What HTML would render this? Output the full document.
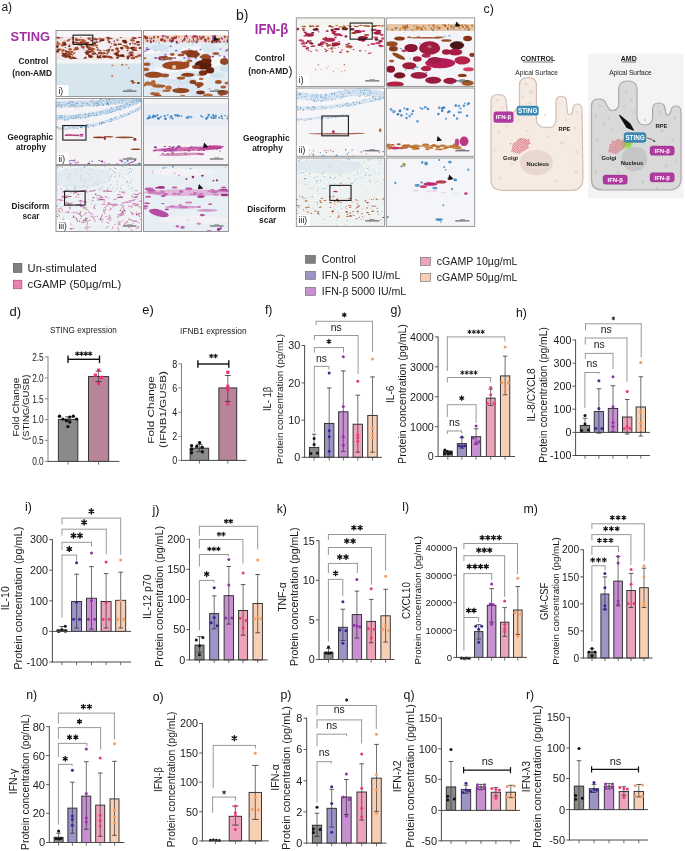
<!DOCTYPE html>
<html><head><meta charset="utf-8"><title>Figure</title>
<style>html,body{margin:0;padding:0;background:#ffffff;} svg{display:block;will-change:transform;} text{font-family:"Liberation Sans", sans-serif;}</style>
</head><body>
<svg width="685" height="851" viewBox="0 0 685 851" font-family="Liberation Sans, sans-serif">
<defs><filter id="bl35" x="-5%" y="-5%" width="110%" height="110%"><feGaussianBlur stdDeviation="0.35"/></filter><filter id="bl50" x="-5%" y="-5%" width="110%" height="110%"><feGaussianBlur stdDeviation="0.5"/></filter><filter id="bl70" x="-5%" y="-5%" width="110%" height="110%"><feGaussianBlur stdDeviation="0.7"/></filter></defs>
<rect x="0" y="0" width="685" height="851" fill="#ffffff"/>
<clipPath id="c11"><rect x="56.00" y="30.50" width="85.60" height="66.10"/></clipPath>
<g clip-path="url(#c11)">
<g filter="url(#bl35)">
<rect x="56.00" y="30.50" width="85.60" height="7.11" fill="#f6f4f6"/>
<rect x="56.00" y="37.11" width="85.60" height="22.97" fill="#f0e6e6"/>
<rect x="56.00" y="59.58" width="85.60" height="4.47" fill="#f2f4f6"/>
<rect x="56.00" y="63.55" width="85.60" height="33.55" fill="#d6e5ee"/>
<ellipse cx="94.7" cy="38.6" rx="2.26" ry="0.77" fill="#b5652e" opacity="1.0" transform="rotate(0 94.7 38.6)"/>
<ellipse cx="99.8" cy="38.8" rx="1.57" ry="0.72" fill="#c06a50" opacity="1.0" transform="rotate(0 99.8 38.8)"/>
<ellipse cx="102.1" cy="39.5" rx="2.09" ry="0.65" fill="#9a3a5a" opacity="1.0" transform="rotate(0 102.1 39.5)"/>
<ellipse cx="112.0" cy="38.7" rx="0.94" ry="0.46" fill="#a0402a" opacity="1.0" transform="rotate(0 112.0 38.7)"/>
<ellipse cx="72.3" cy="37.7" rx="1.21" ry="0.41" fill="#9a3a5a" opacity="1.0" transform="rotate(0 72.3 37.7)"/>
<ellipse cx="72.7" cy="37.7" rx="1.04" ry="0.52" fill="#a0402a" opacity="1.0" transform="rotate(0 72.7 37.7)"/>
<ellipse cx="79.8" cy="39.7" rx="2.94" ry="0.80" fill="#c06a50" opacity="1.0" transform="rotate(0 79.8 39.7)"/>
<ellipse cx="75.7" cy="37.9" rx="1.51" ry="0.43" fill="#9a3a5a" opacity="1.0" transform="rotate(0 75.7 37.9)"/>
<ellipse cx="80.9" cy="37.3" rx="1.37" ry="0.41" fill="#b5652e" opacity="1.0" transform="rotate(0 80.9 37.3)"/>
<ellipse cx="133.9" cy="38.4" rx="2.21" ry="0.79" fill="#a0402a" opacity="1.0" transform="rotate(0 133.9 38.4)"/>
<ellipse cx="73.0" cy="38.9" rx="1.40" ry="0.53" fill="#a0402a" opacity="1.0" transform="rotate(0 73.0 38.9)"/>
<ellipse cx="120.9" cy="37.4" rx="1.10" ry="0.50" fill="#a0402a" opacity="1.0" transform="rotate(0 120.9 37.4)"/>
<ellipse cx="97.7" cy="38.9" rx="1.43" ry="0.48" fill="#b5652e" opacity="1.0" transform="rotate(0 97.7 38.9)"/>
<ellipse cx="88.8" cy="38.2" rx="1.59" ry="0.80" fill="#c06a50" opacity="1.0" transform="rotate(0 88.8 38.2)"/>
<ellipse cx="57.7" cy="37.6" rx="2.56" ry="0.80" fill="#a0402a" opacity="1.0" transform="rotate(0 57.7 37.6)"/>
<ellipse cx="68.5" cy="38.3" rx="1.30" ry="0.40" fill="#c06a50" opacity="1.0" transform="rotate(0 68.5 38.3)"/>
<ellipse cx="62.4" cy="37.7" rx="1.33" ry="0.65" fill="#c06a50" opacity="1.0" transform="rotate(0 62.4 37.7)"/>
<ellipse cx="94.8" cy="39.6" rx="1.87" ry="0.59" fill="#9a3a5a" opacity="1.0" transform="rotate(0 94.8 39.6)"/>
<ellipse cx="69.2" cy="39.5" rx="1.82" ry="0.73" fill="#b5652e" opacity="1.0" transform="rotate(0 69.2 39.5)"/>
<ellipse cx="109.8" cy="38.6" rx="1.87" ry="0.67" fill="#9a3a5a" opacity="1.0" transform="rotate(0 109.8 38.6)"/>
<ellipse cx="92.1" cy="37.4" rx="1.63" ry="0.42" fill="#b5652e" opacity="1.0" transform="rotate(0 92.1 37.4)"/>
<ellipse cx="89.5" cy="38.2" rx="2.27" ry="0.76" fill="#b5652e" opacity="1.0" transform="rotate(0 89.5 38.2)"/>
<ellipse cx="139.6" cy="37.4" rx="1.96" ry="0.59" fill="#a0402a" opacity="1.0" transform="rotate(0 139.6 37.4)"/>
<ellipse cx="134.5" cy="37.6" rx="1.03" ry="0.41" fill="#9a3a5a" opacity="1.0" transform="rotate(0 134.5 37.6)"/>
<ellipse cx="60.0" cy="37.9" rx="2.42" ry="0.61" fill="#a0402a" opacity="1.0" transform="rotate(0 60.0 37.9)"/>
<ellipse cx="132.3" cy="39.7" rx="2.24" ry="0.66" fill="#b5652e" opacity="1.0" transform="rotate(0 132.3 39.7)"/>
<ellipse cx="135.1" cy="38.4" rx="1.42" ry="0.54" fill="#a0402a" opacity="1.0" transform="rotate(0 135.1 38.4)"/>
<ellipse cx="110.5" cy="38.4" rx="1.83" ry="0.69" fill="#a0402a" opacity="1.0" transform="rotate(0 110.5 38.4)"/>
<ellipse cx="102.7" cy="39.1" rx="2.64" ry="0.76" fill="#b5652e" opacity="1.0" transform="rotate(0 102.7 39.1)"/>
<ellipse cx="134.3" cy="38.0" rx="2.56" ry="0.67" fill="#9a3a5a" opacity="1.0" transform="rotate(0 134.3 38.0)"/>
<ellipse cx="58.6" cy="38.4" rx="1.35" ry="0.41" fill="#9a3a5a" opacity="1.0" transform="rotate(0 58.6 38.4)"/>
<ellipse cx="108.1" cy="37.3" rx="2.61" ry="0.66" fill="#9a3a5a" opacity="1.0" transform="rotate(0 108.1 37.3)"/>
<ellipse cx="89.3" cy="39.1" rx="1.82" ry="0.63" fill="#a0402a" opacity="1.0" transform="rotate(0 89.3 39.1)"/>
<ellipse cx="100.0" cy="37.9" rx="0.89" ry="0.44" fill="#a0402a" opacity="1.0" transform="rotate(0 100.0 37.9)"/>
<ellipse cx="108.6" cy="39.5" rx="1.02" ry="0.50" fill="#c06a50" opacity="1.0" transform="rotate(0 108.6 39.5)"/>
<ellipse cx="108.4" cy="38.5" rx="1.88" ry="0.70" fill="#9a3a5a" opacity="1.0" transform="rotate(0 108.4 38.5)"/>
<ellipse cx="76.7" cy="38.2" rx="1.63" ry="0.50" fill="#b5652e" opacity="1.0" transform="rotate(0 76.7 38.2)"/>
<ellipse cx="88.9" cy="38.7" rx="1.20" ry="0.53" fill="#9a3a5a" opacity="1.0" transform="rotate(0 88.9 38.7)"/>
<ellipse cx="132.7" cy="37.2" rx="1.69" ry="0.43" fill="#b5652e" opacity="1.0" transform="rotate(0 132.7 37.2)"/>
<ellipse cx="96.3" cy="39.6" rx="2.03" ry="0.73" fill="#9a3a5a" opacity="1.0" transform="rotate(0 96.3 39.6)"/>
<ellipse cx="117.3" cy="55.3" rx="1.52" ry="1.10" fill="#8a3020" opacity="1.0" transform="rotate(0 117.3 55.3)"/>
<ellipse cx="108.0" cy="52.3" rx="1.18" ry="0.82" fill="#b05a30" opacity="1.0" transform="rotate(0 108.0 52.3)"/>
<ellipse cx="57.6" cy="42.3" rx="0.99" ry="0.96" fill="#a04a28" opacity="1.0" transform="rotate(0 57.6 42.3)"/>
<ellipse cx="68.1" cy="40.6" rx="1.69" ry="1.10" fill="#b05a30" opacity="1.0" transform="rotate(0 68.1 40.6)"/>
<ellipse cx="110.8" cy="46.6" rx="0.82" ry="0.66" fill="#9a3a20" opacity="1.0" transform="rotate(0 110.8 46.6)"/>
<ellipse cx="117.1" cy="53.7" rx="1.07" ry="1.03" fill="#7a2a18" opacity="1.0" transform="rotate(0 117.1 53.7)"/>
<ellipse cx="85.6" cy="52.7" rx="1.77" ry="1.02" fill="#7a2a18" opacity="1.0" transform="rotate(0 85.6 52.7)"/>
<ellipse cx="123.8" cy="56.5" rx="1.42" ry="0.67" fill="#b05a30" opacity="1.0" transform="rotate(0 123.8 56.5)"/>
<ellipse cx="94.6" cy="43.4" rx="1.32" ry="1.31" fill="#6a2010" opacity="1.0" transform="rotate(0 94.6 43.4)"/>
<ellipse cx="131.3" cy="54.5" rx="2.11" ry="1.36" fill="#b05a30" opacity="1.0" transform="rotate(0 131.3 54.5)"/>
<ellipse cx="64.5" cy="55.8" rx="2.61" ry="1.24" fill="#8a3020" opacity="1.0" transform="rotate(0 64.5 55.8)"/>
<ellipse cx="133.0" cy="57.9" rx="2.27" ry="1.38" fill="#a04a28" opacity="1.0" transform="rotate(0 133.0 57.9)"/>
<ellipse cx="117.5" cy="40.0" rx="1.05" ry="1.00" fill="#a04a28" opacity="1.0" transform="rotate(0 117.5 40.0)"/>
<ellipse cx="121.8" cy="48.8" rx="1.23" ry="0.62" fill="#8a3020" opacity="1.0" transform="rotate(0 121.8 48.8)"/>
<ellipse cx="59.0" cy="49.6" rx="2.41" ry="1.15" fill="#9a3a20" opacity="1.0" transform="rotate(0 59.0 49.6)"/>
<ellipse cx="100.2" cy="53.1" rx="2.32" ry="1.27" fill="#9a3a20" opacity="1.0" transform="rotate(0 100.2 53.1)"/>
<ellipse cx="115.0" cy="53.8" rx="1.59" ry="0.95" fill="#b05a30" opacity="1.0" transform="rotate(0 115.0 53.8)"/>
<ellipse cx="70.1" cy="49.3" rx="1.73" ry="1.33" fill="#b05a30" opacity="1.0" transform="rotate(0 70.1 49.3)"/>
<ellipse cx="128.4" cy="56.4" rx="1.55" ry="0.77" fill="#6a2010" opacity="1.0" transform="rotate(0 128.4 56.4)"/>
<ellipse cx="105.0" cy="43.5" rx="1.65" ry="1.03" fill="#6a2010" opacity="1.0" transform="rotate(0 105.0 43.5)"/>
<ellipse cx="102.1" cy="40.6" rx="2.20" ry="1.33" fill="#6a2010" opacity="1.0" transform="rotate(0 102.1 40.6)"/>
<ellipse cx="64.0" cy="42.8" rx="2.09" ry="1.34" fill="#9a3a20" opacity="1.0" transform="rotate(0 64.0 42.8)"/>
<ellipse cx="96.5" cy="42.1" rx="1.87" ry="0.95" fill="#9a3a20" opacity="1.0" transform="rotate(0 96.5 42.1)"/>
<ellipse cx="65.3" cy="47.5" rx="0.82" ry="0.62" fill="#b05a30" opacity="1.0" transform="rotate(0 65.3 47.5)"/>
<ellipse cx="58.0" cy="43.3" rx="1.43" ry="0.78" fill="#a04a28" opacity="1.0" transform="rotate(0 58.0 43.3)"/>
<ellipse cx="76.9" cy="49.0" rx="1.70" ry="1.00" fill="#6a2010" opacity="1.0" transform="rotate(0 76.9 49.0)"/>
<ellipse cx="117.4" cy="52.7" rx="1.34" ry="1.30" fill="#b05a30" opacity="1.0" transform="rotate(0 117.4 52.7)"/>
<ellipse cx="101.3" cy="42.7" rx="1.34" ry="0.76" fill="#b05a30" opacity="1.0" transform="rotate(0 101.3 42.7)"/>
<ellipse cx="74.5" cy="49.8" rx="1.24" ry="1.07" fill="#b05a30" opacity="1.0" transform="rotate(0 74.5 49.8)"/>
<ellipse cx="85.8" cy="43.1" rx="2.24" ry="1.08" fill="#7a2a18" opacity="1.0" transform="rotate(0 85.8 43.1)"/>
<ellipse cx="141.5" cy="56.2" rx="0.91" ry="0.71" fill="#b05a30" opacity="1.0" transform="rotate(0 141.5 56.2)"/>
<ellipse cx="89.2" cy="47.8" rx="2.23" ry="1.35" fill="#b05a30" opacity="1.0" transform="rotate(0 89.2 47.8)"/>
<ellipse cx="90.5" cy="52.4" rx="0.76" ry="0.61" fill="#b05a30" opacity="1.0" transform="rotate(0 90.5 52.4)"/>
<ellipse cx="126.3" cy="46.4" rx="2.05" ry="1.16" fill="#a04a28" opacity="1.0" transform="rotate(0 126.3 46.4)"/>
<ellipse cx="114.7" cy="43.3" rx="0.74" ry="0.66" fill="#8a3020" opacity="1.0" transform="rotate(0 114.7 43.3)"/>
<ellipse cx="108.5" cy="56.5" rx="1.21" ry="0.99" fill="#8a3020" opacity="1.0" transform="rotate(0 108.5 56.5)"/>
<ellipse cx="127.9" cy="58.1" rx="1.49" ry="1.34" fill="#8a3020" opacity="1.0" transform="rotate(0 127.9 58.1)"/>
<ellipse cx="114.3" cy="41.2" rx="1.00" ry="0.68" fill="#9a3a20" opacity="1.0" transform="rotate(0 114.3 41.2)"/>
<ellipse cx="92.8" cy="50.9" rx="1.12" ry="0.61" fill="#7a2a18" opacity="1.0" transform="rotate(0 92.8 50.9)"/>
<ellipse cx="94.9" cy="53.4" rx="1.14" ry="0.92" fill="#7a2a18" opacity="1.0" transform="rotate(0 94.9 53.4)"/>
<ellipse cx="123.8" cy="45.7" rx="1.34" ry="0.67" fill="#b05a30" opacity="1.0" transform="rotate(0 123.8 45.7)"/>
<ellipse cx="104.8" cy="43.3" rx="1.50" ry="1.07" fill="#a04a28" opacity="1.0" transform="rotate(0 104.8 43.3)"/>
<ellipse cx="66.0" cy="53.5" rx="1.54" ry="0.73" fill="#7a2a18" opacity="1.0" transform="rotate(0 66.0 53.5)"/>
<ellipse cx="131.3" cy="52.6" rx="2.33" ry="1.21" fill="#9a3a20" opacity="1.0" transform="rotate(0 131.3 52.6)"/>
<ellipse cx="71.8" cy="54.5" rx="0.94" ry="0.84" fill="#a04a28" opacity="1.0" transform="rotate(0 71.8 54.5)"/>
<ellipse cx="133.3" cy="40.7" rx="1.76" ry="0.82" fill="#a04a28" opacity="1.0" transform="rotate(0 133.3 40.7)"/>
<ellipse cx="112.5" cy="50.3" rx="1.51" ry="1.03" fill="#9a3a20" opacity="1.0" transform="rotate(0 112.5 50.3)"/>
<ellipse cx="116.0" cy="53.9" rx="1.42" ry="1.38" fill="#6a2010" opacity="1.0" transform="rotate(0 116.0 53.9)"/>
<ellipse cx="76.3" cy="48.0" rx="1.92" ry="1.00" fill="#b05a30" opacity="1.0" transform="rotate(0 76.3 48.0)"/>
<ellipse cx="64.4" cy="44.4" rx="2.20" ry="1.32" fill="#6a2010" opacity="1.0" transform="rotate(0 64.4 44.4)"/>
<ellipse cx="100.6" cy="55.4" rx="1.04" ry="0.68" fill="#b05a30" opacity="1.0" transform="rotate(0 100.6 55.4)"/>
<ellipse cx="107.1" cy="53.8" rx="1.35" ry="0.64" fill="#7a2a18" opacity="1.0" transform="rotate(0 107.1 53.8)"/>
<ellipse cx="139.0" cy="55.6" rx="1.77" ry="1.03" fill="#9a3a20" opacity="1.0" transform="rotate(0 139.0 55.6)"/>
<ellipse cx="92.0" cy="49.5" rx="1.55" ry="1.08" fill="#a04a28" opacity="1.0" transform="rotate(0 92.0 49.5)"/>
<ellipse cx="79.1" cy="57.0" rx="2.15" ry="1.13" fill="#8a3020" opacity="1.0" transform="rotate(0 79.1 57.0)"/>
<ellipse cx="77.0" cy="40.5" rx="1.38" ry="0.73" fill="#9a3a20" opacity="1.0" transform="rotate(0 77.0 40.5)"/>
<ellipse cx="83.0" cy="47.1" rx="1.99" ry="1.07" fill="#a04a28" opacity="1.0" transform="rotate(0 83.0 47.1)"/>
<ellipse cx="133.5" cy="47.7" rx="2.13" ry="0.98" fill="#7a2a18" opacity="1.0" transform="rotate(0 133.5 47.7)"/>
<ellipse cx="64.4" cy="54.7" rx="1.56" ry="1.33" fill="#7a2a18" opacity="1.0" transform="rotate(0 64.4 54.7)"/>
<ellipse cx="65.9" cy="51.3" rx="1.20" ry="0.96" fill="#8a3020" opacity="1.0" transform="rotate(0 65.9 51.3)"/>
<ellipse cx="69.2" cy="46.5" rx="1.07" ry="0.71" fill="#6a2010" opacity="1.0" transform="rotate(0 69.2 46.5)"/>
<ellipse cx="105.8" cy="47.5" rx="2.00" ry="1.22" fill="#7a2a18" opacity="1.0" transform="rotate(0 105.8 47.5)"/>
<ellipse cx="118.9" cy="44.2" rx="1.43" ry="0.69" fill="#6a2010" opacity="1.0" transform="rotate(0 118.9 44.2)"/>
<ellipse cx="86.7" cy="44.8" rx="1.93" ry="1.15" fill="#6a2010" opacity="1.0" transform="rotate(0 86.7 44.8)"/>
<ellipse cx="79.9" cy="44.2" rx="2.18" ry="1.36" fill="#b05a30" opacity="1.0" transform="rotate(0 79.9 44.2)"/>
<ellipse cx="131.2" cy="40.5" rx="0.86" ry="0.65" fill="#9a3a20" opacity="1.0" transform="rotate(0 131.2 40.5)"/>
<ellipse cx="59.3" cy="43.9" rx="1.57" ry="0.82" fill="#b05a30" opacity="1.0" transform="rotate(0 59.3 43.9)"/>
<ellipse cx="76.1" cy="57.9" rx="1.41" ry="0.99" fill="#a04a28" opacity="1.0" transform="rotate(0 76.1 57.9)"/>
<ellipse cx="119.8" cy="55.3" rx="0.75" ry="0.66" fill="#6a2010" opacity="1.0" transform="rotate(0 119.8 55.3)"/>
<ellipse cx="121.8" cy="48.0" rx="1.76" ry="1.20" fill="#7a2a18" opacity="1.0" transform="rotate(0 121.8 48.0)"/>
<ellipse cx="112.0" cy="58.1" rx="1.43" ry="0.86" fill="#b05a30" opacity="1.0" transform="rotate(0 112.0 58.1)"/>
<ellipse cx="71.7" cy="51.9" rx="1.65" ry="1.06" fill="#a04a28" opacity="1.0" transform="rotate(0 71.7 51.9)"/>
<ellipse cx="63.1" cy="50.2" rx="1.80" ry="0.99" fill="#a04a28" opacity="1.0" transform="rotate(0 63.1 50.2)"/>
<ellipse cx="56.8" cy="45.5" rx="2.29" ry="1.33" fill="#b05a30" opacity="1.0" transform="rotate(0 56.8 45.5)"/>
<ellipse cx="118.1" cy="52.6" rx="0.97" ry="0.83" fill="#a04a28" opacity="1.0" transform="rotate(0 118.1 52.6)"/>
<ellipse cx="84.0" cy="56.5" rx="1.31" ry="0.86" fill="#6a2010" opacity="1.0" transform="rotate(0 84.0 56.5)"/>
<ellipse cx="136.5" cy="56.7" rx="1.87" ry="0.95" fill="#a04a28" opacity="1.0" transform="rotate(0 136.5 56.7)"/>
<ellipse cx="74.9" cy="57.7" rx="1.92" ry="1.18" fill="#8a3020" opacity="1.0" transform="rotate(0 74.9 57.7)"/>
<ellipse cx="87.3" cy="46.5" rx="1.34" ry="0.92" fill="#7a2a18" opacity="1.0" transform="rotate(0 87.3 46.5)"/>
<ellipse cx="87.5" cy="47.0" rx="1.24" ry="0.72" fill="#7a2a18" opacity="1.0" transform="rotate(0 87.5 47.0)"/>
<ellipse cx="121.0" cy="56.1" rx="0.85" ry="0.83" fill="#6a2010" opacity="1.0" transform="rotate(0 121.0 56.1)"/>
<ellipse cx="69.6" cy="45.2" rx="1.24" ry="0.62" fill="#9a3a20" opacity="1.0" transform="rotate(0 69.6 45.2)"/>
<ellipse cx="102.8" cy="54.3" rx="0.73" ry="0.67" fill="#b05a30" opacity="1.0" transform="rotate(0 102.8 54.3)"/>
<ellipse cx="82.9" cy="40.2" rx="1.25" ry="1.12" fill="#b05a30" opacity="1.0" transform="rotate(0 82.9 40.2)"/>
<ellipse cx="117.0" cy="48.8" rx="1.86" ry="1.33" fill="#9a3a20" opacity="1.0" transform="rotate(0 117.0 48.8)"/>
<ellipse cx="84.9" cy="57.7" rx="1.81" ry="1.14" fill="#6a2010" opacity="1.0" transform="rotate(0 84.9 57.7)"/>
<ellipse cx="62.2" cy="51.2" rx="1.22" ry="0.64" fill="#b05a30" opacity="1.0" transform="rotate(0 62.2 51.2)"/>
<ellipse cx="56.3" cy="46.7" rx="1.05" ry="0.67" fill="#6a2010" opacity="1.0" transform="rotate(0 56.3 46.7)"/>
<ellipse cx="100.8" cy="52.9" rx="1.87" ry="1.24" fill="#9a3a20" opacity="1.0" transform="rotate(0 100.8 52.9)"/>
<ellipse cx="77.0" cy="42.8" rx="2.02" ry="1.11" fill="#a04a28" opacity="1.0" transform="rotate(0 77.0 42.8)"/>
<ellipse cx="92.4" cy="45.2" rx="1.47" ry="1.38" fill="#a04a28" opacity="1.0" transform="rotate(0 92.4 45.2)"/>
<ellipse cx="82.0" cy="42.6" rx="2.80" ry="1.34" fill="#9a3a20" opacity="1.0" transform="rotate(0 82.0 42.6)"/>
<ellipse cx="97.2" cy="54.6" rx="1.05" ry="0.85" fill="#a04a28" opacity="1.0" transform="rotate(0 97.2 54.6)"/>
<ellipse cx="76.2" cy="53.0" rx="1.36" ry="1.08" fill="#7a2a18" opacity="1.0" transform="rotate(0 76.2 53.0)"/>
<ellipse cx="90.5" cy="56.6" rx="2.37" ry="1.35" fill="#6a2010" opacity="1.0" transform="rotate(0 90.5 56.6)"/>
<ellipse cx="78.3" cy="56.2" rx="1.88" ry="1.33" fill="#6a2010" opacity="1.0" transform="rotate(0 78.3 56.2)"/>
<ellipse cx="63.9" cy="55.7" rx="1.16" ry="0.92" fill="#7a2a18" opacity="1.0" transform="rotate(0 63.9 55.7)"/>
<ellipse cx="89.0" cy="49.5" rx="1.35" ry="1.01" fill="#8a3020" opacity="1.0" transform="rotate(0 89.0 49.5)"/>
<ellipse cx="76.3" cy="40.0" rx="1.41" ry="0.98" fill="#7a2a18" opacity="1.0" transform="rotate(0 76.3 40.0)"/>
<ellipse cx="107.9" cy="42.7" rx="1.01" ry="0.73" fill="#a04a28" opacity="1.0" transform="rotate(0 107.9 42.7)"/>
<ellipse cx="125.3" cy="42.2" rx="2.08" ry="1.19" fill="#6a2010" opacity="1.0" transform="rotate(0 125.3 42.2)"/>
<ellipse cx="68.9" cy="54.0" rx="1.19" ry="0.60" fill="#7a2a18" opacity="1.0" transform="rotate(0 68.9 54.0)"/>
<ellipse cx="63.1" cy="44.7" rx="1.31" ry="1.17" fill="#9a3a20" opacity="1.0" transform="rotate(0 63.1 44.7)"/>
<ellipse cx="63.1" cy="53.6" rx="1.66" ry="1.03" fill="#8a3020" opacity="1.0" transform="rotate(0 63.1 53.6)"/>
<ellipse cx="91.7" cy="56.7" rx="1.34" ry="0.67" fill="#7a2a18" opacity="1.0" transform="rotate(0 91.7 56.7)"/>
<ellipse cx="91.4" cy="48.9" rx="2.93" ry="1.36" fill="#a04a28" opacity="1.0" transform="rotate(0 91.4 48.9)"/>
<ellipse cx="62.5" cy="45.4" rx="1.81" ry="0.97" fill="#a04a28" opacity="1.0" transform="rotate(0 62.5 45.4)"/>
<ellipse cx="68.0" cy="52.1" rx="2.16" ry="1.14" fill="#8a3020" opacity="1.0" transform="rotate(0 68.0 52.1)"/>
<ellipse cx="57.1" cy="46.7" rx="1.50" ry="1.17" fill="#6a2010" opacity="1.0" transform="rotate(0 57.1 46.7)"/>
<ellipse cx="122.1" cy="55.6" rx="2.38" ry="1.28" fill="#6a2010" opacity="1.0" transform="rotate(0 122.1 55.6)"/>
<ellipse cx="109.7" cy="57.1" rx="2.57" ry="1.20" fill="#9a3a20" opacity="1.0" transform="rotate(0 109.7 57.1)"/>
<ellipse cx="63.4" cy="43.2" rx="1.02" ry="0.90" fill="#a04a28" opacity="1.0" transform="rotate(0 63.4 43.2)"/>
<ellipse cx="104.2" cy="53.1" rx="1.72" ry="0.87" fill="#8a3020" opacity="1.0" transform="rotate(0 104.2 53.1)"/>
<ellipse cx="109.2" cy="42.2" rx="1.34" ry="1.10" fill="#7a2a18" opacity="1.0" transform="rotate(0 109.2 42.2)"/>
<ellipse cx="127.6" cy="50.7" rx="0.85" ry="0.67" fill="#7a2a18" opacity="1.0" transform="rotate(0 127.6 50.7)"/>
<ellipse cx="93.1" cy="54.0" rx="1.74" ry="0.87" fill="#6a2010" opacity="1.0" transform="rotate(0 93.1 54.0)"/>
<ellipse cx="73.6" cy="42.5" rx="1.82" ry="1.15" fill="#9a3a20" opacity="1.0" transform="rotate(0 73.6 42.5)"/>
<ellipse cx="118.2" cy="51.1" rx="1.66" ry="0.85" fill="#7a2a18" opacity="1.0" transform="rotate(0 118.2 51.1)"/>
<ellipse cx="108.1" cy="40.1" rx="1.22" ry="0.86" fill="#b05a30" opacity="1.0" transform="rotate(0 108.1 40.1)"/>
<ellipse cx="103.7" cy="43.5" rx="1.17" ry="0.87" fill="#8a3020" opacity="1.0" transform="rotate(0 103.7 43.5)"/>
<ellipse cx="69.6" cy="53.9" rx="2.19" ry="1.32" fill="#a04a28" opacity="1.0" transform="rotate(0 69.6 53.9)"/>
<ellipse cx="100.0" cy="50.4" rx="1.61" ry="0.76" fill="#b05a30" opacity="1.0" transform="rotate(0 100.0 50.4)"/>
<ellipse cx="136.1" cy="50.3" rx="1.11" ry="0.62" fill="#8a3020" opacity="1.0" transform="rotate(0 136.1 50.3)"/>
<ellipse cx="96.9" cy="47.5" rx="0.96" ry="0.87" fill="#a04a28" opacity="1.0" transform="rotate(0 96.9 47.5)"/>
<ellipse cx="131.6" cy="48.1" rx="1.52" ry="1.18" fill="#6a2010" opacity="1.0" transform="rotate(0 131.6 48.1)"/>
<ellipse cx="104.0" cy="50.1" rx="1.70" ry="0.81" fill="#a04a28" opacity="1.0" transform="rotate(0 104.0 50.1)"/>
<ellipse cx="66.5" cy="55.0" rx="1.73" ry="0.83" fill="#7a2a18" opacity="1.0" transform="rotate(0 66.5 55.0)"/>
<ellipse cx="87.1" cy="42.8" rx="2.13" ry="1.08" fill="#9a3a20" opacity="1.0" transform="rotate(0 87.1 42.8)"/>
<ellipse cx="71.4" cy="58.0" rx="2.42" ry="1.35" fill="#a04a28" opacity="1.0" transform="rotate(0 71.4 58.0)"/>
<ellipse cx="128.5" cy="56.5" rx="1.93" ry="1.09" fill="#8a3020" opacity="1.0" transform="rotate(0 128.5 56.5)"/>
<ellipse cx="91.3" cy="40.4" rx="1.17" ry="1.02" fill="#9a3a20" opacity="1.0" transform="rotate(0 91.3 40.4)"/>
<ellipse cx="100.5" cy="44.6" rx="1.47" ry="1.05" fill="#b05a30" opacity="1.0" transform="rotate(0 100.5 44.6)"/>
<ellipse cx="117.8" cy="54.3" rx="1.47" ry="0.92" fill="#8a3020" opacity="1.0" transform="rotate(0 117.8 54.3)"/>
<ellipse cx="91.2" cy="51.3" rx="2.20" ry="1.15" fill="#a04a28" opacity="1.0" transform="rotate(0 91.2 51.3)"/>
<ellipse cx="141.1" cy="55.3" rx="1.91" ry="1.28" fill="#9a3a20" opacity="1.0" transform="rotate(0 141.1 55.3)"/>
<ellipse cx="65.8" cy="57.1" rx="1.40" ry="0.86" fill="#9a3a20" opacity="1.0" transform="rotate(0 65.8 57.1)"/>
<ellipse cx="83.5" cy="40.8" rx="2.46" ry="1.18" fill="#b05a30" opacity="1.0" transform="rotate(0 83.5 40.8)"/>
<ellipse cx="83.6" cy="54.4" rx="2.68" ry="1.31" fill="#7a2a18" opacity="1.0" transform="rotate(0 83.6 54.4)"/>
<ellipse cx="94.3" cy="49.1" rx="0.97" ry="0.92" fill="#b05a30" opacity="1.0" transform="rotate(0 94.3 49.1)"/>
<ellipse cx="133.9" cy="49.8" rx="2.40" ry="1.13" fill="#8a3020" opacity="1.0" transform="rotate(0 133.9 49.8)"/>
<ellipse cx="118.6" cy="55.9" rx="1.48" ry="0.90" fill="#6a2010" opacity="1.0" transform="rotate(0 118.6 55.9)"/>
<ellipse cx="75.0" cy="53.6" rx="2.20" ry="1.05" fill="#8a3020" opacity="1.0" transform="rotate(0 75.0 53.6)"/>
<ellipse cx="67.1" cy="56.1" rx="1.64" ry="1.06" fill="#a04a28" opacity="1.0" transform="rotate(0 67.1 56.1)"/>
<ellipse cx="81.6" cy="45.8" rx="1.35" ry="0.65" fill="#6a2010" opacity="1.0" transform="rotate(0 81.6 45.8)"/>
<ellipse cx="86.5" cy="50.6" rx="0.66" ry="0.64" fill="#a04a28" opacity="1.0" transform="rotate(0 86.5 50.6)"/>
<ellipse cx="98.7" cy="57.0" rx="2.17" ry="1.38" fill="#7a2a18" opacity="1.0" transform="rotate(0 98.7 57.0)"/>
<ellipse cx="129.5" cy="52.6" rx="0.89" ry="0.65" fill="#a04a28" opacity="1.0" transform="rotate(0 129.5 52.6)"/>
<ellipse cx="57.4" cy="51.5" rx="1.94" ry="1.16" fill="#6a2010" opacity="1.0" transform="rotate(0 57.4 51.5)"/>
<ellipse cx="72.4" cy="56.0" rx="0.72" ry="0.64" fill="#b05a30" opacity="1.0" transform="rotate(0 72.4 56.0)"/>
<ellipse cx="138.3" cy="44.8" rx="1.92" ry="0.94" fill="#a04a28" opacity="1.0" transform="rotate(0 138.3 44.8)"/>
<ellipse cx="136.3" cy="48.0" rx="0.84" ry="0.66" fill="#a04a28" opacity="1.0" transform="rotate(0 136.3 48.0)"/>
<ellipse cx="115.2" cy="44.7" rx="1.88" ry="1.18" fill="#a04a28" opacity="1.0" transform="rotate(0 115.2 44.7)"/>
<ellipse cx="87.9" cy="52.0" rx="2.23" ry="1.31" fill="#7a2a18" opacity="1.0" transform="rotate(0 87.9 52.0)"/>
<ellipse cx="132.7" cy="43.1" rx="0.90" ry="0.78" fill="#b05a30" opacity="1.0" transform="rotate(0 132.7 43.1)"/>
<ellipse cx="140.1" cy="47.9" rx="1.67" ry="1.02" fill="#8a3020" opacity="1.0" transform="rotate(0 140.1 47.9)"/>
<ellipse cx="106.2" cy="49.7" rx="1.58" ry="0.94" fill="#7a2a18" opacity="1.0" transform="rotate(0 106.2 49.7)"/>
<ellipse cx="120.7" cy="44.3" rx="1.36" ry="0.82" fill="#7a2a18" opacity="1.0" transform="rotate(0 120.7 44.3)"/>
<ellipse cx="68.9" cy="56.4" rx="2.30" ry="1.10" fill="#6a2010" opacity="1.0" transform="rotate(0 68.9 56.4)"/>
<ellipse cx="135.5" cy="49.0" rx="1.24" ry="0.74" fill="#b05a30" opacity="1.0" transform="rotate(0 135.5 49.0)"/>
<ellipse cx="83.5" cy="48.7" rx="0.84" ry="0.63" fill="#b05a30" opacity="1.0" transform="rotate(0 83.5 48.7)"/>
<ellipse cx="100.6" cy="57.4" rx="1.43" ry="0.74" fill="#7a2a18" opacity="1.0" transform="rotate(0 100.6 57.4)"/>
<ellipse cx="93.3" cy="52.1" rx="1.36" ry="1.04" fill="#b05a30" opacity="1.0" transform="rotate(0 93.3 52.1)"/>
<ellipse cx="76.2" cy="48.8" rx="1.32" ry="0.78" fill="#9a3a20" opacity="1.0" transform="rotate(0 76.2 48.8)"/>
<ellipse cx="73.3" cy="57.7" rx="0.99" ry="0.64" fill="#7a2a18" opacity="1.0" transform="rotate(0 73.3 57.7)"/>
<ellipse cx="108.1" cy="51.0" rx="2.00" ry="1.24" fill="#b05a30" opacity="1.0" transform="rotate(0 108.1 51.0)"/>
<ellipse cx="124.4" cy="41.1" rx="2.23" ry="1.33" fill="#6a2010" opacity="1.0" transform="rotate(0 124.4 41.1)"/>
<ellipse cx="117.8" cy="51.3" rx="0.97" ry="0.64" fill="#b05a30" opacity="1.0" transform="rotate(0 117.8 51.3)"/>
<ellipse cx="109.2" cy="49.5" rx="1.39" ry="0.81" fill="#8a3020" opacity="1.0" transform="rotate(0 109.2 49.5)"/>
<ellipse cx="99.7" cy="46.8" rx="1.27" ry="0.80" fill="#b05a30" opacity="1.0" transform="rotate(0 99.7 46.8)"/>
<ellipse cx="123.3" cy="40.9" rx="1.33" ry="0.93" fill="#7a2a18" opacity="1.0" transform="rotate(0 123.3 40.9)"/>
<ellipse cx="137.9" cy="42.1" rx="2.07" ry="1.20" fill="#7a2a18" opacity="1.0" transform="rotate(0 137.9 42.1)"/>
<ellipse cx="95.0" cy="53.5" rx="0.81" ry="0.63" fill="#6a2010" opacity="1.0" transform="rotate(0 95.0 53.5)"/>
<ellipse cx="89.6" cy="45.3" rx="1.03" ry="0.94" fill="#8a3020" opacity="1.0" transform="rotate(0 89.6 45.3)"/>
<ellipse cx="117.4" cy="57.8" rx="1.48" ry="1.09" fill="#8a3020" opacity="1.0" transform="rotate(0 117.4 57.8)"/>
<ellipse cx="76.7" cy="48.3" rx="1.93" ry="1.35" fill="#a04a28" opacity="1.0" transform="rotate(0 76.7 48.3)"/>
<ellipse cx="135.0" cy="43.8" rx="1.24" ry="0.73" fill="#8a3020" opacity="1.0" transform="rotate(0 135.0 43.8)"/>
<ellipse cx="104.6" cy="56.6" rx="2.76" ry="1.31" fill="#7a2a18" opacity="1.0" transform="rotate(0 104.6 56.6)"/>
<ellipse cx="89.6" cy="55.4" rx="1.75" ry="0.90" fill="#7a2a18" opacity="1.0" transform="rotate(0 89.6 55.4)"/>
<ellipse cx="77.1" cy="54.4" rx="1.96" ry="1.24" fill="#9a3a20" opacity="1.0" transform="rotate(0 77.1 54.4)"/>
<ellipse cx="96.0" cy="45.5" rx="2.10" ry="0.96" fill="#b05a30" opacity="1.0" transform="rotate(0 96.0 45.5)"/>
<ellipse cx="97.7" cy="49.8" rx="0.99" ry="0.94" fill="#a04a28" opacity="1.0" transform="rotate(0 97.7 49.8)"/>
<ellipse cx="79.5" cy="40.1" rx="0.98" ry="0.75" fill="#9a3a20" opacity="1.0" transform="rotate(0 79.5 40.1)"/>
<ellipse cx="111.6" cy="43.8" rx="0.73" ry="0.68" fill="#b05a30" opacity="1.0" transform="rotate(0 111.6 43.8)"/>
<ellipse cx="86.8" cy="53.9" rx="2.46" ry="1.18" fill="#8a3020" opacity="1.0" transform="rotate(0 86.8 53.9)"/>
<ellipse cx="127.8" cy="48.1" rx="1.87" ry="1.28" fill="#a04a28" opacity="1.0" transform="rotate(0 127.8 48.1)"/>
<ellipse cx="100.5" cy="40.8" rx="1.18" ry="0.92" fill="#8a3020" opacity="1.0" transform="rotate(0 100.5 40.8)"/>
<ellipse cx="100.0" cy="42.1" rx="1.14" ry="0.77" fill="#9a3a20" opacity="1.0" transform="rotate(0 100.0 42.1)"/>
<ellipse cx="67.6" cy="52.8" rx="1.51" ry="0.81" fill="#b05a30" opacity="1.0" transform="rotate(0 67.6 52.8)"/>
<ellipse cx="131.3" cy="55.2" rx="1.58" ry="1.03" fill="#7a2a18" opacity="1.0" transform="rotate(0 131.3 55.2)"/>
<ellipse cx="130.1" cy="43.9" rx="1.18" ry="0.83" fill="#7a2a18" opacity="1.0" transform="rotate(0 130.1 43.9)"/>
<circle cx="128.6" cy="53.7" r="0.49" fill="#7d4fb0" opacity="1.0"/>
<circle cx="61.7" cy="55.6" r="0.52" fill="#8a5fc0" opacity="1.0"/>
<circle cx="130.3" cy="44.6" r="0.55" fill="#c090c0" opacity="1.0"/>
<circle cx="98.2" cy="49.2" r="0.67" fill="#7d4fb0" opacity="1.0"/>
<circle cx="135.2" cy="44.0" r="0.61" fill="#9b6fd0" opacity="1.0"/>
<circle cx="119.6" cy="56.6" r="0.62" fill="#7d4fb0" opacity="1.0"/>
<circle cx="103.4" cy="52.9" r="0.31" fill="#7d4fb0" opacity="1.0"/>
<circle cx="134.1" cy="45.3" r="0.45" fill="#7d4fb0" opacity="1.0"/>
<circle cx="83.9" cy="44.9" r="0.31" fill="#7d4fb0" opacity="1.0"/>
<circle cx="78.4" cy="52.3" r="0.37" fill="#7d4fb0" opacity="1.0"/>
<circle cx="87.0" cy="50.7" r="0.68" fill="#8a5fc0" opacity="1.0"/>
<circle cx="91.2" cy="47.8" r="0.41" fill="#c090c0" opacity="1.0"/>
<circle cx="133.9" cy="41.1" r="0.35" fill="#7d4fb0" opacity="1.0"/>
<circle cx="96.5" cy="40.8" r="0.54" fill="#7d4fb0" opacity="1.0"/>
<circle cx="76.1" cy="40.4" r="0.52" fill="#9b6fd0" opacity="1.0"/>
<circle cx="128.7" cy="54.1" r="0.33" fill="#7d4fb0" opacity="1.0"/>
<circle cx="64.9" cy="40.8" r="0.62" fill="#c090c0" opacity="1.0"/>
<circle cx="138.5" cy="55.1" r="0.36" fill="#c090c0" opacity="1.0"/>
<circle cx="81.1" cy="47.8" r="0.45" fill="#c090c0" opacity="1.0"/>
<circle cx="77.3" cy="46.2" r="0.37" fill="#9b6fd0" opacity="1.0"/>
<circle cx="140.7" cy="55.0" r="0.65" fill="#c090c0" opacity="1.0"/>
<circle cx="114.1" cy="41.1" r="0.55" fill="#c090c0" opacity="1.0"/>
<circle cx="77.7" cy="49.5" r="0.62" fill="#7d4fb0" opacity="1.0"/>
<circle cx="114.5" cy="43.7" r="0.64" fill="#9b6fd0" opacity="1.0"/>
<circle cx="92.0" cy="53.0" r="0.55" fill="#9b6fd0" opacity="1.0"/>
<circle cx="88.3" cy="52.4" r="0.39" fill="#8a5fc0" opacity="1.0"/>
<circle cx="115.4" cy="54.5" r="0.67" fill="#7d4fb0" opacity="1.0"/>
<circle cx="110.1" cy="47.5" r="0.67" fill="#8a5fc0" opacity="1.0"/>
<circle cx="141.4" cy="56.0" r="0.38" fill="#8a5fc0" opacity="1.0"/>
<circle cx="133.4" cy="55.3" r="0.64" fill="#8a5fc0" opacity="1.0"/>
<ellipse cx="134.8" cy="82.5" rx="0.89" ry="0.64" fill="#c07038" opacity="1.0" transform="rotate(0 134.8 82.5)"/>
<ellipse cx="112.2" cy="75.8" rx="1.02" ry="0.84" fill="#b5652e" opacity="1.0" transform="rotate(0 112.2 75.8)"/>
<ellipse cx="112.4" cy="65.4" rx="1.07" ry="0.55" fill="#b5652e" opacity="1.0" transform="rotate(0 112.4 65.4)"/>
<ellipse cx="122.2" cy="64.8" rx="1.20" ry="0.94" fill="#c07038" opacity="1.0" transform="rotate(0 122.2 64.8)"/>
<ellipse cx="128.8" cy="68.0" rx="0.91" ry="0.61" fill="#b5652e" opacity="1.0" transform="rotate(0 128.8 68.0)"/>
<ellipse cx="126.5" cy="64.8" rx="0.89" ry="0.50" fill="#a0522d" opacity="1.0" transform="rotate(0 126.5 64.8)"/>
<ellipse cx="132.2" cy="81.1" rx="1.87" ry="0.94" fill="#8b3a1a" opacity="1.0" transform="rotate(0 132.2 81.1)"/>
<ellipse cx="133.0" cy="82.9" rx="1.25" ry="0.82" fill="#8b3a1a" opacity="1.0" transform="rotate(0 133.0 82.9)"/>
<ellipse cx="138.4" cy="83.0" rx="1.72" ry="1.00" fill="#8b3a1a" opacity="1.0" transform="rotate(0 138.4 83.0)"/>
<ellipse cx="103.9" cy="45.7" rx="5.99" ry="4.63" fill="#f4eef2" opacity="1" transform="rotate(0 103.9 45.7)"/>
<ellipse cx="80.0" cy="55.0" rx="5.99" ry="3.97" fill="#f2eef3" opacity="1" transform="rotate(0 80.0 55.0)"/>
<ellipse cx="64.6" cy="38.4" rx="5.14" ry="1.32" fill="#f4eef2" opacity="0.6" transform="rotate(0 64.6 38.4)"/>
</g>
<rect x="73.12" y="35.13" width="19.69" height="9.25" fill="none" stroke="#1a1a1a" stroke-width="1.1"/>
<rect x="56.50" y="85.10" width="12.00" height="11.50" fill="#ffffff"/>
<text x="58.50" y="93.60" font-size="8.3" text-anchor="start" fill="#111">i)</text>
<line x1="122.77" y1="91.10" x2="136.46" y2="91.10" stroke="#333" stroke-width="0.9"/>
<line x1="127.05" y1="89.80" x2="132.18" y2="89.80" stroke="#666" stroke-width="0.6"/>
</g>
<rect x="56.00" y="30.50" width="85.60" height="66.10" fill="none" stroke="#8c8c8c" stroke-width="0.9"/>
<clipPath id="c12"><rect x="143.50" y="30.50" width="85.10" height="66.10"/></clipPath>
<g clip-path="url(#c12)">
<g filter="url(#bl50)">
<rect x="143.50" y="30.50" width="85.10" height="5.13" fill="#fbf9fa"/>
<rect x="143.50" y="35.13" width="85.10" height="7.77" fill="#ecd4cc"/>
<rect x="143.50" y="42.40" width="85.10" height="54.70" fill="#e4ecf4"/>
<ellipse cx="183.9" cy="40.1" rx="0.83" ry="1.27" fill="#a04020" opacity="1.0" transform="rotate(0 183.9 40.1)"/>
<ellipse cx="184.6" cy="40.0" rx="1.06" ry="1.12" fill="#b0502a" opacity="1.0" transform="rotate(0 184.6 40.0)"/>
<ellipse cx="199.8" cy="36.7" rx="0.74" ry="1.11" fill="#b0502a" opacity="1.0" transform="rotate(0 199.8 36.7)"/>
<ellipse cx="213.2" cy="36.3" rx="0.94" ry="1.28" fill="#b04080" opacity="1.0" transform="rotate(0 213.2 36.3)"/>
<ellipse cx="150.9" cy="41.9" rx="1.19" ry="1.37" fill="#b0502a" opacity="1.0" transform="rotate(0 150.9 41.9)"/>
<ellipse cx="227.5" cy="42.0" rx="0.68" ry="0.88" fill="#b0502a" opacity="1.0" transform="rotate(0 227.5 42.0)"/>
<ellipse cx="218.6" cy="39.5" rx="1.42" ry="1.48" fill="#8a3018" opacity="1.0" transform="rotate(0 218.6 39.5)"/>
<ellipse cx="212.9" cy="38.4" rx="0.92" ry="1.09" fill="#b04080" opacity="1.0" transform="rotate(0 212.9 38.4)"/>
<ellipse cx="189.6" cy="40.0" rx="0.58" ry="0.86" fill="#8a2a40" opacity="1.0" transform="rotate(0 189.6 40.0)"/>
<ellipse cx="173.8" cy="38.2" rx="1.12" ry="1.28" fill="#a04020" opacity="1.0" transform="rotate(0 173.8 38.2)"/>
<ellipse cx="172.0" cy="38.2" rx="1.09" ry="1.20" fill="#b0502a" opacity="1.0" transform="rotate(0 172.0 38.2)"/>
<ellipse cx="213.5" cy="38.6" rx="0.80" ry="1.16" fill="#b04080" opacity="1.0" transform="rotate(0 213.5 38.6)"/>
<ellipse cx="160.9" cy="39.8" rx="0.91" ry="1.33" fill="#a04020" opacity="1.0" transform="rotate(0 160.9 39.8)"/>
<ellipse cx="146.6" cy="37.6" rx="0.89" ry="1.04" fill="#a04020" opacity="1.0" transform="rotate(0 146.6 37.6)"/>
<ellipse cx="174.8" cy="38.0" rx="0.98" ry="1.12" fill="#8a2a40" opacity="1.0" transform="rotate(0 174.8 38.0)"/>
<ellipse cx="224.8" cy="36.9" rx="1.08" ry="1.45" fill="#b0502a" opacity="1.0" transform="rotate(0 224.8 36.9)"/>
<ellipse cx="162.2" cy="39.8" rx="1.41" ry="1.46" fill="#8a2a40" opacity="1.0" transform="rotate(0 162.2 39.8)"/>
<ellipse cx="164.1" cy="35.8" rx="0.70" ry="0.83" fill="#a03060" opacity="1.0" transform="rotate(0 164.1 35.8)"/>
<ellipse cx="186.4" cy="35.9" rx="0.94" ry="1.03" fill="#8a2a40" opacity="1.0" transform="rotate(0 186.4 35.9)"/>
<ellipse cx="153.6" cy="41.0" rx="0.92" ry="1.15" fill="#a03060" opacity="1.0" transform="rotate(0 153.6 41.0)"/>
<ellipse cx="224.1" cy="41.7" rx="0.65" ry="0.91" fill="#8a2a40" opacity="1.0" transform="rotate(0 224.1 41.7)"/>
<ellipse cx="171.6" cy="41.5" rx="0.97" ry="1.25" fill="#8a2a40" opacity="1.0" transform="rotate(0 171.6 41.5)"/>
<ellipse cx="167.8" cy="37.5" rx="1.12" ry="1.28" fill="#b0502a" opacity="1.0" transform="rotate(0 167.8 37.5)"/>
<ellipse cx="166.1" cy="36.7" rx="0.74" ry="0.94" fill="#a04020" opacity="1.0" transform="rotate(0 166.1 36.7)"/>
<ellipse cx="196.7" cy="41.9" rx="1.33" ry="1.47" fill="#b04080" opacity="1.0" transform="rotate(0 196.7 41.9)"/>
<ellipse cx="151.4" cy="38.5" rx="0.77" ry="0.94" fill="#a03060" opacity="1.0" transform="rotate(0 151.4 38.5)"/>
<ellipse cx="176.3" cy="36.9" rx="0.85" ry="1.28" fill="#a04020" opacity="1.0" transform="rotate(0 176.3 36.9)"/>
<ellipse cx="219.9" cy="41.8" rx="1.08" ry="1.17" fill="#b04080" opacity="1.0" transform="rotate(0 219.9 41.8)"/>
<ellipse cx="203.9" cy="37.0" rx="0.91" ry="0.99" fill="#c07030" opacity="1.0" transform="rotate(0 203.9 37.0)"/>
<ellipse cx="196.4" cy="36.6" rx="1.03" ry="1.17" fill="#b04080" opacity="1.0" transform="rotate(0 196.4 36.6)"/>
<ellipse cx="149.6" cy="38.1" rx="0.63" ry="0.86" fill="#c07030" opacity="1.0" transform="rotate(0 149.6 38.1)"/>
<ellipse cx="170.1" cy="40.4" rx="1.15" ry="1.33" fill="#b04080" opacity="1.0" transform="rotate(0 170.1 40.4)"/>
<ellipse cx="146.0" cy="39.0" rx="0.75" ry="1.11" fill="#c07030" opacity="1.0" transform="rotate(0 146.0 39.0)"/>
<ellipse cx="182.4" cy="41.6" rx="0.60" ry="0.87" fill="#a03060" opacity="1.0" transform="rotate(0 182.4 41.6)"/>
<ellipse cx="215.7" cy="40.3" rx="0.81" ry="1.01" fill="#b0502a" opacity="1.0" transform="rotate(0 215.7 40.3)"/>
<ellipse cx="202.9" cy="36.9" rx="0.95" ry="1.13" fill="#8a2a40" opacity="1.0" transform="rotate(0 202.9 36.9)"/>
<ellipse cx="182.7" cy="41.0" rx="0.76" ry="0.83" fill="#b04080" opacity="1.0" transform="rotate(0 182.7 41.0)"/>
<ellipse cx="208.3" cy="38.4" rx="1.10" ry="1.27" fill="#a04020" opacity="1.0" transform="rotate(0 208.3 38.4)"/>
<ellipse cx="201.4" cy="38.1" rx="0.96" ry="1.31" fill="#b04080" opacity="1.0" transform="rotate(0 201.4 38.1)"/>
<ellipse cx="197.3" cy="36.9" rx="1.04" ry="1.13" fill="#b0502a" opacity="1.0" transform="rotate(0 197.3 36.9)"/>
<ellipse cx="147.4" cy="41.1" rx="0.97" ry="1.00" fill="#8a3018" opacity="1.0" transform="rotate(0 147.4 41.1)"/>
<ellipse cx="212.7" cy="41.0" rx="0.81" ry="1.23" fill="#a03060" opacity="1.0" transform="rotate(0 212.7 41.0)"/>
<ellipse cx="215.2" cy="39.8" rx="1.03" ry="1.35" fill="#8a3018" opacity="1.0" transform="rotate(0 215.2 39.8)"/>
<ellipse cx="172.4" cy="40.9" rx="1.12" ry="1.14" fill="#8a2a40" opacity="1.0" transform="rotate(0 172.4 40.9)"/>
<ellipse cx="158.0" cy="37.1" rx="0.97" ry="0.98" fill="#8a3018" opacity="1.0" transform="rotate(0 158.0 37.1)"/>
<ellipse cx="217.4" cy="40.1" rx="1.17" ry="1.32" fill="#c07030" opacity="1.0" transform="rotate(0 217.4 40.1)"/>
<ellipse cx="209.1" cy="41.5" rx="0.97" ry="1.02" fill="#c07030" opacity="1.0" transform="rotate(0 209.1 41.5)"/>
<ellipse cx="145.6" cy="37.8" rx="0.54" ry="0.81" fill="#b0502a" opacity="1.0" transform="rotate(0 145.6 37.8)"/>
<ellipse cx="212.3" cy="41.9" rx="1.35" ry="1.49" fill="#8a3018" opacity="1.0" transform="rotate(0 212.3 41.9)"/>
<ellipse cx="195.1" cy="36.5" rx="1.04" ry="1.28" fill="#b04080" opacity="1.0" transform="rotate(0 195.1 36.5)"/>
<ellipse cx="144.0" cy="36.6" rx="0.85" ry="1.07" fill="#a03060" opacity="1.0" transform="rotate(0 144.0 36.6)"/>
<ellipse cx="197.5" cy="38.4" rx="0.88" ry="1.09" fill="#c07030" opacity="1.0" transform="rotate(0 197.5 38.4)"/>
<ellipse cx="145.2" cy="36.8" rx="0.99" ry="1.33" fill="#a04020" opacity="1.0" transform="rotate(0 145.2 36.8)"/>
<ellipse cx="201.6" cy="38.6" rx="0.91" ry="1.08" fill="#8a2a40" opacity="1.0" transform="rotate(0 201.6 38.6)"/>
<ellipse cx="221.5" cy="38.1" rx="0.74" ry="0.96" fill="#8a2a40" opacity="1.0" transform="rotate(0 221.5 38.1)"/>
<ellipse cx="144.2" cy="37.4" rx="0.77" ry="0.88" fill="#8a3018" opacity="1.0" transform="rotate(0 144.2 37.4)"/>
<ellipse cx="205.3" cy="40.1" rx="1.38" ry="1.39" fill="#8a3018" opacity="1.0" transform="rotate(0 205.3 40.1)"/>
<ellipse cx="222.3" cy="38.9" rx="0.85" ry="0.94" fill="#b04080" opacity="1.0" transform="rotate(0 222.3 38.9)"/>
<ellipse cx="214.2" cy="41.1" rx="0.93" ry="1.07" fill="#a03060" opacity="1.0" transform="rotate(0 214.2 41.1)"/>
<ellipse cx="227.5" cy="40.8" rx="1.08" ry="1.45" fill="#a03060" opacity="1.0" transform="rotate(0 227.5 40.8)"/>
<ellipse cx="184.8" cy="36.7" rx="0.68" ry="0.99" fill="#a04020" opacity="1.0" transform="rotate(0 184.8 36.7)"/>
<ellipse cx="205.7" cy="41.2" rx="0.98" ry="1.33" fill="#b04080" opacity="1.0" transform="rotate(0 205.7 41.2)"/>
<ellipse cx="218.5" cy="41.2" rx="0.99" ry="1.04" fill="#c07030" opacity="1.0" transform="rotate(0 218.5 41.2)"/>
<ellipse cx="174.3" cy="37.3" rx="0.90" ry="1.07" fill="#b0502a" opacity="1.0" transform="rotate(0 174.3 37.3)"/>
<ellipse cx="200.2" cy="38.7" rx="0.73" ry="1.00" fill="#a04020" opacity="1.0" transform="rotate(0 200.2 38.7)"/>
<ellipse cx="193.4" cy="39.0" rx="0.70" ry="1.05" fill="#8a3018" opacity="1.0" transform="rotate(0 193.4 39.0)"/>
<ellipse cx="175.7" cy="37.8" rx="1.05" ry="1.05" fill="#a03060" opacity="1.0" transform="rotate(0 175.7 37.8)"/>
<ellipse cx="194.4" cy="36.3" rx="1.18" ry="1.24" fill="#a03060" opacity="1.0" transform="rotate(0 194.4 36.3)"/>
<ellipse cx="195.9" cy="41.5" rx="0.66" ry="0.90" fill="#c07030" opacity="1.0" transform="rotate(0 195.9 41.5)"/>
<ellipse cx="147.1" cy="38.0" rx="1.10" ry="1.18" fill="#8a3018" opacity="1.0" transform="rotate(0 147.1 38.0)"/>
<ellipse cx="164.8" cy="41.1" rx="1.30" ry="1.49" fill="#b0502a" opacity="1.0" transform="rotate(0 164.8 41.1)"/>
<ellipse cx="162.9" cy="36.2" rx="0.87" ry="1.28" fill="#a03060" opacity="1.0" transform="rotate(0 162.9 36.2)"/>
<ellipse cx="197.7" cy="39.7" rx="1.12" ry="1.14" fill="#b04080" opacity="1.0" transform="rotate(0 197.7 39.7)"/>
<ellipse cx="184.7" cy="38.7" rx="0.76" ry="1.07" fill="#8a2a40" opacity="1.0" transform="rotate(0 184.7 38.7)"/>
<ellipse cx="193.7" cy="41.0" rx="0.98" ry="1.14" fill="#c07030" opacity="1.0" transform="rotate(0 193.7 41.0)"/>
<ellipse cx="204.3" cy="38.1" rx="0.62" ry="1.01" fill="#c07030" opacity="1.0" transform="rotate(0 204.3 38.1)"/>
<ellipse cx="176.7" cy="42.2" rx="0.95" ry="1.43" fill="#8a2a40" opacity="1.0" transform="rotate(0 176.7 42.2)"/>
<ellipse cx="192.6" cy="37.0" rx="1.02" ry="1.10" fill="#b0502a" opacity="1.0" transform="rotate(0 192.6 37.0)"/>
<ellipse cx="153.4" cy="37.8" rx="0.59" ry="0.91" fill="#8a2a40" opacity="1.0" transform="rotate(0 153.4 37.8)"/>
<ellipse cx="187.1" cy="37.8" rx="0.59" ry="0.87" fill="#8a2a40" opacity="1.0" transform="rotate(0 187.1 37.8)"/>
<ellipse cx="216.7" cy="41.8" rx="1.18" ry="1.45" fill="#a03060" opacity="1.0" transform="rotate(0 216.7 41.8)"/>
<ellipse cx="154.2" cy="37.2" rx="0.89" ry="1.39" fill="#b0502a" opacity="1.0" transform="rotate(0 154.2 37.2)"/>
<ellipse cx="188.9" cy="41.8" rx="0.74" ry="0.88" fill="#b0502a" opacity="1.0" transform="rotate(0 188.9 41.8)"/>
<ellipse cx="191.8" cy="41.4" rx="0.61" ry="0.84" fill="#b04080" opacity="1.0" transform="rotate(0 191.8 41.4)"/>
<ellipse cx="215.1" cy="36.3" rx="1.14" ry="1.18" fill="#b04080" opacity="1.0" transform="rotate(0 215.1 36.3)"/>
<ellipse cx="215.2" cy="41.7" rx="0.97" ry="1.18" fill="#8a2a40" opacity="1.0" transform="rotate(0 215.2 41.7)"/>
<ellipse cx="178.8" cy="36.7" rx="0.65" ry="1.03" fill="#c07030" opacity="1.0" transform="rotate(0 178.8 36.7)"/>
<ellipse cx="227.8" cy="37.2" rx="1.00" ry="1.09" fill="#c07030" opacity="1.0" transform="rotate(0 227.8 37.2)"/>
<ellipse cx="150.4" cy="40.3" rx="0.59" ry="0.83" fill="#a03060" opacity="1.0" transform="rotate(0 150.4 40.3)"/>
<ellipse cx="173.0" cy="40.1" rx="0.89" ry="1.38" fill="#8a2a40" opacity="1.0" transform="rotate(0 173.0 40.1)"/>
<ellipse cx="194.8" cy="49.9" rx="13.56" ry="2.95" fill="#f8f8fb" opacity="1.0" transform="rotate(0 194.8 49.9)"/>
<ellipse cx="219.9" cy="60.1" rx="16.37" ry="2.98" fill="#f8f8fb" opacity="1.0" transform="rotate(0 219.9 60.1)"/>
<ellipse cx="167.5" cy="70.1" rx="13.41" ry="2.55" fill="#f8f8fb" opacity="1.0" transform="rotate(0 167.5 70.1)"/>
<ellipse cx="167.8" cy="78.7" rx="7.54" ry="2.15" fill="#f8f8fb" opacity="1.0" transform="rotate(0 167.8 78.7)"/>
<ellipse cx="173.7" cy="57.3" rx="9.96" ry="2.42" fill="#f8f8fb" opacity="1.0" transform="rotate(0 173.7 57.3)"/>
<ellipse cx="191.7" cy="68.7" rx="13.68" ry="2.29" fill="#f8f8fb" opacity="1.0" transform="rotate(0 191.7 68.7)"/>
<ellipse cx="217.7" cy="58.3" rx="9.22" ry="2.91" fill="#f8f8fb" opacity="1.0" transform="rotate(0 217.7 58.3)"/>
<ellipse cx="189.9" cy="79.9" rx="16.06" ry="2.84" fill="#f8f8fb" opacity="1.0" transform="rotate(0 189.9 79.9)"/>
<ellipse cx="149.1" cy="51.8" rx="11.71" ry="2.15" fill="#f8f8fb" opacity="1.0" transform="rotate(0 149.1 51.8)"/>
<ellipse cx="209.8" cy="64.0" rx="11.33" ry="2.87" fill="#f8f8fb" opacity="1.0" transform="rotate(0 209.8 64.0)"/>
<ellipse cx="227.5" cy="58.3" rx="14.46" ry="2.54" fill="#f8f8fb" opacity="1.0" transform="rotate(0 227.5 58.3)"/>
<ellipse cx="213.8" cy="74.7" rx="12.15" ry="2.24" fill="#f8f8fb" opacity="1.0" transform="rotate(0 213.8 74.7)"/>
<ellipse cx="200.8" cy="73.7" rx="4.26" ry="1.93" fill="#a85a30" opacity="1.0" transform="rotate(0 200.8 73.7)"/>
<ellipse cx="201.2" cy="79.0" rx="2.37" ry="1.20" fill="#b86a3a" opacity="1.0" transform="rotate(0 201.2 79.0)"/>
<ellipse cx="153.3" cy="81.6" rx="2.21" ry="1.26" fill="#a85a30" opacity="1.0" transform="rotate(0 153.3 81.6)"/>
<ellipse cx="227.6" cy="83.0" rx="3.13" ry="1.62" fill="#b86a3a" opacity="1.0" transform="rotate(0 227.6 83.0)"/>
<ellipse cx="157.9" cy="90.0" rx="2.83" ry="1.69" fill="#9a4a22" opacity="1.0" transform="rotate(0 157.9 90.0)"/>
<ellipse cx="189.6" cy="60.8" rx="2.90" ry="1.39" fill="#a85a30" opacity="1.0" transform="rotate(0 189.6 60.8)"/>
<ellipse cx="183.7" cy="90.2" rx="3.10" ry="1.89" fill="#a85a30" opacity="1.0" transform="rotate(0 183.7 90.2)"/>
<ellipse cx="182.7" cy="96.4" rx="2.90" ry="1.67" fill="#b86a3a" opacity="1.0" transform="rotate(0 182.7 96.4)"/>
<ellipse cx="226.1" cy="92.0" rx="3.39" ry="1.62" fill="#9a4a22" opacity="1.0" transform="rotate(0 226.1 92.0)"/>
<ellipse cx="165.7" cy="57.0" rx="2.12" ry="1.20" fill="#9a4a22" opacity="1.0" transform="rotate(0 165.7 57.0)"/>
<ellipse cx="200.5" cy="72.0" rx="2.45" ry="1.05" fill="#a85a30" opacity="1.0" transform="rotate(0 200.5 72.0)"/>
<ellipse cx="197.1" cy="86.6" rx="3.62" ry="1.67" fill="#9a4a22" opacity="1.0" transform="rotate(0 197.1 86.6)"/>
<ellipse cx="144.2" cy="85.2" rx="2.10" ry="1.17" fill="#a85a30" opacity="1.0" transform="rotate(0 144.2 85.2)"/>
<ellipse cx="198.9" cy="84.1" rx="4.65" ry="2.01" fill="#9a4a22" opacity="1.0" transform="rotate(0 198.9 84.1)"/>
<ellipse cx="168.6" cy="87.7" rx="3.20" ry="2.10" fill="#b86a3a" opacity="1.0" transform="rotate(0 168.6 87.7)"/>
<ellipse cx="144.4" cy="58.3" rx="2.29" ry="1.01" fill="#b86a3a" opacity="1.0" transform="rotate(0 144.4 58.3)"/>
<ellipse cx="204.9" cy="58.7" rx="2.99" ry="1.79" fill="#9a4a22" opacity="1.0" transform="rotate(0 204.9 58.7)"/>
<ellipse cx="151.7" cy="83.8" rx="4.54" ry="1.99" fill="#b86a3a" opacity="1.0" transform="rotate(0 151.7 83.8)"/>
<ellipse cx="221.3" cy="96.5" rx="2.00" ry="1.13" fill="#9a4a22" opacity="1.0" transform="rotate(0 221.3 96.5)"/>
<ellipse cx="223.3" cy="87.0" rx="2.90" ry="1.57" fill="#a85a30" opacity="1.0" transform="rotate(0 223.3 87.0)"/>
<ellipse cx="144.1" cy="63.5" rx="4.62" ry="2.12" fill="#b86a3a" opacity="1.0" transform="rotate(0 144.1 63.5)"/>
<ellipse cx="208.6" cy="70.2" rx="2.58" ry="1.08" fill="#a85a30" opacity="1.0" transform="rotate(0 208.6 70.2)"/>
<ellipse cx="157.8" cy="96.2" rx="3.93" ry="2.01" fill="#9a4a22" opacity="1.0" transform="rotate(0 157.8 96.2)"/>
<ellipse cx="205.4" cy="55.7" rx="3.72" ry="2.05" fill="#b86a3a" opacity="1.0" transform="rotate(0 205.4 55.7)"/>
<ellipse cx="207.9" cy="95.6" rx="4.85" ry="2.11" fill="#b86a3a" opacity="1.0" transform="rotate(0 207.9 95.6)"/>
<ellipse cx="196.5" cy="96.1" rx="1.98" ry="1.01" fill="#b86a3a" opacity="1.0" transform="rotate(0 196.5 96.1)"/>
<ellipse cx="172.3" cy="54.5" rx="2.44" ry="1.40" fill="#a85a30" opacity="1.0" transform="rotate(0 172.3 54.5)"/>
<ellipse cx="155.0" cy="93.5" rx="4.62" ry="1.86" fill="#a85a30" opacity="1.0" transform="rotate(0 155.0 93.5)"/>
<ellipse cx="162.8" cy="58.3" rx="4.76" ry="2.18" fill="#9a4a22" opacity="1.0" transform="rotate(0 162.8 58.3)"/>
<ellipse cx="145.3" cy="69.5" rx="3.79" ry="2.03" fill="#a85a30" opacity="1.0" transform="rotate(0 145.3 69.5)"/>
<circle cx="196.5" cy="41.4" r="0.43" fill="#3a7fb8" opacity="1.0"/>
<circle cx="159.2" cy="43.1" r="0.69" fill="#4a8fc8" opacity="1.0"/>
<circle cx="156.3" cy="42.5" r="0.45" fill="#6aa5d5" opacity="1.0"/>
<circle cx="187.2" cy="41.9" r="0.53" fill="#3a7fb8" opacity="1.0"/>
<circle cx="179.4" cy="42.4" r="0.43" fill="#4a8fc8" opacity="1.0"/>
<circle cx="215.5" cy="41.4" r="0.76" fill="#6aa5d5" opacity="1.0"/>
<circle cx="192.9" cy="43.2" r="0.59" fill="#5a9ad0" opacity="1.0"/>
<circle cx="178.0" cy="43.2" r="0.63" fill="#3a7fb8" opacity="1.0"/>
<circle cx="226.3" cy="43.8" r="0.51" fill="#4a8fc8" opacity="1.0"/>
<circle cx="213.7" cy="43.8" r="0.41" fill="#6aa5d5" opacity="1.0"/>
<ellipse cx="227.4" cy="49.8" rx="1.05" ry="0.93" fill="#7d4fb0" opacity="1.0" transform="rotate(0 227.4 49.8)"/>
<ellipse cx="220.5" cy="49.0" rx="0.86" ry="0.76" fill="#9b6fd0" opacity="1.0" transform="rotate(0 220.5 49.0)"/>
<ellipse cx="145.3" cy="51.2" rx="1.15" ry="0.65" fill="#7d4fb0" opacity="1.0" transform="rotate(0 145.3 51.2)"/>
<ellipse cx="204.4" cy="49.1" rx="1.24" ry="0.83" fill="#9b6fd0" opacity="1.0" transform="rotate(0 204.4 49.1)"/>
<ellipse cx="149.1" cy="49.4" rx="1.01" ry="0.66" fill="#7d4fb0" opacity="1.0" transform="rotate(0 149.1 49.4)"/>
<ellipse cx="189.1" cy="48.9" rx="0.78" ry="0.67" fill="#8a5fc0" opacity="1.0" transform="rotate(0 189.1 48.9)"/>
<ellipse cx="215.3" cy="48.3" rx="1.44" ry="0.82" fill="#7d4fb0" opacity="1.0" transform="rotate(0 215.3 48.3)"/>
<ellipse cx="211.4" cy="48.0" rx="0.72" ry="0.69" fill="#9b6fd0" opacity="1.0" transform="rotate(0 211.4 48.0)"/>
<ellipse cx="200.5" cy="49.5" rx="1.07" ry="0.74" fill="#7d4fb0" opacity="1.0" transform="rotate(0 200.5 49.5)"/>
<ellipse cx="170.7" cy="46.3" rx="1.07" ry="0.68" fill="#7d4fb0" opacity="1.0" transform="rotate(0 170.7 46.3)"/>
<ellipse cx="209.7" cy="50.8" rx="1.47" ry="0.98" fill="#7d4fb0" opacity="1.0" transform="rotate(0 209.7 50.8)"/>
<ellipse cx="209.4" cy="46.6" rx="1.61" ry="1.00" fill="#9b6fd0" opacity="1.0" transform="rotate(0 209.4 46.6)"/>
<ellipse cx="176.1" cy="50.6" rx="1.30" ry="0.85" fill="#8a5fc0" opacity="1.0" transform="rotate(0 176.1 50.6)"/>
<ellipse cx="155.8" cy="50.5" rx="1.27" ry="0.82" fill="#9b6fd0" opacity="1.0" transform="rotate(0 155.8 50.5)"/>
<ellipse cx="161.0" cy="49.8" rx="1.21" ry="0.81" fill="#8a5fc0" opacity="1.0" transform="rotate(0 161.0 49.8)"/>
<ellipse cx="226.1" cy="50.8" rx="1.30" ry="0.86" fill="#9b6fd0" opacity="1.0" transform="rotate(0 226.1 50.8)"/>
<ellipse cx="147.2" cy="49.4" rx="1.60" ry="1.02" fill="#7d4fb0" opacity="1.0" transform="rotate(0 147.2 49.4)"/>
<ellipse cx="147.2" cy="47.8" rx="0.92" ry="0.92" fill="#9b6fd0" opacity="1.0" transform="rotate(0 147.2 47.8)"/>
<ellipse cx="196.5" cy="50.7" rx="1.04" ry="0.91" fill="#9b6fd0" opacity="1.0" transform="rotate(0 196.5 50.7)"/>
<ellipse cx="191.4" cy="50.5" rx="1.18" ry="1.09" fill="#9b6fd0" opacity="1.0" transform="rotate(0 191.4 50.5)"/>
<ellipse cx="208.9" cy="51.2" rx="1.24" ry="0.71" fill="#7d4fb0" opacity="1.0" transform="rotate(0 208.9 51.2)"/>
<ellipse cx="208.5" cy="49.7" rx="0.81" ry="0.66" fill="#8a5fc0" opacity="1.0" transform="rotate(0 208.5 49.7)"/>
<ellipse cx="209.5" cy="58.7" rx="1.56" ry="0.91" fill="#8a5fc0" opacity="1.0" transform="rotate(0 209.5 58.7)"/>
<ellipse cx="207.5" cy="54.6" rx="0.77" ry="0.69" fill="#7d4fb0" opacity="1.0" transform="rotate(0 207.5 54.6)"/>
<ellipse cx="170.0" cy="59.2" rx="1.58" ry="0.95" fill="#8a5fc0" opacity="1.0" transform="rotate(0 170.0 59.2)"/>
<ellipse cx="184.4" cy="57.9" rx="1.16" ry="0.92" fill="#9b6fd0" opacity="1.0" transform="rotate(0 184.4 57.9)"/>
<ellipse cx="224.4" cy="56.6" rx="1.08" ry="0.94" fill="#7d4fb0" opacity="1.0" transform="rotate(0 224.4 56.6)"/>
<ellipse cx="219.6" cy="55.7" rx="1.26" ry="0.74" fill="#9b6fd0" opacity="1.0" transform="rotate(0 219.6 55.7)"/>
<ellipse cx="166.4" cy="58.9" rx="1.47" ry="1.03" fill="#7d4fb0" opacity="1.0" transform="rotate(0 166.4 58.9)"/>
<ellipse cx="160.3" cy="57.6" rx="0.88" ry="0.61" fill="#7d4fb0" opacity="1.0" transform="rotate(0 160.3 57.6)"/>
<ellipse cx="196.9" cy="54.9" rx="1.35" ry="0.83" fill="#9b6fd0" opacity="1.0" transform="rotate(0 196.9 54.9)"/>
<ellipse cx="195.7" cy="57.8" rx="1.20" ry="1.09" fill="#7d4fb0" opacity="1.0" transform="rotate(0 195.7 57.8)"/>
<ellipse cx="213.0" cy="56.6" rx="1.28" ry="0.96" fill="#7d4fb0" opacity="1.0" transform="rotate(0 213.0 56.6)"/>
<ellipse cx="174.7" cy="58.0" rx="1.48" ry="0.93" fill="#9b6fd0" opacity="1.0" transform="rotate(0 174.7 58.0)"/>
<ellipse cx="188.0" cy="56.8" rx="1.04" ry="0.69" fill="#9b6fd0" opacity="1.0" transform="rotate(0 188.0 56.8)"/>
<ellipse cx="188.9" cy="58.2" rx="1.16" ry="0.81" fill="#9b6fd0" opacity="1.0" transform="rotate(0 188.9 58.2)"/>
<ellipse cx="155.8" cy="57.9" rx="1.58" ry="0.97" fill="#7d4fb0" opacity="1.0" transform="rotate(0 155.8 57.9)"/>
<ellipse cx="162.2" cy="59.0" rx="1.17" ry="0.96" fill="#9b6fd0" opacity="1.0" transform="rotate(0 162.2 59.0)"/>
<ellipse cx="224.8" cy="58.6" rx="1.73" ry="1.03" fill="#7d4fb0" opacity="1.0" transform="rotate(0 224.8 58.6)"/>
<ellipse cx="165.3" cy="54.8" rx="1.33" ry="1.02" fill="#9b6fd0" opacity="1.0" transform="rotate(0 165.3 54.8)"/>
<ellipse cx="173.7" cy="81.8" rx="7.86" ry="3.04" fill="#dae6f2" opacity="1.0" transform="rotate(0 173.7 81.8)"/>
<ellipse cx="157.1" cy="89.7" rx="7.27" ry="2.86" fill="#d4e2ef" opacity="1.0" transform="rotate(0 157.1 89.7)"/>
<ellipse cx="217.4" cy="75.3" rx="7.89" ry="2.77" fill="#d4e2ef" opacity="1.0" transform="rotate(0 217.4 75.3)"/>
<ellipse cx="183.1" cy="83.2" rx="10.07" ry="3.86" fill="#dae6f2" opacity="1.0" transform="rotate(0 183.1 83.2)"/>
<ellipse cx="166.0" cy="80.4" rx="7.95" ry="3.16" fill="#dae6f2" opacity="1.0" transform="rotate(0 166.0 80.4)"/>
<ellipse cx="196.8" cy="92.6" rx="7.10" ry="3.41" fill="#dae6f2" opacity="1.0" transform="rotate(0 196.8 92.6)"/>
<ellipse cx="187.4" cy="80.9" rx="10.15" ry="3.81" fill="#d4e2ef" opacity="1.0" transform="rotate(0 187.4 80.9)"/>
<ellipse cx="184.6" cy="77.5" rx="6.26" ry="2.45" fill="#dae6f2" opacity="1.0" transform="rotate(0 184.6 77.5)"/>
<ellipse cx="208.8" cy="48.2" rx="7.98" ry="3.98" fill="#dae6f2" opacity="1.0" transform="rotate(0 208.8 48.2)"/>
<ellipse cx="159.5" cy="47.6" rx="9.82" ry="3.39" fill="#d4e2ef" opacity="1.0" transform="rotate(0 159.5 47.6)"/>
<ellipse cx="146.1" cy="64.1" rx="8.11" ry="3.30" fill="#d4e2ef" opacity="1.0" transform="rotate(0 146.1 64.1)"/>
<ellipse cx="228.5" cy="68.5" rx="8.44" ry="3.75" fill="#d4e2ef" opacity="1.0" transform="rotate(0 228.5 68.5)"/>
<ellipse cx="188.2" cy="87.2" rx="9.15" ry="3.25" fill="#dae6f2" opacity="1.0" transform="rotate(0 188.2 87.2)"/>
<ellipse cx="178.3" cy="80.8" rx="6.39" ry="2.26" fill="#dae6f2" opacity="1.0" transform="rotate(0 178.3 80.8)"/>
<ellipse cx="198.8" cy="72.4" rx="5.89" ry="2.26" fill="#dae6f2" opacity="1.0" transform="rotate(0 198.8 72.4)"/>
<ellipse cx="148.5" cy="73.1" rx="6.38" ry="2.45" fill="#d4e2ef" opacity="1.0" transform="rotate(0 148.5 73.1)"/>
<circle cx="147.8" cy="80.9" r="0.43" fill="#c05090" opacity="1.0"/>
<circle cx="178.6" cy="87.1" r="0.63" fill="#e070a0" opacity="1.0"/>
<circle cx="162.2" cy="87.4" r="0.61" fill="#e070a0" opacity="1.0"/>
<circle cx="179.5" cy="81.9" r="0.47" fill="#c05090" opacity="1.0"/>
<circle cx="209.6" cy="88.8" r="0.76" fill="#e070a0" opacity="1.0"/>
<circle cx="180.1" cy="89.3" r="0.65" fill="#e070a0" opacity="1.0"/>
<circle cx="174.0" cy="91.0" r="0.70" fill="#c05090" opacity="1.0"/>
<circle cx="162.8" cy="86.8" r="0.62" fill="#c05090" opacity="1.0"/>
<circle cx="167.0" cy="75.0" r="0.50" fill="#c05090" opacity="1.0"/>
<circle cx="203.5" cy="63.8" r="0.59" fill="#e070a0" opacity="1.0"/>
<circle cx="181.5" cy="96.4" r="0.79" fill="#e070a0" opacity="1.0"/>
<circle cx="149.0" cy="93.2" r="0.45" fill="#c05090" opacity="1.0"/>
<circle cx="172.7" cy="89.9" r="0.55" fill="#c05090" opacity="1.0"/>
<circle cx="158.0" cy="83.6" r="0.44" fill="#c05090" opacity="1.0"/>
<ellipse cx="189.5" cy="52.3" rx="8.51" ry="2.31" fill="#9a4820" opacity="1" transform="rotate(0 189.5 52.3)"/>
<ellipse cx="192.9" cy="54.3" rx="6.81" ry="3.30" fill="#8a3a1a" opacity="1" transform="rotate(0 192.9 54.3)"/>
<ellipse cx="180.9" cy="55.0" rx="3.40" ry="1.32" fill="#a0522a" opacity="1" transform="rotate(0 180.9 55.0)"/>
<ellipse cx="175.8" cy="65.5" rx="13.62" ry="4.30" fill="#a04a20" opacity="1" transform="rotate(0 175.8 65.5)"/>
<ellipse cx="174.1" cy="66.9" rx="2.13" ry="1.98" fill="#e8c8b0" opacity="1" transform="rotate(0 174.1 66.9)"/>
<ellipse cx="203.1" cy="64.9" rx="8.51" ry="4.63" fill="#5a1a0a" opacity="1" transform="rotate(0 203.1 64.9)"/>
<ellipse cx="206.5" cy="60.9" rx="5.11" ry="2.64" fill="#6a2410" opacity="1" transform="rotate(0 206.5 60.9)"/>
<ellipse cx="205.6" cy="56.9" rx="5.96" ry="1.98" fill="#9a4a20" opacity="1" transform="rotate(0 205.6 56.9)"/>
<ellipse cx="153.7" cy="74.8" rx="9.36" ry="2.97" fill="#9a4820" opacity="1" transform="rotate(0 153.7 74.8)"/>
<ellipse cx="164.8" cy="75.4" rx="4.25" ry="1.98" fill="#a0522a" opacity="1" transform="rotate(0 164.8 75.4)"/>
<ellipse cx="187.8" cy="74.8" rx="6.81" ry="1.98" fill="#924020" opacity="1" transform="rotate(0 187.8 74.8)"/>
<ellipse cx="180.9" cy="78.1" rx="4.25" ry="1.65" fill="#a5582a" opacity="1" transform="rotate(0 180.9 78.1)"/>
<ellipse cx="158.8" cy="86.0" rx="6.81" ry="1.65" fill="#a0602e" opacity="1" transform="rotate(0 158.8 86.0)"/>
<ellipse cx="180.9" cy="90.7" rx="8.51" ry="2.64" fill="#924820" opacity="1" transform="rotate(0 180.9 90.7)"/>
<ellipse cx="192.9" cy="82.1" rx="3.40" ry="1.98" fill="#8a3a1a" opacity="1" transform="rotate(0 192.9 82.1)"/>
<ellipse cx="199.7" cy="84.7" rx="3.40" ry="1.98" fill="#924820" opacity="1" transform="rotate(0 199.7 84.7)"/>
<ellipse cx="200.5" cy="92.6" rx="4.25" ry="1.98" fill="#7a2e14" opacity="1" transform="rotate(0 200.5 92.6)"/>
<ellipse cx="203.1" cy="72.8" rx="4.25" ry="2.64" fill="#7a2e14" opacity="1" transform="rotate(0 203.1 72.8)"/>
<ellipse cx="209.9" cy="70.2" rx="4.25" ry="3.30" fill="#6a2410" opacity="1" transform="rotate(0 209.9 70.2)"/>
<ellipse cx="224.3" cy="61.6" rx="4.25" ry="3.30" fill="#924820" opacity="1" transform="rotate(0 224.3 61.6)"/>
<ellipse cx="166.5" cy="90.7" rx="4.25" ry="1.32" fill="#b07040" opacity="1" transform="rotate(0 166.5 90.7)"/>
<ellipse cx="146.9" cy="64.2" rx="3.40" ry="1.65" fill="#a05028" opacity="1" transform="rotate(0 146.9 64.2)"/>
<ellipse cx="222.6" cy="92.6" rx="5.11" ry="2.64" fill="#924820" opacity="1" transform="rotate(0 222.6 92.6)"/>
<ellipse cx="218.4" cy="82.1" rx="3.40" ry="1.98" fill="#a0522a" opacity="1" transform="rotate(0 218.4 82.1)"/>
<ellipse cx="147.8" cy="83.4" rx="3.40" ry="1.98" fill="#b06a3a" opacity="1" transform="rotate(0 147.8 83.4)"/>
<ellipse cx="169.0" cy="58.3" rx="4.25" ry="1.32" fill="#a06030" opacity="1" transform="rotate(0 169.0 58.3)"/>
<ellipse cx="196.3" cy="66.9" rx="4.25" ry="1.98" fill="#8a3a1a" opacity="1" transform="rotate(0 196.3 66.9)"/>
<ellipse cx="186.1" cy="63.5" rx="3.40" ry="1.98" fill="#a04a20" opacity="1" transform="rotate(0 186.1 63.5)"/>
<ellipse cx="215.8" cy="53.6" rx="3.40" ry="1.32" fill="#a0522a" opacity="1" transform="rotate(0 215.8 53.6)"/>
</g>
<line x1="209.88" y1="91.10" x2="223.49" y2="91.10" stroke="#333" stroke-width="0.9"/>
<line x1="214.13" y1="89.80" x2="219.24" y2="89.80" stroke="#666" stroke-width="0.6"/>
<path d="M213.3,41.1 L214.2,35.7 L218.7,40.2 z" fill="#111"/>
</g>
<rect x="143.50" y="30.50" width="85.10" height="66.10" fill="none" stroke="#8c8c8c" stroke-width="0.9"/>
<clipPath id="c21"><rect x="56.00" y="98.50" width="85.60" height="66.00"/></clipPath>
<g clip-path="url(#c21)">
<g filter="url(#bl35)">
<rect x="56.00" y="98.50" width="85.60" height="66.00" fill="#f6f3f6"/>
<path d="M56.0,104.4 L62.1,104.4 L68.2,104.3 L74.3,104.1 L80.5,103.9 L86.6,103.6 L92.7,103.2 L98.8,102.8 L104.9,102.3 L111.0,101.7 L117.1,101.1 L123.3,100.4 L129.4,99.6 L135.5,98.7 L141.6,97.8" fill="none" stroke="#c6d9ea" stroke-width="6" opacity="0.9" stroke-linecap="round" stroke-linejoin="round"/>
<path d="M56.0,117.6 L62.1,117.5 L68.2,117.3 L74.3,116.8 L80.5,116.2 L86.6,115.4 L92.7,114.4 L98.8,113.2 L104.9,111.8 L111.0,110.3 L117.1,108.5 L123.3,106.6 L129.4,104.5 L135.5,102.3 L141.6,99.8" fill="none" stroke="#c6d9ea" stroke-width="4.5" opacity="0.9" stroke-linecap="round" stroke-linejoin="round"/>
<path d="M56.0,128.2 L62.1,128.1 L68.2,127.9 L74.3,127.5 L80.5,126.9 L86.6,126.0 L92.7,124.9 L98.8,123.6 L104.9,122.0 L111.0,120.2 L117.1,118.1 L123.3,115.8 L129.4,113.2 L135.5,110.3 L141.6,107.1" fill="none" stroke="#d0e0ee" stroke-width="3" opacity="0.9" stroke-linecap="round" stroke-linejoin="round"/>
<circle cx="70.1" cy="105.5" r="0.49" fill="#5a9ad0" opacity="1.0"/>
<circle cx="96.6" cy="106.0" r="0.36" fill="#4a8fc8" opacity="1.0"/>
<circle cx="135.8" cy="98.2" r="0.34" fill="#5a9ad0" opacity="1.0"/>
<circle cx="93.4" cy="106.4" r="0.53" fill="#6aa5d5" opacity="1.0"/>
<circle cx="84.2" cy="103.7" r="0.33" fill="#3a7fb8" opacity="1.0"/>
<circle cx="119.4" cy="98.1" r="0.54" fill="#5a9ad0" opacity="1.0"/>
<circle cx="85.4" cy="103.6" r="0.36" fill="#5a9ad0" opacity="1.0"/>
<circle cx="72.9" cy="105.3" r="0.54" fill="#8ab0d0" opacity="1.0"/>
<circle cx="62.1" cy="104.8" r="0.47" fill="#3a7fb8" opacity="1.0"/>
<circle cx="132.0" cy="98.6" r="0.41" fill="#6aa5d5" opacity="1.0"/>
<circle cx="97.5" cy="101.3" r="0.55" fill="#6aa5d5" opacity="1.0"/>
<circle cx="62.0" cy="105.1" r="0.46" fill="#3a7fb8" opacity="1.0"/>
<circle cx="109.3" cy="99.8" r="0.35" fill="#3a7fb8" opacity="1.0"/>
<circle cx="107.1" cy="100.8" r="0.33" fill="#5a9ad0" opacity="1.0"/>
<circle cx="88.1" cy="104.7" r="0.50" fill="#5a9ad0" opacity="1.0"/>
<circle cx="140.7" cy="101.0" r="0.48" fill="#6aa5d5" opacity="1.0"/>
<circle cx="113.1" cy="104.4" r="0.37" fill="#6aa5d5" opacity="1.0"/>
<circle cx="122.2" cy="100.4" r="0.55" fill="#3a7fb8" opacity="1.0"/>
<circle cx="59.0" cy="102.8" r="0.42" fill="#5a9ad0" opacity="1.0"/>
<circle cx="119.8" cy="100.6" r="0.38" fill="#8ab0d0" opacity="1.0"/>
<circle cx="97.0" cy="105.9" r="0.57" fill="#5a9ad0" opacity="1.0"/>
<circle cx="107.5" cy="101.6" r="0.47" fill="#3a7fb8" opacity="1.0"/>
<circle cx="106.4" cy="99.8" r="0.52" fill="#5a9ad0" opacity="1.0"/>
<circle cx="58.0" cy="105.1" r="0.49" fill="#8ab0d0" opacity="1.0"/>
<circle cx="114.5" cy="103.0" r="0.54" fill="#5a9ad0" opacity="1.0"/>
<circle cx="64.0" cy="101.2" r="0.43" fill="#4a8fc8" opacity="1.0"/>
<circle cx="66.8" cy="104.6" r="0.40" fill="#5a9ad0" opacity="1.0"/>
<circle cx="71.5" cy="106.6" r="0.36" fill="#4a8fc8" opacity="1.0"/>
<circle cx="99.2" cy="104.4" r="0.32" fill="#6aa5d5" opacity="1.0"/>
<circle cx="61.4" cy="106.2" r="0.35" fill="#3a7fb8" opacity="1.0"/>
<circle cx="107.8" cy="103.6" r="0.37" fill="#3a7fb8" opacity="1.0"/>
<circle cx="124.7" cy="100.1" r="0.47" fill="#4a8fc8" opacity="1.0"/>
<circle cx="118.9" cy="104.0" r="0.39" fill="#8ab0d0" opacity="1.0"/>
<circle cx="72.2" cy="105.0" r="0.40" fill="#4a8fc8" opacity="1.0"/>
<circle cx="141.0" cy="95.3" r="0.32" fill="#6aa5d5" opacity="1.0"/>
<circle cx="137.1" cy="99.7" r="0.51" fill="#8ab0d0" opacity="1.0"/>
<circle cx="90.4" cy="101.6" r="0.31" fill="#5a9ad0" opacity="1.0"/>
<circle cx="106.5" cy="101.5" r="0.43" fill="#6aa5d5" opacity="1.0"/>
<circle cx="97.7" cy="103.7" r="0.59" fill="#6aa5d5" opacity="1.0"/>
<circle cx="87.9" cy="104.2" r="0.36" fill="#8ab0d0" opacity="1.0"/>
<circle cx="129.5" cy="100.9" r="0.50" fill="#6aa5d5" opacity="1.0"/>
<circle cx="108.6" cy="104.1" r="0.59" fill="#4a8fc8" opacity="1.0"/>
<circle cx="73.3" cy="106.6" r="0.51" fill="#5a9ad0" opacity="1.0"/>
<circle cx="81.9" cy="106.8" r="0.52" fill="#4a8fc8" opacity="1.0"/>
<circle cx="70.2" cy="103.8" r="0.50" fill="#8ab0d0" opacity="1.0"/>
<circle cx="78.3" cy="107.0" r="0.40" fill="#5a9ad0" opacity="1.0"/>
<circle cx="99.4" cy="101.0" r="0.51" fill="#5a9ad0" opacity="1.0"/>
<circle cx="96.0" cy="102.6" r="0.49" fill="#5a9ad0" opacity="1.0"/>
<circle cx="109.2" cy="99.2" r="0.59" fill="#3a7fb8" opacity="1.0"/>
<circle cx="136.0" cy="100.0" r="0.31" fill="#4a8fc8" opacity="1.0"/>
<circle cx="93.8" cy="102.8" r="0.60" fill="#5a9ad0" opacity="1.0"/>
<circle cx="82.4" cy="103.5" r="0.57" fill="#5a9ad0" opacity="1.0"/>
<circle cx="134.1" cy="98.5" r="0.55" fill="#6aa5d5" opacity="1.0"/>
<circle cx="103.2" cy="100.6" r="0.54" fill="#6aa5d5" opacity="1.0"/>
<circle cx="57.5" cy="105.0" r="0.32" fill="#5a9ad0" opacity="1.0"/>
<circle cx="98.6" cy="103.0" r="0.46" fill="#3a7fb8" opacity="1.0"/>
<circle cx="69.1" cy="102.9" r="0.49" fill="#4a8fc8" opacity="1.0"/>
<circle cx="72.0" cy="101.6" r="0.55" fill="#3a7fb8" opacity="1.0"/>
<circle cx="59.2" cy="104.4" r="0.50" fill="#5a9ad0" opacity="1.0"/>
<circle cx="75.9" cy="103.1" r="0.38" fill="#5a9ad0" opacity="1.0"/>
<circle cx="100.9" cy="99.8" r="0.55" fill="#4a8fc8" opacity="1.0"/>
<circle cx="107.9" cy="102.9" r="0.49" fill="#3a7fb8" opacity="1.0"/>
<circle cx="69.9" cy="106.6" r="0.54" fill="#4a8fc8" opacity="1.0"/>
<circle cx="122.6" cy="103.1" r="0.46" fill="#3a7fb8" opacity="1.0"/>
<circle cx="136.6" cy="101.5" r="0.54" fill="#3a7fb8" opacity="1.0"/>
<circle cx="78.7" cy="100.8" r="0.41" fill="#5a9ad0" opacity="1.0"/>
<circle cx="101.9" cy="105.1" r="0.36" fill="#8ab0d0" opacity="1.0"/>
<circle cx="94.5" cy="104.9" r="0.59" fill="#5a9ad0" opacity="1.0"/>
<circle cx="71.3" cy="104.5" r="0.54" fill="#5a9ad0" opacity="1.0"/>
<circle cx="134.0" cy="102.0" r="0.53" fill="#5a9ad0" opacity="1.0"/>
<circle cx="74.2" cy="104.4" r="0.41" fill="#3a7fb8" opacity="1.0"/>
<circle cx="76.5" cy="103.6" r="0.49" fill="#5a9ad0" opacity="1.0"/>
<circle cx="77.7" cy="103.6" r="0.41" fill="#3a7fb8" opacity="1.0"/>
<circle cx="129.5" cy="97.6" r="0.54" fill="#6aa5d5" opacity="1.0"/>
<circle cx="119.0" cy="102.4" r="0.60" fill="#6aa5d5" opacity="1.0"/>
<circle cx="122.6" cy="102.9" r="0.39" fill="#6aa5d5" opacity="1.0"/>
<circle cx="75.5" cy="105.6" r="0.54" fill="#4a8fc8" opacity="1.0"/>
<circle cx="134.4" cy="96.5" r="0.40" fill="#8ab0d0" opacity="1.0"/>
<circle cx="107.2" cy="103.3" r="0.56" fill="#3a7fb8" opacity="1.0"/>
<circle cx="118.9" cy="100.6" r="0.34" fill="#8ab0d0" opacity="1.0"/>
<circle cx="132.2" cy="96.4" r="0.39" fill="#5a9ad0" opacity="1.0"/>
<circle cx="136.1" cy="96.1" r="0.49" fill="#8ab0d0" opacity="1.0"/>
<circle cx="98.6" cy="104.2" r="0.37" fill="#3a7fb8" opacity="1.0"/>
<circle cx="100.7" cy="99.4" r="0.55" fill="#3a7fb8" opacity="1.0"/>
<circle cx="91.4" cy="100.8" r="0.56" fill="#4a8fc8" opacity="1.0"/>
<circle cx="75.9" cy="105.4" r="0.45" fill="#8ab0d0" opacity="1.0"/>
<circle cx="110.5" cy="102.7" r="0.41" fill="#6aa5d5" opacity="1.0"/>
<circle cx="95.1" cy="103.2" r="0.37" fill="#4a8fc8" opacity="1.0"/>
<circle cx="132.8" cy="101.4" r="0.53" fill="#4a8fc8" opacity="1.0"/>
<circle cx="69.2" cy="101.1" r="0.38" fill="#3a7fb8" opacity="1.0"/>
<circle cx="60.1" cy="102.4" r="0.35" fill="#5a9ad0" opacity="1.0"/>
<circle cx="65.6" cy="104.6" r="0.33" fill="#4a8fc8" opacity="1.0"/>
<circle cx="115.9" cy="101.5" r="0.33" fill="#8ab0d0" opacity="1.0"/>
<circle cx="77.0" cy="103.6" r="0.54" fill="#4a8fc8" opacity="1.0"/>
<circle cx="138.1" cy="100.4" r="0.51" fill="#6aa5d5" opacity="1.0"/>
<circle cx="98.7" cy="105.4" r="0.53" fill="#5a9ad0" opacity="1.0"/>
<circle cx="110.8" cy="103.6" r="0.38" fill="#3a7fb8" opacity="1.0"/>
<circle cx="70.0" cy="103.2" r="0.50" fill="#6aa5d5" opacity="1.0"/>
<circle cx="81.1" cy="101.3" r="0.48" fill="#5a9ad0" opacity="1.0"/>
<circle cx="68.8" cy="103.0" r="0.33" fill="#6aa5d5" opacity="1.0"/>
<circle cx="60.2" cy="106.0" r="0.55" fill="#4a8fc8" opacity="1.0"/>
<circle cx="96.5" cy="103.3" r="0.41" fill="#6aa5d5" opacity="1.0"/>
<circle cx="108.1" cy="101.6" r="0.53" fill="#8ab0d0" opacity="1.0"/>
<circle cx="58.7" cy="102.5" r="0.56" fill="#5a9ad0" opacity="1.0"/>
<circle cx="138.5" cy="96.6" r="0.41" fill="#5a9ad0" opacity="1.0"/>
<circle cx="106.9" cy="104.3" r="0.51" fill="#3a7fb8" opacity="1.0"/>
<circle cx="133.3" cy="100.1" r="0.39" fill="#4a8fc8" opacity="1.0"/>
<circle cx="77.1" cy="107.3" r="0.40" fill="#5a9ad0" opacity="1.0"/>
<circle cx="58.4" cy="104.9" r="0.57" fill="#8ab0d0" opacity="1.0"/>
<circle cx="75.7" cy="101.6" r="0.31" fill="#6aa5d5" opacity="1.0"/>
<circle cx="98.7" cy="104.1" r="0.45" fill="#6aa5d5" opacity="1.0"/>
<circle cx="135.5" cy="100.5" r="0.46" fill="#4a8fc8" opacity="1.0"/>
<circle cx="70.2" cy="101.7" r="0.44" fill="#3a7fb8" opacity="1.0"/>
<circle cx="99.7" cy="101.4" r="0.43" fill="#6aa5d5" opacity="1.0"/>
<circle cx="137.4" cy="98.8" r="0.38" fill="#6aa5d5" opacity="1.0"/>
<circle cx="139.8" cy="96.5" r="0.49" fill="#3a7fb8" opacity="1.0"/>
<circle cx="67.6" cy="103.3" r="0.58" fill="#5a9ad0" opacity="1.0"/>
<circle cx="79.9" cy="105.8" r="0.30" fill="#5a9ad0" opacity="1.0"/>
<circle cx="115.3" cy="101.3" r="0.31" fill="#3a7fb8" opacity="1.0"/>
<circle cx="103.4" cy="104.7" r="0.55" fill="#5a9ad0" opacity="1.0"/>
<circle cx="73.0" cy="102.0" r="0.52" fill="#3a7fb8" opacity="1.0"/>
<circle cx="89.9" cy="105.3" r="0.56" fill="#4a8fc8" opacity="1.0"/>
<circle cx="83.5" cy="102.5" r="0.43" fill="#4a8fc8" opacity="1.0"/>
<circle cx="133.0" cy="98.9" r="0.51" fill="#5a9ad0" opacity="1.0"/>
<circle cx="108.7" cy="105.1" r="0.56" fill="#4a8fc8" opacity="1.0"/>
<circle cx="103.5" cy="105.1" r="0.58" fill="#4a8fc8" opacity="1.0"/>
<circle cx="56.8" cy="106.2" r="0.60" fill="#4a8fc8" opacity="1.0"/>
<circle cx="61.4" cy="107.4" r="0.59" fill="#8ab0d0" opacity="1.0"/>
<circle cx="140.2" cy="100.5" r="0.54" fill="#3a7fb8" opacity="1.0"/>
<circle cx="81.5" cy="105.6" r="0.37" fill="#5a9ad0" opacity="1.0"/>
<circle cx="91.2" cy="102.1" r="0.38" fill="#8ab0d0" opacity="1.0"/>
<circle cx="87.5" cy="103.6" r="0.57" fill="#5a9ad0" opacity="1.0"/>
<circle cx="96.5" cy="103.1" r="0.37" fill="#3a7fb8" opacity="1.0"/>
<circle cx="114.7" cy="100.1" r="0.48" fill="#8ab0d0" opacity="1.0"/>
<circle cx="75.7" cy="106.7" r="0.56" fill="#5a9ad0" opacity="1.0"/>
<circle cx="101.2" cy="105.3" r="0.33" fill="#3a7fb8" opacity="1.0"/>
<circle cx="97.2" cy="103.6" r="0.38" fill="#4a8fc8" opacity="1.0"/>
<circle cx="111.1" cy="102.6" r="0.33" fill="#4a8fc8" opacity="1.0"/>
<circle cx="102.0" cy="103.8" r="0.45" fill="#5a9ad0" opacity="1.0"/>
<circle cx="115.8" cy="104.5" r="0.55" fill="#8ab0d0" opacity="1.0"/>
<circle cx="92.9" cy="100.0" r="0.39" fill="#5a9ad0" opacity="1.0"/>
<circle cx="112.2" cy="100.0" r="0.52" fill="#6aa5d5" opacity="1.0"/>
<circle cx="106.2" cy="104.8" r="0.32" fill="#3a7fb8" opacity="1.0"/>
<circle cx="101.3" cy="102.7" r="0.38" fill="#5a9ad0" opacity="1.0"/>
<circle cx="64.8" cy="105.4" r="0.57" fill="#8ab0d0" opacity="1.0"/>
<circle cx="106.9" cy="103.6" r="0.50" fill="#4a8fc8" opacity="1.0"/>
<circle cx="97.2" cy="105.3" r="0.48" fill="#6aa5d5" opacity="1.0"/>
<circle cx="81.9" cy="105.7" r="0.59" fill="#8ab0d0" opacity="1.0"/>
<circle cx="109.6" cy="99.6" r="0.54" fill="#4a8fc8" opacity="1.0"/>
<circle cx="73.5" cy="104.3" r="0.35" fill="#3a7fb8" opacity="1.0"/>
<circle cx="138.7" cy="102.6" r="0.40" fill="#6aa5d5" opacity="1.0"/>
<circle cx="125.5" cy="108.1" r="0.32" fill="#8ab0d0" opacity="1.0"/>
<circle cx="68.6" cy="117.3" r="0.33" fill="#6aa5d5" opacity="1.0"/>
<circle cx="112.2" cy="111.6" r="0.53" fill="#4a8fc8" opacity="1.0"/>
<circle cx="111.2" cy="107.9" r="0.54" fill="#3a7fb8" opacity="1.0"/>
<circle cx="78.6" cy="116.8" r="0.47" fill="#6aa5d5" opacity="1.0"/>
<circle cx="85.3" cy="117.9" r="0.57" fill="#3a7fb8" opacity="1.0"/>
<circle cx="80.3" cy="117.9" r="0.51" fill="#4a8fc8" opacity="1.0"/>
<circle cx="62.0" cy="115.5" r="0.45" fill="#3a7fb8" opacity="1.0"/>
<circle cx="139.2" cy="99.9" r="0.37" fill="#5a9ad0" opacity="1.0"/>
<circle cx="120.2" cy="105.4" r="0.41" fill="#8ab0d0" opacity="1.0"/>
<circle cx="100.0" cy="112.9" r="0.57" fill="#5a9ad0" opacity="1.0"/>
<circle cx="108.9" cy="113.2" r="0.51" fill="#5a9ad0" opacity="1.0"/>
<circle cx="75.4" cy="115.5" r="0.36" fill="#5a9ad0" opacity="1.0"/>
<circle cx="107.3" cy="111.8" r="0.52" fill="#6aa5d5" opacity="1.0"/>
<circle cx="64.0" cy="117.9" r="0.38" fill="#4a8fc8" opacity="1.0"/>
<circle cx="127.4" cy="103.9" r="0.45" fill="#3a7fb8" opacity="1.0"/>
<circle cx="140.1" cy="101.7" r="0.38" fill="#5a9ad0" opacity="1.0"/>
<circle cx="97.5" cy="115.8" r="0.42" fill="#6aa5d5" opacity="1.0"/>
<circle cx="133.9" cy="103.3" r="0.38" fill="#4a8fc8" opacity="1.0"/>
<circle cx="83.2" cy="114.2" r="0.31" fill="#5a9ad0" opacity="1.0"/>
<circle cx="126.9" cy="105.5" r="0.35" fill="#5a9ad0" opacity="1.0"/>
<circle cx="139.7" cy="99.3" r="0.51" fill="#8ab0d0" opacity="1.0"/>
<circle cx="96.6" cy="115.1" r="0.38" fill="#3a7fb8" opacity="1.0"/>
<circle cx="113.0" cy="108.3" r="0.35" fill="#6aa5d5" opacity="1.0"/>
<circle cx="70.1" cy="117.3" r="0.44" fill="#4a8fc8" opacity="1.0"/>
<circle cx="78.3" cy="114.0" r="0.49" fill="#5a9ad0" opacity="1.0"/>
<circle cx="110.7" cy="112.1" r="0.36" fill="#6aa5d5" opacity="1.0"/>
<circle cx="130.0" cy="102.4" r="0.40" fill="#3a7fb8" opacity="1.0"/>
<circle cx="89.0" cy="113.4" r="0.55" fill="#3a7fb8" opacity="1.0"/>
<circle cx="58.8" cy="119.1" r="0.37" fill="#8ab0d0" opacity="1.0"/>
<circle cx="90.9" cy="115.5" r="0.39" fill="#4a8fc8" opacity="1.0"/>
<circle cx="60.1" cy="115.2" r="0.44" fill="#6aa5d5" opacity="1.0"/>
<circle cx="100.9" cy="114.5" r="0.46" fill="#5a9ad0" opacity="1.0"/>
<circle cx="130.7" cy="104.2" r="0.31" fill="#8ab0d0" opacity="1.0"/>
<circle cx="92.5" cy="113.2" r="0.58" fill="#4a8fc8" opacity="1.0"/>
<circle cx="82.1" cy="117.7" r="0.36" fill="#6aa5d5" opacity="1.0"/>
<circle cx="85.5" cy="113.8" r="0.51" fill="#6aa5d5" opacity="1.0"/>
<circle cx="111.8" cy="108.4" r="0.48" fill="#8ab0d0" opacity="1.0"/>
<circle cx="108.2" cy="110.4" r="0.32" fill="#6aa5d5" opacity="1.0"/>
<circle cx="129.5" cy="104.8" r="0.60" fill="#3a7fb8" opacity="1.0"/>
<circle cx="88.4" cy="115.5" r="0.55" fill="#3a7fb8" opacity="1.0"/>
<circle cx="114.0" cy="111.0" r="0.48" fill="#4a8fc8" opacity="1.0"/>
<circle cx="94.2" cy="115.6" r="0.55" fill="#4a8fc8" opacity="1.0"/>
<circle cx="76.3" cy="117.6" r="0.43" fill="#6aa5d5" opacity="1.0"/>
<circle cx="73.4" cy="116.6" r="0.47" fill="#6aa5d5" opacity="1.0"/>
<circle cx="59.0" cy="117.5" r="0.43" fill="#5a9ad0" opacity="1.0"/>
<circle cx="128.6" cy="107.4" r="0.47" fill="#3a7fb8" opacity="1.0"/>
<circle cx="72.9" cy="118.4" r="0.58" fill="#8ab0d0" opacity="1.0"/>
<circle cx="71.2" cy="116.3" r="0.42" fill="#3a7fb8" opacity="1.0"/>
<circle cx="102.2" cy="112.0" r="0.58" fill="#5a9ad0" opacity="1.0"/>
<circle cx="67.1" cy="119.4" r="0.49" fill="#4a8fc8" opacity="1.0"/>
<circle cx="117.5" cy="108.6" r="0.42" fill="#4a8fc8" opacity="1.0"/>
<circle cx="59.1" cy="116.2" r="0.38" fill="#4a8fc8" opacity="1.0"/>
<circle cx="87.5" cy="117.1" r="0.35" fill="#6aa5d5" opacity="1.0"/>
<circle cx="132.6" cy="104.4" r="0.34" fill="#4a8fc8" opacity="1.0"/>
<circle cx="64.8" cy="116.7" r="0.36" fill="#5a9ad0" opacity="1.0"/>
<circle cx="110.8" cy="111.9" r="0.45" fill="#8ab0d0" opacity="1.0"/>
<circle cx="68.3" cy="119.8" r="0.41" fill="#3a7fb8" opacity="1.0"/>
<circle cx="111.2" cy="112.3" r="0.54" fill="#5a9ad0" opacity="1.0"/>
<circle cx="97.0" cy="112.6" r="0.45" fill="#3a7fb8" opacity="1.0"/>
<circle cx="131.5" cy="101.9" r="0.48" fill="#3a7fb8" opacity="1.0"/>
<circle cx="79.0" cy="115.8" r="0.42" fill="#5a9ad0" opacity="1.0"/>
<circle cx="124.1" cy="109.0" r="0.37" fill="#6aa5d5" opacity="1.0"/>
<circle cx="117.8" cy="106.4" r="0.47" fill="#3a7fb8" opacity="1.0"/>
<circle cx="79.0" cy="114.7" r="0.49" fill="#5a9ad0" opacity="1.0"/>
<circle cx="141.2" cy="99.1" r="0.31" fill="#4a8fc8" opacity="1.0"/>
<circle cx="84.3" cy="115.8" r="0.45" fill="#5a9ad0" opacity="1.0"/>
<circle cx="137.4" cy="103.1" r="0.30" fill="#6aa5d5" opacity="1.0"/>
<circle cx="139.8" cy="98.6" r="0.31" fill="#5a9ad0" opacity="1.0"/>
<circle cx="130.5" cy="105.7" r="0.36" fill="#3a7fb8" opacity="1.0"/>
<circle cx="133.4" cy="104.8" r="0.34" fill="#3a7fb8" opacity="1.0"/>
<circle cx="71.8" cy="116.4" r="0.45" fill="#8ab0d0" opacity="1.0"/>
<circle cx="77.0" cy="116.9" r="0.33" fill="#5a9ad0" opacity="1.0"/>
<circle cx="75.6" cy="116.7" r="0.59" fill="#6aa5d5" opacity="1.0"/>
<circle cx="87.6" cy="115.6" r="0.42" fill="#5a9ad0" opacity="1.0"/>
<circle cx="124.0" cy="104.7" r="0.51" fill="#8ab0d0" opacity="1.0"/>
<circle cx="139.9" cy="98.7" r="0.37" fill="#3a7fb8" opacity="1.0"/>
<circle cx="89.4" cy="115.0" r="0.41" fill="#6aa5d5" opacity="1.0"/>
<circle cx="64.6" cy="117.6" r="0.33" fill="#4a8fc8" opacity="1.0"/>
<circle cx="94.8" cy="115.1" r="0.42" fill="#5a9ad0" opacity="1.0"/>
<circle cx="66.9" cy="119.9" r="0.31" fill="#6aa5d5" opacity="1.0"/>
<circle cx="137.1" cy="103.9" r="0.42" fill="#6aa5d5" opacity="1.0"/>
<circle cx="126.3" cy="103.8" r="0.58" fill="#5a9ad0" opacity="1.0"/>
<circle cx="106.6" cy="109.3" r="0.37" fill="#5a9ad0" opacity="1.0"/>
<circle cx="58.8" cy="115.4" r="0.37" fill="#4a8fc8" opacity="1.0"/>
<circle cx="76.9" cy="116.6" r="0.43" fill="#5a9ad0" opacity="1.0"/>
<circle cx="62.0" cy="117.2" r="0.60" fill="#5a9ad0" opacity="1.0"/>
<circle cx="64.8" cy="119.9" r="0.59" fill="#4a8fc8" opacity="1.0"/>
<circle cx="60.1" cy="117.3" r="0.38" fill="#4a8fc8" opacity="1.0"/>
<circle cx="120.2" cy="109.8" r="0.52" fill="#3a7fb8" opacity="1.0"/>
<circle cx="101.1" cy="111.3" r="0.58" fill="#6aa5d5" opacity="1.0"/>
<circle cx="133.0" cy="103.8" r="0.44" fill="#8ab0d0" opacity="1.0"/>
<circle cx="106.5" cy="113.7" r="0.57" fill="#3a7fb8" opacity="1.0"/>
<circle cx="96.5" cy="114.3" r="0.47" fill="#4a8fc8" opacity="1.0"/>
<circle cx="120.6" cy="105.9" r="0.40" fill="#3a7fb8" opacity="1.0"/>
<circle cx="90.6" cy="114.8" r="0.46" fill="#8ab0d0" opacity="1.0"/>
<circle cx="122.0" cy="105.7" r="0.39" fill="#8ab0d0" opacity="1.0"/>
<circle cx="106.3" cy="109.8" r="0.36" fill="#6aa5d5" opacity="1.0"/>
<circle cx="139.6" cy="100.5" r="0.48" fill="#6aa5d5" opacity="1.0"/>
<circle cx="61.0" cy="115.6" r="0.46" fill="#6aa5d5" opacity="1.0"/>
<circle cx="85.4" cy="114.7" r="0.33" fill="#4a8fc8" opacity="1.0"/>
<circle cx="60.6" cy="116.0" r="0.48" fill="#4a8fc8" opacity="1.0"/>
<circle cx="79.0" cy="117.4" r="0.41" fill="#5a9ad0" opacity="1.0"/>
<circle cx="80.4" cy="114.5" r="0.41" fill="#6aa5d5" opacity="1.0"/>
<circle cx="121.2" cy="107.1" r="0.31" fill="#4a8fc8" opacity="1.0"/>
<circle cx="119.7" cy="107.8" r="0.37" fill="#5a9ad0" opacity="1.0"/>
<circle cx="89.4" cy="116.5" r="0.47" fill="#8ab0d0" opacity="1.0"/>
<circle cx="88.4" cy="117.1" r="0.38" fill="#4a8fc8" opacity="1.0"/>
<circle cx="57.1" cy="120.1" r="0.39" fill="#5a9ad0" opacity="1.0"/>
<circle cx="121.5" cy="105.4" r="0.43" fill="#6aa5d5" opacity="1.0"/>
<circle cx="120.5" cy="109.7" r="0.45" fill="#4a8fc8" opacity="1.0"/>
<circle cx="109.4" cy="110.5" r="0.48" fill="#4a8fc8" opacity="1.0"/>
<circle cx="126.4" cy="104.1" r="0.33" fill="#5a9ad0" opacity="1.0"/>
<circle cx="111.0" cy="112.2" r="0.51" fill="#6aa5d5" opacity="1.0"/>
<circle cx="136.6" cy="99.6" r="0.34" fill="#5a9ad0" opacity="1.0"/>
<circle cx="138.0" cy="100.3" r="0.47" fill="#8ab0d0" opacity="1.0"/>
<circle cx="60.4" cy="118.2" r="0.31" fill="#4a8fc8" opacity="1.0"/>
<circle cx="107.8" cy="112.1" r="0.34" fill="#6aa5d5" opacity="1.0"/>
<circle cx="119.8" cy="106.4" r="0.36" fill="#5a9ad0" opacity="1.0"/>
<circle cx="127.0" cy="103.3" r="0.35" fill="#5a9ad0" opacity="1.0"/>
<circle cx="71.1" cy="118.0" r="0.54" fill="#6aa5d5" opacity="1.0"/>
<circle cx="104.2" cy="112.6" r="0.34" fill="#4a8fc8" opacity="1.0"/>
<circle cx="96.8" cy="115.1" r="0.57" fill="#6aa5d5" opacity="1.0"/>
<circle cx="85.2" cy="114.1" r="0.52" fill="#4a8fc8" opacity="1.0"/>
<circle cx="61.6" cy="117.3" r="0.44" fill="#5a9ad0" opacity="1.0"/>
<circle cx="119.6" cy="109.1" r="0.48" fill="#4a8fc8" opacity="1.0"/>
<circle cx="73.4" cy="118.4" r="0.35" fill="#6aa5d5" opacity="1.0"/>
<circle cx="77.4" cy="115.7" r="0.31" fill="#5a9ad0" opacity="1.0"/>
<circle cx="64.7" cy="116.6" r="0.59" fill="#8ab0d0" opacity="1.0"/>
<circle cx="80.8" cy="118.1" r="0.53" fill="#6aa5d5" opacity="1.0"/>
<circle cx="124.1" cy="106.8" r="0.58" fill="#3a7fb8" opacity="1.0"/>
<circle cx="121.1" cy="106.8" r="0.32" fill="#4a8fc8" opacity="1.0"/>
<circle cx="73.5" cy="118.8" r="0.51" fill="#6aa5d5" opacity="1.0"/>
<circle cx="141.2" cy="98.8" r="0.57" fill="#3a7fb8" opacity="1.0"/>
<circle cx="115.4" cy="111.0" r="0.47" fill="#8ab0d0" opacity="1.0"/>
<circle cx="76.4" cy="118.0" r="0.53" fill="#3a7fb8" opacity="1.0"/>
<circle cx="124.8" cy="106.0" r="0.32" fill="#4a8fc8" opacity="1.0"/>
<circle cx="118.1" cy="109.3" r="0.56" fill="#8ab0d0" opacity="1.0"/>
<circle cx="93.2" cy="113.4" r="0.38" fill="#8ab0d0" opacity="1.0"/>
<circle cx="67.4" cy="119.9" r="0.52" fill="#8ab0d0" opacity="1.0"/>
<circle cx="116.3" cy="109.9" r="0.54" fill="#8ab0d0" opacity="1.0"/>
<circle cx="65.5" cy="114.8" r="0.37" fill="#3a7fb8" opacity="1.0"/>
<circle cx="80.7" cy="114.4" r="0.52" fill="#8ab0d0" opacity="1.0"/>
<circle cx="115.5" cy="110.6" r="0.46" fill="#8ab0d0" opacity="1.0"/>
<circle cx="116.5" cy="107.0" r="0.55" fill="#5a9ad0" opacity="1.0"/>
<circle cx="64.4" cy="120.1" r="0.40" fill="#4a8fc8" opacity="1.0"/>
<circle cx="138.3" cy="100.2" r="0.45" fill="#5a9ad0" opacity="1.0"/>
<circle cx="117.3" cy="109.9" r="0.33" fill="#8ab0d0" opacity="1.0"/>
<circle cx="73.4" cy="115.2" r="0.32" fill="#3a7fb8" opacity="1.0"/>
<circle cx="131.0" cy="111.0" r="0.49" fill="#5a9ad0" opacity="1.0"/>
<circle cx="74.8" cy="128.3" r="0.35" fill="#3a7fb8" opacity="1.0"/>
<circle cx="82.2" cy="126.3" r="0.52" fill="#4a8fc8" opacity="1.0"/>
<circle cx="102.4" cy="123.5" r="0.44" fill="#3a7fb8" opacity="1.0"/>
<circle cx="86.8" cy="126.0" r="0.36" fill="#6aa5d5" opacity="1.0"/>
<circle cx="80.7" cy="127.4" r="0.55" fill="#3a7fb8" opacity="1.0"/>
<circle cx="124.9" cy="116.2" r="0.45" fill="#6aa5d5" opacity="1.0"/>
<circle cx="75.7" cy="126.8" r="0.33" fill="#4a8fc8" opacity="1.0"/>
<circle cx="110.2" cy="121.2" r="0.52" fill="#5a9ad0" opacity="1.0"/>
<circle cx="129.2" cy="113.7" r="0.55" fill="#3a7fb8" opacity="1.0"/>
<circle cx="100.9" cy="123.6" r="0.32" fill="#3a7fb8" opacity="1.0"/>
<circle cx="56.7" cy="126.7" r="0.52" fill="#4a8fc8" opacity="1.0"/>
<circle cx="73.5" cy="127.6" r="0.50" fill="#4a8fc8" opacity="1.0"/>
<circle cx="107.1" cy="120.6" r="0.40" fill="#3a7fb8" opacity="1.0"/>
<circle cx="59.2" cy="129.7" r="0.38" fill="#5a9ad0" opacity="1.0"/>
<circle cx="87.3" cy="125.2" r="0.49" fill="#3a7fb8" opacity="1.0"/>
<circle cx="127.1" cy="114.3" r="0.37" fill="#6aa5d5" opacity="1.0"/>
<circle cx="138.4" cy="109.5" r="0.52" fill="#6aa5d5" opacity="1.0"/>
<circle cx="93.1" cy="125.1" r="0.40" fill="#3a7fb8" opacity="1.0"/>
<circle cx="137.7" cy="110.7" r="0.50" fill="#5a9ad0" opacity="1.0"/>
<circle cx="127.5" cy="115.4" r="0.33" fill="#5a9ad0" opacity="1.0"/>
<circle cx="137.3" cy="109.3" r="0.31" fill="#5a9ad0" opacity="1.0"/>
<circle cx="69.6" cy="127.3" r="0.36" fill="#4a8fc8" opacity="1.0"/>
<circle cx="104.1" cy="122.6" r="0.54" fill="#4a8fc8" opacity="1.0"/>
<circle cx="101.9" cy="122.0" r="0.52" fill="#6aa5d5" opacity="1.0"/>
<circle cx="59.6" cy="128.9" r="0.42" fill="#6aa5d5" opacity="1.0"/>
<circle cx="111.3" cy="119.0" r="0.51" fill="#3a7fb8" opacity="1.0"/>
<circle cx="135.6" cy="111.0" r="0.53" fill="#5a9ad0" opacity="1.0"/>
<circle cx="64.6" cy="126.5" r="0.48" fill="#3a7fb8" opacity="1.0"/>
<circle cx="75.5" cy="125.9" r="0.36" fill="#4a8fc8" opacity="1.0"/>
<circle cx="102.6" cy="121.1" r="0.45" fill="#6aa5d5" opacity="1.0"/>
<circle cx="87.6" cy="127.0" r="0.32" fill="#3a7fb8" opacity="1.0"/>
<circle cx="69.2" cy="127.9" r="0.43" fill="#4a8fc8" opacity="1.0"/>
<circle cx="134.0" cy="111.2" r="0.32" fill="#5a9ad0" opacity="1.0"/>
<circle cx="119.6" cy="118.4" r="0.43" fill="#5a9ad0" opacity="1.0"/>
<circle cx="63.0" cy="128.0" r="0.31" fill="#5a9ad0" opacity="1.0"/>
<circle cx="99.7" cy="124.7" r="0.44" fill="#5a9ad0" opacity="1.0"/>
<circle cx="141.1" cy="105.8" r="0.47" fill="#6aa5d5" opacity="1.0"/>
<circle cx="101.8" cy="123.0" r="0.39" fill="#3a7fb8" opacity="1.0"/>
<circle cx="109.3" cy="120.9" r="0.31" fill="#6aa5d5" opacity="1.0"/>
<circle cx="85.8" cy="125.3" r="0.37" fill="#6aa5d5" opacity="1.0"/>
<circle cx="120.8" cy="115.5" r="0.50" fill="#3a7fb8" opacity="1.0"/>
<circle cx="139.4" cy="107.9" r="0.46" fill="#5a9ad0" opacity="1.0"/>
<circle cx="122.1" cy="116.2" r="0.38" fill="#5a9ad0" opacity="1.0"/>
<circle cx="79.2" cy="126.0" r="0.32" fill="#6aa5d5" opacity="1.0"/>
<circle cx="93.6" cy="126.1" r="0.44" fill="#4a8fc8" opacity="1.0"/>
<circle cx="57.0" cy="127.3" r="0.54" fill="#3a7fb8" opacity="1.0"/>
<circle cx="128.4" cy="114.2" r="0.54" fill="#5a9ad0" opacity="1.0"/>
<circle cx="112.3" cy="119.5" r="0.49" fill="#6aa5d5" opacity="1.0"/>
<circle cx="62.1" cy="128.0" r="0.40" fill="#3a7fb8" opacity="1.0"/>
<circle cx="87.5" cy="126.0" r="0.37" fill="#3a7fb8" opacity="1.0"/>
<circle cx="86.6" cy="125.1" r="0.53" fill="#4a8fc8" opacity="1.0"/>
<circle cx="122.7" cy="116.7" r="0.46" fill="#3a7fb8" opacity="1.0"/>
<circle cx="136.3" cy="108.5" r="0.39" fill="#6aa5d5" opacity="1.0"/>
<circle cx="101.4" cy="124.1" r="0.53" fill="#5a9ad0" opacity="1.0"/>
<circle cx="57.7" cy="127.3" r="0.43" fill="#5a9ad0" opacity="1.0"/>
<circle cx="93.1" cy="126.2" r="0.49" fill="#3a7fb8" opacity="1.0"/>
<circle cx="114.6" cy="117.7" r="0.50" fill="#4a8fc8" opacity="1.0"/>
<circle cx="87.8" cy="124.4" r="0.51" fill="#4a8fc8" opacity="1.0"/>
<circle cx="81.9" cy="126.9" r="0.48" fill="#3a7fb8" opacity="1.0"/>
<circle cx="124.2" cy="113.9" r="0.38" fill="#4a8fc8" opacity="1.0"/>
<circle cx="103.5" cy="122.6" r="0.47" fill="#3a7fb8" opacity="1.0"/>
<circle cx="116.9" cy="119.5" r="0.48" fill="#5a9ad0" opacity="1.0"/>
<circle cx="65.7" cy="129.5" r="0.47" fill="#3a7fb8" opacity="1.0"/>
<circle cx="73.1" cy="128.8" r="0.34" fill="#5a9ad0" opacity="1.0"/>
<circle cx="122.5" cy="117.1" r="0.33" fill="#6aa5d5" opacity="1.0"/>
<circle cx="95.9" cy="125.8" r="0.38" fill="#3a7fb8" opacity="1.0"/>
<circle cx="125.6" cy="115.5" r="0.37" fill="#4a8fc8" opacity="1.0"/>
<circle cx="77.3" cy="128.6" r="0.48" fill="#4a8fc8" opacity="1.0"/>
<circle cx="82.0" cy="125.0" r="0.48" fill="#6aa5d5" opacity="1.0"/>
<circle cx="136.1" cy="111.0" r="0.33" fill="#6aa5d5" opacity="1.0"/>
<circle cx="81.2" cy="127.5" r="0.42" fill="#4a8fc8" opacity="1.0"/>
<circle cx="93.6" cy="126.1" r="0.53" fill="#4a8fc8" opacity="1.0"/>
<circle cx="90.2" cy="125.7" r="0.53" fill="#6aa5d5" opacity="1.0"/>
<circle cx="101.8" cy="122.3" r="0.41" fill="#3a7fb8" opacity="1.0"/>
<circle cx="102.3" cy="122.8" r="0.45" fill="#3a7fb8" opacity="1.0"/>
<circle cx="129.5" cy="114.2" r="0.32" fill="#3a7fb8" opacity="1.0"/>
<circle cx="67.3" cy="128.9" r="0.47" fill="#5a9ad0" opacity="1.0"/>
<circle cx="88.7" cy="127.3" r="0.43" fill="#4a8fc8" opacity="1.0"/>
<circle cx="99.5" cy="122.9" r="0.53" fill="#4a8fc8" opacity="1.0"/>
<circle cx="132.6" cy="112.3" r="0.52" fill="#5a9ad0" opacity="1.0"/>
<circle cx="61.6" cy="128.8" r="0.48" fill="#4a8fc8" opacity="1.0"/>
<circle cx="115.7" cy="117.0" r="0.54" fill="#4a8fc8" opacity="1.0"/>
<circle cx="110.4" cy="118.8" r="0.45" fill="#4a8fc8" opacity="1.0"/>
<circle cx="113.7" cy="120.4" r="0.42" fill="#6aa5d5" opacity="1.0"/>
<circle cx="71.0" cy="127.9" r="0.37" fill="#4a8fc8" opacity="1.0"/>
<circle cx="111.5" cy="121.3" r="0.53" fill="#6aa5d5" opacity="1.0"/>
<circle cx="110.2" cy="119.8" r="0.43" fill="#3a7fb8" opacity="1.0"/>
<circle cx="86.6" cy="126.7" r="0.40" fill="#5a9ad0" opacity="1.0"/>
<circle cx="139.2" cy="107.2" r="0.44" fill="#6aa5d5" opacity="1.0"/>
<circle cx="79.8" cy="109.3" r="0.30" fill="#5a9ad0" opacity="1.0"/>
<circle cx="72.0" cy="124.7" r="0.33" fill="#5a9ad0" opacity="1.0"/>
<circle cx="74.7" cy="118.0" r="0.29" fill="#4a8fc8" opacity="1.0"/>
<circle cx="123.4" cy="114.3" r="0.31" fill="#4a8fc8" opacity="1.0"/>
<circle cx="106.8" cy="126.0" r="0.40" fill="#6aa5d5" opacity="1.0"/>
<circle cx="135.8" cy="107.0" r="0.37" fill="#6aa5d5" opacity="1.0"/>
<circle cx="89.3" cy="125.2" r="0.28" fill="#6aa5d5" opacity="1.0"/>
<circle cx="99.9" cy="123.4" r="0.37" fill="#6aa5d5" opacity="1.0"/>
<circle cx="69.2" cy="113.9" r="0.21" fill="#6aa5d5" opacity="1.0"/>
<circle cx="109.8" cy="111.1" r="0.35" fill="#4a8fc8" opacity="1.0"/>
<circle cx="104.7" cy="117.4" r="0.25" fill="#6aa5d5" opacity="1.0"/>
<circle cx="116.5" cy="112.0" r="0.21" fill="#c8a0c8" opacity="1.0"/>
<circle cx="120.1" cy="108.1" r="0.22" fill="#6aa5d5" opacity="1.0"/>
<circle cx="112.0" cy="109.9" r="0.31" fill="#5a9ad0" opacity="1.0"/>
<circle cx="126.9" cy="106.8" r="0.27" fill="#6aa5d5" opacity="1.0"/>
<circle cx="80.3" cy="112.2" r="0.24" fill="#3a7fb8" opacity="1.0"/>
<circle cx="112.5" cy="124.2" r="0.20" fill="#4a8fc8" opacity="1.0"/>
<circle cx="74.1" cy="118.3" r="0.29" fill="#6aa5d5" opacity="1.0"/>
<circle cx="57.5" cy="119.0" r="0.38" fill="#c8a0c8" opacity="1.0"/>
<circle cx="88.9" cy="120.3" r="0.39" fill="#c8a0c8" opacity="1.0"/>
<circle cx="75.1" cy="108.9" r="0.37" fill="#3a7fb8" opacity="1.0"/>
<circle cx="99.1" cy="108.1" r="0.25" fill="#3a7fb8" opacity="1.0"/>
<circle cx="87.1" cy="124.0" r="0.29" fill="#6aa5d5" opacity="1.0"/>
<circle cx="136.4" cy="113.6" r="0.28" fill="#6aa5d5" opacity="1.0"/>
<circle cx="106.7" cy="107.4" r="0.32" fill="#4a8fc8" opacity="1.0"/>
<circle cx="60.8" cy="118.2" r="0.35" fill="#3a7fb8" opacity="1.0"/>
<circle cx="119.1" cy="112.6" r="0.35" fill="#c8a0c8" opacity="1.0"/>
<circle cx="61.3" cy="117.5" r="0.35" fill="#3a7fb8" opacity="1.0"/>
<circle cx="85.8" cy="121.6" r="0.26" fill="#6aa5d5" opacity="1.0"/>
<circle cx="77.4" cy="105.6" r="0.21" fill="#6aa5d5" opacity="1.0"/>
<ellipse cx="65.9" cy="135.3" rx="1.36" ry="0.55" fill="#b0308a" opacity="1.0" transform="rotate(0 65.9 135.3)"/>
<ellipse cx="73.9" cy="135.6" rx="1.22" ry="0.54" fill="#c040a0" opacity="1.0" transform="rotate(0 73.9 135.6)"/>
<ellipse cx="68.7" cy="135.8" rx="0.92" ry="0.42" fill="#d050a8" opacity="1.0" transform="rotate(0 68.7 135.8)"/>
<ellipse cx="68.2" cy="134.5" rx="1.18" ry="0.40" fill="#c040a0" opacity="1.0" transform="rotate(0 68.2 134.5)"/>
<ellipse cx="81.4" cy="134.4" rx="1.82" ry="0.61" fill="#d050a8" opacity="1.0" transform="rotate(0 81.4 134.4)"/>
<ellipse cx="70.6" cy="135.0" rx="1.41" ry="0.65" fill="#d050a8" opacity="1.0" transform="rotate(0 70.6 135.0)"/>
<ellipse cx="77.1" cy="135.3" rx="1.23" ry="0.53" fill="#a02878" opacity="1.0" transform="rotate(0 77.1 135.3)"/>
<ellipse cx="66.6" cy="135.1" rx="1.56" ry="0.53" fill="#a02878" opacity="1.0" transform="rotate(0 66.6 135.1)"/>
<ellipse cx="81.5" cy="135.9" rx="1.81" ry="0.64" fill="#b0308a" opacity="1.0" transform="rotate(0 81.5 135.9)"/>
<ellipse cx="76.7" cy="135.5" rx="1.31" ry="0.59" fill="#d050a8" opacity="1.0" transform="rotate(0 76.7 135.5)"/>
<ellipse cx="82.1" cy="134.5" rx="1.50" ry="0.61" fill="#a02878" opacity="1.0" transform="rotate(0 82.1 134.5)"/>
<ellipse cx="78.4" cy="135.9" rx="1.15" ry="0.42" fill="#d050a8" opacity="1.0" transform="rotate(0 78.4 135.9)"/>
<ellipse cx="124.8" cy="162.8" rx="1.15" ry="0.61" fill="#4a8fc8" opacity="1.0" transform="rotate(0 124.8 162.8)"/>
<ellipse cx="131.6" cy="162.2" rx="1.30" ry="0.68" fill="#c040a0" opacity="1.0" transform="rotate(0 131.6 162.2)"/>
<ellipse cx="99.9" cy="160.7" rx="0.53" ry="0.43" fill="#d050a8" opacity="1.0" transform="rotate(0 99.9 160.7)"/>
<ellipse cx="70.2" cy="163.5" rx="0.89" ry="0.64" fill="#c040a0" opacity="1.0" transform="rotate(0 70.2 163.5)"/>
<ellipse cx="70.9" cy="163.4" rx="0.59" ry="0.54" fill="#d050a8" opacity="1.0" transform="rotate(0 70.9 163.4)"/>
<ellipse cx="127.7" cy="160.3" rx="0.59" ry="0.46" fill="#b0308a" opacity="1.0" transform="rotate(0 127.7 160.3)"/>
<ellipse cx="127.5" cy="161.2" rx="1.16" ry="0.60" fill="#3a7fb8" opacity="1.0" transform="rotate(0 127.5 161.2)"/>
<ellipse cx="88.5" cy="163.5" rx="1.22" ry="0.75" fill="#3a7fb8" opacity="1.0" transform="rotate(0 88.5 163.5)"/>
<ellipse cx="117.2" cy="164.3" rx="1.44" ry="0.75" fill="#a02878" opacity="1.0" transform="rotate(0 117.2 164.3)"/>
<ellipse cx="77.8" cy="162.1" rx="1.13" ry="0.57" fill="#d050a8" opacity="1.0" transform="rotate(0 77.8 162.1)"/>
<ellipse cx="71.4" cy="160.2" rx="1.02" ry="0.54" fill="#d050a8" opacity="1.0" transform="rotate(0 71.4 160.2)"/>
<ellipse cx="104.1" cy="162.0" rx="0.78" ry="0.46" fill="#8a5fc0" opacity="1.0" transform="rotate(0 104.1 162.0)"/>
<ellipse cx="74.6" cy="160.2" rx="0.91" ry="0.68" fill="#b0308a" opacity="1.0" transform="rotate(0 74.6 160.2)"/>
<ellipse cx="127.7" cy="160.6" rx="0.74" ry="0.50" fill="#3a7fb8" opacity="1.0" transform="rotate(0 127.7 160.6)"/>
<ellipse cx="72.8" cy="160.7" rx="1.19" ry="0.67" fill="#4a8fc8" opacity="1.0" transform="rotate(0 72.8 160.7)"/>
<ellipse cx="102.2" cy="164.5" rx="1.14" ry="0.77" fill="#4a8fc8" opacity="1.0" transform="rotate(0 102.2 164.5)"/>
<ellipse cx="134.8" cy="164.1" rx="0.69" ry="0.67" fill="#5a9ad0" opacity="1.0" transform="rotate(0 134.8 164.1)"/>
<ellipse cx="135.0" cy="160.3" rx="1.25" ry="0.68" fill="#b0308a" opacity="1.0" transform="rotate(0 135.0 160.3)"/>
<ellipse cx="89.4" cy="161.6" rx="0.64" ry="0.45" fill="#8a5fc0" opacity="1.0" transform="rotate(0 89.4 161.6)"/>
<ellipse cx="121.7" cy="161.6" rx="0.80" ry="0.80" fill="#a02878" opacity="1.0" transform="rotate(0 121.7 161.6)"/>
<ellipse cx="75.2" cy="162.3" rx="0.99" ry="0.52" fill="#d050a8" opacity="1.0" transform="rotate(0 75.2 162.3)"/>
<ellipse cx="105.9" cy="163.7" rx="0.60" ry="0.53" fill="#d050a8" opacity="1.0" transform="rotate(0 105.9 163.7)"/>
<ellipse cx="120.2" cy="160.1" rx="1.19" ry="0.62" fill="#c040a0" opacity="1.0" transform="rotate(0 120.2 160.1)"/>
<ellipse cx="91.8" cy="161.5" rx="0.54" ry="0.50" fill="#c040a0" opacity="1.0" transform="rotate(0 91.8 161.5)"/>
<ellipse cx="76.5" cy="163.9" rx="1.07" ry="0.67" fill="#5a9ad0" opacity="1.0" transform="rotate(0 76.5 163.9)"/>
<ellipse cx="101.9" cy="161.5" rx="1.26" ry="0.68" fill="#a02878" opacity="1.0" transform="rotate(0 101.9 161.5)"/>
<ellipse cx="89.1" cy="163.8" rx="0.95" ry="0.77" fill="#a02878" opacity="1.0" transform="rotate(0 89.1 163.8)"/>
<ellipse cx="102.1" cy="160.6" rx="0.62" ry="0.48" fill="#b0308a" opacity="1.0" transform="rotate(0 102.1 160.6)"/>
<ellipse cx="121.2" cy="160.5" rx="1.04" ry="0.72" fill="#d050a8" opacity="1.0" transform="rotate(0 121.2 160.5)"/>
<ellipse cx="122.5" cy="161.1" rx="0.88" ry="0.64" fill="#5a9ad0" opacity="1.0" transform="rotate(0 122.5 161.1)"/>
<ellipse cx="129.2" cy="163.6" rx="1.09" ry="0.79" fill="#8a5fc0" opacity="1.0" transform="rotate(0 129.2 163.6)"/>
<ellipse cx="104.2" cy="162.9" rx="0.61" ry="0.44" fill="#d050a8" opacity="1.0" transform="rotate(0 104.2 162.9)"/>
<ellipse cx="69.8" cy="160.9" rx="0.74" ry="0.57" fill="#8a5fc0" opacity="1.0" transform="rotate(0 69.8 160.9)"/>
<ellipse cx="133.4" cy="161.7" rx="1.12" ry="0.70" fill="#4a8fc8" opacity="1.0" transform="rotate(0 133.4 161.7)"/>
<ellipse cx="109.1" cy="163.6" rx="0.65" ry="0.48" fill="#a02878" opacity="1.0" transform="rotate(0 109.1 163.6)"/>
<ellipse cx="92.1" cy="161.0" rx="0.79" ry="0.48" fill="#3a7fb8" opacity="1.0" transform="rotate(0 92.1 161.0)"/>
<ellipse cx="99.3" cy="160.5" rx="0.87" ry="0.66" fill="#4a8fc8" opacity="1.0" transform="rotate(0 99.3 160.5)"/>
<ellipse cx="139.1" cy="163.6" rx="1.43" ry="0.77" fill="#3a7fb8" opacity="1.0" transform="rotate(0 139.1 163.6)"/>
<ellipse cx="127.3" cy="164.0" rx="0.96" ry="0.80" fill="#6aa5d5" opacity="1.0" transform="rotate(0 127.3 164.0)"/>
<ellipse cx="70.0" cy="160.6" rx="1.14" ry="0.61" fill="#6aa5d5" opacity="1.0" transform="rotate(0 70.0 160.6)"/>
<ellipse cx="98.8" cy="137.4" rx="5.99" ry="0.79" fill="#8b3a1a" opacity="1" transform="rotate(0 98.8 137.4)"/>
<ellipse cx="109.1" cy="136.8" rx="4.28" ry="0.79" fill="#a0522d" opacity="1" transform="rotate(0 109.1 136.8)"/>
<ellipse cx="124.5" cy="137.4" rx="9.42" ry="0.79" fill="#8b4a2a" opacity="1" transform="rotate(0 124.5 137.4)"/>
<ellipse cx="134.8" cy="139.4" rx="1.71" ry="1.32" fill="#8b3a1a" opacity="1" transform="rotate(0 134.8 139.4)"/>
<ellipse cx="135.6" cy="149.3" rx="5.14" ry="0.79" fill="#8b3a1a" opacity="1" transform="rotate(0 135.6 149.3)"/>
<ellipse cx="73.1" cy="135.1" rx="8.56" ry="0.66" fill="#b03070" opacity="1" transform="rotate(0 73.1 135.1)"/>
<ellipse cx="104.8" cy="138.1" rx="1.28" ry="1.98" fill="#a03060" opacity="1" transform="rotate(0 104.8 138.1)"/>
</g>
<rect x="62.85" y="125.56" width="23.11" height="14.52" fill="none" stroke="#1a1a1a" stroke-width="1.1"/>
<rect x="56.50" y="153.00" width="12.00" height="11.50" fill="#ffffff"/>
<text x="58.50" y="161.50" font-size="8.3" text-anchor="start" fill="#111">ii)</text>
<line x1="122.77" y1="159.00" x2="136.46" y2="159.00" stroke="#333" stroke-width="0.9"/>
<line x1="127.05" y1="157.70" x2="132.18" y2="157.70" stroke="#666" stroke-width="0.6"/>
</g>
<rect x="56.00" y="98.50" width="85.60" height="66.00" fill="none" stroke="#8c8c8c" stroke-width="0.9"/>
<clipPath id="c22"><rect x="143.50" y="98.50" width="85.10" height="66.00"/></clipPath>
<g clip-path="url(#c22)">
<g filter="url(#bl35)">
<rect x="143.50" y="98.50" width="85.10" height="5.78" fill="#f6f3f7"/>
<rect x="143.50" y="103.78" width="85.10" height="22.94" fill="#e8edf5"/>
<rect x="143.50" y="126.22" width="85.10" height="17.66" fill="#eff1f6"/>
<rect x="143.50" y="143.38" width="85.10" height="21.62" fill="#f6f3f7"/>
<circle cx="225.0" cy="115.6" r="0.91" fill="#5a9ad0" opacity="1.0"/>
<circle cx="206.4" cy="118.5" r="1.22" fill="#3a7fb8" opacity="1.0"/>
<circle cx="170.7" cy="117.4" r="1.27" fill="#6aa5d5" opacity="1.0"/>
<circle cx="147.6" cy="118.5" r="1.14" fill="#5a9ad0" opacity="1.0"/>
<circle cx="153.0" cy="117.1" r="1.19" fill="#3a78b8" opacity="1.0"/>
<circle cx="171.3" cy="116.3" r="0.97" fill="#3a78b8" opacity="1.0"/>
<circle cx="213.7" cy="117.6" r="0.97" fill="#3a78b8" opacity="1.0"/>
<circle cx="179.2" cy="116.0" r="1.01" fill="#6aa5d5" opacity="1.0"/>
<circle cx="221.5" cy="116.2" r="1.05" fill="#3a7fb8" opacity="1.0"/>
<circle cx="191.3" cy="117.1" r="1.20" fill="#6aa5d5" opacity="1.0"/>
<circle cx="228.3" cy="116.4" r="1.07" fill="#5a9ad0" opacity="1.0"/>
<circle cx="177.6" cy="115.4" r="1.26" fill="#3a78b8" opacity="1.0"/>
<circle cx="158.7" cy="118.6" r="1.15" fill="#4a8fc8" opacity="1.0"/>
<circle cx="211.2" cy="117.6" r="0.98" fill="#4a8fc8" opacity="1.0"/>
<circle cx="153.9" cy="115.6" r="1.13" fill="#4a8fc8" opacity="1.0"/>
<circle cx="188.1" cy="117.3" r="1.30" fill="#6aa5d5" opacity="1.0"/>
<circle cx="149.1" cy="117.8" r="1.28" fill="#3a78b8" opacity="1.0"/>
<circle cx="153.7" cy="115.7" r="1.04" fill="#4a8fc8" opacity="1.0"/>
<circle cx="202.4" cy="116.7" r="1.01" fill="#5a9ad0" opacity="1.0"/>
<circle cx="153.5" cy="115.9" r="1.00" fill="#5a9ad0" opacity="1.0"/>
<circle cx="207.5" cy="117.3" r="1.15" fill="#4a8fc8" opacity="1.0"/>
<circle cx="222.2" cy="118.3" r="0.92" fill="#3a78b8" opacity="1.0"/>
<circle cx="160.8" cy="116.9" r="1.05" fill="#6aa5d5" opacity="1.0"/>
<circle cx="164.7" cy="115.9" r="1.01" fill="#3a78b8" opacity="1.0"/>
<circle cx="219.2" cy="117.6" r="0.92" fill="#3a78b8" opacity="1.0"/>
<circle cx="215.6" cy="117.8" r="1.01" fill="#5a9ad0" opacity="1.0"/>
<circle cx="227.4" cy="118.4" r="0.99" fill="#5a9ad0" opacity="1.0"/>
<circle cx="165.5" cy="118.8" r="1.18" fill="#3a78b8" opacity="1.0"/>
<circle cx="158.4" cy="118.2" r="1.26" fill="#3a7fb8" opacity="1.0"/>
<circle cx="215.4" cy="116.0" r="1.00" fill="#3a7fb8" opacity="1.0"/>
<circle cx="186.9" cy="117.8" r="1.23" fill="#5a9ad0" opacity="1.0"/>
<circle cx="172.7" cy="118.5" r="0.93" fill="#3a78b8" opacity="1.0"/>
<circle cx="157.3" cy="115.2" r="1.05" fill="#3a78b8" opacity="1.0"/>
<circle cx="215.9" cy="115.8" r="1.04" fill="#4a8fc8" opacity="1.0"/>
<circle cx="208.8" cy="115.1" r="1.28" fill="#4a8fc8" opacity="1.0"/>
<circle cx="149.2" cy="115.7" r="1.10" fill="#6aa5d5" opacity="1.0"/>
<circle cx="188.2" cy="117.2" r="1.03" fill="#4a8fc8" opacity="1.0"/>
<circle cx="211.7" cy="117.6" r="1.03" fill="#5a9ad0" opacity="1.0"/>
<circle cx="153.5" cy="116.2" r="1.26" fill="#4a8fc8" opacity="1.0"/>
<circle cx="181.4" cy="116.3" r="0.97" fill="#6aa5d5" opacity="1.0"/>
<circle cx="155.4" cy="116.6" r="0.99" fill="#3a78b8" opacity="1.0"/>
<circle cx="175.4" cy="115.2" r="1.28" fill="#5a9ad0" opacity="1.0"/>
<circle cx="213.5" cy="118.0" r="1.12" fill="#3a7fb8" opacity="1.0"/>
<circle cx="213.3" cy="115.4" r="1.09" fill="#3a78b8" opacity="1.0"/>
<circle cx="200.9" cy="115.8" r="0.95" fill="#6aa5d5" opacity="1.0"/>
<circle cx="189.3" cy="116.6" r="1.08" fill="#6aa5d5" opacity="1.0"/>
<circle cx="167.8" cy="115.0" r="0.93" fill="#6aa5d5" opacity="1.0"/>
<circle cx="150.3" cy="117.2" r="1.22" fill="#5a9ad0" opacity="1.0"/>
<ellipse cx="217.2" cy="149.1" rx="1.03" ry="0.55" fill="#a03090" opacity="1.0" transform="rotate(0 217.2 149.1)"/>
<ellipse cx="177.0" cy="148.1" rx="1.20" ry="0.68" fill="#7a4ab0" opacity="1.0" transform="rotate(0 177.0 148.1)"/>
<ellipse cx="184.8" cy="150.2" rx="1.63" ry="0.61" fill="#a03090" opacity="1.0" transform="rotate(0 184.8 150.2)"/>
<ellipse cx="169.3" cy="148.8" rx="1.75" ry="0.74" fill="#b04090" opacity="1.0" transform="rotate(0 169.3 148.8)"/>
<ellipse cx="195.8" cy="147.3" rx="1.71" ry="0.63" fill="#8a3aa0" opacity="1.0" transform="rotate(0 195.8 147.3)"/>
<ellipse cx="169.4" cy="148.2" rx="1.21" ry="0.46" fill="#8a3aa0" opacity="1.0" transform="rotate(0 169.4 148.2)"/>
<ellipse cx="188.5" cy="149.5" rx="1.23" ry="0.45" fill="#b04090" opacity="1.0" transform="rotate(0 188.5 149.5)"/>
<ellipse cx="169.8" cy="146.7" rx="1.45" ry="0.59" fill="#c050a0" opacity="1.0" transform="rotate(0 169.8 146.7)"/>
<ellipse cx="165.1" cy="151.3" rx="1.26" ry="0.57" fill="#a03090" opacity="1.0" transform="rotate(0 165.1 151.3)"/>
<ellipse cx="164.8" cy="146.5" rx="1.30" ry="0.59" fill="#a03090" opacity="1.0" transform="rotate(0 164.8 146.5)"/>
<ellipse cx="201.6" cy="149.6" rx="1.71" ry="0.74" fill="#c050a0" opacity="1.0" transform="rotate(0 201.6 149.6)"/>
<ellipse cx="193.5" cy="147.2" rx="1.37" ry="0.49" fill="#8a3aa0" opacity="1.0" transform="rotate(0 193.5 147.2)"/>
<ellipse cx="178.7" cy="146.1" rx="1.96" ry="0.66" fill="#7a4ab0" opacity="1.0" transform="rotate(0 178.7 146.1)"/>
<ellipse cx="176.8" cy="148.3" rx="1.42" ry="0.77" fill="#7a4ab0" opacity="1.0" transform="rotate(0 176.8 148.3)"/>
<ellipse cx="193.0" cy="149.3" rx="1.39" ry="0.54" fill="#c050a0" opacity="1.0" transform="rotate(0 193.0 149.3)"/>
<ellipse cx="189.0" cy="150.8" rx="1.72" ry="0.74" fill="#a03090" opacity="1.0" transform="rotate(0 189.0 150.8)"/>
<ellipse cx="209.9" cy="146.1" rx="1.56" ry="0.73" fill="#c050a0" opacity="1.0" transform="rotate(0 209.9 146.1)"/>
<ellipse cx="212.6" cy="148.1" rx="1.32" ry="0.54" fill="#a03090" opacity="1.0" transform="rotate(0 212.6 148.1)"/>
<ellipse cx="222.6" cy="146.6" rx="1.14" ry="0.63" fill="#7a4ab0" opacity="1.0" transform="rotate(0 222.6 146.6)"/>
<ellipse cx="185.1" cy="146.9" rx="0.68" ry="0.41" fill="#c050a0" opacity="1.0" transform="rotate(0 185.1 146.9)"/>
<ellipse cx="198.3" cy="148.6" rx="1.30" ry="0.54" fill="#c050a0" opacity="1.0" transform="rotate(0 198.3 148.6)"/>
<ellipse cx="179.0" cy="146.5" rx="1.16" ry="0.63" fill="#a03090" opacity="1.0" transform="rotate(0 179.0 146.5)"/>
<ellipse cx="164.2" cy="150.3" rx="2.07" ry="0.79" fill="#c050a0" opacity="1.0" transform="rotate(0 164.2 150.3)"/>
<ellipse cx="154.5" cy="150.8" rx="1.84" ry="0.80" fill="#b04090" opacity="1.0" transform="rotate(0 154.5 150.8)"/>
<ellipse cx="155.4" cy="146.8" rx="1.55" ry="0.56" fill="#7a4ab0" opacity="1.0" transform="rotate(0 155.4 146.8)"/>
<ellipse cx="177.8" cy="146.6" rx="1.04" ry="0.51" fill="#7a4ab0" opacity="1.0" transform="rotate(0 177.8 146.6)"/>
<ellipse cx="171.6" cy="150.8" rx="1.92" ry="0.79" fill="#7a4ab0" opacity="1.0" transform="rotate(0 171.6 150.8)"/>
<ellipse cx="213.5" cy="146.7" rx="1.24" ry="0.47" fill="#a03090" opacity="1.0" transform="rotate(0 213.5 146.7)"/>
<ellipse cx="200.7" cy="147.9" rx="2.17" ry="0.90" fill="#c050a0" opacity="1.0" transform="rotate(0 200.7 147.9)"/>
<ellipse cx="192.0" cy="147.2" rx="1.22" ry="0.72" fill="#c050a0" opacity="1.0" transform="rotate(0 192.0 147.2)"/>
<ellipse cx="219.9" cy="150.9" rx="0.81" ry="0.51" fill="#7a4ab0" opacity="1.0" transform="rotate(0 219.9 150.9)"/>
<ellipse cx="173.9" cy="146.7" rx="1.28" ry="0.45" fill="#8a3aa0" opacity="1.0" transform="rotate(0 173.9 146.7)"/>
<ellipse cx="207.9" cy="148.6" rx="1.44" ry="0.63" fill="#a03090" opacity="1.0" transform="rotate(0 207.9 148.6)"/>
<ellipse cx="206.5" cy="146.9" rx="1.05" ry="0.53" fill="#8a3aa0" opacity="1.0" transform="rotate(0 206.5 146.9)"/>
<ellipse cx="191.0" cy="147.3" rx="1.53" ry="0.68" fill="#a03090" opacity="1.0" transform="rotate(0 191.0 147.3)"/>
<ellipse cx="172.6" cy="147.7" rx="1.39" ry="0.89" fill="#8a3aa0" opacity="1.0" transform="rotate(0 172.6 147.7)"/>
<ellipse cx="155.4" cy="147.6" rx="1.65" ry="0.80" fill="#8a3aa0" opacity="1.0" transform="rotate(0 155.4 147.6)"/>
<ellipse cx="189.2" cy="148.7" rx="1.70" ry="0.58" fill="#b04090" opacity="1.0" transform="rotate(0 189.2 148.7)"/>
<ellipse cx="180.6" cy="147.3" rx="1.29" ry="0.78" fill="#c050a0" opacity="1.0" transform="rotate(0 180.6 147.3)"/>
<ellipse cx="203.8" cy="150.4" rx="1.61" ry="0.59" fill="#c050a0" opacity="1.0" transform="rotate(0 203.8 150.4)"/>
<ellipse cx="219.9" cy="147.8" rx="1.73" ry="0.84" fill="#8a3aa0" opacity="1.0" transform="rotate(0 219.9 147.8)"/>
<ellipse cx="177.6" cy="147.7" rx="1.26" ry="0.54" fill="#a03090" opacity="1.0" transform="rotate(0 177.6 147.7)"/>
<ellipse cx="205.0" cy="148.6" rx="2.40" ry="0.90" fill="#a03090" opacity="1.0" transform="rotate(0 205.0 148.6)"/>
<ellipse cx="198.9" cy="150.3" rx="1.57" ry="0.63" fill="#7a4ab0" opacity="1.0" transform="rotate(0 198.9 150.3)"/>
<ellipse cx="207.4" cy="146.5" rx="1.28" ry="0.58" fill="#7a4ab0" opacity="1.0" transform="rotate(0 207.4 146.5)"/>
<ellipse cx="172.4" cy="153.0" rx="1.97" ry="0.76" fill="#c890b0" opacity="1.0" transform="rotate(0 172.4 153.0)"/>
<ellipse cx="202.5" cy="154.2" rx="1.53" ry="0.64" fill="#c890b0" opacity="1.0" transform="rotate(0 202.5 154.2)"/>
<ellipse cx="180.8" cy="153.9" rx="1.12" ry="0.45" fill="#c890b0" opacity="1.0" transform="rotate(0 180.8 153.9)"/>
<ellipse cx="184.8" cy="153.6" rx="1.08" ry="0.41" fill="#a05a80" opacity="1.0" transform="rotate(0 184.8 153.6)"/>
<ellipse cx="198.7" cy="153.9" rx="2.17" ry="0.78" fill="#b04090" opacity="1.0" transform="rotate(0 198.7 153.9)"/>
<ellipse cx="177.8" cy="153.9" rx="0.92" ry="0.42" fill="#b04090" opacity="1.0" transform="rotate(0 177.8 153.9)"/>
<ellipse cx="162.7" cy="153.3" rx="1.10" ry="0.54" fill="#a05a80" opacity="1.0" transform="rotate(0 162.7 153.3)"/>
<ellipse cx="185.8" cy="154.6" rx="1.72" ry="0.67" fill="#b04090" opacity="1.0" transform="rotate(0 185.8 154.6)"/>
<ellipse cx="185.4" cy="152.9" rx="1.26" ry="0.62" fill="#c890b0" opacity="1.0" transform="rotate(0 185.4 152.9)"/>
<ellipse cx="201.6" cy="154.6" rx="2.23" ry="0.75" fill="#b04090" opacity="1.0" transform="rotate(0 201.6 154.6)"/>
<ellipse cx="167.9" cy="153.9" rx="1.42" ry="0.68" fill="#b04090" opacity="1.0" transform="rotate(0 167.9 153.9)"/>
<ellipse cx="168.4" cy="153.8" rx="1.84" ry="0.72" fill="#c890b0" opacity="1.0" transform="rotate(0 168.4 153.8)"/>
<ellipse cx="173.1" cy="154.3" rx="1.50" ry="0.67" fill="#b04090" opacity="1.0" transform="rotate(0 173.1 154.3)"/>
<ellipse cx="172.8" cy="152.8" rx="1.35" ry="0.46" fill="#a05a80" opacity="1.0" transform="rotate(0 172.8 152.8)"/>
<ellipse cx="187.8" cy="149.0" rx="34.89" ry="2.11" fill="#c04898" opacity="0.75" transform="rotate(-2 187.8 149.0)"/>
<ellipse cx="214.1" cy="147.3" rx="8.51" ry="1.98" fill="#b83888" opacity="0.85" transform="rotate(-4 214.1 147.3)"/>
<ellipse cx="181.8" cy="154.3" rx="22.98" ry="1.45" fill="#c070a8" opacity="0.7" transform="rotate(-2 181.8 154.3)"/>
<ellipse cx="169.0" cy="150.0" rx="8.51" ry="1.32" fill="#a848a8" opacity="0.8" transform="rotate(0 169.0 150.0)"/>
</g>
<line x1="209.88" y1="159.00" x2="223.49" y2="159.00" stroke="#333" stroke-width="0.9"/>
<line x1="214.13" y1="157.70" x2="219.24" y2="157.70" stroke="#666" stroke-width="0.6"/>
<path d="M203.1,148.0 L204.0,142.6 L208.5,147.1 z" fill="#111"/>
</g>
<rect x="143.50" y="98.50" width="85.10" height="66.00" fill="none" stroke="#8c8c8c" stroke-width="0.9"/>
<clipPath id="c31"><rect x="56.00" y="165.50" width="85.60" height="66.00"/></clipPath>
<g clip-path="url(#c31)">
<g filter="url(#bl35)">
<rect x="56.00" y="165.50" width="85.60" height="66.00" fill="#eef2f4"/>
<circle cx="56.9" cy="168.5" r="0.40" fill="#5a9ad0" opacity="1.0"/>
<circle cx="97.2" cy="184.3" r="0.33" fill="#4a8fc8" opacity="1.0"/>
<circle cx="66.5" cy="179.6" r="0.41" fill="#9ab8d8" opacity="1.0"/>
<circle cx="57.6" cy="190.3" r="0.40" fill="#3a7fb8" opacity="1.0"/>
<circle cx="102.0" cy="172.0" r="0.48" fill="#7aa0c8" opacity="1.0"/>
<circle cx="129.5" cy="187.6" r="0.39" fill="#6aa5d5" opacity="1.0"/>
<circle cx="112.6" cy="188.4" r="0.46" fill="#6aa5d5" opacity="1.0"/>
<circle cx="70.9" cy="182.4" r="0.35" fill="#3a7fb8" opacity="1.0"/>
<circle cx="100.1" cy="178.2" r="0.46" fill="#5a9ad0" opacity="1.0"/>
<circle cx="132.5" cy="186.4" r="0.38" fill="#9ab8d8" opacity="1.0"/>
<circle cx="120.6" cy="173.3" r="0.34" fill="#9ab8d8" opacity="1.0"/>
<circle cx="129.7" cy="183.2" r="0.37" fill="#5a9ad0" opacity="1.0"/>
<circle cx="71.6" cy="174.3" r="0.40" fill="#7aa0c8" opacity="1.0"/>
<circle cx="63.6" cy="191.5" r="0.33" fill="#3a7fb8" opacity="1.0"/>
<circle cx="132.3" cy="169.5" r="0.31" fill="#9ab8d8" opacity="1.0"/>
<circle cx="84.7" cy="181.7" r="0.46" fill="#4a8fc8" opacity="1.0"/>
<circle cx="117.4" cy="181.5" r="0.42" fill="#4a8fc8" opacity="1.0"/>
<circle cx="115.0" cy="191.5" r="0.39" fill="#6aa5d5" opacity="1.0"/>
<circle cx="90.3" cy="191.7" r="0.33" fill="#9ab8d8" opacity="1.0"/>
<circle cx="103.3" cy="171.0" r="0.35" fill="#3a7fb8" opacity="1.0"/>
<circle cx="98.7" cy="180.2" r="0.43" fill="#9ab8d8" opacity="1.0"/>
<circle cx="96.4" cy="184.4" r="0.42" fill="#6aa5d5" opacity="1.0"/>
<circle cx="84.6" cy="179.3" r="0.39" fill="#3a7fb8" opacity="1.0"/>
<circle cx="100.7" cy="169.9" r="0.51" fill="#6aa5d5" opacity="1.0"/>
<circle cx="74.9" cy="188.8" r="0.35" fill="#3a7fb8" opacity="1.0"/>
<circle cx="74.7" cy="186.1" r="0.48" fill="#4a8fc8" opacity="1.0"/>
<circle cx="119.8" cy="172.7" r="0.43" fill="#7aa0c8" opacity="1.0"/>
<circle cx="86.9" cy="187.1" r="0.40" fill="#5a9ad0" opacity="1.0"/>
<circle cx="78.9" cy="190.8" r="0.33" fill="#5a9ad0" opacity="1.0"/>
<circle cx="109.4" cy="188.9" r="0.41" fill="#7aa0c8" opacity="1.0"/>
<circle cx="58.6" cy="178.2" r="0.37" fill="#4a8fc8" opacity="1.0"/>
<circle cx="77.4" cy="172.7" r="0.37" fill="#5a9ad0" opacity="1.0"/>
<circle cx="87.1" cy="186.0" r="0.36" fill="#7aa0c8" opacity="1.0"/>
<circle cx="80.6" cy="168.0" r="0.44" fill="#3a7fb8" opacity="1.0"/>
<circle cx="93.9" cy="173.6" r="0.42" fill="#3a7fb8" opacity="1.0"/>
<circle cx="85.9" cy="183.4" r="0.44" fill="#6aa5d5" opacity="1.0"/>
<circle cx="100.0" cy="190.8" r="0.36" fill="#6aa5d5" opacity="1.0"/>
<circle cx="80.9" cy="191.5" r="0.50" fill="#5a9ad0" opacity="1.0"/>
<circle cx="114.6" cy="176.8" r="0.49" fill="#4a8fc8" opacity="1.0"/>
<circle cx="73.4" cy="188.2" r="0.44" fill="#6aa5d5" opacity="1.0"/>
<circle cx="89.9" cy="178.2" r="0.42" fill="#7aa0c8" opacity="1.0"/>
<circle cx="112.0" cy="174.4" r="0.34" fill="#3a7fb8" opacity="1.0"/>
<circle cx="99.9" cy="189.5" r="0.38" fill="#6aa5d5" opacity="1.0"/>
<circle cx="60.5" cy="188.5" r="0.41" fill="#6aa5d5" opacity="1.0"/>
<circle cx="86.9" cy="187.1" r="0.48" fill="#7aa0c8" opacity="1.0"/>
<circle cx="80.5" cy="171.8" r="0.36" fill="#4a8fc8" opacity="1.0"/>
<circle cx="101.1" cy="188.5" r="0.52" fill="#6aa5d5" opacity="1.0"/>
<circle cx="77.2" cy="174.5" r="0.53" fill="#3a7fb8" opacity="1.0"/>
<circle cx="119.2" cy="176.6" r="0.32" fill="#3a7fb8" opacity="1.0"/>
<circle cx="130.4" cy="168.6" r="0.51" fill="#3a7fb8" opacity="1.0"/>
<circle cx="116.1" cy="176.9" r="0.32" fill="#9ab8d8" opacity="1.0"/>
<circle cx="92.7" cy="169.3" r="0.41" fill="#3a7fb8" opacity="1.0"/>
<circle cx="80.2" cy="187.9" r="0.44" fill="#4a8fc8" opacity="1.0"/>
<circle cx="121.0" cy="187.1" r="0.47" fill="#9ab8d8" opacity="1.0"/>
<circle cx="115.1" cy="172.5" r="0.44" fill="#9ab8d8" opacity="1.0"/>
<circle cx="80.5" cy="181.5" r="0.47" fill="#7aa0c8" opacity="1.0"/>
<circle cx="67.4" cy="191.1" r="0.42" fill="#7aa0c8" opacity="1.0"/>
<circle cx="67.0" cy="177.5" r="0.35" fill="#5a9ad0" opacity="1.0"/>
<circle cx="101.0" cy="186.7" r="0.42" fill="#6aa5d5" opacity="1.0"/>
<circle cx="94.5" cy="183.0" r="0.35" fill="#3a7fb8" opacity="1.0"/>
<circle cx="110.5" cy="185.0" r="0.45" fill="#5a9ad0" opacity="1.0"/>
<circle cx="61.5" cy="189.2" r="0.46" fill="#5a9ad0" opacity="1.0"/>
<circle cx="57.4" cy="166.9" r="0.55" fill="#5a9ad0" opacity="1.0"/>
<circle cx="87.9" cy="173.4" r="0.31" fill="#4a8fc8" opacity="1.0"/>
<circle cx="87.1" cy="179.1" r="0.34" fill="#4a8fc8" opacity="1.0"/>
<circle cx="86.5" cy="173.1" r="0.49" fill="#4a8fc8" opacity="1.0"/>
<circle cx="75.2" cy="188.5" r="0.45" fill="#3a7fb8" opacity="1.0"/>
<circle cx="88.9" cy="191.7" r="0.46" fill="#7aa0c8" opacity="1.0"/>
<circle cx="99.1" cy="189.9" r="0.44" fill="#7aa0c8" opacity="1.0"/>
<circle cx="107.7" cy="189.2" r="0.37" fill="#5a9ad0" opacity="1.0"/>
<circle cx="68.4" cy="177.8" r="0.39" fill="#7aa0c8" opacity="1.0"/>
<circle cx="129.7" cy="172.5" r="0.52" fill="#7aa0c8" opacity="1.0"/>
<circle cx="89.4" cy="180.5" r="0.55" fill="#6aa5d5" opacity="1.0"/>
<circle cx="96.8" cy="181.2" r="0.51" fill="#9ab8d8" opacity="1.0"/>
<circle cx="101.3" cy="183.5" r="0.49" fill="#9ab8d8" opacity="1.0"/>
<circle cx="98.6" cy="165.5" r="0.43" fill="#6aa5d5" opacity="1.0"/>
<circle cx="77.7" cy="191.2" r="0.37" fill="#5a9ad0" opacity="1.0"/>
<circle cx="74.8" cy="170.4" r="0.42" fill="#9ab8d8" opacity="1.0"/>
<circle cx="102.3" cy="172.7" r="0.31" fill="#7aa0c8" opacity="1.0"/>
<circle cx="122.3" cy="166.2" r="0.40" fill="#7aa0c8" opacity="1.0"/>
<circle cx="90.4" cy="190.7" r="0.42" fill="#3a7fb8" opacity="1.0"/>
<circle cx="69.1" cy="174.5" r="0.54" fill="#3a7fb8" opacity="1.0"/>
<circle cx="65.7" cy="169.5" r="0.44" fill="#5a9ad0" opacity="1.0"/>
<circle cx="79.5" cy="177.1" r="0.36" fill="#9ab8d8" opacity="1.0"/>
<circle cx="122.9" cy="166.7" r="0.44" fill="#4a8fc8" opacity="1.0"/>
<circle cx="62.2" cy="167.2" r="0.51" fill="#3a7fb8" opacity="1.0"/>
<circle cx="119.3" cy="175.3" r="0.45" fill="#5a9ad0" opacity="1.0"/>
<circle cx="121.0" cy="188.8" r="0.55" fill="#7aa0c8" opacity="1.0"/>
<circle cx="108.9" cy="171.5" r="0.43" fill="#4a8fc8" opacity="1.0"/>
<circle cx="119.9" cy="191.8" r="0.45" fill="#5a9ad0" opacity="1.0"/>
<circle cx="91.0" cy="169.3" r="0.44" fill="#4a8fc8" opacity="1.0"/>
<circle cx="86.2" cy="181.0" r="0.32" fill="#3a7fb8" opacity="1.0"/>
<circle cx="78.5" cy="180.0" r="0.53" fill="#4a8fc8" opacity="1.0"/>
<circle cx="59.9" cy="175.0" r="0.53" fill="#5a9ad0" opacity="1.0"/>
<circle cx="66.3" cy="186.0" r="0.47" fill="#5a9ad0" opacity="1.0"/>
<circle cx="82.3" cy="187.2" r="0.36" fill="#6aa5d5" opacity="1.0"/>
<circle cx="122.9" cy="184.3" r="0.35" fill="#4a8fc8" opacity="1.0"/>
<circle cx="108.6" cy="180.7" r="0.52" fill="#9ab8d8" opacity="1.0"/>
<circle cx="117.3" cy="188.9" r="0.50" fill="#7aa0c8" opacity="1.0"/>
<circle cx="110.4" cy="179.3" r="0.51" fill="#9ab8d8" opacity="1.0"/>
<circle cx="114.9" cy="172.3" r="0.54" fill="#9ab8d8" opacity="1.0"/>
<circle cx="102.6" cy="186.9" r="0.54" fill="#9ab8d8" opacity="1.0"/>
<circle cx="96.0" cy="182.7" r="0.52" fill="#6aa5d5" opacity="1.0"/>
<circle cx="111.6" cy="175.9" r="0.48" fill="#4a8fc8" opacity="1.0"/>
<circle cx="113.6" cy="171.3" r="0.41" fill="#6aa5d5" opacity="1.0"/>
<circle cx="113.2" cy="187.6" r="0.33" fill="#7aa0c8" opacity="1.0"/>
<circle cx="103.7" cy="189.2" r="0.40" fill="#9ab8d8" opacity="1.0"/>
<circle cx="93.4" cy="172.8" r="0.34" fill="#9ab8d8" opacity="1.0"/>
<circle cx="89.0" cy="175.0" r="0.47" fill="#3a7fb8" opacity="1.0"/>
<circle cx="70.4" cy="165.9" r="0.50" fill="#7aa0c8" opacity="1.0"/>
<circle cx="82.2" cy="180.2" r="0.51" fill="#9ab8d8" opacity="1.0"/>
<circle cx="71.3" cy="173.0" r="0.31" fill="#7aa0c8" opacity="1.0"/>
<circle cx="68.9" cy="181.1" r="0.34" fill="#9ab8d8" opacity="1.0"/>
<circle cx="107.8" cy="181.3" r="0.35" fill="#4a8fc8" opacity="1.0"/>
<circle cx="95.3" cy="189.6" r="0.35" fill="#9ab8d8" opacity="1.0"/>
<circle cx="128.0" cy="174.1" r="0.50" fill="#6aa5d5" opacity="1.0"/>
<circle cx="84.8" cy="166.3" r="0.53" fill="#3a7fb8" opacity="1.0"/>
<circle cx="84.3" cy="171.6" r="0.46" fill="#6aa5d5" opacity="1.0"/>
<circle cx="114.7" cy="171.9" r="0.37" fill="#3a7fb8" opacity="1.0"/>
<circle cx="128.9" cy="189.1" r="0.42" fill="#9ab8d8" opacity="1.0"/>
<circle cx="122.0" cy="170.7" r="0.39" fill="#9ab8d8" opacity="1.0"/>
<circle cx="117.2" cy="184.3" r="0.43" fill="#3a7fb8" opacity="1.0"/>
<circle cx="60.0" cy="172.7" r="0.32" fill="#3a7fb8" opacity="1.0"/>
<circle cx="93.8" cy="190.8" r="0.41" fill="#7aa0c8" opacity="1.0"/>
<circle cx="132.1" cy="191.4" r="0.41" fill="#7aa0c8" opacity="1.0"/>
<circle cx="126.4" cy="170.2" r="0.41" fill="#3a7fb8" opacity="1.0"/>
<circle cx="83.6" cy="185.9" r="0.51" fill="#3a7fb8" opacity="1.0"/>
<circle cx="66.5" cy="169.0" r="0.46" fill="#4a8fc8" opacity="1.0"/>
<circle cx="98.6" cy="188.6" r="0.43" fill="#4a8fc8" opacity="1.0"/>
<circle cx="95.3" cy="166.8" r="0.42" fill="#3a7fb8" opacity="1.0"/>
<circle cx="127.1" cy="182.0" r="0.48" fill="#5a9ad0" opacity="1.0"/>
<circle cx="125.4" cy="191.1" r="0.40" fill="#7aa0c8" opacity="1.0"/>
<circle cx="77.9" cy="186.8" r="0.54" fill="#4a8fc8" opacity="1.0"/>
<circle cx="130.2" cy="182.4" r="0.39" fill="#5a9ad0" opacity="1.0"/>
<circle cx="88.4" cy="170.4" r="0.36" fill="#5a9ad0" opacity="1.0"/>
<circle cx="87.8" cy="179.5" r="0.36" fill="#9ab8d8" opacity="1.0"/>
<circle cx="92.5" cy="178.2" r="0.47" fill="#7aa0c8" opacity="1.0"/>
<circle cx="95.6" cy="174.6" r="0.32" fill="#9ab8d8" opacity="1.0"/>
<circle cx="58.3" cy="177.4" r="0.48" fill="#6aa5d5" opacity="1.0"/>
<circle cx="131.3" cy="181.0" r="0.54" fill="#9ab8d8" opacity="1.0"/>
<circle cx="97.0" cy="179.7" r="0.34" fill="#6aa5d5" opacity="1.0"/>
<circle cx="131.1" cy="171.0" r="0.51" fill="#7aa0c8" opacity="1.0"/>
<circle cx="105.2" cy="170.4" r="0.33" fill="#3a7fb8" opacity="1.0"/>
<circle cx="132.3" cy="179.7" r="0.39" fill="#6aa5d5" opacity="1.0"/>
<circle cx="94.5" cy="189.5" r="0.43" fill="#6aa5d5" opacity="1.0"/>
<circle cx="128.6" cy="169.1" r="0.48" fill="#9ab8d8" opacity="1.0"/>
<circle cx="75.5" cy="184.5" r="0.31" fill="#6aa5d5" opacity="1.0"/>
<circle cx="133.0" cy="188.6" r="0.36" fill="#6aa5d5" opacity="1.0"/>
<circle cx="119.8" cy="191.7" r="0.30" fill="#9ab8d8" opacity="1.0"/>
<circle cx="131.1" cy="188.0" r="0.41" fill="#3a7fb8" opacity="1.0"/>
<circle cx="84.9" cy="174.2" r="0.38" fill="#6aa5d5" opacity="1.0"/>
<circle cx="107.4" cy="187.3" r="0.37" fill="#6aa5d5" opacity="1.0"/>
<circle cx="111.0" cy="184.8" r="0.39" fill="#5a9ad0" opacity="1.0"/>
<circle cx="110.7" cy="168.8" r="0.44" fill="#3a7fb8" opacity="1.0"/>
<circle cx="122.8" cy="177.6" r="0.34" fill="#6aa5d5" opacity="1.0"/>
<circle cx="127.3" cy="181.8" r="0.54" fill="#5a9ad0" opacity="1.0"/>
<circle cx="57.5" cy="182.6" r="0.41" fill="#7aa0c8" opacity="1.0"/>
<circle cx="80.9" cy="178.0" r="0.54" fill="#3a7fb8" opacity="1.0"/>
<circle cx="74.6" cy="190.5" r="0.52" fill="#7aa0c8" opacity="1.0"/>
<circle cx="64.1" cy="185.9" r="0.42" fill="#4a8fc8" opacity="1.0"/>
<circle cx="74.2" cy="177.4" r="0.41" fill="#7aa0c8" opacity="1.0"/>
<circle cx="58.3" cy="184.0" r="0.50" fill="#4a8fc8" opacity="1.0"/>
<circle cx="66.0" cy="175.2" r="0.35" fill="#6aa5d5" opacity="1.0"/>
<circle cx="89.0" cy="186.9" r="0.41" fill="#3a7fb8" opacity="1.0"/>
<circle cx="91.5" cy="176.0" r="0.31" fill="#9ab8d8" opacity="1.0"/>
<circle cx="94.2" cy="184.9" r="0.53" fill="#7aa0c8" opacity="1.0"/>
<circle cx="80.4" cy="175.3" r="0.53" fill="#4a8fc8" opacity="1.0"/>
<circle cx="105.2" cy="176.8" r="0.36" fill="#9ab8d8" opacity="1.0"/>
<circle cx="114.0" cy="167.6" r="0.30" fill="#4a8fc8" opacity="1.0"/>
<circle cx="89.1" cy="168.8" r="0.36" fill="#6aa5d5" opacity="1.0"/>
<circle cx="115.6" cy="174.1" r="0.31" fill="#4a8fc8" opacity="1.0"/>
<circle cx="106.8" cy="188.7" r="0.43" fill="#9ab8d8" opacity="1.0"/>
<circle cx="71.1" cy="187.6" r="0.30" fill="#9ab8d8" opacity="1.0"/>
<circle cx="66.6" cy="189.8" r="0.42" fill="#5a9ad0" opacity="1.0"/>
<circle cx="68.5" cy="185.5" r="0.33" fill="#5a9ad0" opacity="1.0"/>
<circle cx="59.0" cy="166.1" r="0.47" fill="#6aa5d5" opacity="1.0"/>
<circle cx="107.1" cy="173.7" r="0.36" fill="#4a8fc8" opacity="1.0"/>
<circle cx="56.5" cy="185.9" r="0.36" fill="#7aa0c8" opacity="1.0"/>
<circle cx="69.1" cy="189.9" r="0.55" fill="#7aa0c8" opacity="1.0"/>
<circle cx="108.9" cy="187.0" r="0.53" fill="#9ab8d8" opacity="1.0"/>
<circle cx="70.5" cy="174.3" r="0.38" fill="#5a9ad0" opacity="1.0"/>
<circle cx="91.8" cy="185.0" r="0.48" fill="#9ab8d8" opacity="1.0"/>
<circle cx="67.0" cy="188.0" r="0.51" fill="#6aa5d5" opacity="1.0"/>
<circle cx="131.6" cy="188.7" r="0.45" fill="#7aa0c8" opacity="1.0"/>
<circle cx="115.7" cy="168.6" r="0.50" fill="#3a7fb8" opacity="1.0"/>
<circle cx="75.6" cy="187.0" r="0.47" fill="#3a7fb8" opacity="1.0"/>
<circle cx="120.5" cy="191.7" r="0.47" fill="#9ab8d8" opacity="1.0"/>
<circle cx="84.3" cy="167.3" r="0.54" fill="#3a7fb8" opacity="1.0"/>
<circle cx="82.1" cy="169.4" r="0.50" fill="#6aa5d5" opacity="1.0"/>
<circle cx="127.0" cy="182.0" r="0.52" fill="#6aa5d5" opacity="1.0"/>
<circle cx="109.0" cy="176.2" r="0.38" fill="#4a8fc8" opacity="1.0"/>
<circle cx="104.3" cy="181.9" r="0.43" fill="#5a9ad0" opacity="1.0"/>
<circle cx="128.2" cy="185.8" r="0.48" fill="#5a9ad0" opacity="1.0"/>
<circle cx="69.1" cy="178.1" r="0.55" fill="#4a8fc8" opacity="1.0"/>
<circle cx="109.9" cy="169.7" r="0.41" fill="#4a8fc8" opacity="1.0"/>
<circle cx="60.9" cy="166.3" r="0.37" fill="#3a7fb8" opacity="1.0"/>
<circle cx="63.6" cy="191.9" r="0.48" fill="#4a8fc8" opacity="1.0"/>
<circle cx="95.8" cy="182.6" r="0.44" fill="#5a9ad0" opacity="1.0"/>
<circle cx="56.2" cy="170.8" r="0.34" fill="#7aa0c8" opacity="1.0"/>
<circle cx="62.4" cy="171.8" r="0.30" fill="#7aa0c8" opacity="1.0"/>
<circle cx="81.6" cy="176.8" r="0.39" fill="#4a8fc8" opacity="1.0"/>
<circle cx="112.3" cy="170.4" r="0.46" fill="#5a9ad0" opacity="1.0"/>
<circle cx="70.5" cy="176.4" r="0.45" fill="#9ab8d8" opacity="1.0"/>
<circle cx="110.9" cy="176.9" r="0.49" fill="#4a8fc8" opacity="1.0"/>
<circle cx="109.6" cy="180.2" r="0.49" fill="#4a8fc8" opacity="1.0"/>
<circle cx="100.0" cy="183.5" r="0.35" fill="#5a9ad0" opacity="1.0"/>
<circle cx="84.5" cy="186.0" r="0.54" fill="#3a7fb8" opacity="1.0"/>
<circle cx="124.7" cy="178.4" r="0.35" fill="#4a8fc8" opacity="1.0"/>
<circle cx="121.7" cy="185.3" r="0.33" fill="#3a7fb8" opacity="1.0"/>
<circle cx="71.6" cy="185.9" r="0.42" fill="#3a7fb8" opacity="1.0"/>
<circle cx="84.4" cy="181.2" r="0.47" fill="#4a8fc8" opacity="1.0"/>
<circle cx="98.5" cy="184.1" r="0.49" fill="#3a7fb8" opacity="1.0"/>
<circle cx="91.6" cy="176.5" r="0.31" fill="#4a8fc8" opacity="1.0"/>
<circle cx="92.8" cy="185.1" r="0.37" fill="#4a8fc8" opacity="1.0"/>
<circle cx="57.3" cy="189.5" r="0.31" fill="#4a8fc8" opacity="1.0"/>
<circle cx="104.8" cy="166.7" r="0.40" fill="#3a7fb8" opacity="1.0"/>
<circle cx="79.2" cy="186.8" r="0.36" fill="#4a8fc8" opacity="1.0"/>
<circle cx="73.3" cy="185.6" r="0.52" fill="#9ab8d8" opacity="1.0"/>
<circle cx="122.4" cy="176.1" r="0.42" fill="#7aa0c8" opacity="1.0"/>
<circle cx="81.3" cy="170.0" r="0.36" fill="#9ab8d8" opacity="1.0"/>
<line x1="132.2" y1="204.3" x2="135.2" y2="204.7" stroke="#c070b0" stroke-width="0.7" opacity="1"/>
<line x1="114.8" y1="204.3" x2="118.5" y2="204.9" stroke="#c070b0" stroke-width="0.7" opacity="1"/>
<line x1="64.0" y1="197.9" x2="69.3" y2="196.5" stroke="#a03070" stroke-width="0.7" opacity="1"/>
<line x1="103.7" y1="191.3" x2="108.5" y2="190.5" stroke="#b0308a" stroke-width="0.7" opacity="1"/>
<line x1="117.0" y1="197.5" x2="122.9" y2="197.5" stroke="#b04080" stroke-width="0.7" opacity="1"/>
<line x1="69.0" y1="196.5" x2="71.5" y2="196.5" stroke="#a02878" stroke-width="0.7" opacity="1"/>
<line x1="134.3" y1="194.2" x2="138.5" y2="194.8" stroke="#b0308a" stroke-width="0.7" opacity="1"/>
<line x1="107.1" y1="204.2" x2="113.0" y2="204.4" stroke="#a03070" stroke-width="0.7" opacity="1"/>
<line x1="56.7" y1="200.2" x2="62.3" y2="198.8" stroke="#c070b0" stroke-width="0.7" opacity="1"/>
<line x1="67.4" y1="204.2" x2="72.6" y2="203.0" stroke="#b04080" stroke-width="0.7" opacity="1"/>
<line x1="96.0" y1="194.9" x2="101.0" y2="196.0" stroke="#c070b0" stroke-width="0.7" opacity="1"/>
<line x1="117.0" y1="194.7" x2="120.9" y2="194.8" stroke="#d050a8" stroke-width="0.7" opacity="1"/>
<line x1="78.6" y1="201.2" x2="81.9" y2="200.3" stroke="#c040a0" stroke-width="0.7" opacity="1"/>
<line x1="82.5" y1="201.3" x2="86.9" y2="202.3" stroke="#c040a0" stroke-width="0.7" opacity="1"/>
<line x1="91.4" y1="201.1" x2="93.9" y2="200.5" stroke="#c070b0" stroke-width="0.7" opacity="1"/>
<line x1="102.3" y1="190.8" x2="104.8" y2="191.1" stroke="#c070b0" stroke-width="0.7" opacity="1"/>
<line x1="122.0" y1="192.7" x2="125.3" y2="192.9" stroke="#d050a8" stroke-width="0.7" opacity="1"/>
<line x1="101.7" y1="204.3" x2="105.6" y2="204.2" stroke="#d050a8" stroke-width="0.7" opacity="1"/>
<line x1="121.8" y1="203.1" x2="127.6" y2="202.2" stroke="#d050a8" stroke-width="0.7" opacity="1"/>
<line x1="99.5" y1="199.2" x2="105.2" y2="200.0" stroke="#a02878" stroke-width="0.7" opacity="1"/>
<line x1="113.4" y1="204.3" x2="116.1" y2="204.0" stroke="#c040a0" stroke-width="0.7" opacity="1"/>
<line x1="126.3" y1="202.1" x2="131.1" y2="202.1" stroke="#d050a8" stroke-width="0.7" opacity="1"/>
<line x1="111.8" y1="205.4" x2="117.3" y2="205.4" stroke="#c070b0" stroke-width="0.7" opacity="1"/>
<line x1="62.2" y1="191.7" x2="65.2" y2="191.1" stroke="#c040a0" stroke-width="0.7" opacity="1"/>
<line x1="74.1" y1="192.1" x2="78.8" y2="191.4" stroke="#b0308a" stroke-width="0.7" opacity="1"/>
<line x1="61.9" y1="196.0" x2="66.5" y2="197.1" stroke="#a02878" stroke-width="0.7" opacity="1"/>
<line x1="134.9" y1="190.7" x2="137.3" y2="190.6" stroke="#c070b0" stroke-width="0.7" opacity="1"/>
<line x1="141.5" y1="202.2" x2="145.3" y2="202.8" stroke="#a02878" stroke-width="0.7" opacity="1"/>
<line x1="76.3" y1="204.5" x2="81.0" y2="204.7" stroke="#a02878" stroke-width="0.7" opacity="1"/>
<line x1="59.5" y1="200.7" x2="63.4" y2="200.3" stroke="#d050a8" stroke-width="0.7" opacity="1"/>
<line x1="76.9" y1="194.6" x2="79.5" y2="194.9" stroke="#c070b0" stroke-width="0.7" opacity="1"/>
<line x1="113.1" y1="199.7" x2="117.2" y2="198.9" stroke="#c070b0" stroke-width="0.7" opacity="1"/>
<line x1="127.9" y1="206.0" x2="131.4" y2="206.6" stroke="#d050a8" stroke-width="0.7" opacity="1"/>
<line x1="121.7" y1="192.0" x2="123.8" y2="191.8" stroke="#b04080" stroke-width="0.7" opacity="1"/>
<line x1="139.3" y1="193.1" x2="142.4" y2="193.2" stroke="#a03070" stroke-width="0.7" opacity="1"/>
<line x1="65.7" y1="202.8" x2="69.1" y2="203.0" stroke="#b0308a" stroke-width="0.7" opacity="1"/>
<line x1="132.2" y1="200.1" x2="136.1" y2="199.6" stroke="#c070b0" stroke-width="0.7" opacity="1"/>
<line x1="92.3" y1="197.9" x2="94.5" y2="197.6" stroke="#a02878" stroke-width="0.7" opacity="1"/>
<line x1="67.4" y1="204.8" x2="69.4" y2="205.2" stroke="#a02878" stroke-width="0.7" opacity="1"/>
<line x1="79.7" y1="206.0" x2="85.4" y2="207.5" stroke="#a02878" stroke-width="0.7" opacity="1"/>
<line x1="64.7" y1="191.2" x2="68.0" y2="191.4" stroke="#a02878" stroke-width="0.7" opacity="1"/>
<line x1="78.6" y1="191.6" x2="84.0" y2="190.3" stroke="#a03070" stroke-width="0.7" opacity="1"/>
<line x1="106.9" y1="191.5" x2="112.2" y2="191.2" stroke="#b04080" stroke-width="0.7" opacity="1"/>
<line x1="139.7" y1="201.3" x2="141.7" y2="200.9" stroke="#a03070" stroke-width="0.7" opacity="1"/>
<line x1="135.0" y1="196.8" x2="137.9" y2="196.6" stroke="#b0308a" stroke-width="0.7" opacity="1"/>
<line x1="98.4" y1="198.2" x2="103.4" y2="197.3" stroke="#c040a0" stroke-width="0.7" opacity="1"/>
<line x1="85.3" y1="191.6" x2="88.0" y2="192.0" stroke="#b04080" stroke-width="0.7" opacity="1"/>
<line x1="104.8" y1="196.9" x2="107.1" y2="196.9" stroke="#b0308a" stroke-width="0.7" opacity="1"/>
<line x1="65.7" y1="195.7" x2="70.0" y2="196.6" stroke="#c040a0" stroke-width="0.7" opacity="1"/>
<line x1="61.9" y1="196.9" x2="67.0" y2="197.9" stroke="#c040a0" stroke-width="0.7" opacity="1"/>
<line x1="89.8" y1="191.4" x2="95.4" y2="190.6" stroke="#b04080" stroke-width="0.7" opacity="1"/>
<line x1="128.7" y1="200.7" x2="134.1" y2="200.8" stroke="#d050a8" stroke-width="0.7" opacity="1"/>
<line x1="133.3" y1="203.3" x2="138.8" y2="204.5" stroke="#c040a0" stroke-width="0.7" opacity="1"/>
<line x1="134.9" y1="205.8" x2="137.4" y2="205.5" stroke="#a03070" stroke-width="0.7" opacity="1"/>
<line x1="72.9" y1="193.3" x2="77.4" y2="192.1" stroke="#a03070" stroke-width="0.7" opacity="1"/>
<line x1="107.6" y1="202.8" x2="110.6" y2="203.0" stroke="#c040a0" stroke-width="0.7" opacity="1"/>
<line x1="131.9" y1="196.8" x2="137.0" y2="197.8" stroke="#b04080" stroke-width="0.7" opacity="1"/>
<line x1="82.3" y1="190.8" x2="87.0" y2="189.9" stroke="#b04080" stroke-width="0.7" opacity="1"/>
<line x1="97.4" y1="200.0" x2="103.2" y2="199.6" stroke="#b0308a" stroke-width="0.7" opacity="1"/>
<line x1="118.7" y1="197.3" x2="122.8" y2="196.5" stroke="#a02878" stroke-width="0.7" opacity="1"/>
<line x1="62.9" y1="223.4" x2="63.6" y2="220.4" stroke="#a02878" stroke-width="0.6" opacity="1"/>
<line x1="117.4" y1="227.1" x2="119.6" y2="231.7" stroke="#b07050" stroke-width="0.6" opacity="1"/>
<line x1="83.3" y1="219.4" x2="83.6" y2="223.5" stroke="#c070b0" stroke-width="0.6" opacity="1"/>
<line x1="105.2" y1="228.3" x2="109.0" y2="226.1" stroke="#b07050" stroke-width="0.6" opacity="1"/>
<line x1="86.3" y1="227.9" x2="90.8" y2="226.8" stroke="#c070b0" stroke-width="0.6" opacity="1"/>
<line x1="91.8" y1="212.8" x2="92.7" y2="215.3" stroke="#d050a8" stroke-width="0.6" opacity="1"/>
<line x1="136.0" y1="212.4" x2="136.9" y2="216.0" stroke="#d050a8" stroke-width="0.6" opacity="1"/>
<line x1="70.3" y1="228.8" x2="74.3" y2="228.3" stroke="#d050a8" stroke-width="0.6" opacity="1"/>
<line x1="64.8" y1="211.9" x2="69.7" y2="212.8" stroke="#d050a8" stroke-width="0.6" opacity="1"/>
<line x1="69.0" y1="208.2" x2="71.7" y2="204.4" stroke="#c070b0" stroke-width="0.6" opacity="1"/>
<line x1="138.0" y1="205.7" x2="140.7" y2="208.3" stroke="#a0522d" stroke-width="0.6" opacity="1"/>
<line x1="80.7" y1="206.1" x2="80.9" y2="200.3" stroke="#c040a0" stroke-width="0.6" opacity="1"/>
<line x1="117.5" y1="218.0" x2="120.2" y2="213.6" stroke="#a02878" stroke-width="0.6" opacity="1"/>
<line x1="63.3" y1="205.8" x2="65.3" y2="205.3" stroke="#d050a8" stroke-width="0.6" opacity="1"/>
<line x1="110.3" y1="207.5" x2="110.5" y2="210.5" stroke="#d050a8" stroke-width="0.6" opacity="1"/>
<line x1="120.3" y1="205.3" x2="123.6" y2="204.9" stroke="#c040a0" stroke-width="0.6" opacity="1"/>
<line x1="66.3" y1="227.3" x2="71.9" y2="229.2" stroke="#a02878" stroke-width="0.6" opacity="1"/>
<line x1="131.3" y1="208.2" x2="132.6" y2="205.5" stroke="#c040a0" stroke-width="0.6" opacity="1"/>
<line x1="70.1" y1="209.6" x2="70.3" y2="207.2" stroke="#c040a0" stroke-width="0.6" opacity="1"/>
<line x1="62.3" y1="229.1" x2="65.0" y2="224.8" stroke="#c040a0" stroke-width="0.6" opacity="1"/>
<line x1="138.2" y1="213.4" x2="139.7" y2="217.2" stroke="#a02878" stroke-width="0.6" opacity="1"/>
<line x1="136.1" y1="214.6" x2="140.8" y2="213.0" stroke="#a02878" stroke-width="0.6" opacity="1"/>
<line x1="120.6" y1="215.8" x2="123.4" y2="214.2" stroke="#c040a0" stroke-width="0.6" opacity="1"/>
<line x1="84.5" y1="219.4" x2="88.3" y2="218.2" stroke="#b07050" stroke-width="0.6" opacity="1"/>
<line x1="99.5" y1="218.7" x2="102.7" y2="222.4" stroke="#c040a0" stroke-width="0.6" opacity="1"/>
<line x1="131.4" y1="229.1" x2="132.5" y2="231.6" stroke="#b07050" stroke-width="0.6" opacity="1"/>
<line x1="103.6" y1="209.0" x2="104.4" y2="214.1" stroke="#a0522d" stroke-width="0.6" opacity="1"/>
<line x1="73.2" y1="217.9" x2="73.4" y2="215.4" stroke="#a02878" stroke-width="0.6" opacity="1"/>
<line x1="120.6" y1="216.2" x2="123.7" y2="212.5" stroke="#b0308a" stroke-width="0.6" opacity="1"/>
<line x1="124.6" y1="225.3" x2="125.1" y2="221.9" stroke="#b07050" stroke-width="0.6" opacity="1"/>
<line x1="80.8" y1="222.4" x2="84.6" y2="222.5" stroke="#c070b0" stroke-width="0.6" opacity="1"/>
<line x1="120.5" y1="213.3" x2="120.9" y2="216.1" stroke="#d050a8" stroke-width="0.6" opacity="1"/>
<line x1="103.8" y1="208.0" x2="108.4" y2="205.0" stroke="#d050a8" stroke-width="0.6" opacity="1"/>
<line x1="70.5" y1="223.3" x2="71.8" y2="225.4" stroke="#d050a8" stroke-width="0.6" opacity="1"/>
<line x1="112.3" y1="207.1" x2="114.3" y2="206.8" stroke="#c070b0" stroke-width="0.6" opacity="1"/>
<line x1="57.1" y1="210.9" x2="60.8" y2="212.5" stroke="#b07050" stroke-width="0.6" opacity="1"/>
<line x1="77.0" y1="218.6" x2="77.5" y2="222.1" stroke="#a0522d" stroke-width="0.6" opacity="1"/>
<line x1="108.5" y1="218.7" x2="111.1" y2="216.9" stroke="#a02878" stroke-width="0.6" opacity="1"/>
<line x1="108.6" y1="217.7" x2="109.8" y2="214.8" stroke="#c040a0" stroke-width="0.6" opacity="1"/>
<line x1="89.9" y1="215.8" x2="94.2" y2="217.6" stroke="#c070b0" stroke-width="0.6" opacity="1"/>
<line x1="120.9" y1="208.8" x2="124.5" y2="205.9" stroke="#b0308a" stroke-width="0.6" opacity="1"/>
<line x1="121.5" y1="213.3" x2="123.9" y2="210.8" stroke="#b0308a" stroke-width="0.6" opacity="1"/>
<line x1="82.8" y1="220.6" x2="86.7" y2="219.8" stroke="#a0522d" stroke-width="0.6" opacity="1"/>
<line x1="61.9" y1="220.2" x2="64.1" y2="219.1" stroke="#c040a0" stroke-width="0.6" opacity="1"/>
<line x1="106.1" y1="222.1" x2="109.5" y2="223.4" stroke="#d050a8" stroke-width="0.6" opacity="1"/>
<line x1="79.1" y1="213.3" x2="81.8" y2="217.0" stroke="#b0308a" stroke-width="0.6" opacity="1"/>
<line x1="88.0" y1="211.4" x2="91.2" y2="214.1" stroke="#b0308a" stroke-width="0.6" opacity="1"/>
<line x1="93.0" y1="216.7" x2="95.4" y2="221.7" stroke="#c040a0" stroke-width="0.6" opacity="1"/>
<line x1="81.1" y1="219.2" x2="81.1" y2="214.9" stroke="#c070b0" stroke-width="0.6" opacity="1"/>
<line x1="135.7" y1="228.4" x2="139.1" y2="227.5" stroke="#b0308a" stroke-width="0.6" opacity="1"/>
<line x1="111.9" y1="229.4" x2="113.1" y2="226.4" stroke="#d050a8" stroke-width="0.6" opacity="1"/>
<line x1="63.5" y1="220.4" x2="64.2" y2="225.9" stroke="#b07050" stroke-width="0.6" opacity="1"/>
<line x1="73.8" y1="215.7" x2="77.3" y2="220.2" stroke="#c070b0" stroke-width="0.6" opacity="1"/>
<line x1="85.5" y1="222.2" x2="85.6" y2="217.3" stroke="#c040a0" stroke-width="0.6" opacity="1"/>
<line x1="80.2" y1="213.9" x2="80.8" y2="210.8" stroke="#a0522d" stroke-width="0.6" opacity="1"/>
<line x1="119.3" y1="223.2" x2="123.3" y2="219.9" stroke="#c070b0" stroke-width="0.6" opacity="1"/>
<line x1="58.2" y1="208.4" x2="59.7" y2="211.2" stroke="#b07050" stroke-width="0.6" opacity="1"/>
<line x1="86.9" y1="225.2" x2="87.8" y2="221.4" stroke="#b07050" stroke-width="0.6" opacity="1"/>
<line x1="117.5" y1="224.1" x2="119.7" y2="224.8" stroke="#a02878" stroke-width="0.6" opacity="1"/>
<line x1="124.4" y1="225.1" x2="127.5" y2="221.9" stroke="#b07050" stroke-width="0.6" opacity="1"/>
<line x1="99.8" y1="219.3" x2="103.8" y2="219.3" stroke="#d050a8" stroke-width="0.6" opacity="1"/>
<line x1="100.2" y1="219.8" x2="102.5" y2="214.5" stroke="#a02878" stroke-width="0.6" opacity="1"/>
<line x1="84.1" y1="208.0" x2="88.2" y2="210.1" stroke="#a0522d" stroke-width="0.6" opacity="1"/>
<line x1="76.6" y1="213.4" x2="80.4" y2="214.3" stroke="#c040a0" stroke-width="0.6" opacity="1"/>
<line x1="57.0" y1="213.3" x2="60.3" y2="216.2" stroke="#c070b0" stroke-width="0.6" opacity="1"/>
<line x1="132.5" y1="212.3" x2="133.9" y2="214.6" stroke="#b07050" stroke-width="0.6" opacity="1"/>
<line x1="59.4" y1="208.7" x2="62.2" y2="207.9" stroke="#c040a0" stroke-width="0.6" opacity="1"/>
<line x1="85.6" y1="221.2" x2="90.7" y2="220.2" stroke="#d050a8" stroke-width="0.6" opacity="1"/>
<line x1="84.4" y1="227.1" x2="87.6" y2="230.3" stroke="#a02878" stroke-width="0.6" opacity="1"/>
<line x1="62.2" y1="211.4" x2="62.6" y2="209.1" stroke="#c040a0" stroke-width="0.6" opacity="1"/>
<line x1="93.7" y1="208.2" x2="95.0" y2="204.7" stroke="#a02878" stroke-width="0.6" opacity="1"/>
<line x1="121.3" y1="213.3" x2="124.2" y2="208.9" stroke="#c040a0" stroke-width="0.6" opacity="1"/>
<line x1="130.9" y1="211.6" x2="132.8" y2="215.2" stroke="#a02878" stroke-width="0.6" opacity="1"/>
<line x1="134.3" y1="220.8" x2="139.7" y2="222.9" stroke="#c070b0" stroke-width="0.6" opacity="1"/>
<line x1="140.9" y1="207.0" x2="141.8" y2="204.4" stroke="#b07050" stroke-width="0.6" opacity="1"/>
<line x1="104.9" y1="211.2" x2="105.8" y2="208.5" stroke="#b0308a" stroke-width="0.6" opacity="1"/>
<line x1="73.2" y1="218.2" x2="73.8" y2="215.9" stroke="#d050a8" stroke-width="0.6" opacity="1"/>
<line x1="71.7" y1="213.0" x2="77.5" y2="212.1" stroke="#c070b0" stroke-width="0.6" opacity="1"/>
<line x1="83.4" y1="215.8" x2="86.9" y2="212.3" stroke="#c040a0" stroke-width="0.6" opacity="1"/>
<line x1="67.9" y1="210.5" x2="68.7" y2="212.6" stroke="#d050a8" stroke-width="0.6" opacity="1"/>
<line x1="128.2" y1="218.8" x2="133.1" y2="220.8" stroke="#a0522d" stroke-width="0.6" opacity="1"/>
<line x1="132.6" y1="221.7" x2="136.7" y2="220.7" stroke="#c040a0" stroke-width="0.6" opacity="1"/>
<line x1="107.1" y1="219.4" x2="111.9" y2="218.9" stroke="#c070b0" stroke-width="0.6" opacity="1"/>
<line x1="118.5" y1="222.6" x2="120.3" y2="224.3" stroke="#a02878" stroke-width="0.6" opacity="1"/>
<line x1="121.8" y1="210.4" x2="122.1" y2="214.2" stroke="#b07050" stroke-width="0.6" opacity="1"/>
<line x1="56.4" y1="207.0" x2="57.7" y2="205.0" stroke="#b0308a" stroke-width="0.6" opacity="1"/>
<line x1="123.0" y1="212.5" x2="124.2" y2="215.6" stroke="#d050a8" stroke-width="0.6" opacity="1"/>
<line x1="84.8" y1="220.5" x2="87.8" y2="217.5" stroke="#c040a0" stroke-width="0.6" opacity="1"/>
<line x1="123.5" y1="207.7" x2="125.1" y2="212.9" stroke="#c070b0" stroke-width="0.6" opacity="1"/>
<line x1="128.0" y1="227.0" x2="130.8" y2="227.9" stroke="#d050a8" stroke-width="0.6" opacity="1"/>
<circle cx="76.1" cy="196.9" r="0.57" fill="#b0308a" opacity="1.0"/>
<circle cx="91.6" cy="203.4" r="0.32" fill="#a02878" opacity="1.0"/>
<circle cx="67.0" cy="202.0" r="0.31" fill="#b0308a" opacity="1.0"/>
<circle cx="133.9" cy="194.3" r="0.48" fill="#a02878" opacity="1.0"/>
<circle cx="110.2" cy="220.5" r="0.54" fill="#c07038" opacity="1.0"/>
<circle cx="118.3" cy="226.4" r="0.31" fill="#d050a8" opacity="1.0"/>
<circle cx="95.0" cy="216.3" r="0.45" fill="#a02878" opacity="1.0"/>
<circle cx="95.6" cy="194.3" r="0.60" fill="#a02878" opacity="1.0"/>
<circle cx="79.6" cy="221.2" r="0.60" fill="#a0522d" opacity="1.0"/>
<circle cx="87.0" cy="226.3" r="0.54" fill="#a0522d" opacity="1.0"/>
<circle cx="59.6" cy="203.4" r="0.33" fill="#c07038" opacity="1.0"/>
<circle cx="94.9" cy="208.4" r="0.59" fill="#d050a8" opacity="1.0"/>
<circle cx="80.7" cy="193.8" r="0.36" fill="#c040a0" opacity="1.0"/>
<circle cx="106.1" cy="216.6" r="0.57" fill="#b0308a" opacity="1.0"/>
<circle cx="71.0" cy="192.1" r="0.55" fill="#d050a8" opacity="1.0"/>
<circle cx="101.5" cy="227.1" r="0.35" fill="#a0522d" opacity="1.0"/>
<circle cx="131.9" cy="225.5" r="0.54" fill="#d050a8" opacity="1.0"/>
<circle cx="80.1" cy="228.0" r="0.34" fill="#a02878" opacity="1.0"/>
<circle cx="78.7" cy="197.5" r="0.48" fill="#d050a8" opacity="1.0"/>
<circle cx="138.7" cy="201.7" r="0.38" fill="#c040a0" opacity="1.0"/>
<circle cx="128.4" cy="219.3" r="0.36" fill="#c07038" opacity="1.0"/>
<circle cx="62.0" cy="226.4" r="0.48" fill="#d050a8" opacity="1.0"/>
<circle cx="87.0" cy="207.7" r="0.41" fill="#c07038" opacity="1.0"/>
<circle cx="111.5" cy="208.4" r="0.38" fill="#c07038" opacity="1.0"/>
<circle cx="108.7" cy="198.6" r="0.45" fill="#a02878" opacity="1.0"/>
<circle cx="118.0" cy="222.0" r="0.57" fill="#c07038" opacity="1.0"/>
<circle cx="63.8" cy="217.1" r="0.38" fill="#a0522d" opacity="1.0"/>
<circle cx="61.0" cy="206.8" r="0.31" fill="#a02878" opacity="1.0"/>
<circle cx="63.5" cy="220.2" r="0.44" fill="#d050a8" opacity="1.0"/>
<circle cx="131.5" cy="195.8" r="0.44" fill="#b0308a" opacity="1.0"/>
<circle cx="88.2" cy="199.8" r="0.36" fill="#b0308a" opacity="1.0"/>
<circle cx="76.3" cy="218.6" r="0.58" fill="#c07038" opacity="1.0"/>
<circle cx="138.7" cy="199.6" r="0.31" fill="#c07038" opacity="1.0"/>
<circle cx="101.0" cy="196.3" r="0.55" fill="#a0522d" opacity="1.0"/>
<circle cx="56.2" cy="223.8" r="0.43" fill="#d050a8" opacity="1.0"/>
<circle cx="78.4" cy="194.2" r="0.58" fill="#c07038" opacity="1.0"/>
<circle cx="109.9" cy="209.4" r="0.34" fill="#c040a0" opacity="1.0"/>
<circle cx="138.1" cy="194.0" r="0.54" fill="#b0308a" opacity="1.0"/>
<circle cx="124.9" cy="210.6" r="0.58" fill="#a02878" opacity="1.0"/>
<circle cx="69.6" cy="222.2" r="0.36" fill="#b0308a" opacity="1.0"/>
<circle cx="138.6" cy="226.7" r="0.50" fill="#a0522d" opacity="1.0"/>
<circle cx="133.2" cy="223.7" r="0.42" fill="#b0308a" opacity="1.0"/>
<circle cx="119.2" cy="221.1" r="0.45" fill="#a02878" opacity="1.0"/>
<circle cx="97.2" cy="216.5" r="0.52" fill="#d050a8" opacity="1.0"/>
<circle cx="104.2" cy="201.9" r="0.57" fill="#d050a8" opacity="1.0"/>
<circle cx="140.6" cy="219.6" r="0.41" fill="#a02878" opacity="1.0"/>
<circle cx="62.3" cy="192.9" r="0.42" fill="#c07038" opacity="1.0"/>
<circle cx="83.3" cy="209.0" r="0.47" fill="#a0522d" opacity="1.0"/>
<circle cx="66.7" cy="203.2" r="0.44" fill="#a02878" opacity="1.0"/>
<circle cx="95.1" cy="193.6" r="0.36" fill="#d050a8" opacity="1.0"/>
<circle cx="97.2" cy="198.0" r="0.51" fill="#c040a0" opacity="1.0"/>
<circle cx="137.4" cy="204.5" r="0.39" fill="#d050a8" opacity="1.0"/>
<circle cx="79.7" cy="212.0" r="0.33" fill="#c07038" opacity="1.0"/>
<circle cx="85.8" cy="212.6" r="0.43" fill="#d050a8" opacity="1.0"/>
<circle cx="136.8" cy="211.8" r="0.36" fill="#a02878" opacity="1.0"/>
<circle cx="114.9" cy="224.6" r="0.50" fill="#d050a8" opacity="1.0"/>
<circle cx="120.3" cy="210.4" r="0.57" fill="#a0522d" opacity="1.0"/>
<circle cx="117.7" cy="214.5" r="0.40" fill="#b0308a" opacity="1.0"/>
<circle cx="57.3" cy="216.4" r="0.58" fill="#a0522d" opacity="1.0"/>
<circle cx="127.1" cy="221.6" r="0.56" fill="#b0308a" opacity="1.0"/>
<ellipse cx="81.7" cy="177.4" rx="29.96" ry="9.90" fill="#dde7f0" opacity="0.6" transform="rotate(0 81.7 177.4)"/>
</g>
<rect x="64.56" y="191.24" width="20.54" height="13.86" fill="none" stroke="#1a1a1a" stroke-width="1.1"/>
<rect x="56.50" y="220.00" width="13.00" height="11.50" fill="#ffffff"/>
<text x="58.50" y="228.50" font-size="8.3" text-anchor="start" fill="#111">iii)</text>
<line x1="122.77" y1="226.00" x2="136.46" y2="226.00" stroke="#333" stroke-width="0.9"/>
<line x1="127.05" y1="224.70" x2="132.18" y2="224.70" stroke="#666" stroke-width="0.6"/>
</g>
<rect x="56.00" y="165.50" width="85.60" height="66.00" fill="none" stroke="#8c8c8c" stroke-width="0.9"/>
<clipPath id="c32"><rect x="143.50" y="165.50" width="85.10" height="66.00"/></clipPath>
<g clip-path="url(#c32)">
<g filter="url(#bl35)">
<rect x="143.50" y="165.50" width="85.10" height="66.00" fill="#e8eff4"/>
<circle cx="165.8" cy="167.2" r="0.65" fill="#6aa5d5" opacity="1.0"/>
<circle cx="163.1" cy="168.1" r="0.67" fill="#6aa5d5" opacity="1.0"/>
<circle cx="160.6" cy="171.5" r="0.56" fill="#5a9ad0" opacity="1.0"/>
<circle cx="225.4" cy="167.1" r="0.54" fill="#4a8fc8" opacity="1.0"/>
<circle cx="190.4" cy="168.9" r="0.96" fill="#5a9ad0" opacity="1.0"/>
<circle cx="181.6" cy="172.9" r="0.58" fill="#3a7fb8" opacity="1.0"/>
<circle cx="199.7" cy="171.6" r="0.79" fill="#3a7fb8" opacity="1.0"/>
<circle cx="205.7" cy="172.2" r="0.64" fill="#6aa5d5" opacity="1.0"/>
<circle cx="172.8" cy="166.8" r="1.00" fill="#5a9ad0" opacity="1.0"/>
<circle cx="163.8" cy="167.9" r="0.69" fill="#4a8fc8" opacity="1.0"/>
<circle cx="186.4" cy="179.0" r="1.00" fill="#a03090" opacity="1.0"/>
<circle cx="216.9" cy="180.3" r="1.12" fill="#8a2a80" opacity="1.0"/>
<circle cx="192.9" cy="177.0" r="1.30" fill="#8a2a80" opacity="1.0"/>
<circle cx="213.4" cy="180.6" r="0.88" fill="#8a2a80" opacity="1.0"/>
<circle cx="152.7" cy="172.1" r="1.31" fill="#a03090" opacity="1.0"/>
<circle cx="179.0" cy="175.1" r="1.04" fill="#a03090" opacity="1.0"/>
<circle cx="174.6" cy="173.2" r="1.23" fill="#8a2a80" opacity="1.0"/>
<circle cx="202.4" cy="175.6" r="1.21" fill="#8a2a80" opacity="1.0"/>
<ellipse cx="146.5" cy="196.8" rx="1.27" ry="0.85" fill="#c058a8" opacity="1.0" transform="rotate(0 146.5 196.8)"/>
<ellipse cx="208.7" cy="191.0" rx="1.57" ry="0.79" fill="#c058a8" opacity="1.0" transform="rotate(0 208.7 191.0)"/>
<ellipse cx="181.1" cy="191.7" rx="2.15" ry="1.42" fill="#a03088" opacity="1.0" transform="rotate(0 181.1 191.7)"/>
<ellipse cx="149.3" cy="190.7" rx="2.15" ry="1.28" fill="#c058a8" opacity="1.0" transform="rotate(0 149.3 190.7)"/>
<ellipse cx="217.1" cy="194.7" rx="1.81" ry="0.76" fill="#c058a8" opacity="1.0" transform="rotate(0 217.1 194.7)"/>
<ellipse cx="149.1" cy="189.1" rx="4.42" ry="1.49" fill="#c058a8" opacity="1.0" transform="rotate(0 149.1 189.1)"/>
<ellipse cx="174.5" cy="193.7" rx="2.37" ry="0.98" fill="#b04098" opacity="1.0" transform="rotate(0 174.5 193.7)"/>
<ellipse cx="174.6" cy="187.5" rx="2.91" ry="1.11" fill="#c058a8" opacity="1.0" transform="rotate(0 174.6 187.5)"/>
<ellipse cx="201.5" cy="193.6" rx="2.07" ry="0.88" fill="#b04098" opacity="1.0" transform="rotate(0 201.5 193.6)"/>
<ellipse cx="187.8" cy="188.6" rx="1.66" ry="0.92" fill="#c058a8" opacity="1.0" transform="rotate(0 187.8 188.6)"/>
<ellipse cx="199.4" cy="194.8" rx="2.14" ry="1.37" fill="#c070b0" opacity="1.0" transform="rotate(0 199.4 194.8)"/>
<ellipse cx="212.5" cy="189.9" rx="1.94" ry="0.82" fill="#c070b0" opacity="1.0" transform="rotate(0 212.5 189.9)"/>
<ellipse cx="223.7" cy="187.5" rx="2.66" ry="1.00" fill="#c058a8" opacity="1.0" transform="rotate(0 223.7 187.5)"/>
<ellipse cx="222.0" cy="190.2" rx="3.79" ry="1.50" fill="#b04098" opacity="1.0" transform="rotate(0 222.0 190.2)"/>
<ellipse cx="156.5" cy="187.8" rx="1.65" ry="0.88" fill="#b04098" opacity="1.0" transform="rotate(0 156.5 187.8)"/>
<ellipse cx="195.2" cy="192.9" rx="2.26" ry="0.76" fill="#a03088" opacity="1.0" transform="rotate(0 195.2 192.9)"/>
<ellipse cx="219.4" cy="190.9" rx="2.71" ry="1.15" fill="#c070b0" opacity="1.0" transform="rotate(0 219.4 190.9)"/>
<ellipse cx="165.3" cy="194.3" rx="2.45" ry="1.42" fill="#a03088" opacity="1.0" transform="rotate(0 165.3 194.3)"/>
<ellipse cx="152.4" cy="190.7" rx="3.17" ry="1.18" fill="#b04098" opacity="1.0" transform="rotate(0 152.4 190.7)"/>
<ellipse cx="194.6" cy="193.9" rx="1.77" ry="1.16" fill="#a03088" opacity="1.0" transform="rotate(0 194.6 193.9)"/>
<ellipse cx="163.1" cy="196.0" rx="2.25" ry="1.06" fill="#b04098" opacity="1.0" transform="rotate(0 163.1 196.0)"/>
<ellipse cx="201.5" cy="195.9" rx="2.03" ry="1.26" fill="#b04098" opacity="1.0" transform="rotate(0 201.5 195.9)"/>
<ellipse cx="179.0" cy="194.0" rx="2.05" ry="0.84" fill="#b04098" opacity="1.0" transform="rotate(0 179.0 194.0)"/>
<ellipse cx="188.8" cy="188.9" rx="3.63" ry="1.33" fill="#c058a8" opacity="1.0" transform="rotate(0 188.8 188.9)"/>
<ellipse cx="190.9" cy="194.3" rx="1.78" ry="0.84" fill="#c070b0" opacity="1.0" transform="rotate(0 190.9 194.3)"/>
<ellipse cx="159.3" cy="193.6" rx="2.46" ry="1.05" fill="#b04098" opacity="1.0" transform="rotate(0 159.3 193.6)"/>
<ellipse cx="214.6" cy="194.5" rx="1.54" ry="0.91" fill="#c058a8" opacity="1.0" transform="rotate(0 214.6 194.5)"/>
<ellipse cx="155.3" cy="192.8" rx="2.52" ry="1.24" fill="#c070b0" opacity="1.0" transform="rotate(0 155.3 192.8)"/>
<ellipse cx="162.3" cy="191.9" rx="2.71" ry="1.24" fill="#c058a8" opacity="1.0" transform="rotate(0 162.3 191.9)"/>
<ellipse cx="210.1" cy="190.7" rx="1.41" ry="0.90" fill="#c070b0" opacity="1.0" transform="rotate(0 210.1 190.7)"/>
<ellipse cx="150.7" cy="192.4" rx="2.73" ry="1.26" fill="#c058a8" opacity="1.0" transform="rotate(0 150.7 192.4)"/>
<ellipse cx="226.2" cy="190.8" rx="3.55" ry="1.34" fill="#c058a8" opacity="1.0" transform="rotate(0 226.2 190.8)"/>
<ellipse cx="200.0" cy="196.7" rx="2.74" ry="1.26" fill="#b04098" opacity="1.0" transform="rotate(0 200.0 196.7)"/>
<ellipse cx="224.5" cy="194.9" rx="3.84" ry="1.45" fill="#a03088" opacity="1.0" transform="rotate(0 224.5 194.9)"/>
<ellipse cx="214.2" cy="191.7" rx="3.66" ry="1.37" fill="#b04098" opacity="1.0" transform="rotate(0 214.2 191.7)"/>
<ellipse cx="202.0" cy="196.4" rx="2.77" ry="1.23" fill="#b04098" opacity="1.0" transform="rotate(0 202.0 196.4)"/>
<ellipse cx="225.9" cy="189.4" rx="1.16" ry="0.73" fill="#a03088" opacity="1.0" transform="rotate(0 225.9 189.4)"/>
<ellipse cx="149.0" cy="196.7" rx="1.89" ry="0.85" fill="#b04098" opacity="1.0" transform="rotate(0 149.0 196.7)"/>
<ellipse cx="151.0" cy="188.9" rx="1.58" ry="0.86" fill="#c070b0" opacity="1.0" transform="rotate(0 151.0 188.9)"/>
<ellipse cx="161.1" cy="187.4" rx="3.87" ry="1.39" fill="#a03088" opacity="1.0" transform="rotate(0 161.1 187.4)"/>
<ellipse cx="180.3" cy="205.0" rx="2.07" ry="0.72" fill="#c058a8" opacity="1.0" transform="rotate(0 180.3 205.0)"/>
<ellipse cx="181.3" cy="207.1" rx="2.72" ry="1.04" fill="#d080c0" opacity="1.0" transform="rotate(0 181.3 207.1)"/>
<ellipse cx="147.1" cy="203.3" rx="2.92" ry="0.91" fill="#b04098" opacity="1.0" transform="rotate(0 147.1 203.3)"/>
<ellipse cx="156.1" cy="209.5" rx="2.32" ry="0.61" fill="#b04098" opacity="1.0" transform="rotate(0 156.1 209.5)"/>
<ellipse cx="162.9" cy="203.6" rx="1.97" ry="0.68" fill="#c058a8" opacity="1.0" transform="rotate(0 162.9 203.6)"/>
<ellipse cx="144.4" cy="206.4" rx="3.82" ry="1.08" fill="#c058a8" opacity="1.0" transform="rotate(0 144.4 206.4)"/>
<ellipse cx="172.2" cy="206.4" rx="3.15" ry="0.86" fill="#c058a8" opacity="1.0" transform="rotate(0 172.2 206.4)"/>
<ellipse cx="184.5" cy="207.2" rx="3.32" ry="0.94" fill="#c058a8" opacity="1.0" transform="rotate(0 184.5 207.2)"/>
<ellipse cx="210.2" cy="204.2" rx="2.08" ry="0.85" fill="#c058a8" opacity="1.0" transform="rotate(0 210.2 204.2)"/>
<ellipse cx="146.1" cy="203.0" rx="2.07" ry="0.80" fill="#d080c0" opacity="1.0" transform="rotate(0 146.1 203.0)"/>
<ellipse cx="188.6" cy="202.5" rx="3.56" ry="0.94" fill="#d080c0" opacity="1.0" transform="rotate(0 188.6 202.5)"/>
<ellipse cx="199.1" cy="206.8" rx="1.97" ry="0.88" fill="#c058a8" opacity="1.0" transform="rotate(0 199.1 206.8)"/>
<ellipse cx="166.8" cy="209.4" rx="2.13" ry="0.91" fill="#b04098" opacity="1.0" transform="rotate(0 166.8 209.4)"/>
<ellipse cx="144.7" cy="208.4" rx="2.77" ry="1.14" fill="#d080c0" opacity="1.0" transform="rotate(0 144.7 208.4)"/>
<ellipse cx="218.5" cy="229.5" rx="1.65" ry="1.44" fill="#a03090" opacity="1.0" transform="rotate(0 218.5 229.5)"/>
<ellipse cx="209.2" cy="231.4" rx="2.67" ry="1.43" fill="#c070b0" opacity="1.0" transform="rotate(0 209.2 231.4)"/>
<ellipse cx="202.3" cy="215.5" rx="2.43" ry="1.42" fill="#b04090" opacity="1.0" transform="rotate(0 202.3 215.5)"/>
<ellipse cx="187.4" cy="220.0" rx="1.59" ry="1.07" fill="#c070b0" opacity="1.0" transform="rotate(0 187.4 220.0)"/>
<ellipse cx="182.6" cy="227.3" rx="1.99" ry="1.15" fill="#a03090" opacity="1.0" transform="rotate(0 182.6 227.3)"/>
<ellipse cx="198.8" cy="223.3" rx="2.17" ry="1.19" fill="#b04090" opacity="1.0" transform="rotate(0 198.8 223.3)"/>
<ellipse cx="177.4" cy="226.3" rx="1.74" ry="1.19" fill="#c070b0" opacity="1.0" transform="rotate(0 177.4 226.3)"/>
<ellipse cx="187.9" cy="220.6" rx="1.26" ry="0.90" fill="#b04090" opacity="1.0" transform="rotate(0 187.9 220.6)"/>
<ellipse cx="220.5" cy="228.3" rx="1.34" ry="1.16" fill="#a03090" opacity="1.0" transform="rotate(0 220.5 228.3)"/>
<ellipse cx="182.4" cy="227.6" rx="2.19" ry="1.24" fill="#c070b0" opacity="1.0" transform="rotate(0 182.4 227.6)"/>
<ellipse cx="186.1" cy="192.6" rx="42.55" ry="3.30" fill="#d890c8" opacity="0.6" transform="rotate(0 186.1 192.6)"/>
<ellipse cx="158.8" cy="213.0" rx="10.21" ry="3.30" fill="#b03a98" opacity="0.9" transform="rotate(15 158.8 213.0)"/>
<ellipse cx="181.8" cy="207.1" rx="17.02" ry="1.65" fill="#d080c0" opacity="0.7" transform="rotate(0 181.8 207.1)"/>
<ellipse cx="207.3" cy="210.4" rx="10.21" ry="1.32" fill="#c070b0" opacity="0.7" transform="rotate(0 207.3 210.4)"/>
<ellipse cx="181.8" cy="172.1" rx="34.04" ry="3.30" fill="#f6f4f8" opacity="0.8" transform="rotate(0 181.8 172.1)"/>
<ellipse cx="194.6" cy="219.6" rx="34.04" ry="3.96" fill="#f4f2f6" opacity="0.8" transform="rotate(0 194.6 219.6)"/>
</g>
<line x1="209.88" y1="226.00" x2="223.49" y2="226.00" stroke="#333" stroke-width="0.9"/>
<line x1="214.13" y1="224.70" x2="219.24" y2="224.70" stroke="#666" stroke-width="0.6"/>
<path d="M198.0,189.3 L198.9,183.9 L203.4,188.4 z" fill="#111"/>
</g>
<rect x="143.50" y="165.50" width="85.10" height="66.00" fill="none" stroke="#8c8c8c" stroke-width="0.9"/>
<clipPath id="c41"><rect x="296.30" y="17.90" width="88.30" height="68.50"/></clipPath>
<g clip-path="url(#c41)">
<g filter="url(#bl35)">
<rect x="296.30" y="17.90" width="88.30" height="7.35" fill="#f4f4f0"/>
<rect x="296.30" y="24.75" width="88.30" height="62.15" fill="#f8f6f6"/>
<ellipse cx="329.9" cy="25.5" rx="1.56" ry="0.41" fill="#8b3a1a" opacity="1.0" transform="rotate(0 329.9 25.5)"/>
<ellipse cx="330.2" cy="26.3" rx="1.97" ry="0.55" fill="#c8843a" opacity="1.0" transform="rotate(0 330.2 26.3)"/>
<ellipse cx="310.0" cy="25.3" rx="1.41" ry="0.60" fill="#c8843a" opacity="1.0" transform="rotate(0 310.0 25.3)"/>
<ellipse cx="348.2" cy="25.8" rx="1.56" ry="0.45" fill="#c8843a" opacity="1.0" transform="rotate(0 348.2 25.8)"/>
<ellipse cx="361.0" cy="25.3" rx="1.31" ry="0.58" fill="#a0522d" opacity="1.0" transform="rotate(0 361.0 25.3)"/>
<ellipse cx="382.8" cy="25.2" rx="1.49" ry="0.46" fill="#a0522d" opacity="1.0" transform="rotate(0 382.8 25.2)"/>
<ellipse cx="366.6" cy="25.2" rx="1.08" ry="0.49" fill="#c8843a" opacity="1.0" transform="rotate(0 366.6 25.2)"/>
<ellipse cx="354.9" cy="25.9" rx="1.00" ry="0.49" fill="#a0522d" opacity="1.0" transform="rotate(0 354.9 25.9)"/>
<ellipse cx="379.8" cy="25.8" rx="1.37" ry="0.54" fill="#c8843a" opacity="1.0" transform="rotate(0 379.8 25.8)"/>
<ellipse cx="354.1" cy="25.6" rx="0.85" ry="0.40" fill="#c8843a" opacity="1.0" transform="rotate(0 354.1 25.6)"/>
<ellipse cx="356.5" cy="26.6" rx="2.56" ry="0.64" fill="#a0522d" opacity="1.0" transform="rotate(0 356.5 26.6)"/>
<ellipse cx="332.8" cy="26.3" rx="1.16" ry="0.38" fill="#c8843a" opacity="1.0" transform="rotate(0 332.8 26.3)"/>
<ellipse cx="317.6" cy="25.8" rx="2.04" ry="0.61" fill="#b06a3a" opacity="1.0" transform="rotate(0 317.6 25.8)"/>
<ellipse cx="303.6" cy="26.2" rx="2.08" ry="0.54" fill="#a0522d" opacity="1.0" transform="rotate(0 303.6 26.2)"/>
<ellipse cx="375.5" cy="25.7" rx="1.86" ry="0.67" fill="#8b3a1a" opacity="1.0" transform="rotate(0 375.5 25.7)"/>
<ellipse cx="360.9" cy="25.5" rx="0.84" ry="0.41" fill="#a0522d" opacity="1.0" transform="rotate(0 360.9 25.5)"/>
<ellipse cx="317.6" cy="26.8" rx="1.76" ry="0.54" fill="#b06a3a" opacity="1.0" transform="rotate(0 317.6 26.8)"/>
<ellipse cx="316.5" cy="26.3" rx="1.56" ry="0.39" fill="#a0522d" opacity="1.0" transform="rotate(0 316.5 26.3)"/>
<ellipse cx="340.3" cy="26.8" rx="2.42" ry="0.66" fill="#c8843a" opacity="1.0" transform="rotate(0 340.3 26.8)"/>
<ellipse cx="358.9" cy="25.4" rx="1.23" ry="0.40" fill="#a0522d" opacity="1.0" transform="rotate(0 358.9 25.4)"/>
<ellipse cx="382.2" cy="26.7" rx="1.22" ry="0.36" fill="#8b3a1a" opacity="1.0" transform="rotate(0 382.2 26.7)"/>
<ellipse cx="331.6" cy="26.7" rx="1.76" ry="0.68" fill="#8b3a1a" opacity="1.0" transform="rotate(0 331.6 26.7)"/>
<ellipse cx="350.3" cy="26.5" rx="1.67" ry="0.65" fill="#b06a3a" opacity="1.0" transform="rotate(0 350.3 26.5)"/>
<ellipse cx="366.7" cy="26.3" rx="1.30" ry="0.43" fill="#b06a3a" opacity="1.0" transform="rotate(0 366.7 26.3)"/>
<ellipse cx="312.4" cy="25.9" rx="1.12" ry="0.38" fill="#b06a3a" opacity="1.0" transform="rotate(0 312.4 25.9)"/>
<ellipse cx="369.2" cy="26.3" rx="1.23" ry="0.60" fill="#a0522d" opacity="1.0" transform="rotate(0 369.2 26.3)"/>
<ellipse cx="340.3" cy="26.7" rx="1.58" ry="0.55" fill="#c8843a" opacity="1.0" transform="rotate(0 340.3 26.7)"/>
<ellipse cx="373.4" cy="26.0" rx="1.33" ry="0.40" fill="#b06a3a" opacity="1.0" transform="rotate(0 373.4 26.0)"/>
<ellipse cx="369.0" cy="25.6" rx="1.27" ry="0.36" fill="#a0522d" opacity="1.0" transform="rotate(0 369.0 25.6)"/>
<ellipse cx="312.7" cy="26.0" rx="1.88" ry="0.56" fill="#b06a3a" opacity="1.0" transform="rotate(0 312.7 26.0)"/>
<ellipse cx="343.8" cy="25.2" rx="1.22" ry="0.48" fill="#c8843a" opacity="1.0" transform="rotate(0 343.8 25.2)"/>
<ellipse cx="367.2" cy="26.6" rx="1.73" ry="0.50" fill="#c8843a" opacity="1.0" transform="rotate(0 367.2 26.6)"/>
<ellipse cx="367.5" cy="26.0" rx="1.75" ry="0.66" fill="#b06a3a" opacity="1.0" transform="rotate(0 367.5 26.0)"/>
<ellipse cx="329.2" cy="26.5" rx="1.04" ry="0.38" fill="#8b3a1a" opacity="1.0" transform="rotate(0 329.2 26.5)"/>
<ellipse cx="336.7" cy="25.5" rx="1.43" ry="0.67" fill="#c8843a" opacity="1.0" transform="rotate(0 336.7 25.5)"/>
<ellipse cx="376.0" cy="25.6" rx="1.54" ry="0.64" fill="#b06a3a" opacity="1.0" transform="rotate(0 376.0 25.6)"/>
<ellipse cx="373.9" cy="26.3" rx="2.54" ry="0.66" fill="#8b3a1a" opacity="1.0" transform="rotate(0 373.9 26.3)"/>
<ellipse cx="378.8" cy="25.6" rx="2.43" ry="0.69" fill="#b06a3a" opacity="1.0" transform="rotate(0 378.8 25.6)"/>
<ellipse cx="364.5" cy="25.8" rx="1.94" ry="0.58" fill="#8b3a1a" opacity="1.0" transform="rotate(0 364.5 25.8)"/>
<ellipse cx="310.5" cy="26.7" rx="1.29" ry="0.63" fill="#8b3a1a" opacity="1.0" transform="rotate(0 310.5 26.7)"/>
<ellipse cx="313.4" cy="26.2" rx="1.12" ry="0.45" fill="#8b3a1a" opacity="1.0" transform="rotate(0 313.4 26.2)"/>
<ellipse cx="304.5" cy="26.5" rx="1.82" ry="0.70" fill="#b06a3a" opacity="1.0" transform="rotate(0 304.5 26.5)"/>
<ellipse cx="344.6" cy="26.3" rx="1.88" ry="0.48" fill="#8b3a1a" opacity="1.0" transform="rotate(0 344.6 26.3)"/>
<ellipse cx="332.9" cy="26.7" rx="1.68" ry="0.51" fill="#c8843a" opacity="1.0" transform="rotate(0 332.9 26.7)"/>
<ellipse cx="301.7" cy="26.1" rx="1.07" ry="0.36" fill="#c8843a" opacity="1.0" transform="rotate(0 301.7 26.1)"/>
<ellipse cx="345.9" cy="36.5" rx="1.45" ry="1.14" fill="#9a1840" opacity="1.0" transform="rotate(0 345.9 36.5)"/>
<ellipse cx="336.7" cy="29.1" rx="3.20" ry="1.21" fill="#9a1840" opacity="1.0" transform="rotate(0 336.7 29.1)"/>
<ellipse cx="380.9" cy="46.1" rx="1.37" ry="1.12" fill="#c04878" opacity="1.0" transform="rotate(0 380.9 46.1)"/>
<ellipse cx="381.9" cy="34.9" rx="1.76" ry="1.22" fill="#c04878" opacity="1.0" transform="rotate(0 381.9 34.9)"/>
<ellipse cx="378.1" cy="43.1" rx="3.05" ry="1.13" fill="#c03068" opacity="1.0" transform="rotate(0 378.1 43.1)"/>
<ellipse cx="337.8" cy="34.6" rx="3.38" ry="1.26" fill="#b02050" opacity="1.0" transform="rotate(0 337.8 34.6)"/>
<ellipse cx="310.3" cy="40.8" rx="1.80" ry="0.67" fill="#8b3a1a" opacity="1.0" transform="rotate(0 310.3 40.8)"/>
<ellipse cx="339.2" cy="41.6" rx="1.08" ry="0.70" fill="#b01e4a" opacity="1.0" transform="rotate(0 339.2 41.6)"/>
<ellipse cx="303.5" cy="42.9" rx="1.76" ry="0.71" fill="#8c1a3a" opacity="1.0" transform="rotate(0 303.5 42.9)"/>
<ellipse cx="311.7" cy="46.4" rx="1.09" ry="0.62" fill="#b01e4a" opacity="1.0" transform="rotate(0 311.7 46.4)"/>
<ellipse cx="303.5" cy="28.9" rx="1.47" ry="1.06" fill="#a0522d" opacity="1.0" transform="rotate(0 303.5 28.9)"/>
<ellipse cx="304.3" cy="46.4" rx="2.15" ry="0.79" fill="#c42a5a" opacity="1.0" transform="rotate(0 304.3 46.4)"/>
<ellipse cx="303.7" cy="30.6" rx="1.30" ry="0.55" fill="#8c1a3a" opacity="1.0" transform="rotate(0 303.7 30.6)"/>
<ellipse cx="318.5" cy="31.7" rx="1.14" ry="0.57" fill="#c03068" opacity="1.0" transform="rotate(0 318.5 31.7)"/>
<ellipse cx="335.6" cy="45.0" rx="2.48" ry="1.13" fill="#8b3a1a" opacity="1.0" transform="rotate(0 335.6 45.0)"/>
<ellipse cx="304.7" cy="36.1" rx="1.43" ry="0.73" fill="#c42a5a" opacity="1.0" transform="rotate(0 304.7 36.1)"/>
<ellipse cx="368.4" cy="45.1" rx="1.20" ry="0.68" fill="#9a1840" opacity="1.0" transform="rotate(0 368.4 45.1)"/>
<ellipse cx="321.7" cy="43.9" rx="1.98" ry="1.29" fill="#b01e4a" opacity="1.0" transform="rotate(0 321.7 43.9)"/>
<ellipse cx="375.7" cy="37.6" rx="2.50" ry="1.10" fill="#c04878" opacity="1.0" transform="rotate(0 375.7 37.6)"/>
<ellipse cx="302.4" cy="40.9" rx="2.08" ry="0.87" fill="#c04878" opacity="1.0" transform="rotate(0 302.4 40.9)"/>
<ellipse cx="332.2" cy="30.0" rx="1.55" ry="1.26" fill="#7a1428" opacity="1.0" transform="rotate(0 332.2 30.0)"/>
<ellipse cx="313.5" cy="45.9" rx="1.95" ry="0.77" fill="#8c1a3a" opacity="1.0" transform="rotate(0 313.5 45.9)"/>
<ellipse cx="375.1" cy="33.1" rx="1.55" ry="0.82" fill="#8b3a1a" opacity="1.0" transform="rotate(0 375.1 33.1)"/>
<ellipse cx="326.8" cy="43.7" rx="1.45" ry="0.98" fill="#a0522d" opacity="1.0" transform="rotate(0 326.8 43.7)"/>
<ellipse cx="380.5" cy="41.0" rx="1.53" ry="1.19" fill="#c04878" opacity="1.0" transform="rotate(0 380.5 41.0)"/>
<ellipse cx="333.5" cy="45.5" rx="1.98" ry="1.04" fill="#7a1428" opacity="1.0" transform="rotate(0 333.5 45.5)"/>
<ellipse cx="306.4" cy="43.0" rx="1.12" ry="0.90" fill="#8c1a3a" opacity="1.0" transform="rotate(0 306.4 43.0)"/>
<ellipse cx="300.8" cy="40.3" rx="2.58" ry="1.14" fill="#c04878" opacity="1.0" transform="rotate(0 300.8 40.3)"/>
<ellipse cx="348.7" cy="46.6" rx="3.20" ry="1.27" fill="#a0522d" opacity="1.0" transform="rotate(0 348.7 46.6)"/>
<ellipse cx="316.4" cy="28.8" rx="1.19" ry="0.96" fill="#c03068" opacity="1.0" transform="rotate(0 316.4 28.8)"/>
<ellipse cx="297.6" cy="29.1" rx="1.77" ry="1.26" fill="#b02050" opacity="1.0" transform="rotate(0 297.6 29.1)"/>
<ellipse cx="360.2" cy="39.7" rx="2.57" ry="1.29" fill="#c03068" opacity="1.0" transform="rotate(0 360.2 39.7)"/>
<ellipse cx="352.0" cy="29.3" rx="2.48" ry="1.27" fill="#8c1a3a" opacity="1.0" transform="rotate(0 352.0 29.3)"/>
<ellipse cx="356.8" cy="31.0" rx="2.90" ry="1.07" fill="#c03068" opacity="1.0" transform="rotate(0 356.8 31.0)"/>
<ellipse cx="310.2" cy="42.3" rx="1.78" ry="0.64" fill="#b01e4a" opacity="1.0" transform="rotate(0 310.2 42.3)"/>
<ellipse cx="306.9" cy="33.9" rx="1.53" ry="0.94" fill="#8b3a1a" opacity="1.0" transform="rotate(0 306.9 33.9)"/>
<ellipse cx="312.7" cy="32.8" rx="1.67" ry="0.86" fill="#7a1428" opacity="1.0" transform="rotate(0 312.7 32.8)"/>
<ellipse cx="322.2" cy="46.6" rx="1.05" ry="0.55" fill="#c04878" opacity="1.0" transform="rotate(0 322.2 46.6)"/>
<ellipse cx="341.3" cy="35.5" rx="1.75" ry="0.66" fill="#b02050" opacity="1.0" transform="rotate(0 341.3 35.5)"/>
<ellipse cx="363.1" cy="40.7" rx="1.95" ry="1.01" fill="#c42a5a" opacity="1.0" transform="rotate(0 363.1 40.7)"/>
<ellipse cx="363.3" cy="31.1" rx="1.91" ry="0.86" fill="#c42a5a" opacity="1.0" transform="rotate(0 363.3 31.1)"/>
<ellipse cx="338.9" cy="28.8" rx="0.90" ry="0.55" fill="#8c1a3a" opacity="1.0" transform="rotate(0 338.9 28.8)"/>
<ellipse cx="305.3" cy="32.5" rx="1.62" ry="1.04" fill="#b01e4a" opacity="1.0" transform="rotate(0 305.3 32.5)"/>
<ellipse cx="311.5" cy="43.6" rx="2.20" ry="1.02" fill="#7a1428" opacity="1.0" transform="rotate(0 311.5 43.6)"/>
<ellipse cx="323.1" cy="42.4" rx="2.99" ry="1.10" fill="#c03068" opacity="1.0" transform="rotate(0 323.1 42.4)"/>
<ellipse cx="333.9" cy="31.8" rx="2.59" ry="1.13" fill="#b02050" opacity="1.0" transform="rotate(0 333.9 31.8)"/>
<ellipse cx="381.3" cy="46.1" rx="2.55" ry="1.05" fill="#c04878" opacity="1.0" transform="rotate(0 381.3 46.1)"/>
<ellipse cx="344.0" cy="27.8" rx="2.31" ry="1.19" fill="#a0522d" opacity="1.0" transform="rotate(0 344.0 27.8)"/>
<ellipse cx="324.9" cy="39.0" rx="2.85" ry="1.21" fill="#a0522d" opacity="1.0" transform="rotate(0 324.9 39.0)"/>
<ellipse cx="327.6" cy="46.6" rx="0.84" ry="0.65" fill="#c42a5a" opacity="1.0" transform="rotate(0 327.6 46.6)"/>
<ellipse cx="366.6" cy="35.0" rx="2.68" ry="1.10" fill="#a0522d" opacity="1.0" transform="rotate(0 366.6 35.0)"/>
<ellipse cx="383.4" cy="38.5" rx="2.49" ry="1.23" fill="#c04878" opacity="1.0" transform="rotate(0 383.4 38.5)"/>
<ellipse cx="335.5" cy="37.5" rx="1.33" ry="1.08" fill="#c03068" opacity="1.0" transform="rotate(0 335.5 37.5)"/>
<ellipse cx="365.9" cy="37.6" rx="2.36" ry="1.07" fill="#c03068" opacity="1.0" transform="rotate(0 365.9 37.6)"/>
<ellipse cx="348.9" cy="43.2" rx="1.51" ry="0.56" fill="#b02050" opacity="1.0" transform="rotate(0 348.9 43.2)"/>
<ellipse cx="353.9" cy="33.1" rx="2.81" ry="1.01" fill="#8b3a1a" opacity="1.0" transform="rotate(0 353.9 33.1)"/>
<ellipse cx="376.5" cy="39.5" rx="1.92" ry="1.25" fill="#7a1428" opacity="1.0" transform="rotate(0 376.5 39.5)"/>
<ellipse cx="319.5" cy="44.7" rx="1.92" ry="1.23" fill="#8c1a3a" opacity="1.0" transform="rotate(0 319.5 44.7)"/>
<ellipse cx="327.2" cy="31.1" rx="1.65" ry="0.80" fill="#9a1840" opacity="1.0" transform="rotate(0 327.2 31.1)"/>
<ellipse cx="380.0" cy="45.5" rx="1.58" ry="0.67" fill="#9a1840" opacity="1.0" transform="rotate(0 380.0 45.5)"/>
<ellipse cx="328.7" cy="45.3" rx="2.69" ry="1.06" fill="#a0522d" opacity="1.0" transform="rotate(0 328.7 45.3)"/>
<ellipse cx="296.3" cy="29.0" rx="1.40" ry="0.53" fill="#8c1a3a" opacity="1.0" transform="rotate(0 296.3 29.0)"/>
<ellipse cx="326.7" cy="40.1" rx="2.55" ry="1.22" fill="#c42a5a" opacity="1.0" transform="rotate(0 326.7 40.1)"/>
<ellipse cx="373.0" cy="43.9" rx="2.65" ry="0.95" fill="#c03068" opacity="1.0" transform="rotate(0 373.0 43.9)"/>
<ellipse cx="333.6" cy="33.2" rx="2.02" ry="0.84" fill="#b01e4a" opacity="1.0" transform="rotate(0 333.6 33.2)"/>
<ellipse cx="334.5" cy="34.8" rx="1.04" ry="0.58" fill="#7a1428" opacity="1.0" transform="rotate(0 334.5 34.8)"/>
<ellipse cx="347.1" cy="44.6" rx="2.19" ry="0.80" fill="#c04878" opacity="1.0" transform="rotate(0 347.1 44.6)"/>
<ellipse cx="303.2" cy="43.7" rx="2.48" ry="1.14" fill="#c04878" opacity="1.0" transform="rotate(0 303.2 43.7)"/>
<ellipse cx="308.0" cy="41.4" rx="1.43" ry="1.06" fill="#8c1a3a" opacity="1.0" transform="rotate(0 308.0 41.4)"/>
<ellipse cx="325.9" cy="37.7" rx="1.31" ry="0.83" fill="#c42a5a" opacity="1.0" transform="rotate(0 325.9 37.7)"/>
<ellipse cx="351.0" cy="46.5" rx="1.61" ry="0.86" fill="#b02050" opacity="1.0" transform="rotate(0 351.0 46.5)"/>
<ellipse cx="373.0" cy="33.1" rx="0.88" ry="0.52" fill="#c03068" opacity="1.0" transform="rotate(0 373.0 33.1)"/>
<ellipse cx="380.5" cy="41.2" rx="2.43" ry="1.04" fill="#8c1a3a" opacity="1.0" transform="rotate(0 380.5 41.2)"/>
<ellipse cx="373.7" cy="30.0" rx="3.14" ry="1.13" fill="#c03068" opacity="1.0" transform="rotate(0 373.7 30.0)"/>
<ellipse cx="378.6" cy="30.8" rx="2.95" ry="1.15" fill="#9a1840" opacity="1.0" transform="rotate(0 378.6 30.8)"/>
<ellipse cx="342.2" cy="49.9" rx="0.85" ry="0.70" fill="#b03050" opacity="1.0" transform="rotate(0 342.2 49.9)"/>
<ellipse cx="307.2" cy="48.7" rx="1.81" ry="0.86" fill="#b03050" opacity="1.0" transform="rotate(0 307.2 48.7)"/>
<ellipse cx="316.1" cy="50.0" rx="0.84" ry="0.70" fill="#a0522d" opacity="1.0" transform="rotate(0 316.1 50.0)"/>
<ellipse cx="370.7" cy="52.9" rx="0.85" ry="0.60" fill="#b03050" opacity="1.0" transform="rotate(0 370.7 52.9)"/>
<ellipse cx="347.5" cy="51.6" rx="1.58" ry="0.89" fill="#a0522d" opacity="1.0" transform="rotate(0 347.5 51.6)"/>
<ellipse cx="310.9" cy="51.5" rx="0.83" ry="0.63" fill="#c04870" opacity="1.0" transform="rotate(0 310.9 51.5)"/>
<ellipse cx="335.2" cy="48.1" rx="1.08" ry="0.46" fill="#b03050" opacity="1.0" transform="rotate(0 335.2 48.1)"/>
<ellipse cx="338.5" cy="47.3" rx="0.63" ry="0.46" fill="#b03050" opacity="1.0" transform="rotate(0 338.5 47.3)"/>
<ellipse cx="365.6" cy="50.7" rx="0.65" ry="0.57" fill="#c04870" opacity="1.0" transform="rotate(0 365.6 50.7)"/>
<ellipse cx="327.2" cy="50.3" rx="1.24" ry="0.59" fill="#a0522d" opacity="1.0" transform="rotate(0 327.2 50.3)"/>
<ellipse cx="325.1" cy="49.2" rx="1.04" ry="0.73" fill="#c04870" opacity="1.0" transform="rotate(0 325.1 49.2)"/>
<ellipse cx="360.1" cy="50.8" rx="1.26" ry="0.72" fill="#b03050" opacity="1.0" transform="rotate(0 360.1 50.8)"/>
<ellipse cx="332.5" cy="51.6" rx="0.95" ry="0.87" fill="#a0522d" opacity="1.0" transform="rotate(0 332.5 51.6)"/>
<ellipse cx="351.6" cy="47.0" rx="0.90" ry="0.67" fill="#c04870" opacity="1.0" transform="rotate(0 351.6 47.0)"/>
<ellipse cx="308.5" cy="50.3" rx="1.16" ry="0.53" fill="#c04870" opacity="1.0" transform="rotate(0 308.5 50.3)"/>
<ellipse cx="353.6" cy="49.5" rx="1.09" ry="0.50" fill="#b03050" opacity="1.0" transform="rotate(0 353.6 49.5)"/>
<ellipse cx="317.6" cy="50.7" rx="0.81" ry="0.57" fill="#c04870" opacity="1.0" transform="rotate(0 317.6 50.7)"/>
<ellipse cx="325.9" cy="51.4" rx="0.88" ry="0.81" fill="#b03050" opacity="1.0" transform="rotate(0 325.9 51.4)"/>
<ellipse cx="331.5" cy="48.9" rx="1.48" ry="0.77" fill="#c04870" opacity="1.0" transform="rotate(0 331.5 48.9)"/>
<ellipse cx="332.0" cy="48.1" rx="1.71" ry="0.74" fill="#a0522d" opacity="1.0" transform="rotate(0 332.0 48.1)"/>
<ellipse cx="350.5" cy="47.9" rx="0.84" ry="0.55" fill="#a0522d" opacity="1.0" transform="rotate(0 350.5 47.9)"/>
<ellipse cx="307.6" cy="47.6" rx="1.57" ry="0.87" fill="#c04870" opacity="1.0" transform="rotate(0 307.6 47.6)"/>
<ellipse cx="369.0" cy="53.4" rx="1.22" ry="0.66" fill="#c04870" opacity="1.0" transform="rotate(0 369.0 53.4)"/>
<ellipse cx="340.6" cy="52.2" rx="1.66" ry="0.68" fill="#b03050" opacity="1.0" transform="rotate(0 340.6 52.2)"/>
<ellipse cx="329.0" cy="48.7" rx="0.65" ry="0.48" fill="#b03050" opacity="1.0" transform="rotate(0 329.0 48.7)"/>
<circle cx="315.6" cy="69.5" r="0.56" fill="#b5652e" opacity="1.0"/>
<circle cx="318.3" cy="64.8" r="0.61" fill="#a0522d" opacity="1.0"/>
<circle cx="344.9" cy="70.6" r="0.53" fill="#b5652e" opacity="1.0"/>
<circle cx="326.9" cy="67.9" r="0.52" fill="#a0522d" opacity="1.0"/>
<circle cx="328.7" cy="66.1" r="0.45" fill="#b5652e" opacity="1.0"/>
<circle cx="338.0" cy="68.9" r="0.45" fill="#b5652e" opacity="1.0"/>
<circle cx="333.6" cy="71.8" r="0.52" fill="#a0522d" opacity="1.0"/>
<circle cx="341.8" cy="71.7" r="0.43" fill="#b5652e" opacity="1.0"/>
<circle cx="321.0" cy="69.2" r="0.46" fill="#b5652e" opacity="1.0"/>
<circle cx="344.3" cy="64.8" r="0.68" fill="#b5652e" opacity="1.0"/>
<ellipse cx="309.5" cy="35.0" rx="4.42" ry="1.71" fill="#a01a40" opacity="1" transform="rotate(0 309.5 35.0)"/>
<ellipse cx="329.9" cy="39.8" rx="5.30" ry="2.05" fill="#b02050" opacity="1" transform="rotate(0 329.9 39.8)"/>
<ellipse cx="336.0" cy="43.9" rx="4.42" ry="1.71" fill="#a81c48" opacity="1" transform="rotate(0 336.0 43.9)"/>
<ellipse cx="362.5" cy="38.5" rx="4.42" ry="2.40" fill="#901838" opacity="1" transform="rotate(0 362.5 38.5)"/>
<ellipse cx="358.1" cy="31.6" rx="3.53" ry="1.71" fill="#a01a40" opacity="1" transform="rotate(0 358.1 31.6)"/>
<ellipse cx="377.5" cy="33.0" rx="3.53" ry="1.71" fill="#a01a40" opacity="1" transform="rotate(0 377.5 33.0)"/>
<ellipse cx="315.7" cy="29.5" rx="3.09" ry="1.37" fill="#6a1a1a" opacity="1" transform="rotate(0 315.7 29.5)"/>
<ellipse cx="344.9" cy="28.9" rx="3.09" ry="1.37" fill="#6a2a1a" opacity="1" transform="rotate(0 344.9 28.9)"/>
</g>
<rect x="350.16" y="23.04" width="22.07" height="16.10" fill="none" stroke="#1a1a1a" stroke-width="1.1"/>
<rect x="296.80" y="74.90" width="12.00" height="11.50" fill="#ffffff"/>
<text x="298.80" y="83.40" font-size="8.3" text-anchor="start" fill="#111">i)</text>
<line x1="365.17" y1="80.90" x2="379.30" y2="80.90" stroke="#333" stroke-width="0.9"/>
<line x1="369.59" y1="79.60" x2="374.89" y2="79.60" stroke="#666" stroke-width="0.6"/>
</g>
<rect x="296.30" y="17.90" width="88.30" height="68.50" fill="none" stroke="#8c8c8c" stroke-width="0.9"/>
<clipPath id="c42"><rect x="386.30" y="17.90" width="88.40" height="68.50"/></clipPath>
<g clip-path="url(#c42)">
<g filter="url(#bl50)">
<rect x="386.30" y="17.90" width="88.40" height="6.67" fill="#fbfafc"/>
<rect x="386.30" y="24.06" width="88.40" height="7.35" fill="#e6c4a4"/>
<rect x="386.30" y="30.91" width="88.40" height="55.99" fill="#f4f4f8"/>
<ellipse cx="442.8" cy="24.9" rx="0.60" ry="0.87" fill="#c07a30" opacity="1.0" transform="rotate(0 442.8 24.9)"/>
<ellipse cx="465.2" cy="25.2" rx="0.58" ry="0.95" fill="#b06a2a" opacity="1.0" transform="rotate(0 465.2 25.2)"/>
<ellipse cx="439.5" cy="27.8" rx="0.99" ry="1.13" fill="#a85a20" opacity="1.0" transform="rotate(0 439.5 27.8)"/>
<ellipse cx="438.4" cy="29.2" rx="0.65" ry="0.70" fill="#a85a20" opacity="1.0" transform="rotate(0 438.4 29.2)"/>
<ellipse cx="400.0" cy="30.0" rx="0.57" ry="0.90" fill="#c07a30" opacity="1.0" transform="rotate(0 400.0 30.0)"/>
<ellipse cx="416.7" cy="26.2" rx="0.57" ry="0.73" fill="#c07a30" opacity="1.0" transform="rotate(0 416.7 26.2)"/>
<ellipse cx="419.8" cy="27.8" rx="1.01" ry="1.20" fill="#c88848" opacity="1.0" transform="rotate(0 419.8 27.8)"/>
<ellipse cx="448.6" cy="25.0" rx="0.60" ry="0.84" fill="#c07a30" opacity="1.0" transform="rotate(0 448.6 25.0)"/>
<ellipse cx="462.9" cy="26.8" rx="0.91" ry="0.97" fill="#b06a2a" opacity="1.0" transform="rotate(0 462.9 26.8)"/>
<ellipse cx="404.8" cy="26.2" rx="1.08" ry="1.26" fill="#d09050" opacity="1.0" transform="rotate(0 404.8 26.2)"/>
<ellipse cx="433.5" cy="26.1" rx="0.69" ry="0.98" fill="#d09050" opacity="1.0" transform="rotate(0 433.5 26.1)"/>
<ellipse cx="415.0" cy="29.0" rx="0.68" ry="0.73" fill="#c88848" opacity="1.0" transform="rotate(0 415.0 29.0)"/>
<ellipse cx="392.2" cy="29.8" rx="0.92" ry="1.04" fill="#b06a2a" opacity="1.0" transform="rotate(0 392.2 29.8)"/>
<ellipse cx="421.3" cy="29.8" rx="0.69" ry="0.98" fill="#b06a2a" opacity="1.0" transform="rotate(0 421.3 29.8)"/>
<ellipse cx="433.9" cy="28.8" rx="0.80" ry="0.96" fill="#c88848" opacity="1.0" transform="rotate(0 433.9 28.8)"/>
<ellipse cx="474.5" cy="27.5" rx="0.47" ry="0.75" fill="#c07a30" opacity="1.0" transform="rotate(0 474.5 27.5)"/>
<ellipse cx="400.4" cy="28.5" rx="0.80" ry="1.06" fill="#d09050" opacity="1.0" transform="rotate(0 400.4 28.5)"/>
<ellipse cx="433.1" cy="30.1" rx="0.74" ry="1.22" fill="#c07a30" opacity="1.0" transform="rotate(0 433.1 30.1)"/>
<ellipse cx="433.8" cy="26.2" rx="0.70" ry="1.08" fill="#a85a20" opacity="1.0" transform="rotate(0 433.8 26.2)"/>
<ellipse cx="386.6" cy="28.7" rx="1.12" ry="1.13" fill="#b06a2a" opacity="1.0" transform="rotate(0 386.6 28.7)"/>
<ellipse cx="395.7" cy="28.2" rx="0.97" ry="1.21" fill="#b06a2a" opacity="1.0" transform="rotate(0 395.7 28.2)"/>
<ellipse cx="453.7" cy="27.7" rx="0.95" ry="1.17" fill="#c07a30" opacity="1.0" transform="rotate(0 453.7 27.7)"/>
<ellipse cx="429.5" cy="25.4" rx="0.91" ry="0.92" fill="#c88848" opacity="1.0" transform="rotate(0 429.5 25.4)"/>
<ellipse cx="407.6" cy="27.9" rx="0.67" ry="0.75" fill="#c07a30" opacity="1.0" transform="rotate(0 407.6 27.9)"/>
<ellipse cx="433.4" cy="25.4" rx="1.07" ry="1.10" fill="#b06a2a" opacity="1.0" transform="rotate(0 433.4 25.4)"/>
<ellipse cx="463.4" cy="27.1" rx="0.67" ry="0.83" fill="#b06a2a" opacity="1.0" transform="rotate(0 463.4 27.1)"/>
<ellipse cx="421.6" cy="28.4" rx="0.89" ry="0.92" fill="#a85a20" opacity="1.0" transform="rotate(0 421.6 28.4)"/>
<ellipse cx="406.2" cy="26.6" rx="0.73" ry="1.05" fill="#b06a2a" opacity="1.0" transform="rotate(0 406.2 26.6)"/>
<ellipse cx="448.9" cy="25.1" rx="0.45" ry="0.74" fill="#c88848" opacity="1.0" transform="rotate(0 448.9 25.1)"/>
<ellipse cx="407.3" cy="28.4" rx="0.54" ry="0.83" fill="#d09050" opacity="1.0" transform="rotate(0 407.3 28.4)"/>
<ellipse cx="407.8" cy="27.3" rx="0.60" ry="0.94" fill="#a85a20" opacity="1.0" transform="rotate(0 407.8 27.3)"/>
<ellipse cx="422.6" cy="29.5" rx="0.63" ry="0.73" fill="#c07a30" opacity="1.0" transform="rotate(0 422.6 29.5)"/>
<ellipse cx="450.7" cy="29.1" rx="0.52" ry="0.77" fill="#d09050" opacity="1.0" transform="rotate(0 450.7 29.1)"/>
<ellipse cx="423.6" cy="26.3" rx="0.82" ry="0.85" fill="#a85a20" opacity="1.0" transform="rotate(0 423.6 26.3)"/>
<ellipse cx="462.0" cy="25.3" rx="0.89" ry="1.09" fill="#c07a30" opacity="1.0" transform="rotate(0 462.0 25.3)"/>
<ellipse cx="468.2" cy="29.4" rx="0.64" ry="0.80" fill="#b06a2a" opacity="1.0" transform="rotate(0 468.2 29.4)"/>
<ellipse cx="466.1" cy="25.7" rx="0.53" ry="0.70" fill="#a85a20" opacity="1.0" transform="rotate(0 466.1 25.7)"/>
<ellipse cx="447.9" cy="28.8" rx="1.01" ry="1.17" fill="#a85a20" opacity="1.0" transform="rotate(0 447.9 28.8)"/>
<ellipse cx="412.5" cy="30.1" rx="0.86" ry="1.05" fill="#c88848" opacity="1.0" transform="rotate(0 412.5 30.1)"/>
<ellipse cx="437.9" cy="27.5" rx="0.80" ry="1.21" fill="#d09050" opacity="1.0" transform="rotate(0 437.9 27.5)"/>
<ellipse cx="402.7" cy="28.0" rx="0.77" ry="1.11" fill="#c07a30" opacity="1.0" transform="rotate(0 402.7 28.0)"/>
<ellipse cx="436.7" cy="27.9" rx="0.46" ry="0.72" fill="#d09050" opacity="1.0" transform="rotate(0 436.7 27.9)"/>
<ellipse cx="414.3" cy="26.2" rx="0.80" ry="1.10" fill="#c88848" opacity="1.0" transform="rotate(0 414.3 26.2)"/>
<ellipse cx="445.7" cy="26.4" rx="0.80" ry="0.89" fill="#c07a30" opacity="1.0" transform="rotate(0 445.7 26.4)"/>
<ellipse cx="441.2" cy="27.8" rx="0.62" ry="0.76" fill="#d09050" opacity="1.0" transform="rotate(0 441.2 27.8)"/>
<ellipse cx="468.8" cy="29.6" rx="0.92" ry="1.23" fill="#b06a2a" opacity="1.0" transform="rotate(0 468.8 29.6)"/>
<ellipse cx="434.3" cy="26.4" rx="1.19" ry="1.29" fill="#d09050" opacity="1.0" transform="rotate(0 434.3 26.4)"/>
<ellipse cx="458.5" cy="26.4" rx="1.07" ry="1.10" fill="#b06a2a" opacity="1.0" transform="rotate(0 458.5 26.4)"/>
<ellipse cx="465.0" cy="28.8" rx="0.57" ry="0.79" fill="#b06a2a" opacity="1.0" transform="rotate(0 465.0 28.8)"/>
<ellipse cx="404.3" cy="28.2" rx="0.68" ry="0.86" fill="#c07a30" opacity="1.0" transform="rotate(0 404.3 28.2)"/>
<ellipse cx="423.7" cy="26.3" rx="0.64" ry="0.70" fill="#c88848" opacity="1.0" transform="rotate(0 423.7 26.3)"/>
<ellipse cx="425.4" cy="28.6" rx="0.67" ry="1.04" fill="#b06a2a" opacity="1.0" transform="rotate(0 425.4 28.6)"/>
<ellipse cx="460.1" cy="27.9" rx="0.51" ry="0.79" fill="#c88848" opacity="1.0" transform="rotate(0 460.1 27.9)"/>
<ellipse cx="468.8" cy="30.1" rx="0.54" ry="0.72" fill="#b06a2a" opacity="1.0" transform="rotate(0 468.8 30.1)"/>
<ellipse cx="417.6" cy="27.8" rx="1.21" ry="1.22" fill="#b06a2a" opacity="1.0" transform="rotate(0 417.6 27.8)"/>
<ellipse cx="407.2" cy="25.6" rx="0.79" ry="1.18" fill="#a85a20" opacity="1.0" transform="rotate(0 407.2 25.6)"/>
<ellipse cx="451.4" cy="26.6" rx="1.16" ry="1.26" fill="#b06a2a" opacity="1.0" transform="rotate(0 451.4 26.6)"/>
<ellipse cx="455.9" cy="25.3" rx="1.15" ry="1.22" fill="#b06a2a" opacity="1.0" transform="rotate(0 455.9 25.3)"/>
<ellipse cx="467.5" cy="26.7" rx="1.13" ry="1.19" fill="#b06a2a" opacity="1.0" transform="rotate(0 467.5 26.7)"/>
<ellipse cx="403.4" cy="26.5" rx="1.20" ry="1.22" fill="#c88848" opacity="1.0" transform="rotate(0 403.4 26.5)"/>
<ellipse cx="431.3" cy="28.5" rx="0.88" ry="1.21" fill="#c07a30" opacity="1.0" transform="rotate(0 431.3 28.5)"/>
<ellipse cx="472.1" cy="25.7" rx="0.90" ry="1.28" fill="#c07a30" opacity="1.0" transform="rotate(0 472.1 25.7)"/>
<ellipse cx="416.9" cy="29.1" rx="0.96" ry="0.96" fill="#c07a30" opacity="1.0" transform="rotate(0 416.9 29.1)"/>
<ellipse cx="437.3" cy="26.1" rx="0.68" ry="1.13" fill="#d09050" opacity="1.0" transform="rotate(0 437.3 26.1)"/>
<ellipse cx="469.4" cy="28.8" rx="0.63" ry="0.82" fill="#c88848" opacity="1.0" transform="rotate(0 469.4 28.8)"/>
<ellipse cx="444.9" cy="25.4" rx="1.00" ry="1.24" fill="#a85a20" opacity="1.0" transform="rotate(0 444.9 25.4)"/>
<ellipse cx="447.9" cy="27.8" rx="0.71" ry="0.82" fill="#a85a20" opacity="1.0" transform="rotate(0 447.9 27.8)"/>
<ellipse cx="466.1" cy="28.1" rx="0.72" ry="0.88" fill="#c07a30" opacity="1.0" transform="rotate(0 466.1 28.1)"/>
<ellipse cx="404.9" cy="29.1" rx="0.78" ry="1.06" fill="#a85a20" opacity="1.0" transform="rotate(0 404.9 29.1)"/>
<ellipse cx="405.2" cy="27.3" rx="1.14" ry="1.24" fill="#b06a2a" opacity="1.0" transform="rotate(0 405.2 27.3)"/>
<circle cx="411.4" cy="30.0" r="0.59" fill="#5a9ad0" opacity="1.0"/>
<circle cx="406.2" cy="28.7" r="0.41" fill="#6aa5d5" opacity="1.0"/>
<circle cx="454.2" cy="29.4" r="0.67" fill="#6aa5d5" opacity="1.0"/>
<circle cx="407.9" cy="30.0" r="0.40" fill="#4a8fc8" opacity="1.0"/>
<circle cx="405.6" cy="30.4" r="0.61" fill="#5a9ad0" opacity="1.0"/>
<circle cx="397.0" cy="28.5" r="0.54" fill="#3a7fb8" opacity="1.0"/>
<circle cx="465.1" cy="29.9" r="0.62" fill="#6aa5d5" opacity="1.0"/>
<circle cx="452.0" cy="29.5" r="0.48" fill="#3a7fb8" opacity="1.0"/>
<circle cx="432.4" cy="29.9" r="0.48" fill="#3a7fb8" opacity="1.0"/>
<circle cx="416.0" cy="30.6" r="0.42" fill="#6aa5d5" opacity="1.0"/>
<circle cx="448.7" cy="28.4" r="0.52" fill="#6aa5d5" opacity="1.0"/>
<circle cx="459.9" cy="29.2" r="0.63" fill="#4a8fc8" opacity="1.0"/>
<ellipse cx="454.0" cy="52.4" rx="0.52" ry="0.30" fill="#6aa5d5" opacity="1.0" transform="rotate(0 454.0 52.4)"/>
<ellipse cx="470.6" cy="54.6" rx="1.25" ry="0.60" fill="#5a9ad0" opacity="1.0" transform="rotate(0 470.6 54.6)"/>
<ellipse cx="410.4" cy="58.2" rx="1.06" ry="0.46" fill="#6aa5d5" opacity="1.0" transform="rotate(0 410.4 58.2)"/>
<ellipse cx="460.6" cy="82.0" rx="1.43" ry="0.69" fill="#6aa5d5" opacity="1.0" transform="rotate(0 460.6 82.0)"/>
<ellipse cx="444.9" cy="36.2" rx="1.29" ry="0.47" fill="#5a9ad0" opacity="1.0" transform="rotate(0 444.9 36.2)"/>
<ellipse cx="419.8" cy="43.2" rx="1.09" ry="0.43" fill="#6aa5d5" opacity="1.0" transform="rotate(0 419.8 43.2)"/>
<ellipse cx="470.4" cy="54.7" rx="1.23" ry="0.63" fill="#4a8fc8" opacity="1.0" transform="rotate(0 470.4 54.7)"/>
<ellipse cx="417.2" cy="67.2" rx="1.41" ry="0.61" fill="#4a8fc8" opacity="1.0" transform="rotate(0 417.2 67.2)"/>
<ellipse cx="403.9" cy="32.7" rx="0.45" ry="0.36" fill="#4a8fc8" opacity="1.0" transform="rotate(0 403.9 32.7)"/>
<ellipse cx="405.6" cy="69.9" rx="0.81" ry="0.61" fill="#4a8fc8" opacity="1.0" transform="rotate(0 405.6 69.9)"/>
<ellipse cx="400.8" cy="48.6" rx="1.52" ry="0.53" fill="#6aa5d5" opacity="1.0" transform="rotate(0 400.8 48.6)"/>
<ellipse cx="449.5" cy="35.8" rx="1.30" ry="0.58" fill="#4a8fc8" opacity="1.0" transform="rotate(0 449.5 35.8)"/>
<ellipse cx="413.0" cy="69.1" rx="1.61" ry="0.62" fill="#4a8fc8" opacity="1.0" transform="rotate(0 413.0 69.1)"/>
<ellipse cx="424.2" cy="51.9" rx="0.85" ry="0.50" fill="#6aa5d5" opacity="1.0" transform="rotate(0 424.2 51.9)"/>
<ellipse cx="395.6" cy="84.3" rx="1.47" ry="0.55" fill="#5a9ad0" opacity="1.0" transform="rotate(0 395.6 84.3)"/>
<ellipse cx="451.2" cy="84.5" rx="1.07" ry="0.41" fill="#6aa5d5" opacity="1.0" transform="rotate(0 451.2 84.5)"/>
<ellipse cx="459.3" cy="64.1" rx="0.64" ry="0.43" fill="#4a8fc8" opacity="1.0" transform="rotate(0 459.3 64.1)"/>
<ellipse cx="426.2" cy="72.7" rx="1.23" ry="0.53" fill="#3a7fb8" opacity="1.0" transform="rotate(0 426.2 72.7)"/>
<ellipse cx="461.5" cy="41.6" rx="1.00" ry="0.38" fill="#3a7fb8" opacity="1.0" transform="rotate(0 461.5 41.6)"/>
<ellipse cx="439.0" cy="79.8" rx="1.06" ry="0.52" fill="#5a9ad0" opacity="1.0" transform="rotate(0 439.0 79.8)"/>
<ellipse cx="437.0" cy="37.7" rx="3.19" ry="0.73" fill="#8b3a1a" opacity="1.0" transform="rotate(0 437.0 37.7)"/>
<ellipse cx="409.1" cy="37.2" rx="2.17" ry="0.62" fill="#8b3a1a" opacity="1.0" transform="rotate(0 409.1 37.2)"/>
<ellipse cx="429.5" cy="37.6" rx="2.65" ry="0.72" fill="#8b3a1a" opacity="1.0" transform="rotate(0 429.5 37.6)"/>
<ellipse cx="418.4" cy="36.7" rx="1.81" ry="0.56" fill="#a0522d" opacity="1.0" transform="rotate(0 418.4 36.7)"/>
<ellipse cx="437.8" cy="37.2" rx="3.06" ry="0.68" fill="#8b3a1a" opacity="1.0" transform="rotate(0 437.8 37.2)"/>
<ellipse cx="441.5" cy="37.2" rx="2.19" ry="0.61" fill="#a0522d" opacity="1.0" transform="rotate(0 441.5 37.2)"/>
<ellipse cx="411.1" cy="48.0" rx="6.72" ry="4.11" fill="#8a1632" opacity="1" transform="rotate(0 411.1 48.0)"/>
<ellipse cx="429.6" cy="48.0" rx="10.61" ry="6.85" fill="#a01a40" opacity="1" transform="rotate(0 429.6 48.0)"/>
<ellipse cx="429.6" cy="46.7" rx="2.21" ry="1.71" fill="#c06080" opacity="1" transform="rotate(0 429.6 46.7)"/>
<ellipse cx="457.0" cy="45.3" rx="7.07" ry="4.11" fill="#4a1414" opacity="1" transform="rotate(0 457.0 45.3)"/>
<ellipse cx="455.3" cy="52.1" rx="7.07" ry="3.43" fill="#a81c44" opacity="1" transform="rotate(0 455.3 52.1)"/>
<ellipse cx="440.2" cy="63.1" rx="15.03" ry="5.14" fill="#b81e58" opacity="1" transform="rotate(0 440.2 63.1)"/>
<ellipse cx="434.9" cy="60.4" rx="7.07" ry="3.43" fill="#a01a48" opacity="1" transform="rotate(0 434.9 60.4)"/>
<ellipse cx="417.2" cy="59.0" rx="4.42" ry="2.74" fill="#a01a40" opacity="1" transform="rotate(0 417.2 59.0)"/>
<ellipse cx="390.7" cy="69.3" rx="4.42" ry="3.43" fill="#901830" opacity="1" transform="rotate(0 390.7 69.3)"/>
<ellipse cx="426.1" cy="68.6" rx="5.30" ry="2.74" fill="#b02048" opacity="1" transform="rotate(0 426.1 68.6)"/>
<ellipse cx="446.4" cy="52.1" rx="4.42" ry="2.74" fill="#a01a40" opacity="1" transform="rotate(0 446.4 52.1)"/>
<ellipse cx="467.6" cy="38.5" rx="4.42" ry="2.74" fill="#8a3018" opacity="1" transform="rotate(0 467.6 38.5)"/>
<ellipse cx="399.6" cy="38.5" rx="5.30" ry="2.05" fill="#8a3a1a" opacity="1" transform="rotate(0 399.6 38.5)"/>
<ellipse cx="462.3" cy="60.4" rx="7.96" ry="4.11" fill="#b42248" opacity="1" transform="rotate(0 462.3 60.4)"/>
<ellipse cx="409.3" cy="65.8" rx="7.07" ry="3.43" fill="#a01a3a" opacity="1" transform="rotate(0 409.3 65.8)"/>
<ellipse cx="399.6" cy="75.4" rx="5.75" ry="3.08" fill="#7a1428" opacity="1" transform="rotate(0 399.6 75.4)"/>
<ellipse cx="419.0" cy="75.4" rx="8.40" ry="3.43" fill="#a01c42" opacity="1" transform="rotate(0 419.0 75.4)"/>
<ellipse cx="433.2" cy="80.2" rx="7.96" ry="3.43" fill="#981a3e" opacity="1" transform="rotate(0 433.2 80.2)"/>
<ellipse cx="449.9" cy="80.9" rx="6.63" ry="3.08" fill="#a01c42" opacity="1" transform="rotate(0 449.9 80.9)"/>
<ellipse cx="426.1" cy="55.6" rx="4.42" ry="2.05" fill="#b02050" opacity="1" transform="rotate(0 426.1 55.6)"/>
<ellipse cx="393.4" cy="48.7" rx="4.42" ry="2.74" fill="#8a3a1a" opacity="1" transform="rotate(0 393.4 48.7)"/>
<ellipse cx="468.5" cy="69.3" rx="5.30" ry="2.05" fill="#d04060" opacity="1" transform="rotate(0 468.5 69.3)"/>
<ellipse cx="395.1" cy="84.3" rx="8.84" ry="2.74" fill="#b02040" opacity="1" transform="rotate(0 395.1 84.3)"/>
<ellipse cx="398.7" cy="56.3" rx="7.07" ry="2.05" fill="#8b4a1a" opacity="1" transform="rotate(25 398.7 56.3)"/>
<ellipse cx="391.6" cy="43.9" rx="6.19" ry="2.74" fill="#9a4a22" opacity="1" transform="rotate(0 391.6 43.9)"/>
<ellipse cx="462.3" cy="75.4" rx="4.42" ry="1.71" fill="#8b3a1a" opacity="1" transform="rotate(0 462.3 75.4)"/>
<ellipse cx="467.6" cy="83.0" rx="6.19" ry="2.74" fill="#a05a2a" opacity="1" transform="rotate(0 467.6 83.0)"/>
<ellipse cx="391.6" cy="61.1" rx="2.65" ry="1.37" fill="#a0522d" opacity="1" transform="rotate(0 391.6 61.1)"/>
<ellipse cx="472.0" cy="54.9" rx="2.65" ry="2.05" fill="#8b3a1a" opacity="1" transform="rotate(0 472.0 54.9)"/>
<ellipse cx="426.1" cy="37.8" rx="17.68" ry="0.82" fill="#a05a3a" opacity="1" transform="rotate(0 426.1 37.8)"/>
<ellipse cx="446.4" cy="40.5" rx="5.30" ry="1.37" fill="#9a4a2a" opacity="1" transform="rotate(0 446.4 40.5)"/>
<ellipse cx="404.0" cy="50.8" rx="2.65" ry="1.37" fill="#c04060" opacity="1" transform="rotate(0 404.0 50.8)"/>
</g>
<line x1="455.25" y1="80.90" x2="469.40" y2="80.90" stroke="#333" stroke-width="0.9"/>
<line x1="459.67" y1="79.60" x2="464.98" y2="79.60" stroke="#666" stroke-width="0.6"/>
<path d="M455.3,26.8 L456.2,21.4 L460.7,25.9 z" fill="#111"/>
</g>
<rect x="386.30" y="17.90" width="88.40" height="68.50" fill="none" stroke="#8c8c8c" stroke-width="0.9"/>
<clipPath id="c51"><rect x="296.30" y="88.00" width="88.30" height="68.30"/></clipPath>
<g clip-path="url(#c51)">
<g filter="url(#bl35)">
<rect x="296.30" y="88.00" width="88.30" height="68.30" fill="#f6f6f8"/>
<path d="M296.3,94.8 L301.8,95.9 L307.3,96.8 L312.9,97.4 L318.4,97.6 L323.9,97.3 L329.4,96.6 L334.9,95.6 L340.4,94.5 L346.0,93.5 L351.5,92.7 L357.0,92.2 L362.5,92.1 L368.0,92.5 L373.6,93.3 L379.1,94.3 L384.6,95.4" fill="none" stroke="#d2e2ee" stroke-width="7" opacity="0.9" stroke-linecap="round" stroke-linejoin="round"/>
<path d="M296.3,108.5 L301.8,108.4 L307.3,108.3 L312.9,108.1 L318.4,107.8 L323.9,107.4 L329.4,106.9 L334.9,106.3 L340.4,105.6 L346.0,104.8 L351.5,104.0 L357.0,103.0 L362.5,102.0 L368.0,100.8 L373.6,99.6 L379.1,98.3 L384.6,96.9" fill="none" stroke="#d6e4ef" stroke-width="3.5" opacity="0.9" stroke-linecap="round" stroke-linejoin="round"/>
<path d="M296.3,120.1 L349.3,115.3" fill="none" stroke="#dbe7f0" stroke-width="2.5" opacity="0.9" stroke-linecap="round" stroke-linejoin="round"/>
<circle cx="317.8" cy="97.6" r="0.34" fill="#5a9ad0" opacity="1.0"/>
<circle cx="318.9" cy="100.6" r="0.44" fill="#8ab0d0" opacity="1.0"/>
<circle cx="326.5" cy="98.3" r="0.40" fill="#4a8fc8" opacity="1.0"/>
<circle cx="298.8" cy="93.3" r="0.42" fill="#5a9ad0" opacity="1.0"/>
<circle cx="322.8" cy="97.0" r="0.50" fill="#5a9ad0" opacity="1.0"/>
<circle cx="298.9" cy="99.1" r="0.34" fill="#4a8fc8" opacity="1.0"/>
<circle cx="369.1" cy="95.3" r="0.50" fill="#5a9ad0" opacity="1.0"/>
<circle cx="379.8" cy="98.0" r="0.47" fill="#5a9ad0" opacity="1.0"/>
<circle cx="329.0" cy="96.5" r="0.54" fill="#8ab0d0" opacity="1.0"/>
<circle cx="336.1" cy="92.3" r="0.49" fill="#6aa5d5" opacity="1.0"/>
<circle cx="365.7" cy="96.4" r="0.53" fill="#8ab0d0" opacity="1.0"/>
<circle cx="367.7" cy="90.9" r="0.43" fill="#4a8fc8" opacity="1.0"/>
<circle cx="343.0" cy="97.1" r="0.52" fill="#3a7fb8" opacity="1.0"/>
<circle cx="360.7" cy="92.8" r="0.35" fill="#4a8fc8" opacity="1.0"/>
<circle cx="323.5" cy="98.7" r="0.41" fill="#3a7fb8" opacity="1.0"/>
<circle cx="322.3" cy="97.3" r="0.34" fill="#6aa5d5" opacity="1.0"/>
<circle cx="312.1" cy="95.7" r="0.52" fill="#5a9ad0" opacity="1.0"/>
<circle cx="360.4" cy="92.6" r="0.43" fill="#3a7fb8" opacity="1.0"/>
<circle cx="348.7" cy="92.5" r="0.41" fill="#3a7fb8" opacity="1.0"/>
<circle cx="356.9" cy="96.1" r="0.40" fill="#6aa5d5" opacity="1.0"/>
<circle cx="331.8" cy="100.2" r="0.54" fill="#6aa5d5" opacity="1.0"/>
<circle cx="361.9" cy="90.7" r="0.45" fill="#5a9ad0" opacity="1.0"/>
<circle cx="380.0" cy="97.0" r="0.37" fill="#8ab0d0" opacity="1.0"/>
<circle cx="300.6" cy="93.8" r="0.53" fill="#4a8fc8" opacity="1.0"/>
<circle cx="336.2" cy="96.2" r="0.48" fill="#8ab0d0" opacity="1.0"/>
<circle cx="369.1" cy="90.8" r="0.48" fill="#8ab0d0" opacity="1.0"/>
<circle cx="317.6" cy="99.8" r="0.35" fill="#4a8fc8" opacity="1.0"/>
<circle cx="379.2" cy="96.2" r="0.30" fill="#5a9ad0" opacity="1.0"/>
<circle cx="364.3" cy="92.0" r="0.33" fill="#8ab0d0" opacity="1.0"/>
<circle cx="314.5" cy="101.1" r="0.51" fill="#4a8fc8" opacity="1.0"/>
<circle cx="300.4" cy="94.0" r="0.32" fill="#5a9ad0" opacity="1.0"/>
<circle cx="349.6" cy="93.0" r="0.54" fill="#3a7fb8" opacity="1.0"/>
<circle cx="367.6" cy="95.3" r="0.36" fill="#6aa5d5" opacity="1.0"/>
<circle cx="314.7" cy="100.0" r="0.35" fill="#5a9ad0" opacity="1.0"/>
<circle cx="345.7" cy="96.4" r="0.48" fill="#4a8fc8" opacity="1.0"/>
<circle cx="297.8" cy="97.8" r="0.38" fill="#8ab0d0" opacity="1.0"/>
<circle cx="360.6" cy="88.8" r="0.30" fill="#3a7fb8" opacity="1.0"/>
<circle cx="363.5" cy="93.7" r="0.44" fill="#4a8fc8" opacity="1.0"/>
<circle cx="369.4" cy="91.3" r="0.45" fill="#4a8fc8" opacity="1.0"/>
<circle cx="339.3" cy="91.2" r="0.43" fill="#3a7fb8" opacity="1.0"/>
<circle cx="352.7" cy="91.1" r="0.49" fill="#6aa5d5" opacity="1.0"/>
<circle cx="375.0" cy="96.3" r="0.47" fill="#6aa5d5" opacity="1.0"/>
<circle cx="379.5" cy="91.7" r="0.42" fill="#4a8fc8" opacity="1.0"/>
<circle cx="362.3" cy="90.5" r="0.45" fill="#4a8fc8" opacity="1.0"/>
<circle cx="331.6" cy="94.7" r="0.41" fill="#3a7fb8" opacity="1.0"/>
<circle cx="353.4" cy="92.1" r="0.31" fill="#6aa5d5" opacity="1.0"/>
<circle cx="299.5" cy="94.2" r="0.54" fill="#3a7fb8" opacity="1.0"/>
<circle cx="383.8" cy="96.7" r="0.35" fill="#6aa5d5" opacity="1.0"/>
<circle cx="365.3" cy="93.3" r="0.38" fill="#4a8fc8" opacity="1.0"/>
<circle cx="311.4" cy="99.3" r="0.52" fill="#6aa5d5" opacity="1.0"/>
<circle cx="337.2" cy="96.1" r="0.54" fill="#5a9ad0" opacity="1.0"/>
<circle cx="320.6" cy="96.8" r="0.36" fill="#5a9ad0" opacity="1.0"/>
<circle cx="359.3" cy="96.2" r="0.51" fill="#4a8fc8" opacity="1.0"/>
<circle cx="360.5" cy="90.2" r="0.30" fill="#5a9ad0" opacity="1.0"/>
<circle cx="318.5" cy="100.9" r="0.36" fill="#6aa5d5" opacity="1.0"/>
<circle cx="326.0" cy="96.9" r="0.51" fill="#5a9ad0" opacity="1.0"/>
<circle cx="315.7" cy="95.2" r="0.44" fill="#8ab0d0" opacity="1.0"/>
<circle cx="332.4" cy="99.2" r="0.47" fill="#4a8fc8" opacity="1.0"/>
<circle cx="305.9" cy="96.5" r="0.38" fill="#3a7fb8" opacity="1.0"/>
<circle cx="320.5" cy="95.2" r="0.53" fill="#6aa5d5" opacity="1.0"/>
<circle cx="371.3" cy="91.6" r="0.48" fill="#8ab0d0" opacity="1.0"/>
<circle cx="316.6" cy="101.3" r="0.53" fill="#4a8fc8" opacity="1.0"/>
<circle cx="325.2" cy="95.8" r="0.46" fill="#5a9ad0" opacity="1.0"/>
<circle cx="343.0" cy="96.9" r="0.33" fill="#8ab0d0" opacity="1.0"/>
<circle cx="335.1" cy="99.7" r="0.37" fill="#6aa5d5" opacity="1.0"/>
<circle cx="316.4" cy="94.9" r="0.34" fill="#8ab0d0" opacity="1.0"/>
<circle cx="358.4" cy="88.6" r="0.39" fill="#5a9ad0" opacity="1.0"/>
<circle cx="340.9" cy="98.0" r="0.51" fill="#3a7fb8" opacity="1.0"/>
<circle cx="343.4" cy="94.5" r="0.37" fill="#5a9ad0" opacity="1.0"/>
<circle cx="316.8" cy="96.4" r="0.45" fill="#3a7fb8" opacity="1.0"/>
<circle cx="297.4" cy="94.2" r="0.50" fill="#8ab0d0" opacity="1.0"/>
<circle cx="334.6" cy="94.7" r="0.50" fill="#6aa5d5" opacity="1.0"/>
<circle cx="316.4" cy="93.9" r="0.42" fill="#3a7fb8" opacity="1.0"/>
<circle cx="344.2" cy="92.7" r="0.54" fill="#8ab0d0" opacity="1.0"/>
<circle cx="347.4" cy="90.6" r="0.49" fill="#8ab0d0" opacity="1.0"/>
<circle cx="332.0" cy="98.4" r="0.48" fill="#5a9ad0" opacity="1.0"/>
<circle cx="328.6" cy="99.3" r="0.44" fill="#6aa5d5" opacity="1.0"/>
<circle cx="322.2" cy="100.8" r="0.46" fill="#4a8fc8" opacity="1.0"/>
<circle cx="297.4" cy="98.6" r="0.48" fill="#4a8fc8" opacity="1.0"/>
<circle cx="369.9" cy="93.7" r="0.44" fill="#3a7fb8" opacity="1.0"/>
<circle cx="370.4" cy="92.3" r="0.51" fill="#6aa5d5" opacity="1.0"/>
<circle cx="321.4" cy="94.1" r="0.32" fill="#4a8fc8" opacity="1.0"/>
<circle cx="384.0" cy="98.1" r="0.52" fill="#5a9ad0" opacity="1.0"/>
<circle cx="306.5" cy="93.0" r="0.50" fill="#6aa5d5" opacity="1.0"/>
<circle cx="370.8" cy="91.9" r="0.36" fill="#5a9ad0" opacity="1.0"/>
<circle cx="325.0" cy="100.2" r="0.37" fill="#4a8fc8" opacity="1.0"/>
<circle cx="370.0" cy="88.9" r="0.33" fill="#6aa5d5" opacity="1.0"/>
<circle cx="364.2" cy="88.7" r="0.35" fill="#8ab0d0" opacity="1.0"/>
<circle cx="332.8" cy="93.5" r="0.51" fill="#3a7fb8" opacity="1.0"/>
<circle cx="375.1" cy="92.9" r="0.33" fill="#4a8fc8" opacity="1.0"/>
<circle cx="353.6" cy="91.6" r="0.32" fill="#6aa5d5" opacity="1.0"/>
<circle cx="364.1" cy="94.1" r="0.53" fill="#6aa5d5" opacity="1.0"/>
<circle cx="349.5" cy="93.9" r="0.30" fill="#6aa5d5" opacity="1.0"/>
<circle cx="317.8" cy="95.0" r="0.52" fill="#5a9ad0" opacity="1.0"/>
<circle cx="312.9" cy="100.5" r="0.37" fill="#3a7fb8" opacity="1.0"/>
<circle cx="315.8" cy="98.6" r="0.45" fill="#4a8fc8" opacity="1.0"/>
<circle cx="302.3" cy="96.8" r="0.40" fill="#8ab0d0" opacity="1.0"/>
<circle cx="365.5" cy="88.6" r="0.30" fill="#6aa5d5" opacity="1.0"/>
<circle cx="314.2" cy="97.5" r="0.46" fill="#4a8fc8" opacity="1.0"/>
<circle cx="326.4" cy="95.0" r="0.53" fill="#6aa5d5" opacity="1.0"/>
<circle cx="306.7" cy="94.5" r="0.42" fill="#6aa5d5" opacity="1.0"/>
<circle cx="301.6" cy="96.4" r="0.35" fill="#6aa5d5" opacity="1.0"/>
<circle cx="316.8" cy="96.8" r="0.46" fill="#6aa5d5" opacity="1.0"/>
<circle cx="373.1" cy="96.7" r="0.54" fill="#4a8fc8" opacity="1.0"/>
<circle cx="364.5" cy="90.2" r="0.43" fill="#3a7fb8" opacity="1.0"/>
<circle cx="358.3" cy="88.1" r="0.46" fill="#3a7fb8" opacity="1.0"/>
<circle cx="299.2" cy="95.7" r="0.35" fill="#6aa5d5" opacity="1.0"/>
<circle cx="351.5" cy="95.6" r="0.35" fill="#5a9ad0" opacity="1.0"/>
<circle cx="359.1" cy="90.5" r="0.40" fill="#5a9ad0" opacity="1.0"/>
<circle cx="366.2" cy="88.9" r="0.31" fill="#6aa5d5" opacity="1.0"/>
<circle cx="366.1" cy="89.8" r="0.50" fill="#5a9ad0" opacity="1.0"/>
<circle cx="321.5" cy="101.5" r="0.39" fill="#5a9ad0" opacity="1.0"/>
<circle cx="345.9" cy="89.5" r="0.39" fill="#4a8fc8" opacity="1.0"/>
<circle cx="313.4" cy="99.9" r="0.52" fill="#6aa5d5" opacity="1.0"/>
<circle cx="376.1" cy="90.7" r="0.49" fill="#8ab0d0" opacity="1.0"/>
<circle cx="313.8" cy="94.3" r="0.48" fill="#6aa5d5" opacity="1.0"/>
<circle cx="301.7" cy="93.9" r="0.45" fill="#6aa5d5" opacity="1.0"/>
<circle cx="367.4" cy="94.0" r="0.45" fill="#8ab0d0" opacity="1.0"/>
<circle cx="379.4" cy="94.4" r="0.43" fill="#6aa5d5" opacity="1.0"/>
<circle cx="384.0" cy="92.7" r="0.39" fill="#4a8fc8" opacity="1.0"/>
<circle cx="373.6" cy="93.3" r="0.37" fill="#4a8fc8" opacity="1.0"/>
<circle cx="334.4" cy="93.4" r="0.49" fill="#3a7fb8" opacity="1.0"/>
<circle cx="358.5" cy="93.8" r="0.38" fill="#3a7fb8" opacity="1.0"/>
<circle cx="338.0" cy="91.3" r="0.38" fill="#8ab0d0" opacity="1.0"/>
<circle cx="347.1" cy="90.1" r="0.32" fill="#6aa5d5" opacity="1.0"/>
<circle cx="346.1" cy="96.0" r="0.34" fill="#5a9ad0" opacity="1.0"/>
<circle cx="342.4" cy="94.6" r="0.50" fill="#3a7fb8" opacity="1.0"/>
<circle cx="376.4" cy="93.6" r="0.47" fill="#3a7fb8" opacity="1.0"/>
<circle cx="331.7" cy="92.3" r="0.31" fill="#5a9ad0" opacity="1.0"/>
<circle cx="371.2" cy="93.8" r="0.37" fill="#4a8fc8" opacity="1.0"/>
<circle cx="343.3" cy="95.1" r="0.33" fill="#8ab0d0" opacity="1.0"/>
<circle cx="350.0" cy="89.1" r="0.40" fill="#8ab0d0" opacity="1.0"/>
<circle cx="313.7" cy="101.1" r="0.31" fill="#3a7fb8" opacity="1.0"/>
<circle cx="383.9" cy="96.7" r="0.37" fill="#4a8fc8" opacity="1.0"/>
<circle cx="372.8" cy="97.2" r="0.50" fill="#3a7fb8" opacity="1.0"/>
<circle cx="367.9" cy="96.0" r="0.38" fill="#8ab0d0" opacity="1.0"/>
<circle cx="306.6" cy="99.8" r="0.34" fill="#3a7fb8" opacity="1.0"/>
<circle cx="326.3" cy="100.3" r="0.41" fill="#5a9ad0" opacity="1.0"/>
<circle cx="334.6" cy="94.9" r="0.36" fill="#3a7fb8" opacity="1.0"/>
<circle cx="325.7" cy="94.3" r="0.51" fill="#6aa5d5" opacity="1.0"/>
<circle cx="321.5" cy="97.1" r="0.46" fill="#4a8fc8" opacity="1.0"/>
<circle cx="345.4" cy="90.2" r="0.40" fill="#4a8fc8" opacity="1.0"/>
<circle cx="380.9" cy="98.7" r="0.49" fill="#6aa5d5" opacity="1.0"/>
<circle cx="323.6" cy="100.6" r="0.43" fill="#4a8fc8" opacity="1.0"/>
<circle cx="311.9" cy="96.5" r="0.50" fill="#6aa5d5" opacity="1.0"/>
<circle cx="335.4" cy="99.4" r="0.40" fill="#4a8fc8" opacity="1.0"/>
<circle cx="369.1" cy="91.5" r="0.35" fill="#8ab0d0" opacity="1.0"/>
<circle cx="320.8" cy="101.4" r="0.51" fill="#8ab0d0" opacity="1.0"/>
<circle cx="321.6" cy="100.7" r="0.49" fill="#6aa5d5" opacity="1.0"/>
<circle cx="304.3" cy="96.6" r="0.39" fill="#4a8fc8" opacity="1.0"/>
<circle cx="364.5" cy="90.6" r="0.51" fill="#6aa5d5" opacity="1.0"/>
<circle cx="356.5" cy="91.9" r="0.42" fill="#5a9ad0" opacity="1.0"/>
<circle cx="341.2" cy="96.8" r="0.47" fill="#3a7fb8" opacity="1.0"/>
<circle cx="341.0" cy="92.8" r="0.52" fill="#6aa5d5" opacity="1.0"/>
<circle cx="328.0" cy="100.1" r="0.37" fill="#4a8fc8" opacity="1.0"/>
<circle cx="344.6" cy="89.7" r="0.36" fill="#3a7fb8" opacity="1.0"/>
<circle cx="382.5" cy="94.2" r="0.40" fill="#5a9ad0" opacity="1.0"/>
<circle cx="325.1" cy="98.1" r="0.54" fill="#3a7fb8" opacity="1.0"/>
<circle cx="314.5" cy="95.8" r="0.49" fill="#6aa5d5" opacity="1.0"/>
<circle cx="347.7" cy="91.1" r="0.32" fill="#4a8fc8" opacity="1.0"/>
<circle cx="383.8" cy="92.2" r="0.30" fill="#8ab0d0" opacity="1.0"/>
<circle cx="331.9" cy="93.9" r="0.51" fill="#4a8fc8" opacity="1.0"/>
<circle cx="360.4" cy="90.7" r="0.43" fill="#6aa5d5" opacity="1.0"/>
<circle cx="351.1" cy="92.2" r="0.37" fill="#5a9ad0" opacity="1.0"/>
<circle cx="334.3" cy="92.3" r="0.33" fill="#6aa5d5" opacity="1.0"/>
<circle cx="363.7" cy="92.3" r="0.43" fill="#4a8fc8" opacity="1.0"/>
<circle cx="360.2" cy="95.8" r="0.54" fill="#5a9ad0" opacity="1.0"/>
<circle cx="348.1" cy="92.8" r="0.51" fill="#8ab0d0" opacity="1.0"/>
<circle cx="320.9" cy="96.9" r="0.51" fill="#3a7fb8" opacity="1.0"/>
<circle cx="355.9" cy="90.2" r="0.38" fill="#6aa5d5" opacity="1.0"/>
<circle cx="320.0" cy="109.6" r="0.31" fill="#5a9ad0" opacity="1.0"/>
<circle cx="359.9" cy="103.4" r="0.40" fill="#5a9ad0" opacity="1.0"/>
<circle cx="380.0" cy="99.4" r="0.33" fill="#4a8fc8" opacity="1.0"/>
<circle cx="373.2" cy="101.3" r="0.43" fill="#8ab0d0" opacity="1.0"/>
<circle cx="298.0" cy="110.0" r="0.50" fill="#3a7fb8" opacity="1.0"/>
<circle cx="297.4" cy="106.8" r="0.46" fill="#3a7fb8" opacity="1.0"/>
<circle cx="306.4" cy="108.4" r="0.32" fill="#8ab0d0" opacity="1.0"/>
<circle cx="365.9" cy="99.7" r="0.42" fill="#5a9ad0" opacity="1.0"/>
<circle cx="342.9" cy="105.6" r="0.54" fill="#3a7fb8" opacity="1.0"/>
<circle cx="332.2" cy="108.1" r="0.42" fill="#6aa5d5" opacity="1.0"/>
<circle cx="347.3" cy="106.1" r="0.48" fill="#4a8fc8" opacity="1.0"/>
<circle cx="361.0" cy="103.3" r="0.49" fill="#8ab0d0" opacity="1.0"/>
<circle cx="339.9" cy="105.9" r="0.33" fill="#8ab0d0" opacity="1.0"/>
<circle cx="307.3" cy="107.4" r="0.53" fill="#3a7fb8" opacity="1.0"/>
<circle cx="314.3" cy="107.0" r="0.45" fill="#8ab0d0" opacity="1.0"/>
<circle cx="363.3" cy="99.9" r="0.41" fill="#3a7fb8" opacity="1.0"/>
<circle cx="349.5" cy="104.8" r="0.55" fill="#8ab0d0" opacity="1.0"/>
<circle cx="337.4" cy="105.6" r="0.51" fill="#3a7fb8" opacity="1.0"/>
<circle cx="327.5" cy="107.8" r="0.47" fill="#8ab0d0" opacity="1.0"/>
<circle cx="300.7" cy="107.3" r="0.51" fill="#3a7fb8" opacity="1.0"/>
<circle cx="378.5" cy="99.4" r="0.45" fill="#3a7fb8" opacity="1.0"/>
<circle cx="335.9" cy="106.6" r="0.46" fill="#6aa5d5" opacity="1.0"/>
<circle cx="314.6" cy="107.9" r="0.51" fill="#8ab0d0" opacity="1.0"/>
<circle cx="344.9" cy="104.4" r="0.30" fill="#3a7fb8" opacity="1.0"/>
<circle cx="322.3" cy="107.3" r="0.44" fill="#3a7fb8" opacity="1.0"/>
<circle cx="347.1" cy="103.8" r="0.49" fill="#8ab0d0" opacity="1.0"/>
<circle cx="303.7" cy="110.1" r="0.51" fill="#3a7fb8" opacity="1.0"/>
<circle cx="330.3" cy="105.6" r="0.35" fill="#5a9ad0" opacity="1.0"/>
<circle cx="316.0" cy="108.4" r="0.34" fill="#4a8fc8" opacity="1.0"/>
<circle cx="370.9" cy="101.6" r="0.51" fill="#8ab0d0" opacity="1.0"/>
<circle cx="308.9" cy="109.2" r="0.33" fill="#3a7fb8" opacity="1.0"/>
<circle cx="310.1" cy="109.3" r="0.30" fill="#8ab0d0" opacity="1.0"/>
<circle cx="359.5" cy="102.1" r="0.55" fill="#6aa5d5" opacity="1.0"/>
<circle cx="364.7" cy="100.0" r="0.39" fill="#4a8fc8" opacity="1.0"/>
<circle cx="348.1" cy="103.1" r="0.31" fill="#5a9ad0" opacity="1.0"/>
<circle cx="359.3" cy="102.3" r="0.36" fill="#3a7fb8" opacity="1.0"/>
<circle cx="351.7" cy="105.4" r="0.39" fill="#3a7fb8" opacity="1.0"/>
<circle cx="340.9" cy="106.0" r="0.42" fill="#5a9ad0" opacity="1.0"/>
<circle cx="382.1" cy="97.6" r="0.34" fill="#3a7fb8" opacity="1.0"/>
<circle cx="363.1" cy="99.8" r="0.31" fill="#8ab0d0" opacity="1.0"/>
<circle cx="380.3" cy="96.4" r="0.31" fill="#3a7fb8" opacity="1.0"/>
<circle cx="375.3" cy="98.6" r="0.51" fill="#4a8fc8" opacity="1.0"/>
<circle cx="356.6" cy="102.0" r="0.39" fill="#4a8fc8" opacity="1.0"/>
<circle cx="348.9" cy="105.9" r="0.50" fill="#3a7fb8" opacity="1.0"/>
<circle cx="300.1" cy="109.1" r="0.32" fill="#8ab0d0" opacity="1.0"/>
<circle cx="324.0" cy="107.0" r="0.50" fill="#5a9ad0" opacity="1.0"/>
<circle cx="361.4" cy="103.6" r="0.32" fill="#6aa5d5" opacity="1.0"/>
<circle cx="314.7" cy="109.7" r="0.46" fill="#4a8fc8" opacity="1.0"/>
<circle cx="354.4" cy="105.1" r="0.44" fill="#3a7fb8" opacity="1.0"/>
<circle cx="311.8" cy="109.1" r="0.46" fill="#3a7fb8" opacity="1.0"/>
<circle cx="357.6" cy="103.2" r="0.39" fill="#5a9ad0" opacity="1.0"/>
<circle cx="384.2" cy="98.8" r="0.54" fill="#3a7fb8" opacity="1.0"/>
<circle cx="309.4" cy="109.4" r="0.46" fill="#8ab0d0" opacity="1.0"/>
<circle cx="321.5" cy="105.7" r="0.48" fill="#5a9ad0" opacity="1.0"/>
<circle cx="347.5" cy="105.4" r="0.35" fill="#5a9ad0" opacity="1.0"/>
<circle cx="351.1" cy="104.0" r="0.43" fill="#5a9ad0" opacity="1.0"/>
<circle cx="298.5" cy="110.0" r="0.37" fill="#3a7fb8" opacity="1.0"/>
<circle cx="299.4" cy="108.6" r="0.32" fill="#5a9ad0" opacity="1.0"/>
<circle cx="362.6" cy="101.6" r="0.43" fill="#5a9ad0" opacity="1.0"/>
<circle cx="322.2" cy="107.8" r="0.32" fill="#6aa5d5" opacity="1.0"/>
<circle cx="355.5" cy="104.2" r="0.54" fill="#8ab0d0" opacity="1.0"/>
<circle cx="375.1" cy="101.0" r="0.38" fill="#8ab0d0" opacity="1.0"/>
<circle cx="372.4" cy="100.3" r="0.45" fill="#5a9ad0" opacity="1.0"/>
<circle cx="312.6" cy="106.3" r="0.43" fill="#6aa5d5" opacity="1.0"/>
<circle cx="297.3" cy="106.7" r="0.51" fill="#3a7fb8" opacity="1.0"/>
<circle cx="352.9" cy="105.5" r="0.38" fill="#8ab0d0" opacity="1.0"/>
<circle cx="379.2" cy="99.7" r="0.42" fill="#3a7fb8" opacity="1.0"/>
<circle cx="353.5" cy="102.6" r="0.55" fill="#3a7fb8" opacity="1.0"/>
<circle cx="378.9" cy="99.7" r="0.54" fill="#4a8fc8" opacity="1.0"/>
<circle cx="300.7" cy="108.2" r="0.51" fill="#4a8fc8" opacity="1.0"/>
<circle cx="311.3" cy="109.1" r="0.40" fill="#3a7fb8" opacity="1.0"/>
<circle cx="376.9" cy="99.3" r="0.44" fill="#6aa5d5" opacity="1.0"/>
<circle cx="340.1" cy="107.3" r="0.48" fill="#3a7fb8" opacity="1.0"/>
<circle cx="354.6" cy="104.5" r="0.47" fill="#6aa5d5" opacity="1.0"/>
<circle cx="370.2" cy="101.0" r="0.38" fill="#3a7fb8" opacity="1.0"/>
<circle cx="373.2" cy="97.9" r="0.37" fill="#4a8fc8" opacity="1.0"/>
<circle cx="383.3" cy="98.2" r="0.46" fill="#6aa5d5" opacity="1.0"/>
<circle cx="314.8" cy="107.7" r="0.42" fill="#4a8fc8" opacity="1.0"/>
<circle cx="381.7" cy="98.4" r="0.48" fill="#5a9ad0" opacity="1.0"/>
<circle cx="307.4" cy="107.2" r="0.32" fill="#5a9ad0" opacity="1.0"/>
<circle cx="309.7" cy="107.9" r="0.46" fill="#6aa5d5" opacity="1.0"/>
<circle cx="359.2" cy="103.7" r="0.50" fill="#6aa5d5" opacity="1.0"/>
<circle cx="351.4" cy="104.7" r="0.40" fill="#8ab0d0" opacity="1.0"/>
<circle cx="312.1" cy="109.9" r="0.51" fill="#8ab0d0" opacity="1.0"/>
<circle cx="313.6" cy="109.9" r="0.42" fill="#8ab0d0" opacity="1.0"/>
<circle cx="302.7" cy="110.0" r="0.40" fill="#3a7fb8" opacity="1.0"/>
<circle cx="312.1" cy="109.5" r="0.35" fill="#6aa5d5" opacity="1.0"/>
<circle cx="345.7" cy="104.1" r="0.48" fill="#4a8fc8" opacity="1.0"/>
<circle cx="352.9" cy="103.0" r="0.49" fill="#8ab0d0" opacity="1.0"/>
<circle cx="307.7" cy="106.5" r="0.36" fill="#6aa5d5" opacity="1.0"/>
<circle cx="312.8" cy="107.2" r="0.41" fill="#5a9ad0" opacity="1.0"/>
<circle cx="331.2" cy="107.9" r="0.50" fill="#8ab0d0" opacity="1.0"/>
<circle cx="374.8" cy="100.1" r="0.31" fill="#6aa5d5" opacity="1.0"/>
<circle cx="349.1" cy="106.0" r="0.38" fill="#5a9ad0" opacity="1.0"/>
<circle cx="309.1" cy="107.7" r="0.50" fill="#6aa5d5" opacity="1.0"/>
<circle cx="313.7" cy="107.1" r="0.54" fill="#3a7fb8" opacity="1.0"/>
<circle cx="369.8" cy="98.7" r="0.41" fill="#3a7fb8" opacity="1.0"/>
<circle cx="322.1" cy="109.3" r="0.37" fill="#3a7fb8" opacity="1.0"/>
<circle cx="317.1" cy="109.1" r="0.38" fill="#6aa5d5" opacity="1.0"/>
<circle cx="371.8" cy="102.0" r="0.33" fill="#5a9ad0" opacity="1.0"/>
<circle cx="345.7" cy="104.8" r="0.54" fill="#8ab0d0" opacity="1.0"/>
<circle cx="347.3" cy="103.1" r="0.44" fill="#3a7fb8" opacity="1.0"/>
<circle cx="346.4" cy="103.1" r="0.44" fill="#3a7fb8" opacity="1.0"/>
<circle cx="333.6" cy="104.9" r="0.31" fill="#8ab0d0" opacity="1.0"/>
<circle cx="325.5" cy="108.4" r="0.52" fill="#4a8fc8" opacity="1.0"/>
<circle cx="330.9" cy="107.1" r="0.43" fill="#8ab0d0" opacity="1.0"/>
<circle cx="375.7" cy="98.9" r="0.51" fill="#5a9ad0" opacity="1.0"/>
<circle cx="366.7" cy="103.0" r="0.36" fill="#8ab0d0" opacity="1.0"/>
<circle cx="375.2" cy="99.9" r="0.37" fill="#5a9ad0" opacity="1.0"/>
<circle cx="362.1" cy="104.1" r="0.36" fill="#8ab0d0" opacity="1.0"/>
<circle cx="346.1" cy="114.9" r="0.36" fill="#5a9ad0" opacity="1.0"/>
<circle cx="298.8" cy="119.4" r="0.37" fill="#3a7fb8" opacity="1.0"/>
<circle cx="316.8" cy="117.7" r="0.37" fill="#3a7fb8" opacity="1.0"/>
<circle cx="341.6" cy="116.1" r="0.33" fill="#5a9ad0" opacity="1.0"/>
<circle cx="311.6" cy="119.0" r="0.35" fill="#3a7fb8" opacity="1.0"/>
<circle cx="322.9" cy="116.9" r="0.39" fill="#5a9ad0" opacity="1.0"/>
<circle cx="342.3" cy="115.4" r="0.34" fill="#4a8fc8" opacity="1.0"/>
<circle cx="320.7" cy="119.1" r="0.33" fill="#6aa5d5" opacity="1.0"/>
<circle cx="332.5" cy="117.6" r="0.48" fill="#4a8fc8" opacity="1.0"/>
<circle cx="301.7" cy="118.9" r="0.44" fill="#3a7fb8" opacity="1.0"/>
<circle cx="326.9" cy="117.1" r="0.48" fill="#5a9ad0" opacity="1.0"/>
<circle cx="321.9" cy="117.3" r="0.37" fill="#4a8fc8" opacity="1.0"/>
<circle cx="343.7" cy="114.4" r="0.35" fill="#3a7fb8" opacity="1.0"/>
<circle cx="298.9" cy="118.5" r="0.33" fill="#4a8fc8" opacity="1.0"/>
<circle cx="309.8" cy="119.0" r="0.45" fill="#3a7fb8" opacity="1.0"/>
<circle cx="304.4" cy="120.6" r="0.46" fill="#4a8fc8" opacity="1.0"/>
<circle cx="322.3" cy="117.2" r="0.38" fill="#4a8fc8" opacity="1.0"/>
<circle cx="310.4" cy="119.1" r="0.37" fill="#4a8fc8" opacity="1.0"/>
<circle cx="335.3" cy="116.5" r="0.43" fill="#4a8fc8" opacity="1.0"/>
<circle cx="300.3" cy="119.6" r="0.36" fill="#4a8fc8" opacity="1.0"/>
<circle cx="347.5" cy="116.7" r="0.31" fill="#5a9ad0" opacity="1.0"/>
<circle cx="335.4" cy="117.4" r="0.43" fill="#4a8fc8" opacity="1.0"/>
<circle cx="296.5" cy="119.8" r="0.44" fill="#5a9ad0" opacity="1.0"/>
<circle cx="328.5" cy="116.7" r="0.41" fill="#6aa5d5" opacity="1.0"/>
<circle cx="347.6" cy="115.5" r="0.36" fill="#6aa5d5" opacity="1.0"/>
<circle cx="306.0" cy="119.0" r="0.37" fill="#6aa5d5" opacity="1.0"/>
<circle cx="321.2" cy="118.9" r="0.43" fill="#6aa5d5" opacity="1.0"/>
<circle cx="298.7" cy="121.1" r="0.31" fill="#3a7fb8" opacity="1.0"/>
<circle cx="333.7" cy="116.7" r="0.43" fill="#5a9ad0" opacity="1.0"/>
<circle cx="297.3" cy="118.9" r="0.49" fill="#5a9ad0" opacity="1.0"/>
<circle cx="336.0" cy="117.2" r="0.49" fill="#5a9ad0" opacity="1.0"/>
<circle cx="331.3" cy="117.4" r="0.41" fill="#5a9ad0" opacity="1.0"/>
<circle cx="329.1" cy="117.9" r="0.44" fill="#6aa5d5" opacity="1.0"/>
<circle cx="323.2" cy="118.7" r="0.40" fill="#3a7fb8" opacity="1.0"/>
<circle cx="296.7" cy="120.3" r="0.31" fill="#5a9ad0" opacity="1.0"/>
<circle cx="306.3" cy="120.2" r="0.40" fill="#5a9ad0" opacity="1.0"/>
<circle cx="328.0" cy="118.5" r="0.49" fill="#3a7fb8" opacity="1.0"/>
<circle cx="348.6" cy="116.2" r="0.37" fill="#4a8fc8" opacity="1.0"/>
<circle cx="346.9" cy="115.9" r="0.45" fill="#3a7fb8" opacity="1.0"/>
<circle cx="305.9" cy="119.6" r="0.46" fill="#5a9ad0" opacity="1.0"/>
<circle cx="337.3" cy="117.0" r="0.43" fill="#6aa5d5" opacity="1.0"/>
<circle cx="318.6" cy="117.5" r="0.44" fill="#6aa5d5" opacity="1.0"/>
<circle cx="322.5" cy="118.2" r="0.47" fill="#6aa5d5" opacity="1.0"/>
<circle cx="340.2" cy="116.3" r="0.39" fill="#3a7fb8" opacity="1.0"/>
<circle cx="311.4" cy="118.7" r="0.38" fill="#5a9ad0" opacity="1.0"/>
<circle cx="322.1" cy="117.9" r="0.33" fill="#6aa5d5" opacity="1.0"/>
<circle cx="339.4" cy="116.5" r="0.32" fill="#4a8fc8" opacity="1.0"/>
<circle cx="296.5" cy="119.4" r="0.42" fill="#5a9ad0" opacity="1.0"/>
<circle cx="329.7" cy="117.7" r="0.34" fill="#5a9ad0" opacity="1.0"/>
<circle cx="308.7" cy="118.9" r="0.45" fill="#6aa5d5" opacity="1.0"/>
<circle cx="325.2" cy="150.4" r="0.66" fill="#a0522d" opacity="1.0"/>
<circle cx="347.4" cy="154.0" r="0.66" fill="#a0522d" opacity="1.0"/>
<circle cx="345.8" cy="149.7" r="0.70" fill="#a0522d" opacity="1.0"/>
<circle cx="324.6" cy="156.1" r="0.73" fill="#4a8fc8" opacity="1.0"/>
<circle cx="328.0" cy="150.7" r="0.52" fill="#3a7fb8" opacity="1.0"/>
<circle cx="322.6" cy="155.8" r="0.75" fill="#3a7fb8" opacity="1.0"/>
<circle cx="348.8" cy="152.3" r="0.63" fill="#6aa5d5" opacity="1.0"/>
<circle cx="332.7" cy="152.1" r="0.49" fill="#5a9ad0" opacity="1.0"/>
<circle cx="313.3" cy="154.9" r="0.77" fill="#a0522d" opacity="1.0"/>
<circle cx="379.4" cy="152.2" r="0.60" fill="#a0522d" opacity="1.0"/>
<circle cx="302.7" cy="155.9" r="0.77" fill="#5a9ad0" opacity="1.0"/>
<circle cx="333.0" cy="151.3" r="0.67" fill="#b06040" opacity="1.0"/>
<circle cx="296.9" cy="154.2" r="0.45" fill="#3a7fb8" opacity="1.0"/>
<circle cx="320.3" cy="152.8" r="0.66" fill="#4a8fc8" opacity="1.0"/>
<circle cx="309.0" cy="154.7" r="0.77" fill="#4a8fc8" opacity="1.0"/>
<circle cx="383.0" cy="151.5" r="0.71" fill="#3a7fb8" opacity="1.0"/>
<circle cx="309.0" cy="150.2" r="0.61" fill="#a0522d" opacity="1.0"/>
<circle cx="353.4" cy="155.4" r="0.45" fill="#a0522d" opacity="1.0"/>
<circle cx="363.8" cy="150.7" r="0.72" fill="#4a8fc8" opacity="1.0"/>
<circle cx="366.2" cy="154.0" r="0.51" fill="#a0522d" opacity="1.0"/>
<circle cx="336.8" cy="155.2" r="0.73" fill="#3a7fb8" opacity="1.0"/>
<circle cx="313.6" cy="150.8" r="0.60" fill="#4a8fc8" opacity="1.0"/>
<circle cx="361.3" cy="151.9" r="0.73" fill="#a0522d" opacity="1.0"/>
<circle cx="335.6" cy="156.2" r="0.62" fill="#3a7fb8" opacity="1.0"/>
<circle cx="326.3" cy="152.3" r="0.65" fill="#a0522d" opacity="1.0"/>
<circle cx="330.4" cy="150.1" r="0.71" fill="#b06040" opacity="1.0"/>
<circle cx="308.4" cy="153.0" r="0.50" fill="#b06040" opacity="1.0"/>
<circle cx="352.1" cy="150.2" r="0.70" fill="#5a9ad0" opacity="1.0"/>
<circle cx="311.2" cy="153.1" r="0.41" fill="#a0522d" opacity="1.0"/>
<circle cx="313.4" cy="154.1" r="0.63" fill="#b06040" opacity="1.0"/>
<ellipse cx="334.3" cy="133.8" rx="26.49" ry="0.68" fill="#a05a4a" opacity="1" transform="rotate(0 334.3 133.8)"/>
<ellipse cx="356.3" cy="133.4" rx="8.83" ry="0.68" fill="#b06a5a" opacity="1" transform="rotate(0 356.3 133.4)"/>
<ellipse cx="333.4" cy="131.7" rx="1.32" ry="1.71" fill="#b02878" opacity="1" transform="rotate(0 333.4 131.7)"/>
<ellipse cx="380.2" cy="130.3" rx="1.32" ry="2.05" fill="#b07a3a" opacity="1" transform="rotate(0 380.2 130.3)"/>
</g>
<rect x="321.91" y="116.00" width="26.49" height="19.81" fill="none" stroke="#1a1a1a" stroke-width="1.1"/>
<rect x="296.80" y="144.80" width="12.00" height="11.50" fill="#ffffff"/>
<text x="298.80" y="153.30" font-size="8.3" text-anchor="start" fill="#111">ii)</text>
<line x1="365.17" y1="150.80" x2="379.30" y2="150.80" stroke="#333" stroke-width="0.9"/>
<line x1="369.59" y1="149.50" x2="374.89" y2="149.50" stroke="#666" stroke-width="0.6"/>
</g>
<rect x="296.30" y="88.00" width="88.30" height="68.30" fill="none" stroke="#8c8c8c" stroke-width="0.9"/>
<clipPath id="c52"><rect x="386.30" y="88.00" width="88.40" height="68.30"/></clipPath>
<g clip-path="url(#c52)">
<g filter="url(#bl35)">
<rect x="386.30" y="88.00" width="88.40" height="68.30" fill="#f7f5f8"/>
<circle cx="468.6" cy="103.4" r="1.26" fill="#3a7fb8" opacity="1.0"/>
<circle cx="463.9" cy="105.8" r="1.40" fill="#5a9ad0" opacity="1.0"/>
<circle cx="425.7" cy="107.1" r="1.17" fill="#5a9ad0" opacity="1.0"/>
<circle cx="404.3" cy="108.4" r="1.04" fill="#6aa5d5" opacity="1.0"/>
<circle cx="393.4" cy="112.3" r="1.09" fill="#6aa5d5" opacity="1.0"/>
<circle cx="460.9" cy="112.2" r="0.97" fill="#5a8fc0" opacity="1.0"/>
<circle cx="413.0" cy="111.0" r="1.29" fill="#5a8fc0" opacity="1.0"/>
<circle cx="424.7" cy="107.5" r="0.90" fill="#5a8fc0" opacity="1.0"/>
<circle cx="401.4" cy="115.4" r="1.28" fill="#5a8fc0" opacity="1.0"/>
<circle cx="406.6" cy="113.9" r="0.94" fill="#5a9ad0" opacity="1.0"/>
<circle cx="467.1" cy="115.7" r="1.31" fill="#5a9ad0" opacity="1.0"/>
<circle cx="409.7" cy="116.1" r="1.32" fill="#6aa5d5" opacity="1.0"/>
<circle cx="444.1" cy="107.5" r="1.23" fill="#5a8fc0" opacity="1.0"/>
<circle cx="420.3" cy="107.9" r="0.92" fill="#5a9ad0" opacity="1.0"/>
<circle cx="449.2" cy="111.5" r="1.32" fill="#3a7fb8" opacity="1.0"/>
<circle cx="394.4" cy="111.5" r="1.30" fill="#5a9ad0" opacity="1.0"/>
<circle cx="407.3" cy="109.2" r="1.32" fill="#3a7fb8" opacity="1.0"/>
<circle cx="397.9" cy="114.2" r="1.29" fill="#3a7fb8" opacity="1.0"/>
<circle cx="460.4" cy="108.5" r="0.98" fill="#4a8fc8" opacity="1.0"/>
<circle cx="455.8" cy="105.6" r="1.27" fill="#3a7fb8" opacity="1.0"/>
<circle cx="454.0" cy="115.4" r="1.18" fill="#5a8fc0" opacity="1.0"/>
<circle cx="438.4" cy="114.1" r="1.39" fill="#4a8fc8" opacity="1.0"/>
<circle cx="400.0" cy="111.0" r="1.38" fill="#3a7fb8" opacity="1.0"/>
<circle cx="439.2" cy="107.7" r="1.29" fill="#5a8fc0" opacity="1.0"/>
<circle cx="392.0" cy="110.4" r="1.00" fill="#6aa5d5" opacity="1.0"/>
<circle cx="446.0" cy="118.7" r="0.93" fill="#5a8fc0" opacity="1.0"/>
<circle cx="411.8" cy="114.0" r="1.24" fill="#6aa5d5" opacity="1.0"/>
<circle cx="467.6" cy="104.6" r="0.91" fill="#5a8fc0" opacity="1.0"/>
<circle cx="417.5" cy="121.2" r="1.28" fill="#5a9ad0" opacity="1.0"/>
<circle cx="448.0" cy="112.3" r="0.98" fill="#3a7fb8" opacity="1.0"/>
<circle cx="458.9" cy="112.4" r="1.13" fill="#4a8fc8" opacity="1.0"/>
<circle cx="457.1" cy="118.7" r="1.37" fill="#6aa5d5" opacity="1.0"/>
<circle cx="442.5" cy="108.2" r="1.39" fill="#3a7fb8" opacity="1.0"/>
<circle cx="458.9" cy="106.1" r="1.37" fill="#6aa5d5" opacity="1.0"/>
<circle cx="442.2" cy="110.7" r="1.22" fill="#3a7fb8" opacity="1.0"/>
<circle cx="390.9" cy="109.3" r="1.32" fill="#6aa5d5" opacity="1.0"/>
<circle cx="406.5" cy="117.9" r="1.23" fill="#5a8fc0" opacity="1.0"/>
<circle cx="428.0" cy="109.0" r="1.34" fill="#4a8fc8" opacity="1.0"/>
<circle cx="422.3" cy="108.8" r="1.12" fill="#4a8fc8" opacity="1.0"/>
<circle cx="464.8" cy="103.4" r="0.94" fill="#6aa5d5" opacity="1.0"/>
<ellipse cx="389.1" cy="148.8" rx="2.08" ry="0.80" fill="#b8702a" opacity="1.0" transform="rotate(0 389.1 148.8)"/>
<ellipse cx="459.6" cy="147.2" rx="1.93" ry="0.75" fill="#c8843a" opacity="1.0" transform="rotate(0 459.6 147.2)"/>
<ellipse cx="417.0" cy="146.8" rx="2.33" ry="1.07" fill="#b8702a" opacity="1.0" transform="rotate(0 417.0 146.8)"/>
<ellipse cx="415.1" cy="146.8" rx="2.12" ry="0.76" fill="#c06040" opacity="1.0" transform="rotate(0 415.1 146.8)"/>
<ellipse cx="437.2" cy="149.2" rx="2.28" ry="0.99" fill="#c8843a" opacity="1.0" transform="rotate(0 437.2 149.2)"/>
<ellipse cx="412.1" cy="147.0" rx="2.20" ry="0.96" fill="#a05a2a" opacity="1.0" transform="rotate(0 412.1 147.0)"/>
<ellipse cx="445.7" cy="148.6" rx="1.47" ry="0.71" fill="#c06040" opacity="1.0" transform="rotate(0 445.7 148.6)"/>
<ellipse cx="433.8" cy="145.9" rx="3.12" ry="1.07" fill="#c8843a" opacity="1.0" transform="rotate(0 433.8 145.9)"/>
<ellipse cx="414.8" cy="148.0" rx="1.90" ry="0.90" fill="#b8702a" opacity="1.0" transform="rotate(0 414.8 148.0)"/>
<ellipse cx="398.7" cy="144.2" rx="2.11" ry="0.93" fill="#a05a2a" opacity="1.0" transform="rotate(0 398.7 144.2)"/>
<ellipse cx="414.4" cy="149.0" rx="2.91" ry="1.04" fill="#c8843a" opacity="1.0" transform="rotate(0 414.4 149.0)"/>
<ellipse cx="460.0" cy="148.1" rx="1.93" ry="0.70" fill="#c8843a" opacity="1.0" transform="rotate(0 460.0 148.1)"/>
<ellipse cx="388.7" cy="144.1" rx="1.50" ry="0.71" fill="#c8843a" opacity="1.0" transform="rotate(0 388.7 144.1)"/>
<ellipse cx="458.2" cy="148.5" rx="1.86" ry="0.93" fill="#b8702a" opacity="1.0" transform="rotate(0 458.2 148.5)"/>
<ellipse cx="404.8" cy="146.4" rx="3.13" ry="1.15" fill="#c8843a" opacity="1.0" transform="rotate(0 404.8 146.4)"/>
<ellipse cx="427.4" cy="149.3" rx="2.01" ry="0.86" fill="#c06040" opacity="1.0" transform="rotate(0 427.4 149.3)"/>
<ellipse cx="392.4" cy="144.9" rx="2.22" ry="0.94" fill="#c06040" opacity="1.0" transform="rotate(0 392.4 144.9)"/>
<ellipse cx="401.6" cy="148.5" rx="2.19" ry="0.82" fill="#b8702a" opacity="1.0" transform="rotate(0 401.6 148.5)"/>
<ellipse cx="408.0" cy="145.2" rx="2.20" ry="0.93" fill="#c06040" opacity="1.0" transform="rotate(0 408.0 145.2)"/>
<ellipse cx="456.5" cy="148.6" rx="1.64" ry="0.73" fill="#c06040" opacity="1.0" transform="rotate(0 456.5 148.6)"/>
<ellipse cx="446.2" cy="147.5" rx="2.96" ry="1.04" fill="#b8702a" opacity="1.0" transform="rotate(0 446.2 147.5)"/>
<ellipse cx="440.4" cy="149.4" rx="2.18" ry="0.96" fill="#c06040" opacity="1.0" transform="rotate(0 440.4 149.4)"/>
<ellipse cx="400.9" cy="148.1" rx="2.96" ry="1.19" fill="#c06040" opacity="1.0" transform="rotate(0 400.9 148.1)"/>
<ellipse cx="442.7" cy="145.6" rx="2.88" ry="0.98" fill="#b8702a" opacity="1.0" transform="rotate(0 442.7 145.6)"/>
<ellipse cx="404.8" cy="145.4" rx="2.50" ry="0.90" fill="#a05a2a" opacity="1.0" transform="rotate(0 404.8 145.4)"/>
<ellipse cx="454.7" cy="144.4" rx="2.03" ry="0.86" fill="#c8843a" opacity="1.0" transform="rotate(0 454.7 144.4)"/>
<ellipse cx="427.0" cy="147.6" rx="2.58" ry="1.08" fill="#c8843a" opacity="1.0" transform="rotate(0 427.0 147.6)"/>
<ellipse cx="417.7" cy="148.5" rx="2.27" ry="1.06" fill="#c06040" opacity="1.0" transform="rotate(0 417.7 148.5)"/>
<ellipse cx="455.4" cy="148.1" rx="2.82" ry="0.98" fill="#c8843a" opacity="1.0" transform="rotate(0 455.4 148.1)"/>
<ellipse cx="388.4" cy="146.6" rx="3.32" ry="1.11" fill="#b8702a" opacity="1.0" transform="rotate(0 388.4 146.6)"/>
<ellipse cx="433.9" cy="145.1" rx="2.44" ry="1.11" fill="#c8843a" opacity="1.0" transform="rotate(0 433.9 145.1)"/>
<ellipse cx="414.7" cy="145.6" rx="2.00" ry="0.96" fill="#a05a2a" opacity="1.0" transform="rotate(0 414.7 145.6)"/>
<ellipse cx="393.7" cy="147.9" rx="3.22" ry="1.09" fill="#a05a2a" opacity="1.0" transform="rotate(0 393.7 147.9)"/>
<ellipse cx="433.4" cy="145.5" rx="2.17" ry="0.81" fill="#c06040" opacity="1.0" transform="rotate(0 433.4 145.5)"/>
<ellipse cx="411.8" cy="146.5" rx="2.76" ry="0.99" fill="#b8702a" opacity="1.0" transform="rotate(0 411.8 146.5)"/>
<ellipse cx="455.8" cy="146.5" rx="3.16" ry="1.16" fill="#c8843a" opacity="1.0" transform="rotate(0 455.8 146.5)"/>
<ellipse cx="456.2" cy="146.3" rx="2.56" ry="0.92" fill="#c8843a" opacity="1.0" transform="rotate(0 456.2 146.3)"/>
<ellipse cx="390.0" cy="147.6" rx="2.14" ry="1.03" fill="#c8843a" opacity="1.0" transform="rotate(0 390.0 147.6)"/>
<ellipse cx="425.6" cy="144.7" rx="3.27" ry="1.17" fill="#b8702a" opacity="1.0" transform="rotate(0 425.6 144.7)"/>
<ellipse cx="408.3" cy="146.4" rx="3.39" ry="1.16" fill="#b8702a" opacity="1.0" transform="rotate(0 408.3 146.4)"/>
<ellipse cx="430.9" cy="147.9" rx="2.39" ry="1.19" fill="#c8843a" opacity="1.0" transform="rotate(0 430.9 147.9)"/>
<ellipse cx="393.3" cy="148.1" rx="3.24" ry="1.13" fill="#c06040" opacity="1.0" transform="rotate(0 393.3 148.1)"/>
<ellipse cx="425.4" cy="145.3" rx="2.03" ry="0.72" fill="#c8843a" opacity="1.0" transform="rotate(0 425.4 145.3)"/>
<ellipse cx="416.3" cy="145.5" rx="2.62" ry="1.04" fill="#c8843a" opacity="1.0" transform="rotate(0 416.3 145.5)"/>
<ellipse cx="438.1" cy="146.8" rx="2.68" ry="1.16" fill="#a05a2a" opacity="1.0" transform="rotate(0 438.1 146.8)"/>
<ellipse cx="388.2" cy="144.9" rx="2.50" ry="0.96" fill="#c06040" opacity="1.0" transform="rotate(0 388.2 144.9)"/>
<ellipse cx="451.0" cy="147.1" rx="2.62" ry="0.91" fill="#b8702a" opacity="1.0" transform="rotate(0 451.0 147.1)"/>
<ellipse cx="452.4" cy="146.0" rx="2.71" ry="1.08" fill="#b8702a" opacity="1.0" transform="rotate(0 452.4 146.0)"/>
<ellipse cx="405.3" cy="147.7" rx="3.00" ry="1.01" fill="#c06040" opacity="1.0" transform="rotate(0 405.3 147.7)"/>
<ellipse cx="443.9" cy="148.8" rx="1.85" ry="0.81" fill="#c8843a" opacity="1.0" transform="rotate(0 443.9 148.8)"/>
<ellipse cx="464.1" cy="141.3" rx="4.42" ry="4.78" fill="#b83a80" opacity="1" transform="rotate(0 464.1 141.3)"/>
<ellipse cx="457.0" cy="142.6" rx="2.21" ry="4.10" fill="#c04888" opacity="1" transform="rotate(0 457.0 142.6)"/>
<ellipse cx="395.1" cy="148.1" rx="4.42" ry="1.37" fill="#c03060" opacity="1" transform="rotate(0 395.1 148.1)"/>
<ellipse cx="430.5" cy="146.1" rx="30.94" ry="1.02" fill="#c08040" opacity="0.7" transform="rotate(0 430.5 146.1)"/>
</g>
<line x1="455.25" y1="150.80" x2="469.40" y2="150.80" stroke="#333" stroke-width="0.9"/>
<line x1="459.67" y1="149.50" x2="464.98" y2="149.50" stroke="#666" stroke-width="0.6"/>
<path d="M436.7,141.3 L437.6,135.9 L442.1,140.4 z" fill="#111"/>
</g>
<rect x="386.30" y="88.00" width="88.40" height="68.30" fill="none" stroke="#8c8c8c" stroke-width="0.9"/>
<clipPath id="c61"><rect x="296.30" y="158.00" width="88.30" height="68.40"/></clipPath>
<g clip-path="url(#c61)">
<g filter="url(#bl35)">
<rect x="296.30" y="158.00" width="88.30" height="68.40" fill="#eef3f2"/>
<circle cx="340.0" cy="174.7" r="0.50" fill="#3a7fb8" opacity="1.0"/>
<circle cx="298.7" cy="168.9" r="0.32" fill="#5a9ad0" opacity="1.0"/>
<circle cx="296.9" cy="172.6" r="0.32" fill="#4a8fc8" opacity="1.0"/>
<circle cx="309.0" cy="182.1" r="0.37" fill="#3a7fb8" opacity="1.0"/>
<circle cx="324.4" cy="172.6" r="0.50" fill="#7aa0c8" opacity="1.0"/>
<circle cx="333.3" cy="167.1" r="0.35" fill="#6aa5d5" opacity="1.0"/>
<circle cx="330.3" cy="185.5" r="0.55" fill="#4a8fc8" opacity="1.0"/>
<circle cx="359.3" cy="165.6" r="0.33" fill="#3a7fb8" opacity="1.0"/>
<circle cx="339.4" cy="171.0" r="0.40" fill="#6aa5d5" opacity="1.0"/>
<circle cx="379.1" cy="164.3" r="0.42" fill="#4a8fc8" opacity="1.0"/>
<circle cx="328.9" cy="167.1" r="0.39" fill="#5a9ad0" opacity="1.0"/>
<circle cx="381.2" cy="183.9" r="0.43" fill="#4a8fc8" opacity="1.0"/>
<circle cx="359.0" cy="177.5" r="0.34" fill="#7aa0c8" opacity="1.0"/>
<circle cx="353.8" cy="162.7" r="0.49" fill="#3a7fb8" opacity="1.0"/>
<circle cx="319.0" cy="169.2" r="0.33" fill="#5a9ad0" opacity="1.0"/>
<circle cx="377.5" cy="159.5" r="0.37" fill="#7aa0c8" opacity="1.0"/>
<circle cx="329.1" cy="164.9" r="0.42" fill="#3a7fb8" opacity="1.0"/>
<circle cx="334.8" cy="178.5" r="0.47" fill="#7aa0c8" opacity="1.0"/>
<circle cx="365.6" cy="175.6" r="0.50" fill="#7aa0c8" opacity="1.0"/>
<circle cx="378.5" cy="161.1" r="0.33" fill="#9ab8d8" opacity="1.0"/>
<circle cx="339.4" cy="186.3" r="0.52" fill="#7aa0c8" opacity="1.0"/>
<circle cx="379.1" cy="169.0" r="0.37" fill="#3a7fb8" opacity="1.0"/>
<circle cx="350.7" cy="183.9" r="0.46" fill="#7aa0c8" opacity="1.0"/>
<circle cx="380.4" cy="163.0" r="0.45" fill="#5a9ad0" opacity="1.0"/>
<circle cx="365.3" cy="168.0" r="0.37" fill="#4a8fc8" opacity="1.0"/>
<circle cx="348.0" cy="159.5" r="0.39" fill="#5a9ad0" opacity="1.0"/>
<circle cx="368.7" cy="167.1" r="0.37" fill="#4a8fc8" opacity="1.0"/>
<circle cx="378.5" cy="173.7" r="0.43" fill="#4a8fc8" opacity="1.0"/>
<circle cx="341.9" cy="173.6" r="0.37" fill="#5a9ad0" opacity="1.0"/>
<circle cx="348.7" cy="178.6" r="0.53" fill="#6aa5d5" opacity="1.0"/>
<circle cx="364.8" cy="154.0" r="0.43" fill="#3a7fb8" opacity="1.0"/>
<circle cx="335.3" cy="177.5" r="0.43" fill="#5a9ad0" opacity="1.0"/>
<circle cx="299.4" cy="167.3" r="0.34" fill="#9ab8d8" opacity="1.0"/>
<circle cx="361.8" cy="177.3" r="0.35" fill="#5a9ad0" opacity="1.0"/>
<circle cx="367.5" cy="156.1" r="0.53" fill="#3a7fb8" opacity="1.0"/>
<circle cx="317.9" cy="188.3" r="0.37" fill="#5a9ad0" opacity="1.0"/>
<circle cx="352.5" cy="157.9" r="0.50" fill="#3a7fb8" opacity="1.0"/>
<circle cx="314.2" cy="177.6" r="0.46" fill="#4a8fc8" opacity="1.0"/>
<circle cx="346.0" cy="172.8" r="0.31" fill="#4a8fc8" opacity="1.0"/>
<circle cx="316.8" cy="165.7" r="0.46" fill="#9ab8d8" opacity="1.0"/>
<circle cx="342.7" cy="166.6" r="0.33" fill="#9ab8d8" opacity="1.0"/>
<circle cx="317.6" cy="168.0" r="0.50" fill="#5a9ad0" opacity="1.0"/>
<circle cx="352.6" cy="155.8" r="0.32" fill="#4a8fc8" opacity="1.0"/>
<circle cx="375.2" cy="173.6" r="0.33" fill="#7aa0c8" opacity="1.0"/>
<circle cx="341.7" cy="183.6" r="0.44" fill="#4a8fc8" opacity="1.0"/>
<circle cx="314.1" cy="185.9" r="0.42" fill="#3a7fb8" opacity="1.0"/>
<circle cx="309.4" cy="164.2" r="0.46" fill="#5a9ad0" opacity="1.0"/>
<circle cx="327.4" cy="185.8" r="0.32" fill="#3a7fb8" opacity="1.0"/>
<circle cx="319.3" cy="172.4" r="0.35" fill="#3a7fb8" opacity="1.0"/>
<circle cx="298.5" cy="160.5" r="0.43" fill="#3a7fb8" opacity="1.0"/>
<circle cx="322.8" cy="188.5" r="0.50" fill="#4a8fc8" opacity="1.0"/>
<circle cx="338.0" cy="172.0" r="0.48" fill="#7aa0c8" opacity="1.0"/>
<circle cx="384.5" cy="158.2" r="0.52" fill="#3a7fb8" opacity="1.0"/>
<circle cx="303.0" cy="172.5" r="0.54" fill="#3a7fb8" opacity="1.0"/>
<circle cx="350.0" cy="177.5" r="0.36" fill="#9ab8d8" opacity="1.0"/>
<circle cx="370.2" cy="165.0" r="0.41" fill="#9ab8d8" opacity="1.0"/>
<circle cx="317.7" cy="190.7" r="0.52" fill="#4a8fc8" opacity="1.0"/>
<circle cx="307.3" cy="184.3" r="0.41" fill="#6aa5d5" opacity="1.0"/>
<circle cx="345.3" cy="157.6" r="0.31" fill="#9ab8d8" opacity="1.0"/>
<circle cx="305.4" cy="162.7" r="0.53" fill="#5a9ad0" opacity="1.0"/>
<circle cx="334.9" cy="183.3" r="0.37" fill="#5a9ad0" opacity="1.0"/>
<circle cx="332.7" cy="178.5" r="0.33" fill="#3a7fb8" opacity="1.0"/>
<circle cx="298.8" cy="171.4" r="0.44" fill="#7aa0c8" opacity="1.0"/>
<circle cx="305.0" cy="184.2" r="0.38" fill="#5a9ad0" opacity="1.0"/>
<circle cx="360.3" cy="172.1" r="0.33" fill="#6aa5d5" opacity="1.0"/>
<circle cx="382.4" cy="168.8" r="0.46" fill="#9ab8d8" opacity="1.0"/>
<circle cx="358.2" cy="163.6" r="0.53" fill="#5a9ad0" opacity="1.0"/>
<circle cx="297.8" cy="169.7" r="0.36" fill="#3a7fb8" opacity="1.0"/>
<circle cx="330.1" cy="173.8" r="0.40" fill="#5a9ad0" opacity="1.0"/>
<circle cx="316.9" cy="181.1" r="0.54" fill="#6aa5d5" opacity="1.0"/>
<circle cx="329.2" cy="166.4" r="0.54" fill="#5a9ad0" opacity="1.0"/>
<circle cx="355.2" cy="178.0" r="0.45" fill="#7aa0c8" opacity="1.0"/>
<circle cx="345.4" cy="163.2" r="0.42" fill="#6aa5d5" opacity="1.0"/>
<circle cx="302.6" cy="187.1" r="0.48" fill="#9ab8d8" opacity="1.0"/>
<circle cx="305.8" cy="181.2" r="0.35" fill="#9ab8d8" opacity="1.0"/>
<circle cx="364.5" cy="162.0" r="0.43" fill="#3a7fb8" opacity="1.0"/>
<circle cx="350.3" cy="172.4" r="0.52" fill="#9ab8d8" opacity="1.0"/>
<circle cx="349.3" cy="159.0" r="0.54" fill="#5a9ad0" opacity="1.0"/>
<circle cx="381.4" cy="156.4" r="0.30" fill="#3a7fb8" opacity="1.0"/>
<circle cx="330.3" cy="165.7" r="0.41" fill="#6aa5d5" opacity="1.0"/>
<circle cx="360.4" cy="178.1" r="0.39" fill="#6aa5d5" opacity="1.0"/>
<circle cx="370.4" cy="175.0" r="0.54" fill="#6aa5d5" opacity="1.0"/>
<circle cx="337.9" cy="173.6" r="0.42" fill="#7aa0c8" opacity="1.0"/>
<circle cx="356.3" cy="161.1" r="0.30" fill="#7aa0c8" opacity="1.0"/>
<circle cx="299.3" cy="161.6" r="0.50" fill="#5a9ad0" opacity="1.0"/>
<circle cx="375.2" cy="182.7" r="0.35" fill="#5a9ad0" opacity="1.0"/>
<circle cx="384.1" cy="157.8" r="0.51" fill="#6aa5d5" opacity="1.0"/>
<circle cx="356.5" cy="179.6" r="0.31" fill="#4a8fc8" opacity="1.0"/>
<circle cx="305.5" cy="175.3" r="0.38" fill="#5a9ad0" opacity="1.0"/>
<circle cx="378.6" cy="157.9" r="0.31" fill="#4a8fc8" opacity="1.0"/>
<circle cx="383.2" cy="179.8" r="0.40" fill="#9ab8d8" opacity="1.0"/>
<circle cx="368.6" cy="175.2" r="0.35" fill="#5a9ad0" opacity="1.0"/>
<circle cx="324.7" cy="177.1" r="0.30" fill="#5a9ad0" opacity="1.0"/>
<circle cx="307.8" cy="186.9" r="0.36" fill="#9ab8d8" opacity="1.0"/>
<circle cx="297.7" cy="167.7" r="0.32" fill="#5a9ad0" opacity="1.0"/>
<circle cx="354.6" cy="181.5" r="0.42" fill="#6aa5d5" opacity="1.0"/>
<circle cx="362.4" cy="177.1" r="0.36" fill="#5a9ad0" opacity="1.0"/>
<circle cx="322.2" cy="172.1" r="0.42" fill="#6aa5d5" opacity="1.0"/>
<circle cx="301.1" cy="159.6" r="0.48" fill="#5a9ad0" opacity="1.0"/>
<circle cx="352.0" cy="156.0" r="0.33" fill="#9ab8d8" opacity="1.0"/>
<circle cx="357.3" cy="171.8" r="0.49" fill="#5a9ad0" opacity="1.0"/>
<circle cx="312.0" cy="188.3" r="0.51" fill="#5a9ad0" opacity="1.0"/>
<circle cx="348.5" cy="158.5" r="0.55" fill="#4a8fc8" opacity="1.0"/>
<circle cx="354.7" cy="175.3" r="0.45" fill="#6aa5d5" opacity="1.0"/>
<circle cx="372.0" cy="168.9" r="0.43" fill="#7aa0c8" opacity="1.0"/>
<circle cx="370.1" cy="160.7" r="0.38" fill="#5a9ad0" opacity="1.0"/>
<circle cx="324.2" cy="176.6" r="0.43" fill="#4a8fc8" opacity="1.0"/>
<circle cx="309.5" cy="173.6" r="0.50" fill="#4a8fc8" opacity="1.0"/>
<circle cx="300.8" cy="172.9" r="0.44" fill="#3a7fb8" opacity="1.0"/>
<circle cx="320.3" cy="180.6" r="0.55" fill="#6aa5d5" opacity="1.0"/>
<circle cx="362.4" cy="168.0" r="0.46" fill="#9ab8d8" opacity="1.0"/>
<circle cx="334.8" cy="162.9" r="0.48" fill="#4a8fc8" opacity="1.0"/>
<circle cx="366.4" cy="172.4" r="0.31" fill="#9ab8d8" opacity="1.0"/>
<circle cx="370.5" cy="181.9" r="0.46" fill="#6aa5d5" opacity="1.0"/>
<circle cx="307.0" cy="160.8" r="0.50" fill="#6aa5d5" opacity="1.0"/>
<circle cx="337.0" cy="161.6" r="0.47" fill="#9ab8d8" opacity="1.0"/>
<circle cx="343.7" cy="164.3" r="0.43" fill="#3a7fb8" opacity="1.0"/>
<circle cx="324.8" cy="164.6" r="0.42" fill="#7aa0c8" opacity="1.0"/>
<circle cx="304.1" cy="184.0" r="0.44" fill="#4a8fc8" opacity="1.0"/>
<circle cx="323.4" cy="171.9" r="0.50" fill="#4a8fc8" opacity="1.0"/>
<circle cx="368.8" cy="169.4" r="0.38" fill="#7aa0c8" opacity="1.0"/>
<circle cx="371.0" cy="159.4" r="0.52" fill="#5a9ad0" opacity="1.0"/>
<circle cx="318.5" cy="187.7" r="0.34" fill="#7aa0c8" opacity="1.0"/>
<circle cx="377.8" cy="181.5" r="0.40" fill="#4a8fc8" opacity="1.0"/>
<circle cx="322.5" cy="174.0" r="0.38" fill="#3a7fb8" opacity="1.0"/>
<circle cx="301.0" cy="167.2" r="0.46" fill="#6aa5d5" opacity="1.0"/>
<circle cx="340.2" cy="183.6" r="0.52" fill="#7aa0c8" opacity="1.0"/>
<circle cx="380.3" cy="159.1" r="0.44" fill="#9ab8d8" opacity="1.0"/>
<circle cx="305.7" cy="178.5" r="0.55" fill="#3a7fb8" opacity="1.0"/>
<circle cx="305.8" cy="168.5" r="0.53" fill="#9ab8d8" opacity="1.0"/>
<circle cx="331.5" cy="186.1" r="0.35" fill="#7aa0c8" opacity="1.0"/>
<circle cx="304.4" cy="178.9" r="0.55" fill="#5a9ad0" opacity="1.0"/>
<circle cx="364.4" cy="171.9" r="0.32" fill="#5a9ad0" opacity="1.0"/>
<circle cx="314.5" cy="178.5" r="0.46" fill="#6aa5d5" opacity="1.0"/>
<circle cx="369.6" cy="180.9" r="0.50" fill="#6aa5d5" opacity="1.0"/>
<circle cx="367.3" cy="168.5" r="0.46" fill="#4a8fc8" opacity="1.0"/>
<circle cx="384.4" cy="173.2" r="0.49" fill="#4a8fc8" opacity="1.0"/>
<circle cx="352.0" cy="183.4" r="0.55" fill="#3a7fb8" opacity="1.0"/>
<circle cx="317.2" cy="183.3" r="0.41" fill="#5a9ad0" opacity="1.0"/>
<circle cx="384.5" cy="159.9" r="0.43" fill="#6aa5d5" opacity="1.0"/>
<circle cx="350.2" cy="162.9" r="0.43" fill="#4a8fc8" opacity="1.0"/>
<circle cx="383.2" cy="179.7" r="0.37" fill="#7aa0c8" opacity="1.0"/>
<circle cx="299.1" cy="173.3" r="0.41" fill="#5a9ad0" opacity="1.0"/>
<circle cx="346.4" cy="162.8" r="0.53" fill="#4a8fc8" opacity="1.0"/>
<circle cx="357.7" cy="174.2" r="0.49" fill="#5a9ad0" opacity="1.0"/>
<circle cx="328.9" cy="182.8" r="0.36" fill="#9ab8d8" opacity="1.0"/>
<circle cx="365.3" cy="173.5" r="0.35" fill="#5a9ad0" opacity="1.0"/>
<circle cx="375.4" cy="171.8" r="0.45" fill="#9ab8d8" opacity="1.0"/>
<circle cx="316.7" cy="181.2" r="0.50" fill="#6aa5d5" opacity="1.0"/>
<circle cx="373.8" cy="171.2" r="0.35" fill="#7aa0c8" opacity="1.0"/>
<circle cx="330.2" cy="177.4" r="0.54" fill="#3a7fb8" opacity="1.0"/>
<circle cx="379.4" cy="160.7" r="0.35" fill="#4a8fc8" opacity="1.0"/>
<circle cx="299.1" cy="182.7" r="0.47" fill="#5a9ad0" opacity="1.0"/>
<circle cx="354.2" cy="170.0" r="0.35" fill="#3a7fb8" opacity="1.0"/>
<circle cx="340.1" cy="167.7" r="0.35" fill="#3a7fb8" opacity="1.0"/>
<circle cx="340.2" cy="183.1" r="0.45" fill="#3a7fb8" opacity="1.0"/>
<circle cx="369.6" cy="180.1" r="0.43" fill="#7aa0c8" opacity="1.0"/>
<circle cx="325.3" cy="165.5" r="0.35" fill="#4a8fc8" opacity="1.0"/>
<circle cx="362.0" cy="169.8" r="0.36" fill="#4a8fc8" opacity="1.0"/>
<circle cx="332.3" cy="166.3" r="0.36" fill="#5a9ad0" opacity="1.0"/>
<circle cx="343.2" cy="157.8" r="0.39" fill="#3a7fb8" opacity="1.0"/>
<circle cx="368.1" cy="159.8" r="0.52" fill="#7aa0c8" opacity="1.0"/>
<circle cx="342.9" cy="162.2" r="0.46" fill="#4a8fc8" opacity="1.0"/>
<circle cx="310.9" cy="165.7" r="0.33" fill="#9ab8d8" opacity="1.0"/>
<circle cx="352.5" cy="164.5" r="0.45" fill="#5a9ad0" opacity="1.0"/>
<circle cx="366.2" cy="174.3" r="0.31" fill="#7aa0c8" opacity="1.0"/>
<circle cx="317.7" cy="176.8" r="0.52" fill="#9ab8d8" opacity="1.0"/>
<circle cx="318.1" cy="164.2" r="0.40" fill="#9ab8d8" opacity="1.0"/>
<circle cx="360.7" cy="154.6" r="0.39" fill="#6aa5d5" opacity="1.0"/>
<circle cx="321.4" cy="172.9" r="0.39" fill="#4a8fc8" opacity="1.0"/>
<ellipse cx="366.9" cy="212.9" rx="0.61" ry="0.38" fill="#b5652e" opacity="1.0" transform="rotate(0 366.9 212.9)"/>
<ellipse cx="349.8" cy="198.4" rx="1.04" ry="0.57" fill="#a0522d" opacity="1.0" transform="rotate(0 349.8 198.4)"/>
<ellipse cx="308.8" cy="207.4" rx="1.05" ry="0.51" fill="#b5652e" opacity="1.0" transform="rotate(0 308.8 207.4)"/>
<ellipse cx="320.8" cy="202.4" rx="1.16" ry="0.61" fill="#c07038" opacity="1.0" transform="rotate(0 320.8 202.4)"/>
<ellipse cx="346.7" cy="212.0" rx="1.33" ry="0.66" fill="#8b3a1a" opacity="1.0" transform="rotate(0 346.7 212.0)"/>
<ellipse cx="338.9" cy="216.1" rx="0.99" ry="0.57" fill="#a0522d" opacity="1.0" transform="rotate(0 338.9 216.1)"/>
<ellipse cx="357.9" cy="200.8" rx="0.95" ry="0.40" fill="#a0522d" opacity="1.0" transform="rotate(0 357.9 200.8)"/>
<ellipse cx="348.7" cy="205.3" rx="0.85" ry="0.57" fill="#b5652e" opacity="1.0" transform="rotate(0 348.7 205.3)"/>
<ellipse cx="377.7" cy="211.5" rx="0.75" ry="0.65" fill="#b5652e" opacity="1.0" transform="rotate(0 377.7 211.5)"/>
<ellipse cx="337.9" cy="201.7" rx="1.16" ry="0.61" fill="#b5652e" opacity="1.0" transform="rotate(0 337.9 201.7)"/>
<ellipse cx="359.2" cy="217.3" rx="1.15" ry="0.47" fill="#a0522d" opacity="1.0" transform="rotate(0 359.2 217.3)"/>
<ellipse cx="307.3" cy="207.1" rx="0.70" ry="0.49" fill="#c05050" opacity="1.0" transform="rotate(0 307.3 207.1)"/>
<ellipse cx="347.6" cy="216.3" rx="1.60" ry="0.65" fill="#c07038" opacity="1.0" transform="rotate(0 347.6 216.3)"/>
<ellipse cx="341.6" cy="208.5" rx="0.48" ry="0.41" fill="#c07038" opacity="1.0" transform="rotate(0 341.6 208.5)"/>
<ellipse cx="332.7" cy="197.4" rx="0.52" ry="0.31" fill="#b5652e" opacity="1.0" transform="rotate(0 332.7 197.4)"/>
<ellipse cx="375.0" cy="206.1" rx="1.01" ry="0.58" fill="#c07038" opacity="1.0" transform="rotate(0 375.0 206.1)"/>
<ellipse cx="350.5" cy="216.0" rx="1.48" ry="0.70" fill="#8b3a1a" opacity="1.0" transform="rotate(0 350.5 216.0)"/>
<ellipse cx="312.2" cy="196.7" rx="0.55" ry="0.55" fill="#b5652e" opacity="1.0" transform="rotate(0 312.2 196.7)"/>
<ellipse cx="306.9" cy="211.3" rx="0.45" ry="0.43" fill="#c07038" opacity="1.0" transform="rotate(0 306.9 211.3)"/>
<ellipse cx="362.5" cy="216.3" rx="0.67" ry="0.48" fill="#a0522d" opacity="1.0" transform="rotate(0 362.5 216.3)"/>
<ellipse cx="371.2" cy="219.5" rx="0.94" ry="0.60" fill="#c07038" opacity="1.0" transform="rotate(0 371.2 219.5)"/>
<ellipse cx="365.5" cy="201.0" rx="1.00" ry="0.68" fill="#b5652e" opacity="1.0" transform="rotate(0 365.5 201.0)"/>
<ellipse cx="346.0" cy="206.3" rx="0.86" ry="0.38" fill="#c07038" opacity="1.0" transform="rotate(0 346.0 206.3)"/>
<ellipse cx="338.1" cy="217.5" rx="0.92" ry="0.53" fill="#c07038" opacity="1.0" transform="rotate(0 338.1 217.5)"/>
<ellipse cx="317.9" cy="211.6" rx="0.69" ry="0.41" fill="#8b3a1a" opacity="1.0" transform="rotate(0 317.9 211.6)"/>
<ellipse cx="383.8" cy="198.9" rx="1.33" ry="0.60" fill="#a0522d" opacity="1.0" transform="rotate(0 383.8 198.9)"/>
<ellipse cx="357.4" cy="207.1" rx="1.46" ry="0.66" fill="#c05050" opacity="1.0" transform="rotate(0 357.4 207.1)"/>
<ellipse cx="298.8" cy="207.5" rx="0.75" ry="0.30" fill="#c05050" opacity="1.0" transform="rotate(0 298.8 207.5)"/>
<ellipse cx="372.8" cy="211.4" rx="1.41" ry="0.59" fill="#c07038" opacity="1.0" transform="rotate(0 372.8 211.4)"/>
<ellipse cx="320.3" cy="200.9" rx="1.05" ry="0.55" fill="#c07038" opacity="1.0" transform="rotate(0 320.3 200.9)"/>
<ellipse cx="381.0" cy="219.5" rx="0.74" ry="0.38" fill="#c07038" opacity="1.0" transform="rotate(0 381.0 219.5)"/>
<ellipse cx="336.6" cy="200.2" rx="0.77" ry="0.69" fill="#a0522d" opacity="1.0" transform="rotate(0 336.6 200.2)"/>
<ellipse cx="333.6" cy="196.4" rx="0.68" ry="0.56" fill="#c05050" opacity="1.0" transform="rotate(0 333.6 196.4)"/>
<ellipse cx="357.1" cy="203.6" rx="0.89" ry="0.40" fill="#a0522d" opacity="1.0" transform="rotate(0 357.1 203.6)"/>
<ellipse cx="337.2" cy="199.5" rx="1.14" ry="0.69" fill="#8b3a1a" opacity="1.0" transform="rotate(0 337.2 199.5)"/>
<ellipse cx="330.3" cy="207.3" rx="0.74" ry="0.61" fill="#c05050" opacity="1.0" transform="rotate(0 330.3 207.3)"/>
<ellipse cx="332.8" cy="211.4" rx="1.48" ry="0.66" fill="#c05050" opacity="1.0" transform="rotate(0 332.8 211.4)"/>
<ellipse cx="377.1" cy="208.2" rx="0.82" ry="0.37" fill="#8b3a1a" opacity="1.0" transform="rotate(0 377.1 208.2)"/>
<ellipse cx="306.3" cy="207.7" rx="1.22" ry="0.67" fill="#c07038" opacity="1.0" transform="rotate(0 306.3 207.7)"/>
<ellipse cx="330.0" cy="196.7" rx="0.74" ry="0.67" fill="#a0522d" opacity="1.0" transform="rotate(0 330.0 196.7)"/>
<ellipse cx="376.8" cy="199.2" rx="1.40" ry="0.64" fill="#c07038" opacity="1.0" transform="rotate(0 376.8 199.2)"/>
<ellipse cx="372.9" cy="211.1" rx="1.20" ry="0.62" fill="#c07038" opacity="1.0" transform="rotate(0 372.9 211.1)"/>
<ellipse cx="361.5" cy="219.5" rx="0.57" ry="0.43" fill="#c07038" opacity="1.0" transform="rotate(0 361.5 219.5)"/>
<ellipse cx="350.1" cy="213.1" rx="1.08" ry="0.58" fill="#b5652e" opacity="1.0" transform="rotate(0 350.1 213.1)"/>
<ellipse cx="315.3" cy="210.9" rx="0.99" ry="0.54" fill="#b5652e" opacity="1.0" transform="rotate(0 315.3 210.9)"/>
<ellipse cx="350.5" cy="205.8" rx="0.94" ry="0.62" fill="#c05050" opacity="1.0" transform="rotate(0 350.5 205.8)"/>
<ellipse cx="296.7" cy="210.4" rx="0.82" ry="0.38" fill="#c05050" opacity="1.0" transform="rotate(0 296.7 210.4)"/>
<ellipse cx="334.6" cy="201.7" rx="1.07" ry="0.47" fill="#8b3a1a" opacity="1.0" transform="rotate(0 334.6 201.7)"/>
<ellipse cx="311.4" cy="213.3" rx="1.05" ry="0.47" fill="#8b3a1a" opacity="1.0" transform="rotate(0 311.4 213.3)"/>
<ellipse cx="332.3" cy="213.0" rx="0.66" ry="0.41" fill="#c07038" opacity="1.0" transform="rotate(0 332.3 213.0)"/>
<ellipse cx="308.9" cy="205.8" rx="0.61" ry="0.32" fill="#8b3a1a" opacity="1.0" transform="rotate(0 308.9 205.8)"/>
<ellipse cx="317.8" cy="213.3" rx="0.79" ry="0.62" fill="#a0522d" opacity="1.0" transform="rotate(0 317.8 213.3)"/>
<ellipse cx="302.2" cy="197.0" rx="0.98" ry="0.39" fill="#a0522d" opacity="1.0" transform="rotate(0 302.2 197.0)"/>
<ellipse cx="299.7" cy="196.7" rx="0.58" ry="0.35" fill="#8b3a1a" opacity="1.0" transform="rotate(0 299.7 196.7)"/>
<ellipse cx="367.7" cy="212.4" rx="0.96" ry="0.50" fill="#8b3a1a" opacity="1.0" transform="rotate(0 367.7 212.4)"/>
<ellipse cx="356.1" cy="208.4" rx="0.74" ry="0.41" fill="#b5652e" opacity="1.0" transform="rotate(0 356.1 208.4)"/>
<ellipse cx="369.1" cy="214.3" rx="1.24" ry="0.59" fill="#b5652e" opacity="1.0" transform="rotate(0 369.1 214.3)"/>
<ellipse cx="337.4" cy="198.1" rx="0.57" ry="0.43" fill="#a0522d" opacity="1.0" transform="rotate(0 337.4 198.1)"/>
<ellipse cx="353.1" cy="211.5" rx="1.16" ry="0.47" fill="#c05050" opacity="1.0" transform="rotate(0 353.1 211.5)"/>
<ellipse cx="366.9" cy="207.9" rx="0.84" ry="0.64" fill="#c05050" opacity="1.0" transform="rotate(0 366.9 207.9)"/>
<ellipse cx="308.1" cy="212.1" rx="1.06" ry="0.68" fill="#c07038" opacity="1.0" transform="rotate(0 308.1 212.1)"/>
<ellipse cx="340.8" cy="202.4" rx="0.71" ry="0.60" fill="#b5652e" opacity="1.0" transform="rotate(0 340.8 202.4)"/>
<ellipse cx="349.7" cy="198.8" rx="0.59" ry="0.32" fill="#c07038" opacity="1.0" transform="rotate(0 349.7 198.8)"/>
<ellipse cx="348.0" cy="198.6" rx="0.61" ry="0.36" fill="#8b3a1a" opacity="1.0" transform="rotate(0 348.0 198.6)"/>
<ellipse cx="356.6" cy="218.8" rx="0.99" ry="0.67" fill="#c05050" opacity="1.0" transform="rotate(0 356.6 218.8)"/>
<ellipse cx="352.8" cy="201.9" rx="0.54" ry="0.31" fill="#b5652e" opacity="1.0" transform="rotate(0 352.8 201.9)"/>
<ellipse cx="297.0" cy="199.6" rx="0.79" ry="0.59" fill="#c05050" opacity="1.0" transform="rotate(0 297.0 199.6)"/>
<ellipse cx="371.6" cy="199.4" rx="0.82" ry="0.50" fill="#c07038" opacity="1.0" transform="rotate(0 371.6 199.4)"/>
<ellipse cx="361.9" cy="213.6" rx="0.92" ry="0.63" fill="#b5652e" opacity="1.0" transform="rotate(0 361.9 213.6)"/>
<ellipse cx="319.0" cy="214.0" rx="0.95" ry="0.41" fill="#a0522d" opacity="1.0" transform="rotate(0 319.0 214.0)"/>
<ellipse cx="297.0" cy="205.5" rx="1.11" ry="0.50" fill="#8b3a1a" opacity="1.0" transform="rotate(0 297.0 205.5)"/>
<ellipse cx="318.3" cy="211.9" rx="1.02" ry="0.59" fill="#b5652e" opacity="1.0" transform="rotate(0 318.3 211.9)"/>
<ellipse cx="320.9" cy="206.9" rx="1.06" ry="0.48" fill="#a0522d" opacity="1.0" transform="rotate(0 320.9 206.9)"/>
<ellipse cx="374.1" cy="196.9" rx="0.37" ry="0.35" fill="#c07038" opacity="1.0" transform="rotate(0 374.1 196.9)"/>
<ellipse cx="347.3" cy="214.4" rx="0.88" ry="0.51" fill="#c07038" opacity="1.0" transform="rotate(0 347.3 214.4)"/>
<ellipse cx="345.9" cy="208.0" rx="0.47" ry="0.39" fill="#a0522d" opacity="1.0" transform="rotate(0 345.9 208.0)"/>
<ellipse cx="332.5" cy="210.5" rx="0.65" ry="0.48" fill="#a0522d" opacity="1.0" transform="rotate(0 332.5 210.5)"/>
<ellipse cx="384.4" cy="201.9" rx="0.58" ry="0.55" fill="#a0522d" opacity="1.0" transform="rotate(0 384.4 201.9)"/>
<ellipse cx="355.9" cy="199.8" rx="1.05" ry="0.64" fill="#c07038" opacity="1.0" transform="rotate(0 355.9 199.8)"/>
<ellipse cx="298.9" cy="206.0" rx="0.83" ry="0.50" fill="#8b3a1a" opacity="1.0" transform="rotate(0 298.9 206.0)"/>
<ellipse cx="346.7" cy="209.0" rx="0.71" ry="0.33" fill="#a0522d" opacity="1.0" transform="rotate(0 346.7 209.0)"/>
<ellipse cx="330.4" cy="216.4" rx="0.71" ry="0.30" fill="#c05050" opacity="1.0" transform="rotate(0 330.4 216.4)"/>
<ellipse cx="353.8" cy="215.4" rx="0.87" ry="0.48" fill="#c05050" opacity="1.0" transform="rotate(0 353.8 215.4)"/>
<ellipse cx="325.0" cy="200.4" rx="1.07" ry="0.56" fill="#c05050" opacity="1.0" transform="rotate(0 325.0 200.4)"/>
<ellipse cx="297.1" cy="218.5" rx="0.78" ry="0.48" fill="#c07038" opacity="1.0" transform="rotate(0 297.1 218.5)"/>
<ellipse cx="350.1" cy="207.5" rx="1.13" ry="0.59" fill="#c07038" opacity="1.0" transform="rotate(0 350.1 207.5)"/>
<ellipse cx="369.8" cy="218.7" rx="0.39" ry="0.35" fill="#c05050" opacity="1.0" transform="rotate(0 369.8 218.7)"/>
<ellipse cx="338.4" cy="212.7" rx="0.49" ry="0.35" fill="#a0522d" opacity="1.0" transform="rotate(0 338.4 212.7)"/>
<ellipse cx="305.1" cy="198.6" rx="0.66" ry="0.46" fill="#a0522d" opacity="1.0" transform="rotate(0 305.1 198.6)"/>
<ellipse cx="303.7" cy="198.7" rx="0.70" ry="0.48" fill="#c07038" opacity="1.0" transform="rotate(0 303.7 198.7)"/>
<ellipse cx="312.9" cy="208.1" rx="0.38" ry="0.35" fill="#b5652e" opacity="1.0" transform="rotate(0 312.9 208.1)"/>
<ellipse cx="383.3" cy="217.6" rx="1.12" ry="0.50" fill="#8b3a1a" opacity="1.0" transform="rotate(0 383.3 217.6)"/>
<ellipse cx="339.0" cy="201.8" rx="0.55" ry="0.48" fill="#b5652e" opacity="1.0" transform="rotate(0 339.0 201.8)"/>
<ellipse cx="367.6" cy="202.7" rx="1.21" ry="0.61" fill="#8b3a1a" opacity="1.0" transform="rotate(0 367.6 202.7)"/>
<ellipse cx="358.8" cy="205.8" rx="1.08" ry="0.64" fill="#8b3a1a" opacity="1.0" transform="rotate(0 358.8 205.8)"/>
<ellipse cx="357.7" cy="211.7" rx="1.24" ry="0.52" fill="#8b3a1a" opacity="1.0" transform="rotate(0 357.7 211.7)"/>
<ellipse cx="334.8" cy="209.0" rx="0.71" ry="0.32" fill="#c07038" opacity="1.0" transform="rotate(0 334.8 209.0)"/>
<ellipse cx="317.3" cy="202.4" rx="0.79" ry="0.39" fill="#a0522d" opacity="1.0" transform="rotate(0 317.3 202.4)"/>
<ellipse cx="372.7" cy="206.1" rx="1.11" ry="0.57" fill="#a0522d" opacity="1.0" transform="rotate(0 372.7 206.1)"/>
<ellipse cx="378.6" cy="214.2" rx="0.79" ry="0.44" fill="#c07038" opacity="1.0" transform="rotate(0 378.6 214.2)"/>
<ellipse cx="307.2" cy="197.8" rx="0.51" ry="0.31" fill="#b5652e" opacity="1.0" transform="rotate(0 307.2 197.8)"/>
<ellipse cx="306.2" cy="200.9" rx="1.60" ry="0.67" fill="#b5652e" opacity="1.0" transform="rotate(0 306.2 200.9)"/>
<ellipse cx="358.2" cy="210.0" rx="0.79" ry="0.34" fill="#c07038" opacity="1.0" transform="rotate(0 358.2 210.0)"/>
<ellipse cx="352.4" cy="214.4" rx="0.31" ry="0.30" fill="#c07038" opacity="1.0" transform="rotate(0 352.4 214.4)"/>
<ellipse cx="330.5" cy="202.7" rx="1.62" ry="0.67" fill="#c05050" opacity="1.0" transform="rotate(0 330.5 202.7)"/>
<ellipse cx="334.8" cy="204.0" rx="0.70" ry="0.53" fill="#b5652e" opacity="1.0" transform="rotate(0 334.8 204.0)"/>
<ellipse cx="319.9" cy="207.5" rx="0.81" ry="0.43" fill="#a0522d" opacity="1.0" transform="rotate(0 319.9 207.5)"/>
<ellipse cx="373.6" cy="199.0" rx="0.54" ry="0.40" fill="#c05050" opacity="1.0" transform="rotate(0 373.6 199.0)"/>
<ellipse cx="321.9" cy="198.4" rx="1.17" ry="0.53" fill="#c07038" opacity="1.0" transform="rotate(0 321.9 198.4)"/>
<ellipse cx="303.6" cy="209.7" rx="0.68" ry="0.53" fill="#c05050" opacity="1.0" transform="rotate(0 303.6 209.7)"/>
<circle cx="342.7" cy="201.4" r="0.31" fill="#3a7fb8" opacity="1.0"/>
<circle cx="362.9" cy="199.5" r="0.35" fill="#4a8fc8" opacity="1.0"/>
<circle cx="317.4" cy="204.5" r="0.47" fill="#3a7fb8" opacity="1.0"/>
<circle cx="362.5" cy="208.9" r="0.45" fill="#4a8fc8" opacity="1.0"/>
<circle cx="318.2" cy="206.9" r="0.45" fill="#6aa5d5" opacity="1.0"/>
<circle cx="336.2" cy="225.3" r="0.41" fill="#3a7fb8" opacity="1.0"/>
<circle cx="346.0" cy="201.6" r="0.48" fill="#6aa5d5" opacity="1.0"/>
<circle cx="302.7" cy="223.3" r="0.44" fill="#3a7fb8" opacity="1.0"/>
<circle cx="319.7" cy="200.1" r="0.46" fill="#6aa5d5" opacity="1.0"/>
<circle cx="330.9" cy="187.9" r="0.48" fill="#5a9ad0" opacity="1.0"/>
<circle cx="363.9" cy="208.1" r="0.34" fill="#5a9ad0" opacity="1.0"/>
<circle cx="297.5" cy="199.4" r="0.39" fill="#4a8fc8" opacity="1.0"/>
<circle cx="369.5" cy="198.1" r="0.44" fill="#3a7fb8" opacity="1.0"/>
<circle cx="351.8" cy="201.8" r="0.47" fill="#6aa5d5" opacity="1.0"/>
<circle cx="382.7" cy="203.9" r="0.35" fill="#6aa5d5" opacity="1.0"/>
<circle cx="371.0" cy="208.5" r="0.47" fill="#5a9ad0" opacity="1.0"/>
<circle cx="332.4" cy="194.4" r="0.40" fill="#6aa5d5" opacity="1.0"/>
<circle cx="318.3" cy="193.6" r="0.33" fill="#4a8fc8" opacity="1.0"/>
<circle cx="325.1" cy="188.3" r="0.49" fill="#3a7fb8" opacity="1.0"/>
<circle cx="323.9" cy="219.2" r="0.46" fill="#3a7fb8" opacity="1.0"/>
<circle cx="340.1" cy="205.6" r="0.35" fill="#3a7fb8" opacity="1.0"/>
<circle cx="299.4" cy="195.3" r="0.34" fill="#5a9ad0" opacity="1.0"/>
<circle cx="336.1" cy="220.1" r="0.41" fill="#6aa5d5" opacity="1.0"/>
<circle cx="336.0" cy="196.0" r="0.32" fill="#5a9ad0" opacity="1.0"/>
<circle cx="363.4" cy="218.6" r="0.37" fill="#5a9ad0" opacity="1.0"/>
<circle cx="368.9" cy="205.9" r="0.41" fill="#4a8fc8" opacity="1.0"/>
<circle cx="381.1" cy="199.6" r="0.37" fill="#4a8fc8" opacity="1.0"/>
<circle cx="322.9" cy="223.6" r="0.34" fill="#4a8fc8" opacity="1.0"/>
<circle cx="318.5" cy="211.8" r="0.41" fill="#6aa5d5" opacity="1.0"/>
<circle cx="345.4" cy="190.9" r="0.37" fill="#6aa5d5" opacity="1.0"/>
<circle cx="297.6" cy="213.5" r="0.44" fill="#3a7fb8" opacity="1.0"/>
<circle cx="309.8" cy="187.2" r="0.31" fill="#5a9ad0" opacity="1.0"/>
<circle cx="369.3" cy="220.6" r="0.38" fill="#5a9ad0" opacity="1.0"/>
<circle cx="366.7" cy="191.8" r="0.38" fill="#4a8fc8" opacity="1.0"/>
<circle cx="303.2" cy="196.6" r="0.41" fill="#6aa5d5" opacity="1.0"/>
<circle cx="377.3" cy="225.5" r="0.33" fill="#6aa5d5" opacity="1.0"/>
<circle cx="347.6" cy="220.6" r="0.49" fill="#3a7fb8" opacity="1.0"/>
<circle cx="314.6" cy="202.3" r="0.41" fill="#5a9ad0" opacity="1.0"/>
<circle cx="344.9" cy="224.8" r="0.39" fill="#5a9ad0" opacity="1.0"/>
<circle cx="381.8" cy="211.6" r="0.43" fill="#3a7fb8" opacity="1.0"/>
<ellipse cx="336.8" cy="191.8" rx="1.16" ry="0.56" fill="#c040a0" opacity="1.0" transform="rotate(0 336.8 191.8)"/>
<ellipse cx="335.1" cy="191.4" rx="2.04" ry="0.77" fill="#b0308a" opacity="1.0" transform="rotate(0 335.1 191.4)"/>
<ellipse cx="335.3" cy="191.5" rx="1.44" ry="0.55" fill="#b0308a" opacity="1.0" transform="rotate(0 335.3 191.5)"/>
<ellipse cx="327.2" cy="166.2" rx="35.32" ry="6.84" fill="#dbe6ee" opacity="0.7" transform="rotate(0 327.2 166.2)"/>
</g>
<rect x="329.85" y="185.36" width="21.19" height="15.05" fill="none" stroke="#1a1a1a" stroke-width="1.1"/>
<rect x="296.80" y="214.90" width="13.00" height="11.50" fill="#ffffff"/>
<text x="298.80" y="223.40" font-size="8.3" text-anchor="start" fill="#111">iii)</text>
<line x1="365.17" y1="220.90" x2="379.30" y2="220.90" stroke="#333" stroke-width="0.9"/>
<line x1="369.59" y1="219.60" x2="374.89" y2="219.60" stroke="#666" stroke-width="0.6"/>
</g>
<rect x="296.30" y="158.00" width="88.30" height="68.40" fill="none" stroke="#8c8c8c" stroke-width="0.9"/>
<clipPath id="c62"><rect x="386.30" y="158.00" width="88.40" height="68.40"/></clipPath>
<g clip-path="url(#c62)">
<g filter="url(#bl35)">
<rect x="386.30" y="158.00" width="88.40" height="68.40" fill="#f3f5f8"/>
<circle cx="468.3" cy="169.8" r="1.19" fill="#6aa5d5" opacity="1.0"/>
<circle cx="445.6" cy="169.7" r="0.79" fill="#3a7fb8" opacity="1.0"/>
<circle cx="401.5" cy="166.4" r="0.94" fill="#3a7fb8" opacity="1.0"/>
<circle cx="443.4" cy="205.3" r="1.06" fill="#6aa5d5" opacity="1.0"/>
<circle cx="440.8" cy="222.0" r="0.85" fill="#6aa5d5" opacity="1.0"/>
<circle cx="387.7" cy="217.1" r="1.00" fill="#3a7fb8" opacity="1.0"/>
<circle cx="439.2" cy="160.1" r="0.98" fill="#5a9ad0" opacity="1.0"/>
<circle cx="395.3" cy="183.0" r="1.15" fill="#5a9ad0" opacity="1.0"/>
<circle cx="436.3" cy="219.3" r="0.87" fill="#6aa5d5" opacity="1.0"/>
<circle cx="428.2" cy="182.8" r="1.11" fill="#4a8fc8" opacity="1.0"/>
<circle cx="452.1" cy="189.1" r="1.06" fill="#3a7fb8" opacity="1.0"/>
<circle cx="444.2" cy="167.1" r="0.90" fill="#3a7fb8" opacity="1.0"/>
<circle cx="421.6" cy="182.5" r="1.10" fill="#3a7fb8" opacity="1.0"/>
<circle cx="422.2" cy="162.5" r="1.16" fill="#3a7fb8" opacity="1.0"/>
<ellipse cx="443.4" cy="192.6" rx="3.12" ry="0.67" fill="#ecd4e4" opacity="1.0" transform="rotate(0 443.4 192.6)"/>
<ellipse cx="428.0" cy="191.6" rx="2.30" ry="0.74" fill="#ecd4e4" opacity="1.0" transform="rotate(0 428.0 191.6)"/>
<ellipse cx="416.2" cy="190.7" rx="3.30" ry="0.84" fill="#ecd4e4" opacity="1.0" transform="rotate(0 416.2 190.7)"/>
<ellipse cx="456.6" cy="193.4" rx="3.58" ry="0.72" fill="#dce6f0" opacity="1.0" transform="rotate(0 456.6 193.4)"/>
<ellipse cx="430.5" cy="190.9" rx="3.20" ry="0.70" fill="#dce6f0" opacity="1.0" transform="rotate(0 430.5 190.9)"/>
<ellipse cx="434.6" cy="191.1" rx="3.55" ry="0.78" fill="#ecd4e4" opacity="1.0" transform="rotate(0 434.6 191.1)"/>
<ellipse cx="430.5" cy="184.0" rx="7.07" ry="1.71" fill="#c02a70" opacity="1" transform="rotate(0 430.5 184.0)"/>
<ellipse cx="441.1" cy="181.9" rx="5.30" ry="1.71" fill="#b83a50" opacity="1" transform="rotate(0 441.1 181.9)"/>
<ellipse cx="423.4" cy="186.7" rx="3.54" ry="1.37" fill="#c04080" opacity="1" transform="rotate(0 423.4 186.7)"/>
<ellipse cx="449.9" cy="178.5" rx="2.65" ry="1.37" fill="#c05030" opacity="1" transform="rotate(0 449.9 178.5)"/>
<ellipse cx="455.3" cy="179.9" rx="1.77" ry="1.37" fill="#4a8fc8" opacity="1" transform="rotate(0 455.3 179.9)"/>
<ellipse cx="434.9" cy="188.1" rx="2.65" ry="1.37" fill="#5a9ad0" opacity="1" transform="rotate(0 434.9 188.1)"/>
<ellipse cx="417.2" cy="185.4" rx="2.65" ry="1.37" fill="#4a8fc8" opacity="1" transform="rotate(0 417.2 185.4)"/>
<ellipse cx="465.9" cy="193.6" rx="1.77" ry="1.37" fill="#c04080" opacity="1" transform="rotate(0 465.9 193.6)"/>
<ellipse cx="404.0" cy="164.8" rx="1.77" ry="2.05" fill="#a0a040" opacity="1" transform="rotate(0 404.0 164.8)"/>
<ellipse cx="426.1" cy="163.5" rx="1.77" ry="2.05" fill="#4a8fc8" opacity="1" transform="rotate(0 426.1 163.5)"/>
<ellipse cx="449.9" cy="162.1" rx="1.77" ry="1.37" fill="#4a8fc8" opacity="1" transform="rotate(0 449.9 162.1)"/>
<ellipse cx="439.3" cy="219.6" rx="3.54" ry="1.37" fill="#4a8fc8" opacity="1" transform="rotate(0 439.3 219.6)"/>
</g>
<line x1="455.25" y1="220.90" x2="469.40" y2="220.90" stroke="#333" stroke-width="0.9"/>
<line x1="459.67" y1="219.60" x2="464.98" y2="219.60" stroke="#666" stroke-width="0.6"/>
<path d="M448.2,179.9 L449.1,174.5 L453.6,179.0 z" fill="#111"/>
</g>
<rect x="386.30" y="158.00" width="88.40" height="68.40" fill="none" stroke="#8c8c8c" stroke-width="0.9"/>
<text x="1.40" y="10.80" font-size="12" text-anchor="start" fill="#1a1a1a">a)</text>
<text x="10.60" y="40.50" font-size="13.6" text-anchor="start" fill="#a12ea0" font-weight="bold" textLength="39.40" lengthAdjust="spacingAndGlyphs">STING</text>
<text x="33.45" y="63.60" font-size="8.4" text-anchor="middle" fill="#1a1a1a" font-weight="bold">Control</text>
<text x="12.30" y="76.30" font-size="8.3" text-anchor="start" fill="#1a1a1a" font-weight="bold">(non-AMD</text>
<text x="30.25" y="140.10" font-size="8.2" text-anchor="middle" fill="#1a1a1a" font-weight="bold">Geographic</text>
<text x="31.00" y="150.20" font-size="8.2" text-anchor="middle" fill="#1a1a1a" font-weight="bold">atrophy</text>
<text x="30.40" y="208.80" font-size="8.2" text-anchor="middle" fill="#1a1a1a" font-weight="bold">Disciform</text>
<text x="31.00" y="219.10" font-size="8.2" text-anchor="middle" fill="#1a1a1a" font-weight="bold">scar</text>
<text x="236.00" y="19.80" font-size="14" text-anchor="start" fill="#1a1a1a">b)</text>
<text x="254.80" y="34.00" font-size="14.5" text-anchor="start" fill="#a12ea0" font-weight="bold" textLength="33.40" lengthAdjust="spacingAndGlyphs">IFN-β</text>
<text x="269.80" y="60.80" font-size="8.5" text-anchor="middle" fill="#1a1a1a" font-weight="bold">Control</text>
<text x="248.20" y="74.00" font-size="8.4" text-anchor="start" fill="#1a1a1a" font-weight="bold">(non-AMD</text>
<text x="288.60" y="75.00" font-size="12" text-anchor="start" fill="#1a1a1a">)</text>
<text x="266.30" y="140.90" font-size="8.4" text-anchor="middle" fill="#1a1a1a" font-weight="bold">Geographic</text>
<text x="267.50" y="151.10" font-size="8.4" text-anchor="middle" fill="#1a1a1a" font-weight="bold">atrophy</text>
<text x="266.50" y="211.90" font-size="8.4" text-anchor="middle" fill="#1a1a1a" font-weight="bold">Disciform</text>
<text x="267.70" y="222.50" font-size="8.4" text-anchor="middle" fill="#1a1a1a" font-weight="bold">scar</text>
<text x="483.60" y="13.20" font-size="12.4" text-anchor="start" fill="#1a1a1a">c)</text>
<rect x="486.90" y="53.10" width="99.50" height="144.00" fill="#ffffff"/>
<rect x="588.00" y="53.60" width="95.50" height="144.80" fill="#f4f2f3"/>
<path d="M491,180 L491,101 Q491,94.5 498.5,94.5 Q506,94.5 506.3,102 L507,110 Q509,114 514,112 L519.5,106 L519.5,85 Q519.5,77.6 528,77.6 Q536.4,77.6 536.4,85 L536.4,120 Q537,127.4 545,127.4 L550,127.4 Q555,127.4 556,120 L556,102 Q556,96.4 561.2,96.4 Q566.5,96.4 566.5,102 L567.5,113 Q569.5,116 572,113 L573,108.5 Q573.5,104 577.2,104 Q581.5,104 582,109 L583,178 Q583,190.4 571,190.4 L503,190.4 Q491,190.4 491,180 Z" fill="#f6ebe3" stroke="#d0bfb2" stroke-width="1.2"/>
<circle cx="497" cy="100" r="1.6" fill="#ebdbd2"/>
<circle cx="502" cy="108" r="1.2" fill="#ebdbd2"/>
<circle cx="526" cy="84" r="1.8" fill="#ebdbd2"/>
<circle cx="531" cy="92" r="2.2" fill="#ebdbd2"/>
<circle cx="523" cy="97" r="1.5" fill="#ebdbd2"/>
<circle cx="530" cy="103" r="1.4" fill="#ebdbd2"/>
<circle cx="560" cy="104" r="1.5" fill="#ebdbd2"/>
<circle cx="577" cy="112" r="1.4" fill="#ebdbd2"/>
<circle cx="499" cy="132" r="1.8" fill="#ebdbd2"/>
<circle cx="507" cy="126" r="1.2" fill="#ebdbd2"/>
<circle cx="519" cy="120" r="1.4" fill="#ebdbd2"/>
<circle cx="527" cy="131" r="1.2" fill="#ebdbd2"/>
<circle cx="548" cy="137" r="1.5" fill="#ebdbd2"/>
<circle cx="562" cy="143" r="2.0" fill="#ebdbd2"/>
<circle cx="575" cy="128" r="1.4" fill="#ebdbd2"/>
<circle cx="577" cy="152" r="1.5" fill="#ebdbd2"/>
<circle cx="576" cy="172" r="1.8" fill="#ebdbd2"/>
<circle cx="500" cy="178" r="1.8" fill="#ebdbd2"/>
<circle cx="512" cy="164" r="1.2" fill="#ebdbd2"/>
<circle cx="556" cy="181" r="1.5" fill="#ebdbd2"/>
<circle cx="540" cy="125" r="1.0" fill="#ebdbd2"/>
<circle cx="566" cy="120" r="1.2" fill="#ebdbd2"/>
<circle cx="571" cy="160" r="1.2" fill="#ebdbd2"/>
<circle cx="495" cy="150" r="1.2" fill="#ebdbd2"/>
<circle cx="545" cy="115" r="1.1" fill="#ebdbd2"/>
<ellipse cx="536.3" cy="162.7" rx="16.6" ry="12.6" fill="#e8d8d0"/>
<path d="M513.14,144.23L514.19,143.57M514.62,143.30L515.83,142.55M516.66,142.03L517.39,141.58M517.91,141.25L518.76,140.72M519.46,140.28L520.47,139.65M521.28,139.14L522.60,138.32M512.76,146.06L514.03,145.27M514.94,144.70L516.07,143.99M516.90,143.48L517.95,142.82M518.47,142.49L519.45,141.88M520.28,141.36L521.24,140.76M521.73,140.46L522.87,139.74M523.67,139.25L524.64,138.64M512.37,147.90L513.29,147.32M513.97,146.89L514.95,146.28M515.77,145.77L516.96,145.03M517.60,144.63L518.86,143.84M519.68,143.33L520.87,142.59M521.42,142.24L522.55,141.54M523.45,140.97L524.26,140.47M524.91,140.06L525.88,139.45M511.98,149.73L513.03,149.07M513.71,148.65L515.07,147.80M515.91,147.27L516.72,146.77M517.39,146.35L518.24,145.82M518.76,145.50L519.94,144.76M520.61,144.34L521.87,143.55M522.56,143.12L523.47,142.55M523.95,142.25L524.80,141.72M525.71,141.15L526.98,140.36M527.46,140.06L528.76,139.24M511.60,151.56L512.30,151.13M513.00,150.68L513.88,150.13M514.66,149.65L515.49,149.13M516.23,148.67L517.55,147.85M518.27,147.39L519.14,146.85M520.05,146.28L521.29,145.51M522.07,145.02L523.40,144.19M524.03,143.79L525.37,142.95M526.21,142.43L527.05,141.91M527.82,141.43L529.13,140.60M513.41,152.02L514.68,151.23M515.52,150.70L516.63,150.01M517.53,149.45L518.69,148.72M519.51,148.21L520.76,147.43M521.35,147.06L522.12,146.58M522.76,146.18L523.67,145.61M524.60,145.03L525.84,144.26M526.38,143.91L527.73,143.07M528.34,142.70L529.31,142.09M515.23,152.48L516.01,151.99M516.71,151.55L517.51,151.05M518.06,150.71L519.25,149.96M519.92,149.54L521.13,148.79M522.03,148.23L522.90,147.68M523.38,147.38L524.50,146.68M525.14,146.28L526.36,145.52M526.92,145.17L527.82,144.61M528.44,144.22L529.66,143.46M517.05,152.93L518.01,152.33M518.61,151.96L519.33,151.51M519.88,151.16L521.06,150.43M521.91,149.90L522.73,149.39M523.22,149.08L524.54,148.25M525.21,147.83L526.33,147.13M526.78,146.85L527.67,146.29M518.87,153.39L520.18,152.57M521.02,152.04L522.00,151.43M522.64,151.03L523.42,150.54M524.32,149.98L525.27,149.39M526.03,148.91L526.87,148.39M527.47,148.01L528.61,147.30" stroke="#d9707c" stroke-width="0.95" fill="none" stroke-linecap="round"/>
<circle cx="519.9" cy="139.5" r="0.70" fill="#d9707c"/>
<circle cx="529.6" cy="143.2" r="0.70" fill="#d9707c"/>
<circle cx="520.2" cy="139.0" r="0.70" fill="#d9707c"/>
<circle cx="510.5" cy="143.6" r="0.70" fill="#d9707c"/>
<circle cx="517.5" cy="140.1" r="0.70" fill="#d9707c"/>
<circle cx="525.3" cy="141.5" r="0.70" fill="#d9707c"/>
<text x="503.00" y="160.00" font-size="5.8" text-anchor="start" fill="#1a1a1a" font-weight="bold">Golgi</text>
<text x="537.80" y="166.20" font-size="5.8" text-anchor="middle" fill="#1a1a1a" font-weight="bold">Nucleus</text>
<text x="564.50" y="131.00" font-size="5.8" text-anchor="middle" fill="#1a1a1a" font-weight="bold">RPE</text>
<rect x="516.7" y="105.8" width="22" height="9.8" rx="2.5" fill="#3a8ab5"/>
<text x="527.70" y="113.00" font-size="6.3" text-anchor="middle" fill="#ffffff" font-weight="bold">STING</text>
<rect x="493.5" y="111.5" width="20" height="11.2" rx="2.5" fill="#b03aa0"/>
<text x="503.50" y="119.30" font-size="6.0" text-anchor="middle" fill="#ffffff" font-weight="bold">IFN-β</text>
<text x="538.00" y="60.90" font-size="7" text-anchor="middle" fill="#1a1a1a" font-weight="bold">CONTROL</text>
<line x1="523.00" y1="62.00" x2="553.00" y2="62.00" stroke="#222" stroke-width="0.6"/>
<text x="536.60" y="74.90" font-size="6.6" text-anchor="middle" fill="#1a1a1a">Apical Surface</text>
<text x="628.80" y="60.90" font-size="7" text-anchor="middle" fill="#1a1a1a" font-weight="bold">AMD</text>
<line x1="621.50" y1="62.00" x2="636.00" y2="62.00" stroke="#222" stroke-width="0.6"/>
<text x="630.40" y="74.90" font-size="6.6" text-anchor="middle" fill="#1a1a1a">Apical Surface</text>
<path d="M591.5,180 L591.5,106 Q591.5,99 598.3,99 Q605,99 606,104 L610,110 Q616,112 618.7,106 L618.7,89 Q618.7,81 627.8,81 Q637,81 637,89 L637,117 Q638,125 645,125 Q651.6,125 652.6,118 L652.6,109 Q652.6,103 658.8,103 Q665,103 665,109 L666,114 Q668.5,117 670.5,112 L671,111 Q671.5,106 676,106 Q681,106 681,112 L681,178 Q681,190 669,190 L603,190 Q591.5,190 591.5,180 Z" fill="#d9d9d9" stroke="#a9a9a9" stroke-width="1.2"/>
<circle cx="600" cy="106" r="1.6" fill="#cacaca"/>
<circle cx="596" cy="116" r="1.4" fill="#cacaca"/>
<circle cx="604" cy="124" r="1.6" fill="#cacaca"/>
<circle cx="609" cy="118" r="1.2" fill="#cacaca"/>
<circle cx="626" cy="92" r="1.5" fill="#cacaca"/>
<circle cx="631" cy="100" r="1.6" fill="#cacaca"/>
<circle cx="624" cy="106" r="1.2" fill="#cacaca"/>
<circle cx="634" cy="112" r="1.3" fill="#cacaca"/>
<circle cx="597" cy="140" r="1.6" fill="#cacaca"/>
<circle cx="601" cy="156" r="1.4" fill="#cacaca"/>
<circle cx="660" cy="112" r="1.4" fill="#cacaca"/>
<circle cx="675" cy="118" r="1.6" fill="#cacaca"/>
<circle cx="662" cy="131" r="1.5" fill="#cacaca"/>
<circle cx="673" cy="140" r="1.4" fill="#cacaca"/>
<circle cx="666" cy="166" r="1.8" fill="#cacaca"/>
<circle cx="676" cy="160" r="1.3" fill="#cacaca"/>
<circle cx="618" cy="172" r="1.5" fill="#cacaca"/>
<circle cx="643" cy="182" r="1.5" fill="#cacaca"/>
<circle cx="657" cy="188" r="1.2" fill="#cacaca"/>
<circle cx="596" cy="172" r="1.5" fill="#cacaca"/>
<circle cx="612" cy="130" r="1.3" fill="#cacaca"/>
<circle cx="645" cy="120" r="1.1" fill="#cacaca"/>
<circle cx="640" cy="150" r="1.4" fill="#cacaca"/>
<path d="M622,155 q4,-9 12,-8 q10,-1 12,6 q3,8 -2,14 q-8,7 -16,3 q-8,-5 -6,-15 z" fill="#c6c6c6"/>
<ellipse cx="626.8" cy="143.8" rx="6" ry="5.6" fill="#a8dc6a" opacity="0.75"/>
<ellipse cx="627.5" cy="143.5" rx="3.8" ry="3.6" fill="#8fd24a" opacity="0.9"/>
<path d="M610.01,144.82L610.91,144.26M611.37,143.97L612.11,143.51M612.83,143.06L613.67,142.53M614.08,142.27L615.04,141.68M615.48,141.40L616.74,140.61M617.51,140.13L618.78,139.34M609.64,146.56L610.83,145.82M611.67,145.29L612.76,144.61M613.54,144.13L614.47,143.54M614.93,143.26L615.85,142.68M616.32,142.39L617.12,141.89M617.60,141.59L618.84,140.82M619.49,140.41L620.50,139.78M609.28,148.30L610.45,147.57M611.03,147.21L611.86,146.69M612.66,146.19L613.54,145.64M614.42,145.09L615.61,144.35M616.17,144.00L617.40,143.23M618.23,142.71L619.17,142.12M619.89,141.67L620.67,141.19M621.50,140.67L622.16,140.25M608.91,150.04L609.96,149.39M610.78,148.88L611.51,148.42M612.17,148.01L612.99,147.49M613.56,147.13L614.66,146.45M615.23,146.10L615.91,145.67M616.39,145.37L617.42,144.73M618.24,144.21L619.24,143.59M619.87,143.19L620.97,142.51M621.76,142.02L622.45,141.58M622.89,141.31L623.87,140.69M608.54,151.79L609.72,151.05M610.36,150.65L611.26,150.09M611.74,149.79L612.60,149.25M613.02,148.99L613.71,148.56M614.29,148.19L615.23,147.61M615.68,147.32L616.77,146.64M617.42,146.24L618.10,145.81M618.85,145.34L619.96,144.65M620.66,144.21L621.53,143.67M622.25,143.22L623.52,142.42M624.35,141.91L625.42,141.24M610.27,152.22L611.35,151.55M612.13,151.06L612.77,150.65M613.54,150.18L614.31,149.69M614.88,149.34L615.93,148.68M616.75,148.17L617.84,147.48M618.42,147.12L619.46,146.48M620.14,146.05L621.38,145.27M622.19,144.77L623.27,144.09M623.86,143.72L624.66,143.23M611.99,152.65L613.27,151.85M613.71,151.58L614.56,151.05M615.36,150.55L616.18,150.03M616.66,149.74L617.78,149.04M618.61,148.52L619.67,147.85M620.43,147.38L621.40,146.78M622.28,146.22L623.54,145.44M624.26,144.99L625.09,144.47M613.72,153.09L614.96,152.31M615.51,151.97L616.34,151.45M616.87,151.12L618.13,150.33M618.79,149.92L619.96,149.19M620.82,148.65L621.89,147.98M622.47,147.62L623.34,147.08M623.86,146.75L624.60,146.28M615.45,153.52L616.16,153.07M616.85,152.64L617.92,151.98M618.76,151.45L620.04,150.65M620.76,150.20L621.82,149.54M622.61,149.04L623.29,148.62" stroke="#d9707c" stroke-width="0.90" fill="none" stroke-linecap="round"/>
<circle cx="612.3" cy="141.3" r="0.66" fill="#d9707c"/>
<circle cx="612.7" cy="141.2" r="0.66" fill="#d9707c"/>
<circle cx="610.1" cy="150.1" r="0.66" fill="#d9707c"/>
<circle cx="612.4" cy="141.3" r="0.66" fill="#d9707c"/>
<circle cx="617.7" cy="139.7" r="0.66" fill="#d9707c"/>
<circle cx="625.1" cy="143.9" r="0.66" fill="#d9707c"/>
<text x="601.50" y="160.30" font-size="5.8" text-anchor="start" fill="#1a1a1a" font-weight="bold">Golgi</text>
<text x="632.00" y="164.80" font-size="5.8" text-anchor="middle" fill="#1a1a1a" font-weight="bold">Nucleus</text>
<text x="661.40" y="128.00" font-size="5.8" text-anchor="middle" fill="#1a1a1a" font-weight="bold">RPE</text>
<path d="M619.7,115.5 L633.3,130 L630,124 Z M619.7,115.5 L633.3,130 L627,127.5 Z" fill="#111" stroke="#111" stroke-width="1.2" stroke-linejoin="round"/>
<path d="M646.8,137.8 Q651,138.5 655,141.5" fill="none" stroke="#111" stroke-width="0.6"/>
<path d="M655.5,142 l-2.2,-0.2 l1,-1.6 z" fill="#111"/>
<rect x="624" y="132.6" width="22" height="9.8" rx="2.5" fill="#3a8ab5" stroke="#2a6a95" stroke-width="0.5" stroke-dasharray="1 0.6"/>
<text x="635.00" y="139.80" font-size="6.3" text-anchor="middle" fill="#ffffff" font-weight="bold">STING</text>
<rect x="650" y="146" width="24.3" height="9.3" rx="2.5" fill="#b03aa0" stroke="#802070" stroke-width="0.5" stroke-dasharray="1 0.6"/>
<text x="662.15" y="152.90" font-size="6.0" text-anchor="middle" fill="#ffffff" font-weight="bold">IFN-β</text>
<rect x="650" y="172.7" width="24.3" height="9.3" rx="2.5" fill="#b03aa0" stroke="#802070" stroke-width="0.5" stroke-dasharray="1 0.6"/>
<text x="662.15" y="179.60" font-size="6.0" text-anchor="middle" fill="#ffffff" font-weight="bold">IFN-β</text>
<rect x="603" y="175" width="24.3" height="9.3" rx="2.5" fill="#b03aa0" stroke="#802070" stroke-width="0.5" stroke-dasharray="1 0.6"/>
<text x="615.15" y="181.90" font-size="6.0" text-anchor="middle" fill="#ffffff" font-weight="bold">IFN-β</text>
<rect x="13.30" y="263.30" width="8.60" height="9.20" fill="#7f7f7f" stroke="#555" stroke-width="0.6"/>
<text x="27.60" y="272.00" font-size="11.2" text-anchor="start" fill="#222">Un-stimulated</text>
<rect x="13.30" y="280.20" width="8.60" height="8.60" fill="#ee7fb4" stroke="#a04070" stroke-width="0.6"/>
<text x="27.60" y="288.40" font-size="11.3" text-anchor="start" fill="#222">cGAMP (50µg/mL)</text>
<rect x="305.30" y="255.30" width="10.20" height="8.00" fill="#7f7f7f" stroke="#666" stroke-width="0.6"/>
<text x="321.80" y="262.90" font-size="10.6" text-anchor="start" fill="#222">Control</text>
<rect x="305.30" y="271.40" width="10.20" height="8.00" fill="#9d93c6" stroke="#666" stroke-width="0.6"/>
<text x="321.80" y="279.00" font-size="10.6" text-anchor="start" fill="#222">IFN-β 500 IU/mL</text>
<rect x="305.30" y="287.40" width="10.20" height="8.00" fill="#c690d1" stroke="#666" stroke-width="0.6"/>
<text x="321.80" y="295.00" font-size="10.6" text-anchor="start" fill="#222">IFN-β 5000 IU/mL</text>
<rect x="420.30" y="257.30" width="10.20" height="8.00" fill="#eda3b9" stroke="#666" stroke-width="0.6"/>
<text x="436.80" y="264.90" font-size="10.6" text-anchor="start" fill="#222">cGAMP 10µg/mL</text>
<rect x="420.30" y="273.40" width="10.20" height="8.00" fill="#f7cfb5" stroke="#666" stroke-width="0.6"/>
<text x="436.80" y="281.00" font-size="10.6" text-anchor="start" fill="#222">cGAMP 50µg/mL</text>
<rect x="58.35" y="419.40" width="19.50" height="42.00" fill="#8a8a8a" stroke="#262626" stroke-width="0.9"/>
<line x1="68.10" y1="416.80" x2="68.10" y2="422.00" stroke="#333" stroke-width="0.7"/>
<line x1="65.10" y1="416.80" x2="71.10" y2="416.80" stroke="#333" stroke-width="0.8"/>
<line x1="65.10" y1="422.00" x2="71.10" y2="422.00" stroke="#333" stroke-width="0.8"/>
<circle cx="59.50" cy="416.30" r="1.7" fill="#111"/>
<circle cx="62.90" cy="419.10" r="1.7" fill="#111"/>
<circle cx="66.30" cy="420.20" r="1.7" fill="#111"/>
<circle cx="69.80" cy="417.10" r="1.7" fill="#111"/>
<circle cx="73.30" cy="416.30" r="1.7" fill="#111"/>
<circle cx="76.60" cy="419.10" r="1.7" fill="#111"/>
<circle cx="69.80" cy="422.00" r="1.7" fill="#111"/>
<circle cx="67.90" cy="426.60" r="1.7" fill="#111"/>
<line x1="68.10" y1="461.40" x2="68.10" y2="464.60" stroke="#4a4a4a" stroke-width="0.8"/>
<rect x="88.50" y="376.60" width="20.20" height="84.80" fill="#b8849a" stroke="#262626" stroke-width="0.9"/>
<line x1="98.60" y1="371.30" x2="98.60" y2="381.50" stroke="#333" stroke-width="0.7"/>
<line x1="95.60" y1="371.30" x2="101.60" y2="371.30" stroke="#333" stroke-width="0.8"/>
<line x1="95.60" y1="381.50" x2="101.60" y2="381.50" stroke="#333" stroke-width="0.8"/>
<rect x="96.98" y="368.58" width="3.23" height="3.23" fill="#e8337a"/>
<rect x="93.78" y="373.49" width="3.23" height="3.23" fill="#e8337a"/>
<rect x="99.98" y="375.78" width="3.23" height="3.23" fill="#e8337a"/>
<rect x="96.98" y="381.88" width="3.23" height="3.23" fill="#e8337a"/>
<line x1="98.60" y1="461.40" x2="98.60" y2="464.60" stroke="#4a4a4a" stroke-width="0.8"/>
<line x1="48.00" y1="356.40" x2="48.00" y2="461.90" stroke="#808080" stroke-width="1.0"/>
<line x1="47.50" y1="461.40" x2="119.40" y2="461.40" stroke="#4a4a4a" stroke-width="1.0"/>
<line x1="44.80" y1="356.90" x2="48.00" y2="356.90" stroke="#808080" stroke-width="0.9"/>
<g transform="translate(43.70,360.64) scale(0.8,1)"><text x="0" y="0" font-size="10.4" text-anchor="end" fill="#1a1a1a">2.5</text></g>
<line x1="44.80" y1="377.90" x2="48.00" y2="377.90" stroke="#808080" stroke-width="0.9"/>
<g transform="translate(43.70,381.64) scale(0.8,1)"><text x="0" y="0" font-size="10.4" text-anchor="end" fill="#1a1a1a">2.0</text></g>
<line x1="44.80" y1="398.80" x2="48.00" y2="398.80" stroke="#808080" stroke-width="0.9"/>
<g transform="translate(43.70,402.54) scale(0.8,1)"><text x="0" y="0" font-size="10.4" text-anchor="end" fill="#1a1a1a">1.5</text></g>
<line x1="44.80" y1="419.60" x2="48.00" y2="419.60" stroke="#808080" stroke-width="0.9"/>
<g transform="translate(43.70,423.34) scale(0.8,1)"><text x="0" y="0" font-size="10.4" text-anchor="end" fill="#1a1a1a">1.0</text></g>
<line x1="44.80" y1="440.40" x2="48.00" y2="440.40" stroke="#808080" stroke-width="0.9"/>
<g transform="translate(43.70,444.14) scale(0.8,1)"><text x="0" y="0" font-size="10.4" text-anchor="end" fill="#1a1a1a">0.5</text></g>
<line x1="44.80" y1="461.40" x2="48.00" y2="461.40" stroke="#808080" stroke-width="0.9"/>
<g transform="translate(43.70,465.14) scale(0.8,1)"><text x="0" y="0" font-size="10.4" text-anchor="end" fill="#1a1a1a">0.0</text></g>
<text x="9.60" y="315.60" font-size="13" text-anchor="start" fill="#111">d)</text>
<text transform="translate(18.90,407.00) rotate(-90)" x="0" y="0" font-size="9" text-anchor="middle" fill="#1a1a1a" textLength="59.00" lengthAdjust="spacingAndGlyphs">Fold  Change</text>
<text transform="translate(28.74,407.40) rotate(-90)" x="0" y="0" font-size="9" text-anchor="middle" fill="#1a1a1a" textLength="65.50" lengthAdjust="spacingAndGlyphs">(STING/GUSB)</text>
<line x1="68.00" y1="359.30" x2="99.50" y2="359.30" stroke="#111" stroke-width="1.4"/>
<line x1="68.00" y1="355.50" x2="68.00" y2="363.10" stroke="#111" stroke-width="1.4"/>
<line x1="99.50" y1="355.50" x2="99.50" y2="363.10" stroke="#111" stroke-width="1.4"/>
<path d="M77.25,351.75L77.25,355.45M75.65,352.68L78.85,354.53M78.85,352.68L75.65,354.53M81.55,351.75L81.55,355.45M79.95,352.68L83.15,354.53M83.15,352.68L79.95,354.53M85.85,351.75L85.85,355.45M84.25,352.68L87.45,354.53M87.45,352.68L84.25,354.53M90.15,351.75L90.15,355.45M88.55,352.68L91.75,354.53M91.75,352.68L88.55,354.53" stroke="#111" stroke-width="1.05" stroke-linecap="round" fill="none"/>
<text x="83.40" y="332.70" font-size="8.2" text-anchor="middle" fill="#1a1a1a">STING expression</text>
<rect x="190.10" y="448.20" width="18.60" height="12.20" fill="#8a8a8a" stroke="#262626" stroke-width="0.9"/>
<line x1="199.40" y1="444.40" x2="199.40" y2="451.70" stroke="#333" stroke-width="0.7"/>
<line x1="196.40" y1="444.40" x2="202.40" y2="444.40" stroke="#333" stroke-width="0.8"/>
<line x1="196.40" y1="451.70" x2="202.40" y2="451.70" stroke="#333" stroke-width="0.8"/>
<circle cx="191.60" cy="445.80" r="1.7" fill="#111"/>
<circle cx="191.60" cy="449.30" r="1.7" fill="#111"/>
<circle cx="191.60" cy="452.80" r="1.7" fill="#111"/>
<circle cx="196.80" cy="446.40" r="1.7" fill="#111"/>
<circle cx="199.60" cy="442.60" r="1.7" fill="#111"/>
<circle cx="202.10" cy="447.30" r="1.7" fill="#111"/>
<circle cx="202.40" cy="451.70" r="1.7" fill="#111"/>
<line x1="199.40" y1="460.40" x2="199.40" y2="463.60" stroke="#4a4a4a" stroke-width="0.8"/>
<rect x="218.85" y="387.90" width="17.90" height="72.50" fill="#b8849a" stroke="#262626" stroke-width="0.9"/>
<line x1="227.80" y1="375.50" x2="227.80" y2="401.40" stroke="#333" stroke-width="0.7"/>
<line x1="224.80" y1="375.50" x2="230.80" y2="375.50" stroke="#333" stroke-width="0.8"/>
<line x1="224.80" y1="401.40" x2="230.80" y2="401.40" stroke="#333" stroke-width="0.8"/>
<rect x="226.19" y="370.69" width="3.23" height="3.23" fill="#e8337a"/>
<rect x="226.19" y="384.69" width="3.23" height="3.23" fill="#e8337a"/>
<rect x="226.19" y="387.88" width="3.23" height="3.23" fill="#e8337a"/>
<rect x="226.19" y="402.19" width="3.23" height="3.23" fill="#e8337a"/>
<line x1="227.80" y1="460.40" x2="227.80" y2="463.60" stroke="#4a4a4a" stroke-width="0.8"/>
<line x1="181.50" y1="363.40" x2="181.50" y2="460.90" stroke="#808080" stroke-width="1.0"/>
<line x1="181.00" y1="460.40" x2="246.40" y2="460.40" stroke="#4a4a4a" stroke-width="1.0"/>
<line x1="178.30" y1="363.90" x2="181.50" y2="363.90" stroke="#808080" stroke-width="0.9"/>
<g transform="translate(177.20,367.93) scale(0.8,1)"><text x="0" y="0" font-size="11.2" text-anchor="end" fill="#1a1a1a">8</text></g>
<line x1="178.30" y1="387.90" x2="181.50" y2="387.90" stroke="#808080" stroke-width="0.9"/>
<g transform="translate(177.20,391.93) scale(0.8,1)"><text x="0" y="0" font-size="11.2" text-anchor="end" fill="#1a1a1a">6</text></g>
<line x1="178.30" y1="412.20" x2="181.50" y2="412.20" stroke="#808080" stroke-width="0.9"/>
<g transform="translate(177.20,416.23) scale(0.8,1)"><text x="0" y="0" font-size="11.2" text-anchor="end" fill="#1a1a1a">4</text></g>
<line x1="178.30" y1="436.40" x2="181.50" y2="436.40" stroke="#808080" stroke-width="0.9"/>
<g transform="translate(177.20,440.43) scale(0.8,1)"><text x="0" y="0" font-size="11.2" text-anchor="end" fill="#1a1a1a">2</text></g>
<line x1="178.30" y1="460.40" x2="181.50" y2="460.40" stroke="#808080" stroke-width="0.9"/>
<g transform="translate(177.20,464.43) scale(0.8,1)"><text x="0" y="0" font-size="11.2" text-anchor="end" fill="#1a1a1a">0</text></g>
<text x="142.30" y="313.50" font-size="12.8" text-anchor="start" fill="#111">e)</text>
<text transform="translate(153.75,409.90) rotate(-90)" x="0" y="0" font-size="9.5" text-anchor="middle" fill="#1a1a1a" textLength="67.60" lengthAdjust="spacingAndGlyphs">Fold  Change</text>
<text transform="translate(165.77,409.50) rotate(-90)" x="0" y="0" font-size="9.5" text-anchor="middle" fill="#1a1a1a" textLength="76.80" lengthAdjust="spacingAndGlyphs">(IFNB1/GUSB)</text>
<line x1="197.90" y1="364.00" x2="228.80" y2="364.00" stroke="#111" stroke-width="1.4"/>
<line x1="197.90" y1="360.20" x2="197.90" y2="367.80" stroke="#111" stroke-width="1.4"/>
<line x1="228.80" y1="360.20" x2="228.80" y2="367.80" stroke="#111" stroke-width="1.4"/>
<path d="M211.25,354.15L211.25,357.85M209.65,355.07L212.85,356.93M212.85,355.07L209.65,356.93M215.55,354.15L215.55,357.85M213.95,355.07L217.15,356.93M217.15,355.07L213.95,356.93" stroke="#111" stroke-width="1.05" stroke-linecap="round" fill="none"/>
<text x="213.40" y="334.30" font-size="8.4" text-anchor="middle" fill="#1a1a1a">IFNB1 expression</text>
<line x1="314.30" y1="366.40" x2="328.90" y2="366.40" stroke="#999999" stroke-width="1.0"/>
<line x1="314.30" y1="365.90" x2="314.30" y2="432.60" stroke="#999999" stroke-width="1.0"/>
<line x1="328.90" y1="365.90" x2="328.90" y2="369.60" stroke="#999999" stroke-width="1.0"/>
<text x="321.60" y="361.70" font-size="10.4" text-anchor="middle" fill="#1a1a1a">ns</text>
<line x1="314.30" y1="347.60" x2="343.50" y2="347.60" stroke="#999999" stroke-width="1.0"/>
<line x1="314.30" y1="347.10" x2="314.30" y2="352.60" stroke="#999999" stroke-width="1.0"/>
<line x1="343.50" y1="347.10" x2="343.50" y2="352.60" stroke="#999999" stroke-width="1.0"/>
<path d="M328.90,339.40L328.90,343.60M327.08,340.45L330.72,342.55M330.72,340.45L327.08,342.55" stroke="#111" stroke-width="1.16" stroke-linecap="round" fill="none"/>
<line x1="314.30" y1="335.50" x2="358.10" y2="335.50" stroke="#999999" stroke-width="1.0"/>
<line x1="314.30" y1="335.00" x2="314.30" y2="340.40" stroke="#999999" stroke-width="1.0"/>
<line x1="358.10" y1="335.00" x2="358.10" y2="374.00" stroke="#999999" stroke-width="1.0"/>
<text x="336.20" y="331.40" font-size="10.4" text-anchor="middle" fill="#1a1a1a">ns</text>
<line x1="316.10" y1="321.30" x2="372.50" y2="321.30" stroke="#999999" stroke-width="1.0"/>
<line x1="316.10" y1="320.80" x2="316.10" y2="325.20" stroke="#999999" stroke-width="1.0"/>
<line x1="372.50" y1="320.80" x2="372.50" y2="352.00" stroke="#999999" stroke-width="1.0"/>
<path d="M344.30,312.80L344.30,317.00M342.48,313.85L346.12,315.95M346.12,313.85L342.48,315.95" stroke="#111" stroke-width="1.16" stroke-linecap="round" fill="none"/>
<rect x="309.40" y="447.40" width="9.40" height="9.90" fill="#8a8a8a" stroke="#262626" stroke-width="0.9"/>
<line x1="314.10" y1="434.20" x2="314.10" y2="447.40" stroke="#333" stroke-width="0.7"/>
<line x1="311.80" y1="434.20" x2="316.40" y2="434.20" stroke="#333" stroke-width="0.8"/>
<circle cx="314.10" cy="438.50" r="1.5" fill="#111"/>
<circle cx="314.10" cy="444.50" r="1.5" fill="#111"/>
<circle cx="310.90" cy="453.40" r="1.5" fill="#111"/>
<circle cx="317.30" cy="453.10" r="1.5" fill="#111"/>
<line x1="314.10" y1="457.30" x2="314.10" y2="460.50" stroke="#4a4a4a" stroke-width="0.8"/>
<rect x="324.50" y="423.40" width="9.40" height="33.90" fill="#9d93c6" stroke="#262626" stroke-width="0.9"/>
<line x1="329.20" y1="387.90" x2="329.20" y2="457.30" stroke="#333" stroke-width="0.7"/>
<line x1="326.90" y1="387.90" x2="331.50" y2="387.90" stroke="#333" stroke-width="0.8"/>
<line x1="326.90" y1="457.30" x2="331.50" y2="457.30" stroke="#333" stroke-width="0.8"/>
<circle cx="329.20" cy="372.90" r="1.5" fill="#3d2690"/>
<circle cx="329.20" cy="430.80" r="1.5" fill="#3d2690"/>
<circle cx="329.20" cy="436.80" r="1.5" fill="#3d2690"/>
<circle cx="329.20" cy="451.20" r="1.5" fill="#3d2690"/>
<line x1="329.20" y1="457.30" x2="329.20" y2="460.50" stroke="#4a4a4a" stroke-width="0.8"/>
<rect x="338.60" y="411.80" width="9.40" height="45.50" fill="#c690d1" stroke="#262626" stroke-width="0.9"/>
<line x1="343.30" y1="370.90" x2="343.30" y2="451.40" stroke="#333" stroke-width="0.7"/>
<line x1="341.00" y1="370.90" x2="345.60" y2="370.90" stroke="#333" stroke-width="0.8"/>
<line x1="341.00" y1="451.40" x2="345.60" y2="451.40" stroke="#333" stroke-width="0.8"/>
<circle cx="343.30" cy="356.70" r="1.5" fill="#8e34a8"/>
<circle cx="343.30" cy="406.40" r="1.5" fill="#8e34a8"/>
<circle cx="343.30" cy="436.80" r="1.5" fill="#8e34a8"/>
<circle cx="343.30" cy="445.20" r="1.5" fill="#8e34a8"/>
<line x1="343.30" y1="457.30" x2="343.30" y2="460.50" stroke="#4a4a4a" stroke-width="0.8"/>
<rect x="353.10" y="424.20" width="9.40" height="33.10" fill="#eda3b9" stroke="#262626" stroke-width="0.9"/>
<line x1="357.80" y1="395.20" x2="357.80" y2="452.20" stroke="#333" stroke-width="0.7"/>
<line x1="355.50" y1="395.20" x2="360.10" y2="395.20" stroke="#333" stroke-width="0.8"/>
<line x1="355.50" y1="452.20" x2="360.10" y2="452.20" stroke="#333" stroke-width="0.8"/>
<circle cx="357.80" cy="381.30" r="1.5" fill="#e63d6f"/>
<circle cx="357.80" cy="434.80" r="1.5" fill="#e63d6f"/>
<circle cx="357.80" cy="437.80" r="1.5" fill="#e63d6f"/>
<circle cx="357.80" cy="441.20" r="1.5" fill="#e63d6f"/>
<line x1="357.80" y1="457.30" x2="357.80" y2="460.50" stroke="#4a4a4a" stroke-width="0.8"/>
<rect x="367.80" y="415.40" width="9.40" height="41.90" fill="#f7cfb5" stroke="#262626" stroke-width="0.9"/>
<line x1="372.50" y1="376.90" x2="372.50" y2="452.20" stroke="#333" stroke-width="0.7"/>
<line x1="370.20" y1="376.90" x2="374.80" y2="376.90" stroke="#333" stroke-width="0.8"/>
<line x1="370.20" y1="452.20" x2="374.80" y2="452.20" stroke="#333" stroke-width="0.8"/>
<circle cx="372.50" cy="358.90" r="1.5" fill="#f59a60"/>
<circle cx="372.50" cy="428.40" r="1.5" fill="#f59a60"/>
<circle cx="372.50" cy="433.20" r="1.5" fill="#f59a60"/>
<circle cx="372.50" cy="437.80" r="1.5" fill="#f59a60"/>
<line x1="372.50" y1="457.30" x2="372.50" y2="460.50" stroke="#4a4a4a" stroke-width="0.8"/>
<line x1="304.60" y1="345.00" x2="304.60" y2="457.80" stroke="#4a4a4a" stroke-width="1.0"/>
<line x1="304.10" y1="457.30" x2="382.00" y2="457.30" stroke="#4a4a4a" stroke-width="1.0"/>
<line x1="301.40" y1="345.50" x2="304.60" y2="345.50" stroke="#4a4a4a" stroke-width="0.9"/>
<text x="300.30" y="349.39" font-size="10.8" text-anchor="end" fill="#1a1a1a">30</text>
<line x1="301.40" y1="382.90" x2="304.60" y2="382.90" stroke="#4a4a4a" stroke-width="0.9"/>
<text x="300.30" y="386.79" font-size="10.8" text-anchor="end" fill="#1a1a1a">20</text>
<line x1="301.40" y1="420.20" x2="304.60" y2="420.20" stroke="#4a4a4a" stroke-width="0.9"/>
<text x="300.30" y="424.09" font-size="10.8" text-anchor="end" fill="#1a1a1a">10</text>
<line x1="301.40" y1="457.30" x2="304.60" y2="457.30" stroke="#4a4a4a" stroke-width="0.9"/>
<text x="300.30" y="461.19" font-size="10.8" text-anchor="end" fill="#1a1a1a">0</text>
<text x="264.90" y="313.70" font-size="12.3" text-anchor="start" fill="#111">f)</text>
<text transform="translate(270.81,398.90) rotate(-90)" x="0" y="0" font-size="10.3" text-anchor="middle" fill="#1a1a1a" textLength="24.40" lengthAdjust="spacingAndGlyphs">IL- 1β</text>
<text transform="translate(283.17,398.90) rotate(-90)" x="0" y="0" font-size="9.87" text-anchor="middle" fill="#1a1a1a" textLength="130.00" lengthAdjust="spacingAndGlyphs">Protein concentration (pg/mL)</text>
<line x1="447.30" y1="431.00" x2="461.60" y2="431.00" stroke="#999999" stroke-width="1.0"/>
<line x1="447.30" y1="430.50" x2="447.30" y2="434.00" stroke="#999999" stroke-width="1.0"/>
<line x1="461.60" y1="430.50" x2="461.60" y2="433.40" stroke="#999999" stroke-width="1.0"/>
<text x="454.45" y="426.30" font-size="10.4" text-anchor="middle" fill="#1a1a1a">ns</text>
<line x1="447.30" y1="404.70" x2="476.10" y2="404.70" stroke="#999999" stroke-width="1.0"/>
<line x1="447.30" y1="404.20" x2="447.30" y2="417.00" stroke="#999999" stroke-width="1.0"/>
<line x1="476.10" y1="404.20" x2="476.10" y2="422.80" stroke="#999999" stroke-width="1.0"/>
<path d="M461.70,395.90L461.70,400.30M459.79,397.00L463.61,399.20M463.61,397.00L459.79,399.20" stroke="#111" stroke-width="1.21" stroke-linecap="round" fill="none"/>
<line x1="447.30" y1="377.50" x2="490.60" y2="377.50" stroke="#999999" stroke-width="1.0"/>
<line x1="447.30" y1="377.00" x2="447.30" y2="382.50" stroke="#999999" stroke-width="1.0"/>
<line x1="490.60" y1="377.00" x2="490.60" y2="382.50" stroke="#999999" stroke-width="1.0"/>
<path d="M462.35,370.85L462.35,374.35M460.83,371.73L463.87,373.48M463.87,371.73L460.83,373.48M466.75,370.85L466.75,374.35M465.23,371.73L468.27,373.48M468.27,371.73L465.23,373.48M471.15,370.85L471.15,374.35M469.63,371.73L472.67,373.48M472.67,371.73L469.63,373.48M475.55,370.85L475.55,374.35M474.03,371.73L477.07,373.48M477.07,371.73L474.03,373.48" stroke="#111" stroke-width="0.96" stroke-linecap="round" fill="none"/>
<line x1="447.30" y1="336.90" x2="504.90" y2="336.90" stroke="#999999" stroke-width="1.0"/>
<line x1="447.30" y1="336.40" x2="447.30" y2="371.00" stroke="#999999" stroke-width="1.0"/>
<line x1="504.90" y1="336.40" x2="504.90" y2="341.40" stroke="#999999" stroke-width="1.0"/>
<path d="M469.50,330.05L469.50,333.55M467.98,330.93L471.02,332.68M471.02,330.93L467.98,332.68M473.90,330.05L473.90,333.55M472.38,330.93L475.42,332.68M475.42,330.93L472.38,332.68M478.30,330.05L478.30,333.55M476.78,330.93L479.82,332.68M479.82,330.93L476.78,332.68M482.70,330.05L482.70,333.55M481.18,330.93L484.22,332.68M484.22,330.93L481.18,332.68" stroke="#111" stroke-width="0.96" stroke-linecap="round" fill="none"/>
<rect x="443.40" y="451.00" width="8.80" height="5.50" fill="#8a8a8a" stroke="#262626" stroke-width="0.9"/>
<circle cx="444.90" cy="449.90" r="1.5" fill="#111"/>
<circle cx="447.30" cy="451.50" r="1.5" fill="#111"/>
<circle cx="450.60" cy="452.40" r="1.5" fill="#111"/>
<circle cx="444.80" cy="453.50" r="1.5" fill="#111"/>
<circle cx="448.30" cy="453.80" r="1.5" fill="#111"/>
<circle cx="450.80" cy="453.30" r="1.5" fill="#111"/>
<line x1="447.80" y1="456.50" x2="447.80" y2="459.70" stroke="#4a4a4a" stroke-width="0.8"/>
<rect x="457.30" y="443.60" width="9.20" height="12.90" fill="#9d93c6" stroke="#262626" stroke-width="0.9"/>
<line x1="461.90" y1="437.60" x2="461.90" y2="448.20" stroke="#333" stroke-width="0.7"/>
<line x1="459.60" y1="437.60" x2="464.20" y2="437.60" stroke="#333" stroke-width="0.8"/>
<line x1="459.60" y1="448.20" x2="464.20" y2="448.20" stroke="#333" stroke-width="0.8"/>
<circle cx="461.90" cy="437.10" r="1.5" fill="#3d2690"/>
<circle cx="459.10" cy="445.80" r="1.5" fill="#3d2690"/>
<circle cx="464.70" cy="445.80" r="1.5" fill="#3d2690"/>
<circle cx="461.90" cy="446.60" r="1.5" fill="#3d2690"/>
<line x1="461.90" y1="456.50" x2="461.90" y2="459.70" stroke="#4a4a4a" stroke-width="0.8"/>
<rect x="471.50" y="436.70" width="9.20" height="19.80" fill="#c690d1" stroke="#262626" stroke-width="0.9"/>
<line x1="476.10" y1="428.80" x2="476.10" y2="444.10" stroke="#333" stroke-width="0.7"/>
<line x1="473.80" y1="428.80" x2="478.40" y2="428.80" stroke="#333" stroke-width="0.8"/>
<line x1="473.80" y1="444.10" x2="478.40" y2="444.10" stroke="#333" stroke-width="0.8"/>
<circle cx="476.10" cy="426.00" r="1.5" fill="#8e34a8"/>
<circle cx="473.10" cy="438.00" r="1.5" fill="#8e34a8"/>
<circle cx="479.10" cy="441.70" r="1.5" fill="#8e34a8"/>
<circle cx="476.10" cy="443.30" r="1.5" fill="#8e34a8"/>
<line x1="476.10" y1="456.50" x2="476.10" y2="459.70" stroke="#4a4a4a" stroke-width="0.8"/>
<rect x="486.30" y="398.10" width="8.80" height="58.40" fill="#eda3b9" stroke="#262626" stroke-width="0.9"/>
<line x1="490.70" y1="389.10" x2="490.70" y2="405.50" stroke="#333" stroke-width="0.7"/>
<line x1="488.40" y1="389.10" x2="493.00" y2="389.10" stroke="#333" stroke-width="0.8"/>
<line x1="488.40" y1="405.50" x2="493.00" y2="405.50" stroke="#333" stroke-width="0.8"/>
<circle cx="490.70" cy="387.40" r="1.5" fill="#e63d6f"/>
<circle cx="490.70" cy="394.80" r="1.5" fill="#e63d6f"/>
<circle cx="487.40" cy="403.50" r="1.5" fill="#e63d6f"/>
<circle cx="494.00" cy="403.50" r="1.5" fill="#e63d6f"/>
<line x1="490.70" y1="456.50" x2="490.70" y2="459.70" stroke="#4a4a4a" stroke-width="0.8"/>
<rect x="500.40" y="375.90" width="9.40" height="80.60" fill="#f7cfb5" stroke="#262626" stroke-width="0.9"/>
<line x1="505.10" y1="356.20" x2="505.10" y2="394.80" stroke="#333" stroke-width="0.7"/>
<line x1="502.80" y1="356.20" x2="507.40" y2="356.20" stroke="#333" stroke-width="0.8"/>
<line x1="502.80" y1="394.80" x2="507.40" y2="394.80" stroke="#333" stroke-width="0.8"/>
<circle cx="505.10" cy="347.10" r="1.5" fill="#f59a60"/>
<circle cx="501.80" cy="382.50" r="1.5" fill="#f59a60"/>
<circle cx="508.40" cy="382.80" r="1.5" fill="#f59a60"/>
<circle cx="505.10" cy="389.10" r="1.5" fill="#f59a60"/>
<line x1="505.10" y1="456.50" x2="505.10" y2="459.70" stroke="#4a4a4a" stroke-width="0.8"/>
<line x1="438.10" y1="336.40" x2="438.10" y2="457.00" stroke="#4a4a4a" stroke-width="1.0"/>
<line x1="437.60" y1="456.50" x2="515.00" y2="456.50" stroke="#4a4a4a" stroke-width="1.0"/>
<line x1="434.90" y1="336.90" x2="438.10" y2="336.90" stroke="#4a4a4a" stroke-width="0.9"/>
<text x="433.80" y="340.75" font-size="10.7" text-anchor="end" fill="#1a1a1a">4000</text>
<line x1="434.90" y1="366.90" x2="438.10" y2="366.90" stroke="#4a4a4a" stroke-width="0.9"/>
<text x="433.80" y="370.75" font-size="10.7" text-anchor="end" fill="#1a1a1a">3000</text>
<line x1="434.90" y1="396.80" x2="438.10" y2="396.80" stroke="#4a4a4a" stroke-width="0.9"/>
<text x="433.80" y="400.65" font-size="10.7" text-anchor="end" fill="#1a1a1a">2000</text>
<line x1="434.90" y1="426.70" x2="438.10" y2="426.70" stroke="#4a4a4a" stroke-width="0.9"/>
<text x="433.80" y="430.55" font-size="10.7" text-anchor="end" fill="#1a1a1a">1000</text>
<line x1="434.90" y1="456.50" x2="438.10" y2="456.50" stroke="#4a4a4a" stroke-width="0.9"/>
<text x="433.80" y="460.35" font-size="10.7" text-anchor="end" fill="#1a1a1a">0</text>
<text x="390.50" y="314.20" font-size="12.3" text-anchor="start" fill="#111">g)</text>
<text transform="translate(393.75,394.30) rotate(-90)" x="0" y="0" font-size="10.7" text-anchor="middle" fill="#1a1a1a" textLength="17.30" lengthAdjust="spacingAndGlyphs">IL-6</text>
<text transform="translate(405.76,394.00) rotate(-90)" x="0" y="0" font-size="10.6" text-anchor="middle" fill="#1a1a1a" textLength="139.80" lengthAdjust="spacingAndGlyphs">Protein concentration (pg/mL)</text>
<line x1="584.90" y1="372.50" x2="599.20" y2="372.50" stroke="#999999" stroke-width="1.0"/>
<line x1="584.90" y1="372.00" x2="584.90" y2="408.00" stroke="#999999" stroke-width="1.0"/>
<line x1="599.20" y1="372.00" x2="599.20" y2="373.60" stroke="#999999" stroke-width="1.0"/>
<text x="592.05" y="367.00" font-size="10.4" text-anchor="middle" fill="#1a1a1a">ns</text>
<line x1="585.30" y1="353.40" x2="613.00" y2="353.40" stroke="#999999" stroke-width="1.0"/>
<line x1="585.30" y1="352.90" x2="585.30" y2="359.00" stroke="#999999" stroke-width="1.0"/>
<line x1="613.00" y1="352.90" x2="613.00" y2="369.00" stroke="#999999" stroke-width="1.0"/>
<text x="599.15" y="348.30" font-size="10.4" text-anchor="middle" fill="#1a1a1a">ns</text>
<line x1="585.30" y1="338.00" x2="627.00" y2="338.00" stroke="#999999" stroke-width="1.0"/>
<line x1="585.30" y1="337.50" x2="585.30" y2="344.50" stroke="#999999" stroke-width="1.0"/>
<line x1="627.00" y1="337.50" x2="627.00" y2="381.80" stroke="#999999" stroke-width="1.0"/>
<text x="606.15" y="333.10" font-size="10.4" text-anchor="middle" fill="#1a1a1a">ns</text>
<line x1="585.50" y1="323.80" x2="641.20" y2="323.80" stroke="#999999" stroke-width="1.0"/>
<line x1="585.50" y1="323.30" x2="585.50" y2="330.40" stroke="#999999" stroke-width="1.0"/>
<line x1="641.20" y1="323.30" x2="641.20" y2="357.30" stroke="#999999" stroke-width="1.0"/>
<path d="M613.35,316.90L613.35,319.90M612.05,317.65L614.65,319.15M614.65,317.65L612.05,319.15" stroke="#111" stroke-width="0.90" stroke-linecap="round" fill="none"/>
<rect x="580.30" y="425.50" width="9.40" height="6.90" fill="#8a8a8a" stroke="#262626" stroke-width="0.9"/>
<line x1="585.00" y1="418.20" x2="585.00" y2="425.50" stroke="#333" stroke-width="0.7"/>
<line x1="582.70" y1="418.20" x2="587.30" y2="418.20" stroke="#333" stroke-width="0.8"/>
<circle cx="585.00" cy="415.60" r="1.5" fill="#111"/>
<circle cx="585.00" cy="424.10" r="1.5" fill="#111"/>
<circle cx="581.70" cy="430.40" r="1.5" fill="#111"/>
<circle cx="588.30" cy="430.00" r="1.5" fill="#111"/>
<line x1="585.00" y1="455.50" x2="585.00" y2="458.70" stroke="#4a4a4a" stroke-width="0.8"/>
<rect x="594.20" y="411.60" width="9.40" height="20.80" fill="#9d93c6" stroke="#262626" stroke-width="0.9"/>
<line x1="598.90" y1="388.80" x2="598.90" y2="433.20" stroke="#333" stroke-width="0.7"/>
<line x1="596.60" y1="388.80" x2="601.20" y2="388.80" stroke="#333" stroke-width="0.8"/>
<line x1="596.60" y1="433.20" x2="601.20" y2="433.20" stroke="#333" stroke-width="0.8"/>
<circle cx="598.90" cy="380.70" r="1.5" fill="#3d2690"/>
<circle cx="598.90" cy="408.40" r="1.5" fill="#3d2690"/>
<circle cx="595.90" cy="428.40" r="1.5" fill="#3d2690"/>
<circle cx="601.90" cy="428.40" r="1.5" fill="#3d2690"/>
<line x1="598.90" y1="455.50" x2="598.90" y2="458.70" stroke="#4a4a4a" stroke-width="0.8"/>
<rect x="608.30" y="408.40" width="9.40" height="24.00" fill="#c690d1" stroke="#262626" stroke-width="0.9"/>
<line x1="613.00" y1="385.70" x2="613.00" y2="431.90" stroke="#333" stroke-width="0.7"/>
<line x1="610.70" y1="385.70" x2="615.30" y2="385.70" stroke="#333" stroke-width="0.8"/>
<line x1="610.70" y1="431.90" x2="615.30" y2="431.90" stroke="#333" stroke-width="0.8"/>
<circle cx="613.00" cy="376.80" r="1.5" fill="#8e34a8"/>
<circle cx="613.00" cy="406.80" r="1.5" fill="#8e34a8"/>
<circle cx="613.00" cy="422.40" r="1.5" fill="#8e34a8"/>
<circle cx="613.00" cy="426.50" r="1.5" fill="#8e34a8"/>
<line x1="613.00" y1="455.50" x2="613.00" y2="458.70" stroke="#4a4a4a" stroke-width="0.8"/>
<rect x="622.50" y="417.00" width="9.40" height="15.40" fill="#eda3b9" stroke="#262626" stroke-width="0.9"/>
<line x1="627.20" y1="399.50" x2="627.20" y2="434.00" stroke="#333" stroke-width="0.7"/>
<line x1="624.90" y1="399.50" x2="629.50" y2="399.50" stroke="#333" stroke-width="0.8"/>
<line x1="624.90" y1="434.00" x2="629.50" y2="434.00" stroke="#333" stroke-width="0.8"/>
<circle cx="627.20" cy="391.50" r="1.5" fill="#e63d6f"/>
<circle cx="627.20" cy="426.50" r="1.5" fill="#e63d6f"/>
<circle cx="624.20" cy="428.40" r="1.5" fill="#e63d6f"/>
<circle cx="630.20" cy="428.40" r="1.5" fill="#e63d6f"/>
<line x1="627.20" y1="455.50" x2="627.20" y2="458.70" stroke="#4a4a4a" stroke-width="0.8"/>
<rect x="636.10" y="407.00" width="9.40" height="25.40" fill="#f7cfb5" stroke="#262626" stroke-width="0.9"/>
<line x1="640.80" y1="376.80" x2="640.80" y2="436.00" stroke="#333" stroke-width="0.7"/>
<line x1="638.50" y1="376.80" x2="643.10" y2="376.80" stroke="#333" stroke-width="0.8"/>
<line x1="638.50" y1="436.00" x2="643.10" y2="436.00" stroke="#333" stroke-width="0.8"/>
<circle cx="640.80" cy="362.60" r="1.5" fill="#f59a60"/>
<circle cx="640.80" cy="412.40" r="1.5" fill="#f59a60"/>
<circle cx="640.80" cy="423.20" r="1.5" fill="#f59a60"/>
<circle cx="640.80" cy="428.40" r="1.5" fill="#f59a60"/>
<line x1="640.80" y1="455.50" x2="640.80" y2="458.70" stroke="#4a4a4a" stroke-width="0.8"/>
<line x1="575.60" y1="339.50" x2="575.60" y2="456.00" stroke="#4a4a4a" stroke-width="1.0"/>
<line x1="575.10" y1="455.50" x2="650.00" y2="455.50" stroke="#4a4a4a" stroke-width="1.0"/>
<line x1="575.60" y1="432.40" x2="650.00" y2="432.40" stroke="#4a4a4a" stroke-width="1.0"/>
<line x1="572.40" y1="340.00" x2="575.60" y2="340.00" stroke="#4a4a4a" stroke-width="0.9"/>
<text x="571.30" y="343.82" font-size="10.6" text-anchor="end" fill="#1a1a1a">400</text>
<line x1="572.40" y1="363.20" x2="575.60" y2="363.20" stroke="#4a4a4a" stroke-width="0.9"/>
<text x="571.30" y="367.02" font-size="10.6" text-anchor="end" fill="#1a1a1a">300</text>
<line x1="572.40" y1="386.20" x2="575.60" y2="386.20" stroke="#4a4a4a" stroke-width="0.9"/>
<text x="571.30" y="390.02" font-size="10.6" text-anchor="end" fill="#1a1a1a">200</text>
<line x1="572.40" y1="409.20" x2="575.60" y2="409.20" stroke="#4a4a4a" stroke-width="0.9"/>
<text x="571.30" y="413.02" font-size="10.6" text-anchor="end" fill="#1a1a1a">100</text>
<line x1="572.40" y1="432.40" x2="575.60" y2="432.40" stroke="#4a4a4a" stroke-width="0.9"/>
<text x="571.30" y="436.22" font-size="10.6" text-anchor="end" fill="#1a1a1a">0</text>
<line x1="572.40" y1="455.50" x2="575.60" y2="455.50" stroke="#4a4a4a" stroke-width="0.9"/>
<text x="571.30" y="459.32" font-size="10.6" text-anchor="end" fill="#1a1a1a">-100</text>
<text x="516.10" y="316.60" font-size="12.2" text-anchor="start" fill="#111">h)</text>
<text transform="translate(535.37,395.00) rotate(-90)" x="0" y="0" font-size="10.2" text-anchor="middle" fill="#1a1a1a" textLength="53.20" lengthAdjust="spacingAndGlyphs">IL-8/CXCL8</text>
<text transform="translate(546.58,395.00) rotate(-90)" x="0" y="0" font-size="10.3" text-anchor="middle" fill="#1a1a1a" textLength="135.70" lengthAdjust="spacingAndGlyphs">Protein concentration (pg/mL)</text>
<line x1="62.00" y1="555.10" x2="76.60" y2="555.10" stroke="#999999" stroke-width="1.0"/>
<line x1="62.00" y1="554.60" x2="62.00" y2="617.50" stroke="#999999" stroke-width="1.0"/>
<line x1="76.60" y1="554.60" x2="76.60" y2="560.50" stroke="#999999" stroke-width="1.0"/>
<path d="M69.30,546.40L69.30,551.60M67.05,547.70L71.55,550.30M71.55,547.70L67.05,550.30" stroke="#111" stroke-width="1.43" stroke-linecap="round" fill="none"/>
<line x1="62.00" y1="542.30" x2="91.50" y2="542.30" stroke="#999999" stroke-width="1.0"/>
<line x1="62.00" y1="541.80" x2="62.00" y2="550.20" stroke="#999999" stroke-width="1.0"/>
<line x1="91.50" y1="541.80" x2="91.50" y2="546.70" stroke="#999999" stroke-width="1.0"/>
<path d="M73.50,533.00L73.50,538.20M71.25,534.30L75.75,536.90M75.75,534.30L71.25,536.90M80.00,533.00L80.00,538.20M77.75,534.30L82.25,536.90M82.25,534.30L77.75,536.90" stroke="#111" stroke-width="1.43" stroke-linecap="round" fill="none"/>
<line x1="62.00" y1="529.20" x2="106.30" y2="529.20" stroke="#999999" stroke-width="1.0"/>
<line x1="62.00" y1="528.70" x2="62.00" y2="535.60" stroke="#999999" stroke-width="1.0"/>
<line x1="106.30" y1="528.70" x2="106.30" y2="554.30" stroke="#999999" stroke-width="1.0"/>
<path d="M84.15,519.80L84.15,525.00M81.90,521.10L86.40,523.70M86.40,521.10L81.90,523.70" stroke="#111" stroke-width="1.43" stroke-linecap="round" fill="none"/>
<line x1="62.00" y1="518.10" x2="120.70" y2="518.10" stroke="#999999" stroke-width="1.0"/>
<line x1="62.00" y1="517.60" x2="62.00" y2="524.50" stroke="#999999" stroke-width="1.0"/>
<line x1="120.70" y1="517.60" x2="120.70" y2="554.70" stroke="#999999" stroke-width="1.0"/>
<path d="M91.35,508.70L91.35,513.90M89.10,510.00L93.60,512.60M93.60,510.00L89.10,512.60" stroke="#111" stroke-width="1.43" stroke-linecap="round" fill="none"/>
<rect x="56.90" y="629.80" width="10.00" height="1.60" fill="#8a8a8a" stroke="#262626" stroke-width="0.9"/>
<line x1="61.90" y1="626.50" x2="61.90" y2="629.80" stroke="#333" stroke-width="0.7"/>
<line x1="59.60" y1="626.50" x2="64.20" y2="626.50" stroke="#333" stroke-width="0.8"/>
<circle cx="58.70" cy="631.60" r="1.5" fill="#111"/>
<circle cx="61.90" cy="629.70" r="1.5" fill="#111"/>
<circle cx="65.30" cy="626.30" r="1.5" fill="#111"/>
<circle cx="65.40" cy="631.20" r="1.5" fill="#111"/>
<line x1="61.90" y1="662.00" x2="61.90" y2="665.20" stroke="#4a4a4a" stroke-width="0.8"/>
<rect x="71.60" y="601.50" width="10.00" height="29.90" fill="#9d93c6" stroke="#262626" stroke-width="0.9"/>
<line x1="76.60" y1="574.20" x2="76.60" y2="628.00" stroke="#333" stroke-width="0.7"/>
<line x1="74.30" y1="574.20" x2="78.90" y2="574.20" stroke="#333" stroke-width="0.8"/>
<line x1="74.30" y1="628.00" x2="78.90" y2="628.00" stroke="#333" stroke-width="0.8"/>
<circle cx="76.60" cy="562.70" r="1.5" fill="#3d2690"/>
<circle cx="76.60" cy="602.20" r="1.5" fill="#3d2690"/>
<circle cx="73.60" cy="619.30" r="1.5" fill="#3d2690"/>
<circle cx="79.60" cy="619.30" r="1.5" fill="#3d2690"/>
<line x1="76.60" y1="662.00" x2="76.60" y2="665.20" stroke="#4a4a4a" stroke-width="0.8"/>
<rect x="86.50" y="598.20" width="10.00" height="33.20" fill="#c690d1" stroke="#262626" stroke-width="0.9"/>
<line x1="91.50" y1="566.60" x2="91.50" y2="629.20" stroke="#333" stroke-width="0.7"/>
<line x1="89.20" y1="566.60" x2="93.80" y2="566.60" stroke="#333" stroke-width="0.8"/>
<line x1="89.20" y1="629.20" x2="93.80" y2="629.20" stroke="#333" stroke-width="0.8"/>
<circle cx="91.50" cy="553.10" r="1.5" fill="#8e34a8"/>
<circle cx="91.50" cy="600.50" r="1.5" fill="#8e34a8"/>
<circle cx="88.50" cy="619.30" r="1.5" fill="#8e34a8"/>
<circle cx="94.50" cy="619.30" r="1.5" fill="#8e34a8"/>
<line x1="91.50" y1="662.00" x2="91.50" y2="665.20" stroke="#4a4a4a" stroke-width="0.8"/>
<rect x="101.10" y="601.50" width="10.00" height="29.90" fill="#eda3b9" stroke="#262626" stroke-width="0.9"/>
<line x1="106.10" y1="573.60" x2="106.10" y2="628.00" stroke="#333" stroke-width="0.7"/>
<line x1="103.80" y1="573.60" x2="108.40" y2="573.60" stroke="#333" stroke-width="0.8"/>
<line x1="103.80" y1="628.00" x2="108.40" y2="628.00" stroke="#333" stroke-width="0.8"/>
<circle cx="106.10" cy="561.90" r="1.5" fill="#e63d6f"/>
<circle cx="106.10" cy="602.70" r="1.5" fill="#e63d6f"/>
<circle cx="103.10" cy="619.30" r="1.5" fill="#e63d6f"/>
<circle cx="109.10" cy="619.30" r="1.5" fill="#e63d6f"/>
<line x1="106.10" y1="662.00" x2="106.10" y2="665.20" stroke="#4a4a4a" stroke-width="0.8"/>
<rect x="115.70" y="600.30" width="10.00" height="31.10" fill="#f7cfb5" stroke="#262626" stroke-width="0.9"/>
<line x1="120.70" y1="572.20" x2="120.70" y2="628.00" stroke="#333" stroke-width="0.7"/>
<line x1="118.40" y1="572.20" x2="123.00" y2="572.20" stroke="#333" stroke-width="0.8"/>
<line x1="118.40" y1="628.00" x2="123.00" y2="628.00" stroke="#333" stroke-width="0.8"/>
<circle cx="120.70" cy="560.10" r="1.5" fill="#f59a60"/>
<circle cx="120.70" cy="601.00" r="1.5" fill="#f59a60"/>
<circle cx="117.70" cy="619.30" r="1.5" fill="#f59a60"/>
<circle cx="123.70" cy="619.30" r="1.5" fill="#f59a60"/>
<line x1="120.70" y1="662.00" x2="120.70" y2="665.20" stroke="#4a4a4a" stroke-width="0.8"/>
<line x1="52.40" y1="539.10" x2="52.40" y2="662.50" stroke="#4a4a4a" stroke-width="1.0"/>
<line x1="51.90" y1="662.00" x2="131.00" y2="662.00" stroke="#4a4a4a" stroke-width="1.0"/>
<line x1="52.40" y1="631.40" x2="131.00" y2="631.40" stroke="#4a4a4a" stroke-width="1.0"/>
<line x1="49.20" y1="539.60" x2="52.40" y2="539.60" stroke="#4a4a4a" stroke-width="0.9"/>
<text x="48.10" y="543.49" font-size="10.8" text-anchor="end" fill="#1a1a1a">300</text>
<line x1="49.20" y1="570.20" x2="52.40" y2="570.20" stroke="#4a4a4a" stroke-width="0.9"/>
<text x="48.10" y="574.09" font-size="10.8" text-anchor="end" fill="#1a1a1a">200</text>
<line x1="49.20" y1="600.80" x2="52.40" y2="600.80" stroke="#4a4a4a" stroke-width="0.9"/>
<text x="48.10" y="604.69" font-size="10.8" text-anchor="end" fill="#1a1a1a">100</text>
<line x1="49.20" y1="631.40" x2="52.40" y2="631.40" stroke="#4a4a4a" stroke-width="0.9"/>
<text x="48.10" y="635.29" font-size="10.8" text-anchor="end" fill="#1a1a1a">0</text>
<line x1="49.20" y1="662.00" x2="52.40" y2="662.00" stroke="#4a4a4a" stroke-width="0.9"/>
<text x="48.10" y="665.89" font-size="10.8" text-anchor="end" fill="#1a1a1a">-100</text>
<text x="25.00" y="511.20" font-size="12.3" text-anchor="start" fill="#111">i)</text>
<text transform="translate(9.05,598.20) rotate(-90)" x="0" y="0" font-size="10.7" text-anchor="middle" fill="#1a1a1a" textLength="24.00" lengthAdjust="spacingAndGlyphs">IL-10</text>
<text transform="translate(21.52,598.20) rotate(-90)" x="0" y="0" font-size="10.85" text-anchor="middle" fill="#1a1a1a" textLength="142.90" lengthAdjust="spacingAndGlyphs">Protein concentration (pg/mL)</text>
<line x1="199.40" y1="580.40" x2="213.90" y2="580.40" stroke="#999999" stroke-width="1.0"/>
<line x1="199.40" y1="579.90" x2="199.40" y2="630.30" stroke="#999999" stroke-width="1.0"/>
<line x1="213.90" y1="579.90" x2="213.90" y2="582.30" stroke="#999999" stroke-width="1.0"/>
<path d="M206.65,571.70L206.65,576.50M204.57,572.90L208.73,575.30M208.73,572.90L204.57,575.30" stroke="#111" stroke-width="1.32" stroke-linecap="round" fill="none"/>
<line x1="199.40" y1="554.50" x2="228.30" y2="554.50" stroke="#999999" stroke-width="1.0"/>
<line x1="199.40" y1="554.00" x2="199.40" y2="566.60" stroke="#999999" stroke-width="1.0"/>
<line x1="228.30" y1="554.00" x2="228.30" y2="556.40" stroke="#999999" stroke-width="1.0"/>
<path d="M209.35,547.00L209.35,550.80M207.70,547.95L211.00,549.85M211.00,547.95L207.70,549.85M213.85,547.00L213.85,550.80M212.20,547.95L215.50,549.85M215.50,547.95L212.20,549.85M218.35,547.00L218.35,550.80M216.70,547.95L220.00,549.85M220.00,547.95L216.70,549.85" stroke="#111" stroke-width="1.04" stroke-linecap="round" fill="none"/>
<line x1="199.40" y1="539.50" x2="242.90" y2="539.50" stroke="#999999" stroke-width="1.0"/>
<line x1="199.40" y1="539.00" x2="199.40" y2="548.50" stroke="#999999" stroke-width="1.0"/>
<line x1="242.90" y1="539.00" x2="242.90" y2="563.50" stroke="#999999" stroke-width="1.0"/>
<path d="M218.95,532.20L218.95,536.00M217.30,533.15L220.60,535.05M220.60,533.15L217.30,535.05M223.35,532.20L223.35,536.00M221.70,533.15L225.00,535.05M225.00,533.15L221.70,535.05" stroke="#111" stroke-width="1.04" stroke-linecap="round" fill="none"/>
<line x1="199.40" y1="526.30" x2="257.70" y2="526.30" stroke="#999999" stroke-width="1.0"/>
<line x1="199.40" y1="525.80" x2="199.40" y2="535.70" stroke="#999999" stroke-width="1.0"/>
<line x1="257.70" y1="525.80" x2="257.70" y2="549.40" stroke="#999999" stroke-width="1.0"/>
<path d="M226.25,519.20L226.25,523.20M224.52,520.20L227.98,522.20M227.98,520.20L224.52,522.20M230.85,519.20L230.85,523.20M229.12,520.20L232.58,522.20M232.58,520.20L229.12,522.20" stroke="#111" stroke-width="1.10" stroke-linecap="round" fill="none"/>
<rect x="195.00" y="645.10" width="9.00" height="14.80" fill="#8a8a8a" stroke="#262626" stroke-width="0.9"/>
<line x1="199.50" y1="636.70" x2="199.50" y2="652.40" stroke="#333" stroke-width="0.7"/>
<line x1="197.20" y1="636.70" x2="201.80" y2="636.70" stroke="#333" stroke-width="0.8"/>
<line x1="197.20" y1="652.40" x2="201.80" y2="652.40" stroke="#333" stroke-width="0.8"/>
<circle cx="196.30" cy="639.90" r="1.5" fill="#111"/>
<circle cx="202.90" cy="637.60" r="1.5" fill="#111"/>
<circle cx="199.50" cy="645.70" r="1.5" fill="#111"/>
<circle cx="199.50" cy="654.80" r="1.5" fill="#111"/>
<line x1="199.50" y1="659.90" x2="199.50" y2="663.10" stroke="#4a4a4a" stroke-width="0.8"/>
<rect x="209.70" y="613.60" width="9.00" height="46.30" fill="#9d93c6" stroke="#262626" stroke-width="0.9"/>
<line x1="214.20" y1="595.90" x2="214.20" y2="628.80" stroke="#333" stroke-width="0.7"/>
<line x1="211.90" y1="595.90" x2="216.50" y2="595.90" stroke="#333" stroke-width="0.8"/>
<line x1="211.90" y1="628.80" x2="216.50" y2="628.80" stroke="#333" stroke-width="0.8"/>
<circle cx="214.20" cy="587.70" r="1.5" fill="#3d2690"/>
<circle cx="214.20" cy="617.60" r="1.5" fill="#3d2690"/>
<circle cx="211.20" cy="622.70" r="1.5" fill="#3d2690"/>
<circle cx="217.20" cy="625.80" r="1.5" fill="#3d2690"/>
<line x1="214.20" y1="659.90" x2="214.20" y2="663.10" stroke="#4a4a4a" stroke-width="0.8"/>
<rect x="224.10" y="595.70" width="9.40" height="64.20" fill="#c690d1" stroke="#262626" stroke-width="0.9"/>
<line x1="228.80" y1="566.50" x2="228.80" y2="624.10" stroke="#333" stroke-width="0.7"/>
<line x1="226.50" y1="566.50" x2="231.10" y2="566.50" stroke="#333" stroke-width="0.8"/>
<line x1="226.50" y1="624.10" x2="231.10" y2="624.10" stroke="#333" stroke-width="0.8"/>
<circle cx="228.80" cy="559.50" r="1.5" fill="#8e34a8"/>
<circle cx="228.80" cy="585.10" r="1.5" fill="#8e34a8"/>
<circle cx="225.80" cy="618.00" r="1.5" fill="#8e34a8"/>
<circle cx="231.80" cy="618.00" r="1.5" fill="#8e34a8"/>
<line x1="228.80" y1="659.90" x2="228.80" y2="663.10" stroke="#4a4a4a" stroke-width="0.8"/>
<rect x="238.60" y="610.50" width="9.00" height="49.40" fill="#eda3b9" stroke="#262626" stroke-width="0.9"/>
<line x1="243.10" y1="584.60" x2="243.10" y2="635.20" stroke="#333" stroke-width="0.7"/>
<line x1="240.80" y1="584.60" x2="245.40" y2="584.60" stroke="#333" stroke-width="0.8"/>
<line x1="240.80" y1="635.20" x2="245.40" y2="635.20" stroke="#333" stroke-width="0.8"/>
<circle cx="243.10" cy="572.90" r="1.5" fill="#e63d6f"/>
<circle cx="240.10" cy="618.30" r="1.5" fill="#e63d6f"/>
<circle cx="246.10" cy="620.60" r="1.5" fill="#e63d6f"/>
<circle cx="243.10" cy="628.10" r="1.5" fill="#e63d6f"/>
<line x1="243.10" y1="659.90" x2="243.10" y2="663.10" stroke="#4a4a4a" stroke-width="0.8"/>
<rect x="253.00" y="603.50" width="9.40" height="56.40" fill="#f7cfb5" stroke="#262626" stroke-width="0.9"/>
<line x1="257.70" y1="574.50" x2="257.70" y2="632.80" stroke="#333" stroke-width="0.7"/>
<line x1="255.40" y1="574.50" x2="260.00" y2="574.50" stroke="#333" stroke-width="0.8"/>
<line x1="255.40" y1="632.80" x2="260.00" y2="632.80" stroke="#333" stroke-width="0.8"/>
<circle cx="257.70" cy="560.00" r="1.5" fill="#f59a60"/>
<circle cx="257.70" cy="616.40" r="1.5" fill="#f59a60"/>
<circle cx="254.70" cy="618.70" r="1.5" fill="#f59a60"/>
<circle cx="260.70" cy="618.70" r="1.5" fill="#f59a60"/>
<line x1="257.70" y1="659.90" x2="257.70" y2="663.10" stroke="#4a4a4a" stroke-width="0.8"/>
<line x1="189.50" y1="538.80" x2="189.50" y2="660.40" stroke="#4a4a4a" stroke-width="1.0"/>
<line x1="189.00" y1="659.90" x2="267.60" y2="659.90" stroke="#4a4a4a" stroke-width="1.0"/>
<line x1="186.30" y1="539.30" x2="189.50" y2="539.30" stroke="#4a4a4a" stroke-width="0.9"/>
<text x="185.20" y="543.19" font-size="10.8" text-anchor="end" fill="#1a1a1a">200</text>
<line x1="186.30" y1="569.40" x2="189.50" y2="569.40" stroke="#4a4a4a" stroke-width="0.9"/>
<text x="185.20" y="573.29" font-size="10.8" text-anchor="end" fill="#1a1a1a">150</text>
<line x1="186.30" y1="599.50" x2="189.50" y2="599.50" stroke="#4a4a4a" stroke-width="0.9"/>
<text x="185.20" y="603.39" font-size="10.8" text-anchor="end" fill="#1a1a1a">100</text>
<line x1="186.30" y1="629.60" x2="189.50" y2="629.60" stroke="#4a4a4a" stroke-width="0.9"/>
<text x="185.20" y="633.49" font-size="10.8" text-anchor="end" fill="#1a1a1a">50</text>
<line x1="186.30" y1="659.90" x2="189.50" y2="659.90" stroke="#4a4a4a" stroke-width="0.9"/>
<text x="185.20" y="663.79" font-size="10.8" text-anchor="end" fill="#1a1a1a">0</text>
<text x="152.60" y="514.00" font-size="12.5" text-anchor="start" fill="#111">j)</text>
<text transform="translate(150.55,596.70) rotate(-90)" x="0" y="0" font-size="10.7" text-anchor="middle" fill="#1a1a1a" textLength="44.40" lengthAdjust="spacingAndGlyphs">IL-12 p70</text>
<text transform="translate(162.78,596.50) rotate(-90)" x="0" y="0" font-size="10.7" text-anchor="middle" fill="#1a1a1a" textLength="141.00" lengthAdjust="spacingAndGlyphs">Protein concentration (pg/mL)</text>
<line x1="328.40" y1="579.40" x2="342.80" y2="579.40" stroke="#999999" stroke-width="1.0"/>
<line x1="328.40" y1="578.90" x2="328.40" y2="641.60" stroke="#999999" stroke-width="1.0"/>
<line x1="342.80" y1="578.90" x2="342.80" y2="596.30" stroke="#999999" stroke-width="1.0"/>
<path d="M335.60,570.90L335.60,575.70M333.52,572.10L337.68,574.50M337.68,572.10L333.52,574.50" stroke="#111" stroke-width="1.32" stroke-linecap="round" fill="none"/>
<line x1="328.40" y1="563.40" x2="357.40" y2="563.40" stroke="#999999" stroke-width="1.0"/>
<line x1="328.40" y1="562.90" x2="328.40" y2="573.00" stroke="#999999" stroke-width="1.0"/>
<line x1="357.40" y1="562.90" x2="357.40" y2="573.00" stroke="#999999" stroke-width="1.0"/>
<path d="M339.75,554.70L339.75,559.50M337.67,555.90L341.83,558.30M341.83,555.90L337.67,558.30M346.05,554.70L346.05,559.50M343.97,555.90L348.13,558.30M348.13,555.90L343.97,558.30" stroke="#111" stroke-width="1.32" stroke-linecap="round" fill="none"/>
<line x1="328.40" y1="547.50" x2="371.50" y2="547.50" stroke="#999999" stroke-width="1.0"/>
<line x1="328.40" y1="547.00" x2="328.40" y2="555.00" stroke="#999999" stroke-width="1.0"/>
<line x1="371.50" y1="547.00" x2="371.50" y2="584.60" stroke="#999999" stroke-width="1.0"/>
<path d="M346.80,538.70L346.80,543.50M344.72,539.90L348.88,542.30M348.88,539.90L344.72,542.30M353.10,538.70L353.10,543.50M351.02,539.90L355.18,542.30M355.18,539.90L351.02,542.30" stroke="#111" stroke-width="1.32" stroke-linecap="round" fill="none"/>
<line x1="328.40" y1="534.50" x2="385.60" y2="534.50" stroke="#999999" stroke-width="1.0"/>
<line x1="328.40" y1="534.00" x2="328.40" y2="540.00" stroke="#999999" stroke-width="1.0"/>
<line x1="385.60" y1="534.00" x2="385.60" y2="570.50" stroke="#999999" stroke-width="1.0"/>
<path d="M353.85,525.30L353.85,530.10M351.77,526.50L355.93,528.90M355.93,526.50L351.77,528.90M360.15,525.30L360.15,530.10M358.07,526.50L362.23,528.90M362.23,526.50L358.07,528.90" stroke="#111" stroke-width="1.32" stroke-linecap="round" fill="none"/>
<rect x="324.10" y="652.20" width="8.80" height="7.30" fill="#8a8a8a" stroke="#262626" stroke-width="0.9"/>
<line x1="328.50" y1="648.40" x2="328.50" y2="652.20" stroke="#333" stroke-width="0.7"/>
<line x1="326.20" y1="648.40" x2="330.80" y2="648.40" stroke="#333" stroke-width="0.8"/>
<circle cx="328.50" cy="646.90" r="1.5" fill="#111"/>
<circle cx="326.00" cy="652.90" r="1.5" fill="#111"/>
<circle cx="328.50" cy="653.20" r="1.5" fill="#111"/>
<circle cx="331.00" cy="652.90" r="1.5" fill="#111"/>
<line x1="328.50" y1="659.50" x2="328.50" y2="662.70" stroke="#4a4a4a" stroke-width="0.8"/>
<rect x="338.50" y="627.30" width="8.80" height="32.20" fill="#9d93c6" stroke="#262626" stroke-width="0.9"/>
<line x1="342.90" y1="609.20" x2="342.90" y2="640.50" stroke="#333" stroke-width="0.7"/>
<line x1="340.60" y1="609.20" x2="345.20" y2="609.20" stroke="#333" stroke-width="0.8"/>
<line x1="340.60" y1="640.50" x2="345.20" y2="640.50" stroke="#333" stroke-width="0.8"/>
<circle cx="342.90" cy="601.70" r="1.5" fill="#3d2690"/>
<circle cx="339.90" cy="629.90" r="1.5" fill="#3d2690"/>
<circle cx="345.90" cy="630.80" r="1.5" fill="#3d2690"/>
<circle cx="342.90" cy="643.30" r="1.5" fill="#3d2690"/>
<line x1="342.90" y1="659.50" x2="342.90" y2="662.70" stroke="#4a4a4a" stroke-width="0.8"/>
<rect x="352.20" y="614.60" width="9.40" height="44.90" fill="#c690d1" stroke="#262626" stroke-width="0.9"/>
<line x1="356.90" y1="591.10" x2="356.90" y2="638.10" stroke="#333" stroke-width="0.7"/>
<line x1="354.60" y1="591.10" x2="359.20" y2="591.10" stroke="#333" stroke-width="0.8"/>
<line x1="354.60" y1="638.10" x2="359.20" y2="638.10" stroke="#333" stroke-width="0.8"/>
<circle cx="356.90" cy="579.40" r="1.5" fill="#8e34a8"/>
<circle cx="353.90" cy="625.20" r="1.5" fill="#8e34a8"/>
<circle cx="356.90" cy="626.10" r="1.5" fill="#8e34a8"/>
<circle cx="359.90" cy="626.80" r="1.5" fill="#8e34a8"/>
<line x1="356.90" y1="659.50" x2="356.90" y2="662.70" stroke="#4a4a4a" stroke-width="0.8"/>
<rect x="366.80" y="621.40" width="8.80" height="38.10" fill="#eda3b9" stroke="#262626" stroke-width="0.9"/>
<line x1="371.20" y1="599.40" x2="371.20" y2="642.80" stroke="#333" stroke-width="0.7"/>
<line x1="368.90" y1="599.40" x2="373.50" y2="599.40" stroke="#333" stroke-width="0.8"/>
<line x1="368.90" y1="642.80" x2="373.50" y2="642.80" stroke="#333" stroke-width="0.8"/>
<circle cx="371.20" cy="588.80" r="1.5" fill="#e63d6f"/>
<circle cx="368.20" cy="628.70" r="1.5" fill="#e63d6f"/>
<circle cx="374.20" cy="629.20" r="1.5" fill="#e63d6f"/>
<circle cx="371.20" cy="637.90" r="1.5" fill="#e63d6f"/>
<line x1="371.20" y1="659.50" x2="371.20" y2="662.70" stroke="#4a4a4a" stroke-width="0.8"/>
<rect x="380.90" y="615.80" width="9.40" height="43.70" fill="#f7cfb5" stroke="#262626" stroke-width="0.9"/>
<line x1="385.60" y1="589.30" x2="385.60" y2="642.10" stroke="#333" stroke-width="0.7"/>
<line x1="383.30" y1="589.30" x2="387.90" y2="589.30" stroke="#333" stroke-width="0.8"/>
<line x1="383.30" y1="642.10" x2="387.90" y2="642.10" stroke="#333" stroke-width="0.8"/>
<circle cx="385.60" cy="576.30" r="1.5" fill="#f59a60"/>
<circle cx="385.60" cy="625.70" r="1.5" fill="#f59a60"/>
<circle cx="382.60" cy="629.20" r="1.5" fill="#f59a60"/>
<circle cx="388.60" cy="630.80" r="1.5" fill="#f59a60"/>
<line x1="385.60" y1="659.50" x2="385.60" y2="662.70" stroke="#4a4a4a" stroke-width="0.8"/>
<line x1="319.00" y1="540.20" x2="319.00" y2="660.00" stroke="#4a4a4a" stroke-width="1.0"/>
<line x1="318.50" y1="659.50" x2="394.50" y2="659.50" stroke="#4a4a4a" stroke-width="1.0"/>
<line x1="315.80" y1="540.70" x2="319.00" y2="540.70" stroke="#4a4a4a" stroke-width="0.9"/>
<text x="314.70" y="544.59" font-size="10.8" text-anchor="end" fill="#1a1a1a">15</text>
<line x1="315.80" y1="580.30" x2="319.00" y2="580.30" stroke="#4a4a4a" stroke-width="0.9"/>
<text x="314.70" y="584.19" font-size="10.8" text-anchor="end" fill="#1a1a1a">10</text>
<line x1="315.80" y1="619.90" x2="319.00" y2="619.90" stroke="#4a4a4a" stroke-width="0.9"/>
<text x="314.70" y="623.79" font-size="10.8" text-anchor="end" fill="#1a1a1a">5</text>
<line x1="315.80" y1="659.50" x2="319.00" y2="659.50" stroke="#4a4a4a" stroke-width="0.9"/>
<text x="314.70" y="663.39" font-size="10.8" text-anchor="end" fill="#1a1a1a">0</text>
<text x="276.70" y="512.90" font-size="12.2" text-anchor="start" fill="#111">k)</text>
<text transform="translate(285.78,597.00) rotate(-90)" x="0" y="0" font-size="10.5" text-anchor="middle" fill="#1a1a1a" textLength="29.60" lengthAdjust="spacingAndGlyphs">TNF-α</text>
<text transform="translate(298.03,596.70) rotate(-90)" x="0" y="0" font-size="10.5" text-anchor="middle" fill="#1a1a1a" textLength="138.50" lengthAdjust="spacingAndGlyphs">Protein concentration (pg/mL)</text>
<line x1="463.90" y1="617.50" x2="478.70" y2="617.50" stroke="#999999" stroke-width="1.0"/>
<line x1="463.90" y1="617.00" x2="463.90" y2="650.70" stroke="#999999" stroke-width="1.0"/>
<line x1="478.70" y1="617.00" x2="478.70" y2="622.00" stroke="#999999" stroke-width="1.0"/>
<path d="M468.60,608.20L468.60,612.80M466.61,609.35L470.59,611.65M470.59,609.35L466.61,611.65M474.00,608.20L474.00,612.80M472.01,609.35L475.99,611.65M475.99,609.35L472.01,611.65" stroke="#111" stroke-width="1.26" stroke-linecap="round" fill="none"/>
<line x1="463.90" y1="573.60" x2="491.70" y2="573.60" stroke="#999999" stroke-width="1.0"/>
<line x1="463.90" y1="573.10" x2="463.90" y2="617.00" stroke="#999999" stroke-width="1.0"/>
<line x1="491.70" y1="573.10" x2="491.70" y2="580.00" stroke="#999999" stroke-width="1.0"/>
<path d="M469.25,564.20L469.25,568.80M467.26,565.35L471.24,567.65M471.24,565.35L467.26,567.65M474.95,564.20L474.95,568.80M472.96,565.35L476.94,567.65M476.94,565.35L472.96,567.65M480.65,564.20L480.65,568.80M478.66,565.35L482.64,567.65M482.64,565.35L478.66,567.65M486.35,564.20L486.35,568.80M484.36,565.35L488.34,567.65M488.34,565.35L484.36,567.65" stroke="#111" stroke-width="1.26" stroke-linecap="round" fill="none"/>
<line x1="463.90" y1="555.70" x2="504.60" y2="555.70" stroke="#999999" stroke-width="1.0"/>
<line x1="463.90" y1="555.20" x2="463.90" y2="561.00" stroke="#999999" stroke-width="1.0"/>
<line x1="504.60" y1="555.20" x2="504.60" y2="597.00" stroke="#999999" stroke-width="1.0"/>
<path d="M478.75,547.80L478.75,552.40M476.76,548.95L480.74,551.25M480.74,548.95L476.76,551.25M484.25,547.80L484.25,552.40M482.26,548.95L486.24,551.25M486.24,548.95L482.26,551.25M489.75,547.80L489.75,552.40M487.76,548.95L491.74,551.25M491.74,548.95L487.76,551.25" stroke="#111" stroke-width="1.26" stroke-linecap="round" fill="none"/>
<line x1="463.90" y1="543.50" x2="517.50" y2="543.50" stroke="#999999" stroke-width="1.0"/>
<line x1="463.90" y1="543.00" x2="463.90" y2="549.00" stroke="#999999" stroke-width="1.0"/>
<line x1="517.50" y1="543.00" x2="517.50" y2="574.00" stroke="#999999" stroke-width="1.0"/>
<path d="M482.15,535.30L482.15,539.90M480.16,536.45L484.14,538.75M484.14,536.45L480.16,538.75M487.85,535.30L487.85,539.90M485.86,536.45L489.84,538.75M489.84,536.45L485.86,538.75M493.55,535.30L493.55,539.90M491.56,536.45L495.54,538.75M495.54,536.45L491.56,538.75M499.25,535.30L499.25,539.90M497.26,536.45L501.24,538.75M501.24,536.45L497.26,538.75" stroke="#111" stroke-width="1.26" stroke-linecap="round" fill="none"/>
<circle cx="461.30" cy="658.00" r="1.5" fill="#111"/>
<circle cx="463.90" cy="658.20" r="1.5" fill="#111"/>
<circle cx="466.50" cy="658.00" r="1.5" fill="#111"/>
<circle cx="469.10" cy="658.20" r="1.5" fill="#111"/>
<line x1="465.30" y1="657.40" x2="465.30" y2="660.60" stroke="#4a4a4a" stroke-width="0.8"/>
<rect x="474.50" y="631.60" width="8.40" height="25.80" fill="#9d93c6" stroke="#262626" stroke-width="0.9"/>
<line x1="478.70" y1="624.60" x2="478.70" y2="639.10" stroke="#333" stroke-width="0.7"/>
<line x1="476.40" y1="624.60" x2="481.00" y2="624.60" stroke="#333" stroke-width="0.8"/>
<line x1="476.40" y1="639.10" x2="481.00" y2="639.10" stroke="#333" stroke-width="0.8"/>
<circle cx="475.70" cy="626.20" r="1.5" fill="#3d2690"/>
<circle cx="481.70" cy="626.20" r="1.5" fill="#3d2690"/>
<circle cx="478.70" cy="629.30" r="1.5" fill="#3d2690"/>
<circle cx="478.70" cy="642.20" r="1.5" fill="#3d2690"/>
<line x1="478.70" y1="657.40" x2="478.70" y2="660.60" stroke="#4a4a4a" stroke-width="0.8"/>
<rect x="487.30" y="605.30" width="8.60" height="52.10" fill="#c690d1" stroke="#262626" stroke-width="0.9"/>
<line x1="491.60" y1="588.60" x2="491.60" y2="622.20" stroke="#333" stroke-width="0.7"/>
<line x1="489.30" y1="588.60" x2="493.90" y2="588.60" stroke="#333" stroke-width="0.8"/>
<line x1="489.30" y1="622.20" x2="493.90" y2="622.20" stroke="#333" stroke-width="0.8"/>
<circle cx="491.60" cy="584.10" r="1.5" fill="#8e34a8"/>
<circle cx="490.10" cy="604.10" r="1.5" fill="#8e34a8"/>
<circle cx="493.10" cy="604.60" r="1.5" fill="#8e34a8"/>
<circle cx="491.60" cy="624.10" r="1.5" fill="#8e34a8"/>
<line x1="491.60" y1="657.40" x2="491.60" y2="660.60" stroke="#4a4a4a" stroke-width="0.8"/>
<rect x="500.50" y="622.20" width="8.40" height="35.20" fill="#eda3b9" stroke="#262626" stroke-width="0.9"/>
<line x1="504.70" y1="607.60" x2="504.70" y2="636.30" stroke="#333" stroke-width="0.7"/>
<line x1="502.40" y1="607.60" x2="507.00" y2="607.60" stroke="#333" stroke-width="0.8"/>
<line x1="502.40" y1="636.30" x2="507.00" y2="636.30" stroke="#333" stroke-width="0.8"/>
<circle cx="504.70" cy="601.10" r="1.5" fill="#e63d6f"/>
<circle cx="504.70" cy="624.60" r="1.5" fill="#e63d6f"/>
<circle cx="504.70" cy="628.80" r="1.5" fill="#e63d6f"/>
<circle cx="504.70" cy="631.60" r="1.5" fill="#e63d6f"/>
<line x1="504.70" y1="657.40" x2="504.70" y2="660.60" stroke="#4a4a4a" stroke-width="0.8"/>
<rect x="513.50" y="610.00" width="8.60" height="47.40" fill="#f7cfb5" stroke="#262626" stroke-width="0.9"/>
<line x1="517.80" y1="586.50" x2="517.80" y2="634.40" stroke="#333" stroke-width="0.7"/>
<line x1="515.50" y1="586.50" x2="520.10" y2="586.50" stroke="#333" stroke-width="0.8"/>
<line x1="515.50" y1="634.40" x2="520.10" y2="634.40" stroke="#333" stroke-width="0.8"/>
<circle cx="517.80" cy="578.30" r="1.5" fill="#f59a60"/>
<circle cx="514.80" cy="612.80" r="1.5" fill="#f59a60"/>
<circle cx="520.80" cy="614.00" r="1.5" fill="#f59a60"/>
<circle cx="517.80" cy="636.30" r="1.5" fill="#f59a60"/>
<line x1="517.80" y1="657.40" x2="517.80" y2="660.60" stroke="#4a4a4a" stroke-width="0.8"/>
<line x1="456.50" y1="547.20" x2="456.50" y2="657.90" stroke="#4a4a4a" stroke-width="1.0"/>
<line x1="456.00" y1="657.40" x2="526.90" y2="657.40" stroke="#4a4a4a" stroke-width="1.0"/>
<line x1="453.30" y1="547.70" x2="456.50" y2="547.70" stroke="#4a4a4a" stroke-width="0.9"/>
<text x="452.20" y="551.16" font-size="9.6" text-anchor="end" fill="#1a1a1a">40000</text>
<line x1="453.30" y1="575.20" x2="456.50" y2="575.20" stroke="#4a4a4a" stroke-width="0.9"/>
<text x="452.20" y="578.66" font-size="9.6" text-anchor="end" fill="#1a1a1a">30000</text>
<line x1="453.30" y1="602.70" x2="456.50" y2="602.70" stroke="#4a4a4a" stroke-width="0.9"/>
<text x="452.20" y="606.16" font-size="9.6" text-anchor="end" fill="#1a1a1a">20000</text>
<line x1="453.30" y1="630.30" x2="456.50" y2="630.30" stroke="#4a4a4a" stroke-width="0.9"/>
<text x="452.20" y="633.76" font-size="9.6" text-anchor="end" fill="#1a1a1a">10000</text>
<line x1="453.30" y1="657.40" x2="456.50" y2="657.40" stroke="#4a4a4a" stroke-width="0.9"/>
<text x="452.20" y="660.86" font-size="9.6" text-anchor="end" fill="#1a1a1a">0</text>
<text x="402.30" y="510.70" font-size="12.3" text-anchor="start" fill="#111">l)</text>
<text transform="translate(410.04,600.60) rotate(-90)" x="0" y="0" font-size="10.4" text-anchor="middle" fill="#1a1a1a" textLength="37.00" lengthAdjust="spacingAndGlyphs">CXCL10</text>
<text transform="translate(420.94,600.20) rotate(-90)" x="0" y="0" font-size="9.75" text-anchor="middle" fill="#1a1a1a" textLength="128.40" lengthAdjust="spacingAndGlyphs">Protein concentration (pg/mL)</text>
<line x1="591.90" y1="565.80" x2="605.10" y2="565.80" stroke="#999999" stroke-width="1.0"/>
<line x1="591.90" y1="565.30" x2="591.90" y2="641.60" stroke="#999999" stroke-width="1.0"/>
<line x1="605.10" y1="565.30" x2="605.10" y2="570.00" stroke="#999999" stroke-width="1.0"/>
<path d="M592.70,557.90L592.70,562.10M590.88,558.95L594.52,561.05M594.52,558.95L590.88,561.05M598.50,557.90L598.50,562.10M596.68,558.95L600.32,561.05M600.32,558.95L596.68,561.05M604.30,557.90L604.30,562.10M602.48,558.95L606.12,561.05M606.12,558.95L602.48,561.05" stroke="#111" stroke-width="1.16" stroke-linecap="round" fill="none"/>
<line x1="591.90" y1="546.30" x2="618.50" y2="546.30" stroke="#999999" stroke-width="1.0"/>
<line x1="591.90" y1="545.80" x2="591.90" y2="555.00" stroke="#999999" stroke-width="1.0"/>
<line x1="618.50" y1="545.80" x2="618.50" y2="552.00" stroke="#999999" stroke-width="1.0"/>
<path d="M599.40,538.30L599.40,542.50M597.58,539.35L601.22,541.45M601.22,539.35L597.58,541.45M605.20,538.30L605.20,542.50M603.38,539.35L607.02,541.45M607.02,539.35L603.38,541.45M611.00,538.30L611.00,542.50M609.18,539.35L612.82,541.45M612.82,539.35L609.18,541.45" stroke="#111" stroke-width="1.16" stroke-linecap="round" fill="none"/>
<line x1="591.90" y1="534.60" x2="630.90" y2="534.60" stroke="#999999" stroke-width="1.0"/>
<line x1="591.90" y1="534.10" x2="591.90" y2="540.60" stroke="#999999" stroke-width="1.0"/>
<line x1="630.90" y1="534.10" x2="630.90" y2="565.00" stroke="#999999" stroke-width="1.0"/>
<path d="M605.60,526.60L605.60,530.80M603.78,527.65L607.42,529.75M607.42,527.65L603.78,529.75M611.40,526.60L611.40,530.80M609.58,527.65L613.22,529.75M613.22,527.65L609.58,529.75M617.20,526.60L617.20,530.80M615.38,527.65L619.02,529.75M619.02,527.65L615.38,529.75" stroke="#111" stroke-width="1.16" stroke-linecap="round" fill="none"/>
<line x1="591.90" y1="523.80" x2="644.30" y2="523.80" stroke="#999999" stroke-width="1.0"/>
<line x1="591.90" y1="523.30" x2="591.90" y2="528.90" stroke="#999999" stroke-width="1.0"/>
<line x1="644.30" y1="523.30" x2="644.30" y2="561.00" stroke="#999999" stroke-width="1.0"/>
<path d="M612.30,515.50L612.30,519.70M610.48,516.55L614.12,518.65M614.12,516.55L610.48,518.65M618.10,515.50L618.10,519.70M616.28,516.55L619.92,518.65M619.92,516.55L616.28,518.65M623.90,515.50L623.90,519.70M622.08,516.55L625.72,518.65M625.72,516.55L622.08,518.65" stroke="#111" stroke-width="1.16" stroke-linecap="round" fill="none"/>
<rect x="588.00" y="651.90" width="8.00" height="6.10" fill="#8a8a8a" stroke="#262626" stroke-width="0.9"/>
<line x1="592.00" y1="648.60" x2="592.00" y2="655.20" stroke="#333" stroke-width="0.7"/>
<line x1="589.70" y1="648.60" x2="594.30" y2="648.60" stroke="#333" stroke-width="0.8"/>
<line x1="589.70" y1="655.20" x2="594.30" y2="655.20" stroke="#333" stroke-width="0.8"/>
<circle cx="592.00" cy="648.60" r="1.5" fill="#111"/>
<circle cx="589.00" cy="652.00" r="1.5" fill="#111"/>
<circle cx="595.00" cy="652.00" r="1.5" fill="#111"/>
<circle cx="592.00" cy="656.00" r="1.5" fill="#111"/>
<line x1="592.00" y1="658.00" x2="592.00" y2="661.20" stroke="#4a4a4a" stroke-width="0.8"/>
<rect x="600.90" y="594.00" width="8.00" height="64.00" fill="#9d93c6" stroke="#262626" stroke-width="0.9"/>
<line x1="604.90" y1="576.90" x2="604.90" y2="609.30" stroke="#333" stroke-width="0.7"/>
<line x1="602.60" y1="576.90" x2="607.20" y2="576.90" stroke="#333" stroke-width="0.8"/>
<line x1="602.60" y1="609.30" x2="607.20" y2="609.30" stroke="#333" stroke-width="0.8"/>
<circle cx="604.90" cy="573.40" r="1.5" fill="#3d2690"/>
<circle cx="604.90" cy="587.70" r="1.5" fill="#3d2690"/>
<circle cx="604.90" cy="605.80" r="1.5" fill="#3d2690"/>
<circle cx="604.90" cy="609.30" r="1.5" fill="#3d2690"/>
<line x1="604.90" y1="658.00" x2="604.90" y2="661.20" stroke="#4a4a4a" stroke-width="0.8"/>
<rect x="613.80" y="581.10" width="8.60" height="76.90" fill="#c690d1" stroke="#262626" stroke-width="0.9"/>
<line x1="618.10" y1="556.40" x2="618.10" y2="605.80" stroke="#333" stroke-width="0.7"/>
<line x1="615.80" y1="556.40" x2="620.40" y2="556.40" stroke="#333" stroke-width="0.8"/>
<line x1="615.80" y1="605.80" x2="620.40" y2="605.80" stroke="#333" stroke-width="0.8"/>
<circle cx="618.10" cy="556.40" r="1.5" fill="#8e34a8"/>
<circle cx="618.10" cy="563.00" r="1.5" fill="#8e34a8"/>
<circle cx="618.10" cy="601.10" r="1.5" fill="#8e34a8"/>
<circle cx="618.10" cy="604.60" r="1.5" fill="#8e34a8"/>
<line x1="618.10" y1="658.00" x2="618.10" y2="661.20" stroke="#4a4a4a" stroke-width="0.8"/>
<rect x="626.80" y="590.50" width="8.60" height="67.50" fill="#eda3b9" stroke="#262626" stroke-width="0.9"/>
<line x1="631.10" y1="573.40" x2="631.10" y2="607.50" stroke="#333" stroke-width="0.7"/>
<line x1="628.80" y1="573.40" x2="633.40" y2="573.40" stroke="#333" stroke-width="0.8"/>
<line x1="628.80" y1="607.50" x2="633.40" y2="607.50" stroke="#333" stroke-width="0.8"/>
<circle cx="631.10" cy="569.40" r="1.5" fill="#e63d6f"/>
<circle cx="631.10" cy="584.20" r="1.5" fill="#e63d6f"/>
<circle cx="628.10" cy="603.50" r="1.5" fill="#e63d6f"/>
<circle cx="634.10" cy="603.50" r="1.5" fill="#e63d6f"/>
<line x1="631.10" y1="658.00" x2="631.10" y2="661.20" stroke="#4a4a4a" stroke-width="0.8"/>
<rect x="639.70" y="587.70" width="8.60" height="70.30" fill="#f7cfb5" stroke="#262626" stroke-width="0.9"/>
<line x1="644.00" y1="568.20" x2="644.00" y2="607.50" stroke="#333" stroke-width="0.7"/>
<line x1="641.70" y1="568.20" x2="646.30" y2="568.20" stroke="#333" stroke-width="0.8"/>
<line x1="641.70" y1="607.50" x2="646.30" y2="607.50" stroke="#333" stroke-width="0.8"/>
<circle cx="644.00" cy="565.80" r="1.5" fill="#f59a60"/>
<circle cx="644.00" cy="576.90" r="1.5" fill="#f59a60"/>
<circle cx="644.00" cy="602.30" r="1.5" fill="#f59a60"/>
<circle cx="644.00" cy="605.30" r="1.5" fill="#f59a60"/>
<line x1="644.00" y1="658.00" x2="644.00" y2="661.20" stroke="#4a4a4a" stroke-width="0.8"/>
<line x1="583.40" y1="549.30" x2="583.40" y2="658.50" stroke="#4a4a4a" stroke-width="1.0"/>
<line x1="582.90" y1="658.00" x2="652.60" y2="658.00" stroke="#4a4a4a" stroke-width="1.0"/>
<line x1="580.20" y1="549.80" x2="583.40" y2="549.80" stroke="#4a4a4a" stroke-width="0.9"/>
<text x="579.10" y="553.47" font-size="10.2" text-anchor="end" fill="#1a1a1a">200</text>
<line x1="580.20" y1="576.85" x2="583.40" y2="576.85" stroke="#4a4a4a" stroke-width="0.9"/>
<text x="579.10" y="580.52" font-size="10.2" text-anchor="end" fill="#1a1a1a">150</text>
<line x1="580.20" y1="603.90" x2="583.40" y2="603.90" stroke="#4a4a4a" stroke-width="0.9"/>
<text x="579.10" y="607.57" font-size="10.2" text-anchor="end" fill="#1a1a1a">100</text>
<line x1="580.20" y1="630.95" x2="583.40" y2="630.95" stroke="#4a4a4a" stroke-width="0.9"/>
<text x="579.10" y="634.62" font-size="10.2" text-anchor="end" fill="#1a1a1a">50</text>
<line x1="580.20" y1="658.00" x2="583.40" y2="658.00" stroke="#4a4a4a" stroke-width="0.9"/>
<text x="579.10" y="661.67" font-size="10.2" text-anchor="end" fill="#1a1a1a">0</text>
<text x="523.60" y="512.80" font-size="12.3" text-anchor="start" fill="#111">m)</text>
<text transform="translate(548.10,601.30) rotate(-90)" x="0" y="0" font-size="10.0" text-anchor="middle" fill="#1a1a1a" textLength="37.30" lengthAdjust="spacingAndGlyphs">GM-CSF</text>
<text transform="translate(558.92,601.00) rotate(-90)" x="0" y="0" font-size="9.68" text-anchor="middle" fill="#1a1a1a" textLength="127.50" lengthAdjust="spacingAndGlyphs">Protein concentration (pg/mL)</text>
<line x1="58.40" y1="764.40" x2="72.10" y2="764.40" stroke="#999999" stroke-width="1.0"/>
<line x1="58.40" y1="763.90" x2="58.40" y2="824.70" stroke="#999999" stroke-width="1.0"/>
<line x1="72.10" y1="763.90" x2="72.10" y2="765.80" stroke="#999999" stroke-width="1.0"/>
<path d="M65.25,756.40L65.25,761.00M63.26,757.55L67.24,759.85M67.24,757.55L63.26,759.85" stroke="#111" stroke-width="1.26" stroke-linecap="round" fill="none"/>
<line x1="58.40" y1="743.40" x2="86.90" y2="743.40" stroke="#999999" stroke-width="1.0"/>
<line x1="58.40" y1="742.90" x2="58.40" y2="756.90" stroke="#999999" stroke-width="1.0"/>
<line x1="86.90" y1="742.90" x2="86.90" y2="746.40" stroke="#999999" stroke-width="1.0"/>
<path d="M69.50,734.90L69.50,739.50M67.51,736.05L71.49,738.35M71.49,736.05L67.51,738.35M75.80,734.90L75.80,739.50M73.81,736.05L77.79,738.35M77.79,736.05L73.81,738.35" stroke="#111" stroke-width="1.26" stroke-linecap="round" fill="none"/>
<line x1="58.40" y1="727.60" x2="100.60" y2="727.60" stroke="#999999" stroke-width="1.0"/>
<line x1="58.40" y1="727.10" x2="58.40" y2="738.80" stroke="#999999" stroke-width="1.0"/>
<line x1="100.60" y1="727.10" x2="100.60" y2="749.50" stroke="#999999" stroke-width="1.0"/>
<path d="M79.50,719.20L79.50,723.80M77.51,720.35L81.49,722.65M81.49,720.35L77.51,722.65" stroke="#111" stroke-width="1.26" stroke-linecap="round" fill="none"/>
<line x1="58.40" y1="713.10" x2="114.40" y2="713.10" stroke="#999999" stroke-width="1.0"/>
<line x1="58.40" y1="712.60" x2="58.40" y2="723.50" stroke="#999999" stroke-width="1.0"/>
<line x1="114.40" y1="712.60" x2="114.40" y2="739.30" stroke="#999999" stroke-width="1.0"/>
<path d="M83.40,704.30L83.40,708.90M81.41,705.45L85.39,707.75M85.39,705.45L81.41,707.75M89.40,704.30L89.40,708.90M87.41,705.45L91.39,707.75M91.39,705.45L87.41,707.75" stroke="#111" stroke-width="1.26" stroke-linecap="round" fill="none"/>
<rect x="54.10" y="837.30" width="9.00" height="5.20" fill="#8a8a8a" stroke="#262626" stroke-width="0.9"/>
<line x1="58.60" y1="833.20" x2="58.60" y2="837.30" stroke="#333" stroke-width="0.7"/>
<line x1="56.30" y1="833.20" x2="60.90" y2="833.20" stroke="#333" stroke-width="0.8"/>
<circle cx="58.60" cy="831.10" r="1.5" fill="#111"/>
<circle cx="56.10" cy="838.60" r="1.5" fill="#111"/>
<circle cx="58.60" cy="839.00" r="1.5" fill="#111"/>
<circle cx="61.10" cy="838.60" r="1.5" fill="#111"/>
<line x1="58.60" y1="842.50" x2="58.60" y2="845.70" stroke="#4a4a4a" stroke-width="0.8"/>
<rect x="67.90" y="808.10" width="9.00" height="34.40" fill="#9d93c6" stroke="#262626" stroke-width="0.9"/>
<line x1="72.40" y1="782.20" x2="72.40" y2="833.20" stroke="#333" stroke-width="0.7"/>
<line x1="70.10" y1="782.20" x2="74.70" y2="782.20" stroke="#333" stroke-width="0.8"/>
<line x1="70.10" y1="833.20" x2="74.70" y2="833.20" stroke="#333" stroke-width="0.8"/>
<circle cx="72.40" cy="770.30" r="1.5" fill="#3d2690"/>
<circle cx="72.40" cy="816.00" r="1.5" fill="#3d2690"/>
<circle cx="72.40" cy="819.50" r="1.5" fill="#3d2690"/>
<circle cx="72.40" cy="825.30" r="1.5" fill="#3d2690"/>
<line x1="72.40" y1="842.50" x2="72.40" y2="845.70" stroke="#4a4a4a" stroke-width="0.8"/>
<rect x="81.80" y="796.10" width="9.00" height="46.40" fill="#c690d1" stroke="#262626" stroke-width="0.9"/>
<line x1="86.30" y1="761.70" x2="86.30" y2="829.20" stroke="#333" stroke-width="0.7"/>
<line x1="84.00" y1="761.70" x2="88.60" y2="761.70" stroke="#333" stroke-width="0.8"/>
<line x1="84.00" y1="829.20" x2="88.60" y2="829.20" stroke="#333" stroke-width="0.8"/>
<circle cx="86.30" cy="748.90" r="1.5" fill="#8e34a8"/>
<circle cx="86.30" cy="793.40" r="1.5" fill="#8e34a8"/>
<circle cx="86.30" cy="818.00" r="1.5" fill="#8e34a8"/>
<circle cx="86.30" cy="822.00" r="1.5" fill="#8e34a8"/>
<line x1="86.30" y1="842.50" x2="86.30" y2="845.70" stroke="#4a4a4a" stroke-width="0.8"/>
<rect x="95.70" y="805.10" width="9.00" height="37.40" fill="#eda3b9" stroke="#262626" stroke-width="0.9"/>
<line x1="100.20" y1="773.00" x2="100.20" y2="836.30" stroke="#333" stroke-width="0.7"/>
<line x1="97.90" y1="773.00" x2="102.50" y2="773.00" stroke="#333" stroke-width="0.8"/>
<line x1="97.90" y1="836.30" x2="102.50" y2="836.30" stroke="#333" stroke-width="0.8"/>
<circle cx="100.20" cy="758.10" r="1.5" fill="#e63d6f"/>
<circle cx="100.20" cy="815.30" r="1.5" fill="#e63d6f"/>
<circle cx="100.20" cy="820.60" r="1.5" fill="#e63d6f"/>
<circle cx="100.20" cy="826.10" r="1.5" fill="#e63d6f"/>
<line x1="100.20" y1="842.50" x2="100.20" y2="845.70" stroke="#4a4a4a" stroke-width="0.8"/>
<rect x="110.00" y="798.90" width="9.00" height="43.60" fill="#f7cfb5" stroke="#262626" stroke-width="0.9"/>
<line x1="114.50" y1="761.30" x2="114.50" y2="835.30" stroke="#333" stroke-width="0.7"/>
<line x1="112.20" y1="761.30" x2="116.80" y2="761.30" stroke="#333" stroke-width="0.8"/>
<line x1="112.20" y1="835.30" x2="116.80" y2="835.30" stroke="#333" stroke-width="0.8"/>
<circle cx="114.50" cy="743.80" r="1.5" fill="#f59a60"/>
<circle cx="114.50" cy="810.40" r="1.5" fill="#f59a60"/>
<circle cx="114.50" cy="817.30" r="1.5" fill="#f59a60"/>
<circle cx="114.50" cy="823.00" r="1.5" fill="#f59a60"/>
<line x1="114.50" y1="842.50" x2="114.50" y2="845.70" stroke="#4a4a4a" stroke-width="0.8"/>
<line x1="49.30" y1="726.10" x2="49.30" y2="843.00" stroke="#4a4a4a" stroke-width="1.0"/>
<line x1="48.80" y1="842.50" x2="124.30" y2="842.50" stroke="#4a4a4a" stroke-width="1.0"/>
<line x1="46.10" y1="726.60" x2="49.30" y2="726.60" stroke="#4a4a4a" stroke-width="0.9"/>
<text x="45.00" y="730.56" font-size="11" text-anchor="end" fill="#1a1a1a">80</text>
<line x1="46.10" y1="755.60" x2="49.30" y2="755.60" stroke="#4a4a4a" stroke-width="0.9"/>
<text x="45.00" y="759.56" font-size="11" text-anchor="end" fill="#1a1a1a">60</text>
<line x1="46.10" y1="784.60" x2="49.30" y2="784.60" stroke="#4a4a4a" stroke-width="0.9"/>
<text x="45.00" y="788.56" font-size="11" text-anchor="end" fill="#1a1a1a">40</text>
<line x1="46.10" y1="813.30" x2="49.30" y2="813.30" stroke="#4a4a4a" stroke-width="0.9"/>
<text x="45.00" y="817.26" font-size="11" text-anchor="end" fill="#1a1a1a">20</text>
<line x1="46.10" y1="842.50" x2="49.30" y2="842.50" stroke="#4a4a4a" stroke-width="0.9"/>
<text x="45.00" y="846.46" font-size="11" text-anchor="end" fill="#1a1a1a">0</text>
<text x="26.20" y="698.50" font-size="12.3" text-anchor="start" fill="#111">n)</text>
<text transform="translate(17.00,781.50) rotate(-90)" x="0" y="0" font-size="10.0" text-anchor="middle" fill="#1a1a1a" textLength="25.30" lengthAdjust="spacingAndGlyphs">IFN-γ</text>
<text transform="translate(28.78,782.00) rotate(-90)" x="0" y="0" font-size="10.3" text-anchor="middle" fill="#1a1a1a" textLength="135.90" lengthAdjust="spacingAndGlyphs">Protein concentration (pg/mL)</text>
<line x1="212.60" y1="797.10" x2="235.60" y2="797.10" stroke="#999999" stroke-width="1.0"/>
<line x1="212.60" y1="796.60" x2="212.60" y2="812.80" stroke="#999999" stroke-width="1.0"/>
<line x1="235.60" y1="796.60" x2="235.60" y2="800.60" stroke="#999999" stroke-width="1.0"/>
<path d="M224.10,790.80L224.10,794.00M222.71,791.60L225.49,793.20M225.49,791.60L222.71,793.20" stroke="#111" stroke-width="0.90" stroke-linecap="round" fill="none"/>
<line x1="213.20" y1="745.40" x2="255.50" y2="745.40" stroke="#999999" stroke-width="1.0"/>
<line x1="213.20" y1="744.90" x2="213.20" y2="788.30" stroke="#999999" stroke-width="1.0"/>
<line x1="255.50" y1="744.90" x2="255.50" y2="748.50" stroke="#999999" stroke-width="1.0"/>
<path d="M234.35,735.60L234.35,740.80M232.10,736.90L236.60,739.50M236.60,736.90L232.10,739.50" stroke="#111" stroke-width="1.43" stroke-linecap="round" fill="none"/>
<circle cx="210.40" cy="840.30" r="1.5" fill="#111"/>
<circle cx="213.40" cy="840.00" r="1.5" fill="#111"/>
<circle cx="216.40" cy="840.30" r="1.5" fill="#111"/>
<circle cx="219.40" cy="840.60" r="1.5" fill="#111"/>
<line x1="215.40" y1="840.90" x2="215.40" y2="844.10" stroke="#4a4a4a" stroke-width="0.8"/>
<rect x="229.20" y="816.30" width="12.40" height="24.60" fill="#eda3b9" stroke="#262626" stroke-width="0.9"/>
<line x1="235.40" y1="806.10" x2="235.40" y2="825.10" stroke="#333" stroke-width="0.7"/>
<line x1="232.15" y1="806.10" x2="238.65" y2="806.10" stroke="#333" stroke-width="0.8"/>
<line x1="232.15" y1="825.10" x2="238.65" y2="825.10" stroke="#333" stroke-width="0.8"/>
<circle cx="235.40" cy="806.10" r="1.5" fill="#e63d6f"/>
<circle cx="235.40" cy="812.80" r="1.5" fill="#e63d6f"/>
<circle cx="235.40" cy="815.50" r="1.5" fill="#e63d6f"/>
<circle cx="235.40" cy="829.60" r="1.5" fill="#e63d6f"/>
<line x1="235.40" y1="840.90" x2="235.40" y2="844.10" stroke="#4a4a4a" stroke-width="0.8"/>
<rect x="249.10" y="792.40" width="12.40" height="48.50" fill="#f7cfb5" stroke="#262626" stroke-width="0.9"/>
<line x1="255.30" y1="765.40" x2="255.30" y2="819.40" stroke="#333" stroke-width="0.7"/>
<line x1="252.05" y1="765.40" x2="258.55" y2="765.40" stroke="#333" stroke-width="0.8"/>
<line x1="252.05" y1="819.40" x2="258.55" y2="819.40" stroke="#333" stroke-width="0.8"/>
<circle cx="255.30" cy="753.20" r="1.5" fill="#f59a60"/>
<circle cx="255.30" cy="797.10" r="1.5" fill="#f59a60"/>
<circle cx="252.30" cy="809.20" r="1.5" fill="#f59a60"/>
<circle cx="258.30" cy="809.80" r="1.5" fill="#f59a60"/>
<line x1="255.30" y1="840.90" x2="255.30" y2="844.10" stroke="#4a4a4a" stroke-width="0.8"/>
<line x1="202.40" y1="723.00" x2="202.40" y2="841.40" stroke="#4a4a4a" stroke-width="1.0"/>
<line x1="201.90" y1="840.90" x2="268.80" y2="840.90" stroke="#4a4a4a" stroke-width="1.0"/>
<line x1="199.20" y1="723.50" x2="202.40" y2="723.50" stroke="#4a4a4a" stroke-width="0.9"/>
<text x="198.10" y="727.39" font-size="10.8" text-anchor="end" fill="#1a1a1a">200</text>
<line x1="199.20" y1="753.00" x2="202.40" y2="753.00" stroke="#4a4a4a" stroke-width="0.9"/>
<text x="198.10" y="756.89" font-size="10.8" text-anchor="end" fill="#1a1a1a">150</text>
<line x1="199.20" y1="782.20" x2="202.40" y2="782.20" stroke="#4a4a4a" stroke-width="0.9"/>
<text x="198.10" y="786.09" font-size="10.8" text-anchor="end" fill="#1a1a1a">100</text>
<line x1="199.20" y1="811.70" x2="202.40" y2="811.70" stroke="#4a4a4a" stroke-width="0.9"/>
<text x="198.10" y="815.59" font-size="10.8" text-anchor="end" fill="#1a1a1a">50</text>
<line x1="199.20" y1="840.90" x2="202.40" y2="840.90" stroke="#4a4a4a" stroke-width="0.9"/>
<text x="198.10" y="844.79" font-size="10.8" text-anchor="end" fill="#1a1a1a">0</text>
<text x="152.70" y="700.50" font-size="12.3" text-anchor="start" fill="#111">o)</text>
<text transform="translate(162.11,779.50) rotate(-90)" x="0" y="0" font-size="10.3" text-anchor="middle" fill="#1a1a1a" textLength="24.90" lengthAdjust="spacingAndGlyphs">IFN-β</text>
<text transform="translate(174.68,779.30) rotate(-90)" x="0" y="0" font-size="10.3" text-anchor="middle" fill="#1a1a1a" textLength="135.70" lengthAdjust="spacingAndGlyphs">Protein concentration (pg/mL)</text>
<line x1="317.00" y1="761.70" x2="331.30" y2="761.70" stroke="#999999" stroke-width="1.0"/>
<line x1="317.00" y1="761.20" x2="317.00" y2="802.60" stroke="#999999" stroke-width="1.0"/>
<line x1="331.30" y1="761.20" x2="331.30" y2="763.80" stroke="#999999" stroke-width="1.0"/>
<text x="324.15" y="755.70" font-size="10.4" text-anchor="middle" fill="#1a1a1a">ns</text>
<line x1="317.00" y1="734.20" x2="346.60" y2="734.20" stroke="#999999" stroke-width="1.0"/>
<line x1="317.00" y1="733.70" x2="317.00" y2="746.40" stroke="#999999" stroke-width="1.0"/>
<line x1="346.60" y1="733.70" x2="346.60" y2="736.20" stroke="#999999" stroke-width="1.0"/>
<text x="331.80" y="728.70" font-size="10.4" text-anchor="middle" fill="#1a1a1a">ns</text>
<line x1="317.00" y1="719.90" x2="361.60" y2="719.90" stroke="#999999" stroke-width="1.0"/>
<line x1="317.00" y1="719.40" x2="317.00" y2="728.40" stroke="#999999" stroke-width="1.0"/>
<line x1="361.60" y1="719.40" x2="361.60" y2="743.40" stroke="#999999" stroke-width="1.0"/>
<text x="339.30" y="713.40" font-size="10.4" text-anchor="middle" fill="#1a1a1a">ns</text>
<line x1="317.00" y1="705.50" x2="376.30" y2="705.50" stroke="#999999" stroke-width="1.0"/>
<line x1="317.00" y1="705.00" x2="317.00" y2="715.40" stroke="#999999" stroke-width="1.0"/>
<line x1="376.30" y1="705.00" x2="376.30" y2="729.00" stroke="#999999" stroke-width="1.0"/>
<path d="M346.65,698.70L346.65,701.30M345.52,699.35L347.78,700.65M347.78,699.35L345.52,700.65" stroke="#111" stroke-width="0.90" stroke-linecap="round" fill="none"/>
<rect x="312.35" y="825.20" width="9.30" height="17.90" fill="#8a8a8a" stroke="#262626" stroke-width="0.9"/>
<line x1="317.00" y1="813.20" x2="317.00" y2="836.40" stroke="#333" stroke-width="0.7"/>
<line x1="314.70" y1="813.20" x2="319.30" y2="813.20" stroke="#333" stroke-width="0.8"/>
<line x1="314.70" y1="836.40" x2="319.30" y2="836.40" stroke="#333" stroke-width="0.8"/>
<circle cx="313.40" cy="829.10" r="1.5" fill="#111"/>
<circle cx="313.40" cy="832.60" r="1.5" fill="#111"/>
<circle cx="320.10" cy="829.60" r="1.5" fill="#111"/>
<circle cx="317.00" cy="807.30" r="1.5" fill="#111"/>
<line x1="317.00" y1="843.10" x2="317.00" y2="846.30" stroke="#4a4a4a" stroke-width="0.8"/>
<rect x="327.05" y="808.30" width="9.30" height="34.80" fill="#9d93c6" stroke="#262626" stroke-width="0.9"/>
<line x1="331.70" y1="789.30" x2="331.70" y2="827.10" stroke="#333" stroke-width="0.7"/>
<line x1="329.40" y1="789.30" x2="334.00" y2="789.30" stroke="#333" stroke-width="0.8"/>
<line x1="329.40" y1="827.10" x2="334.00" y2="827.10" stroke="#333" stroke-width="0.8"/>
<circle cx="331.70" cy="786.70" r="1.5" fill="#3d2690"/>
<circle cx="331.70" cy="803.60" r="1.5" fill="#3d2690"/>
<circle cx="331.70" cy="832.30" r="1.5" fill="#3d2690"/>
<line x1="331.70" y1="843.10" x2="331.70" y2="846.30" stroke="#4a4a4a" stroke-width="0.8"/>
<rect x="341.65" y="797.10" width="9.50" height="46.00" fill="#c690d1" stroke="#262626" stroke-width="0.9"/>
<line x1="346.40" y1="779.50" x2="346.40" y2="814.50" stroke="#333" stroke-width="0.7"/>
<line x1="344.10" y1="779.50" x2="348.70" y2="779.50" stroke="#333" stroke-width="0.8"/>
<line x1="344.10" y1="814.50" x2="348.70" y2="814.50" stroke="#333" stroke-width="0.8"/>
<circle cx="346.40" cy="774.00" r="1.5" fill="#8e34a8"/>
<circle cx="343.40" cy="797.10" r="1.5" fill="#8e34a8"/>
<circle cx="349.40" cy="799.60" r="1.5" fill="#8e34a8"/>
<circle cx="346.40" cy="815.90" r="1.5" fill="#8e34a8"/>
<line x1="346.40" y1="843.10" x2="346.40" y2="846.30" stroke="#4a4a4a" stroke-width="0.8"/>
<rect x="356.95" y="792.00" width="9.50" height="51.10" fill="#eda3b9" stroke="#262626" stroke-width="0.9"/>
<line x1="361.70" y1="763.80" x2="361.70" y2="820.00" stroke="#333" stroke-width="0.7"/>
<line x1="359.40" y1="763.80" x2="364.00" y2="763.80" stroke="#333" stroke-width="0.8"/>
<line x1="359.40" y1="820.00" x2="364.00" y2="820.00" stroke="#333" stroke-width="0.8"/>
<circle cx="361.70" cy="754.00" r="1.5" fill="#e63d6f"/>
<circle cx="361.70" cy="788.30" r="1.5" fill="#e63d6f"/>
<circle cx="361.70" cy="808.30" r="1.5" fill="#e63d6f"/>
<circle cx="361.70" cy="816.90" r="1.5" fill="#e63d6f"/>
<line x1="361.70" y1="843.10" x2="361.70" y2="846.30" stroke="#4a4a4a" stroke-width="0.8"/>
<rect x="371.75" y="778.10" width="9.50" height="65.00" fill="#f7cfb5" stroke="#262626" stroke-width="0.9"/>
<line x1="376.50" y1="744.40" x2="376.50" y2="811.40" stroke="#333" stroke-width="0.7"/>
<line x1="374.20" y1="744.40" x2="378.80" y2="744.40" stroke="#333" stroke-width="0.8"/>
<line x1="374.20" y1="811.40" x2="378.80" y2="811.40" stroke="#333" stroke-width="0.8"/>
<circle cx="376.50" cy="734.20" r="1.5" fill="#f59a60"/>
<circle cx="376.50" cy="774.60" r="1.5" fill="#f59a60"/>
<circle cx="376.50" cy="789.70" r="1.5" fill="#f59a60"/>
<circle cx="376.50" cy="813.20" r="1.5" fill="#f59a60"/>
<line x1="376.50" y1="843.10" x2="376.50" y2="846.30" stroke="#4a4a4a" stroke-width="0.8"/>
<line x1="306.70" y1="717.70" x2="306.70" y2="843.60" stroke="#4a4a4a" stroke-width="1.0"/>
<line x1="306.20" y1="843.10" x2="386.50" y2="843.10" stroke="#4a4a4a" stroke-width="1.0"/>
<line x1="303.50" y1="718.20" x2="306.70" y2="718.20" stroke="#4a4a4a" stroke-width="0.9"/>
<text x="302.40" y="722.12" font-size="10.9" text-anchor="end" fill="#1a1a1a">8</text>
<line x1="303.50" y1="749.50" x2="306.70" y2="749.50" stroke="#4a4a4a" stroke-width="0.9"/>
<text x="302.40" y="753.42" font-size="10.9" text-anchor="end" fill="#1a1a1a">6</text>
<line x1="303.50" y1="780.80" x2="306.70" y2="780.80" stroke="#4a4a4a" stroke-width="0.9"/>
<text x="302.40" y="784.72" font-size="10.9" text-anchor="end" fill="#1a1a1a">4</text>
<line x1="303.50" y1="811.90" x2="306.70" y2="811.90" stroke="#4a4a4a" stroke-width="0.9"/>
<text x="302.40" y="815.82" font-size="10.9" text-anchor="end" fill="#1a1a1a">2</text>
<line x1="303.50" y1="843.10" x2="306.70" y2="843.10" stroke="#4a4a4a" stroke-width="0.9"/>
<text x="302.40" y="847.02" font-size="10.9" text-anchor="end" fill="#1a1a1a">0</text>
<text x="280.40" y="698.80" font-size="12.3" text-anchor="start" fill="#111">p)</text>
<text transform="translate(278.71,777.40) rotate(-90)" x="0" y="0" font-size="10.3" text-anchor="middle" fill="#1a1a1a" textLength="26.80" lengthAdjust="spacingAndGlyphs">IFN-α</text>
<text transform="translate(289.63,778.00) rotate(-90)" x="0" y="0" font-size="10.9" text-anchor="middle" fill="#1a1a1a" textLength="143.90" lengthAdjust="spacingAndGlyphs">Protein concentration (pg/mL)</text>
<rect x="446.30" y="786.90" width="9.40" height="23.50" fill="#8a8a8a" stroke="#262626" stroke-width="0.9"/>
<line x1="451.00" y1="761.50" x2="451.00" y2="810.40" stroke="#333" stroke-width="0.7"/>
<line x1="448.70" y1="761.50" x2="453.30" y2="761.50" stroke="#333" stroke-width="0.8"/>
<line x1="448.70" y1="810.40" x2="453.30" y2="810.40" stroke="#333" stroke-width="0.8"/>
<circle cx="451.00" cy="749.40" r="1.5" fill="#111"/>
<circle cx="447.70" cy="796.20" r="1.5" fill="#111"/>
<circle cx="447.70" cy="800.00" r="1.5" fill="#111"/>
<circle cx="454.30" cy="799.00" r="1.5" fill="#111"/>
<line x1="451.00" y1="840.80" x2="451.00" y2="844.00" stroke="#4a4a4a" stroke-width="0.8"/>
<rect x="461.30" y="789.50" width="9.40" height="20.90" fill="#9d93c6" stroke="#262626" stroke-width="0.9"/>
<line x1="466.00" y1="785.20" x2="466.00" y2="793.30" stroke="#333" stroke-width="0.7"/>
<line x1="463.70" y1="785.20" x2="468.30" y2="785.20" stroke="#333" stroke-width="0.8"/>
<line x1="463.70" y1="793.30" x2="468.30" y2="793.30" stroke="#333" stroke-width="0.8"/>
<circle cx="466.00" cy="783.30" r="1.5" fill="#3d2690"/>
<circle cx="466.00" cy="790.00" r="1.5" fill="#3d2690"/>
<circle cx="463.00" cy="792.40" r="1.5" fill="#3d2690"/>
<circle cx="468.70" cy="791.00" r="1.5" fill="#3d2690"/>
<line x1="466.00" y1="840.80" x2="466.00" y2="844.00" stroke="#4a4a4a" stroke-width="0.8"/>
<rect x="476.30" y="786.90" width="9.40" height="23.50" fill="#c690d1" stroke="#262626" stroke-width="0.9"/>
<line x1="481.00" y1="784.40" x2="481.00" y2="789.70" stroke="#333" stroke-width="0.7"/>
<line x1="478.70" y1="784.40" x2="483.30" y2="784.40" stroke="#333" stroke-width="0.8"/>
<line x1="478.70" y1="789.70" x2="483.30" y2="789.70" stroke="#333" stroke-width="0.8"/>
<circle cx="477.50" cy="784.70" r="1.5" fill="#8e34a8"/>
<circle cx="484.50" cy="784.70" r="1.5" fill="#8e34a8"/>
<circle cx="477.50" cy="789.00" r="1.5" fill="#8e34a8"/>
<circle cx="484.50" cy="788.40" r="1.5" fill="#8e34a8"/>
<line x1="481.00" y1="840.80" x2="481.00" y2="844.00" stroke="#4a4a4a" stroke-width="0.8"/>
<rect x="491.20" y="792.20" width="9.40" height="18.20" fill="#eda3b9" stroke="#262626" stroke-width="0.9"/>
<line x1="495.90" y1="787.50" x2="495.90" y2="796.00" stroke="#333" stroke-width="0.7"/>
<line x1="493.60" y1="787.50" x2="498.20" y2="787.50" stroke="#333" stroke-width="0.8"/>
<line x1="493.60" y1="796.00" x2="498.20" y2="796.00" stroke="#333" stroke-width="0.8"/>
<circle cx="491.90" cy="788.40" r="1.5" fill="#e63d6f"/>
<circle cx="495.90" cy="789.60" r="1.5" fill="#e63d6f"/>
<circle cx="499.40" cy="789.90" r="1.5" fill="#e63d6f"/>
<circle cx="495.90" cy="798.30" r="1.5" fill="#e63d6f"/>
<line x1="495.90" y1="840.80" x2="495.90" y2="844.00" stroke="#4a4a4a" stroke-width="0.8"/>
<rect x="506.10" y="792.20" width="9.40" height="18.20" fill="#f7cfb5" stroke="#262626" stroke-width="0.9"/>
<line x1="510.80" y1="785.30" x2="510.80" y2="797.70" stroke="#333" stroke-width="0.7"/>
<line x1="508.50" y1="785.30" x2="513.10" y2="785.30" stroke="#333" stroke-width="0.8"/>
<line x1="508.50" y1="797.70" x2="513.10" y2="797.70" stroke="#333" stroke-width="0.8"/>
<circle cx="507.30" cy="786.50" r="1.5" fill="#f59a60"/>
<circle cx="514.30" cy="785.90" r="1.5" fill="#f59a60"/>
<circle cx="507.30" cy="797.10" r="1.5" fill="#f59a60"/>
<circle cx="514.30" cy="797.10" r="1.5" fill="#f59a60"/>
<line x1="510.80" y1="840.80" x2="510.80" y2="844.00" stroke="#4a4a4a" stroke-width="0.8"/>
<line x1="441.40" y1="717.60" x2="441.40" y2="841.30" stroke="#4a4a4a" stroke-width="1.0"/>
<line x1="440.90" y1="840.80" x2="520.00" y2="840.80" stroke="#4a4a4a" stroke-width="1.0"/>
<line x1="441.40" y1="810.40" x2="520.00" y2="810.40" stroke="#4a4a4a" stroke-width="1.0"/>
<line x1="438.20" y1="718.10" x2="441.40" y2="718.10" stroke="#4a4a4a" stroke-width="0.9"/>
<text x="437.10" y="722.06" font-size="11" text-anchor="end" fill="#1a1a1a">150</text>
<line x1="438.20" y1="748.80" x2="441.40" y2="748.80" stroke="#4a4a4a" stroke-width="0.9"/>
<text x="437.10" y="752.76" font-size="11" text-anchor="end" fill="#1a1a1a">100</text>
<line x1="438.20" y1="779.30" x2="441.40" y2="779.30" stroke="#4a4a4a" stroke-width="0.9"/>
<text x="437.10" y="783.26" font-size="11" text-anchor="end" fill="#1a1a1a">50</text>
<line x1="438.20" y1="810.40" x2="441.40" y2="810.40" stroke="#4a4a4a" stroke-width="0.9"/>
<text x="437.10" y="814.36" font-size="11" text-anchor="end" fill="#1a1a1a">0</text>
<line x1="438.20" y1="840.80" x2="441.40" y2="840.80" stroke="#4a4a4a" stroke-width="0.9"/>
<text x="437.10" y="844.76" font-size="11" text-anchor="end" fill="#1a1a1a">-50</text>
<text x="403.60" y="699.00" font-size="12.3" text-anchor="start" fill="#111">q)</text>
<text transform="translate(400.71,776.20) rotate(-90)" x="0" y="0" font-size="10.3" text-anchor="middle" fill="#1a1a1a" textLength="31.90" lengthAdjust="spacingAndGlyphs">IFN-λ2</text>
<text transform="translate(413.64,776.00) rotate(-90)" x="0" y="0" font-size="10.911161731207288" text-anchor="middle" fill="#1a1a1a" textLength="143.70" lengthAdjust="spacingAndGlyphs">Protein concentration (pg/mL)</text>
<line x1="463.60" y1="770.20" x2="510.50" y2="770.20" stroke="#111" stroke-width="1.2"/>
<line x1="463.60" y1="767.10" x2="463.60" y2="773.30" stroke="#111" stroke-width="1.2"/>
<line x1="510.50" y1="767.10" x2="510.50" y2="773.30" stroke="#111" stroke-width="1.2"/>
<text x="487.50" y="765.46" font-size="11" text-anchor="middle" fill="#1a1a1a">ns</text>
<rect x="574.30" y="786.10" width="9.40" height="23.50" fill="#8a8a8a" stroke="#262626" stroke-width="0.9"/>
<line x1="579.00" y1="760.70" x2="579.00" y2="809.60" stroke="#333" stroke-width="0.7"/>
<line x1="576.70" y1="760.70" x2="581.30" y2="760.70" stroke="#333" stroke-width="0.8"/>
<line x1="576.70" y1="809.60" x2="581.30" y2="809.60" stroke="#333" stroke-width="0.8"/>
<circle cx="579.00" cy="748.60" r="1.5" fill="#111"/>
<circle cx="575.70" cy="795.40" r="1.5" fill="#111"/>
<circle cx="575.70" cy="799.20" r="1.5" fill="#111"/>
<circle cx="582.30" cy="798.20" r="1.5" fill="#111"/>
<line x1="579.00" y1="840.00" x2="579.00" y2="843.20" stroke="#4a4a4a" stroke-width="0.8"/>
<rect x="589.30" y="788.70" width="9.40" height="20.90" fill="#9d93c6" stroke="#262626" stroke-width="0.9"/>
<line x1="594.00" y1="784.40" x2="594.00" y2="792.50" stroke="#333" stroke-width="0.7"/>
<line x1="591.70" y1="784.40" x2="596.30" y2="784.40" stroke="#333" stroke-width="0.8"/>
<line x1="591.70" y1="792.50" x2="596.30" y2="792.50" stroke="#333" stroke-width="0.8"/>
<circle cx="594.00" cy="782.50" r="1.5" fill="#3d2690"/>
<circle cx="594.00" cy="789.20" r="1.5" fill="#3d2690"/>
<circle cx="591.00" cy="791.60" r="1.5" fill="#3d2690"/>
<circle cx="596.70" cy="790.20" r="1.5" fill="#3d2690"/>
<line x1="594.00" y1="840.00" x2="594.00" y2="843.20" stroke="#4a4a4a" stroke-width="0.8"/>
<rect x="604.30" y="786.10" width="9.40" height="23.50" fill="#c690d1" stroke="#262626" stroke-width="0.9"/>
<line x1="609.00" y1="783.60" x2="609.00" y2="788.90" stroke="#333" stroke-width="0.7"/>
<line x1="606.70" y1="783.60" x2="611.30" y2="783.60" stroke="#333" stroke-width="0.8"/>
<line x1="606.70" y1="788.90" x2="611.30" y2="788.90" stroke="#333" stroke-width="0.8"/>
<circle cx="605.50" cy="783.90" r="1.5" fill="#8e34a8"/>
<circle cx="612.50" cy="783.90" r="1.5" fill="#8e34a8"/>
<circle cx="605.50" cy="788.20" r="1.5" fill="#8e34a8"/>
<circle cx="612.50" cy="787.60" r="1.5" fill="#8e34a8"/>
<line x1="609.00" y1="840.00" x2="609.00" y2="843.20" stroke="#4a4a4a" stroke-width="0.8"/>
<rect x="619.20" y="791.40" width="9.40" height="18.20" fill="#eda3b9" stroke="#262626" stroke-width="0.9"/>
<line x1="623.90" y1="786.70" x2="623.90" y2="795.20" stroke="#333" stroke-width="0.7"/>
<line x1="621.60" y1="786.70" x2="626.20" y2="786.70" stroke="#333" stroke-width="0.8"/>
<line x1="621.60" y1="795.20" x2="626.20" y2="795.20" stroke="#333" stroke-width="0.8"/>
<circle cx="619.90" cy="787.60" r="1.5" fill="#e63d6f"/>
<circle cx="623.90" cy="788.80" r="1.5" fill="#e63d6f"/>
<circle cx="627.40" cy="789.10" r="1.5" fill="#e63d6f"/>
<circle cx="623.90" cy="797.50" r="1.5" fill="#e63d6f"/>
<line x1="623.90" y1="840.00" x2="623.90" y2="843.20" stroke="#4a4a4a" stroke-width="0.8"/>
<rect x="634.10" y="791.40" width="9.40" height="18.20" fill="#f7cfb5" stroke="#262626" stroke-width="0.9"/>
<line x1="638.80" y1="784.50" x2="638.80" y2="796.90" stroke="#333" stroke-width="0.7"/>
<line x1="636.50" y1="784.50" x2="641.10" y2="784.50" stroke="#333" stroke-width="0.8"/>
<line x1="636.50" y1="796.90" x2="641.10" y2="796.90" stroke="#333" stroke-width="0.8"/>
<circle cx="635.30" cy="785.70" r="1.5" fill="#f59a60"/>
<circle cx="642.30" cy="785.10" r="1.5" fill="#f59a60"/>
<circle cx="635.30" cy="796.30" r="1.5" fill="#f59a60"/>
<circle cx="642.30" cy="796.30" r="1.5" fill="#f59a60"/>
<line x1="638.80" y1="840.00" x2="638.80" y2="843.20" stroke="#4a4a4a" stroke-width="0.8"/>
<line x1="569.40" y1="716.80" x2="569.40" y2="840.50" stroke="#4a4a4a" stroke-width="1.0"/>
<line x1="568.90" y1="840.00" x2="648.00" y2="840.00" stroke="#4a4a4a" stroke-width="1.0"/>
<line x1="569.40" y1="809.60" x2="648.00" y2="809.60" stroke="#4a4a4a" stroke-width="1.0"/>
<line x1="566.20" y1="717.30" x2="569.40" y2="717.30" stroke="#4a4a4a" stroke-width="0.9"/>
<text x="565.10" y="721.26" font-size="11" text-anchor="end" fill="#1a1a1a">150</text>
<line x1="566.20" y1="748.00" x2="569.40" y2="748.00" stroke="#4a4a4a" stroke-width="0.9"/>
<text x="565.10" y="751.96" font-size="11" text-anchor="end" fill="#1a1a1a">100</text>
<line x1="566.20" y1="778.50" x2="569.40" y2="778.50" stroke="#4a4a4a" stroke-width="0.9"/>
<text x="565.10" y="782.46" font-size="11" text-anchor="end" fill="#1a1a1a">50</text>
<line x1="566.20" y1="809.60" x2="569.40" y2="809.60" stroke="#4a4a4a" stroke-width="0.9"/>
<text x="565.10" y="813.56" font-size="11" text-anchor="end" fill="#1a1a1a">0</text>
<line x1="566.20" y1="840.00" x2="569.40" y2="840.00" stroke="#4a4a4a" stroke-width="0.9"/>
<text x="565.10" y="843.96" font-size="11" text-anchor="end" fill="#1a1a1a">-50</text>
<text x="526.00" y="698.60" font-size="12.3" text-anchor="start" fill="#111">r)</text>
<text transform="translate(530.21,776.60) rotate(-90)" x="0" y="0" font-size="10.3" text-anchor="middle" fill="#1a1a1a" textLength="31.20" lengthAdjust="spacingAndGlyphs">IFN-λ3</text>
<text transform="translate(540.72,776.60) rotate(-90)" x="0" y="0" font-size="10.858010630220198" text-anchor="middle" fill="#1a1a1a" textLength="143.00" lengthAdjust="spacingAndGlyphs">Protein concentration (pg/mL)</text>
<line x1="591.60" y1="769.40" x2="638.50" y2="769.40" stroke="#111" stroke-width="1.2"/>
<line x1="591.60" y1="766.30" x2="591.60" y2="772.50" stroke="#111" stroke-width="1.2"/>
<line x1="638.50" y1="766.30" x2="638.50" y2="772.50" stroke="#111" stroke-width="1.2"/>
<text x="615.50" y="764.66" font-size="11" text-anchor="middle" fill="#1a1a1a">ns</text>
</svg>
</body></html>
